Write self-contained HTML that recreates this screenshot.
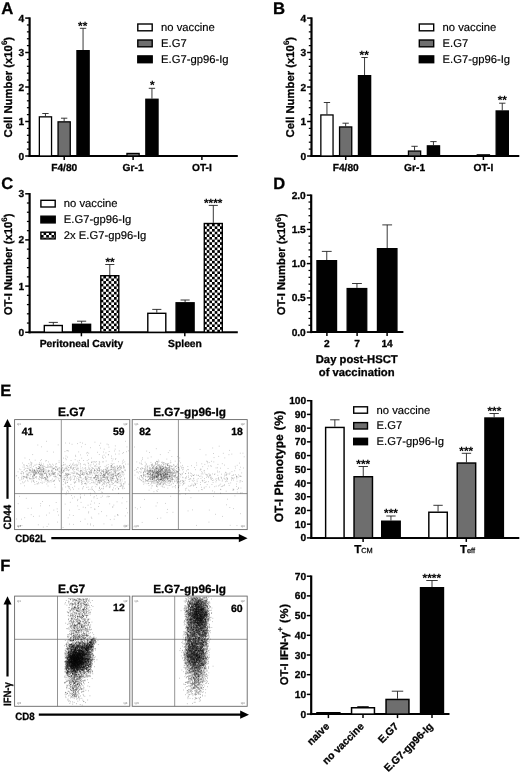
<!DOCTYPE html>
<html><head><meta charset="utf-8"><title>Figure</title>
<style>html,body{margin:0;padding:0;background:#fff;}svg{display:block;will-change:transform;}</style></head>
<body>
<svg width="520" height="772" viewBox="0 0 520 772" font-family='"Liberation Sans", sans-serif' fill="#000" text-rendering="geometricPrecision">
<defs><filter id="bl" x="-5%" y="-5%" width="110%" height="110%"><feGaussianBlur stdDeviation="0.3"/></filter>
<pattern id="chkP" width="5.3" height="5.3" patternUnits="userSpaceOnUse" x="98.05" y="275.85"><rect width="5.3" height="5.3" fill="#fff"/><rect width="2.65" height="2.65" fill="#000"/><rect x="2.65" y="2.65" width="2.65" height="2.65" fill="#000"/></pattern>
<pattern id="chkS" width="5.3" height="5.3" patternUnits="userSpaceOnUse" x="201.45" y="223.7"><rect width="5.3" height="5.3" fill="#fff"/><rect width="2.65" height="2.65" fill="#000"/><rect x="2.65" y="2.65" width="2.65" height="2.65" fill="#000"/></pattern>
<pattern id="chkL" width="5.3" height="5.3" patternUnits="userSpaceOnUse" x="38.25" y="232.4"><rect width="5.3" height="5.3" fill="#fff"/><rect width="2.65" height="2.65" fill="#000"/><rect x="2.65" y="2.65" width="2.65" height="2.65" fill="#000"/></pattern>
</defs>
<rect width="520" height="772" fill="#fff"/>
<g opacity="0.999">
<text x="1.20" y="13.60" font-size="16.7" font-weight="bold" stroke="#000" stroke-width=".3" text-anchor="start">A</text>
<line x1="29.60" y1="17.35" x2="29.60" y2="157.00" stroke="#000" stroke-width="2.2"/>
<line x1="25.20" y1="156.00" x2="29.60" y2="156.00" stroke="#000" stroke-width="1.5"/>
<text x="24.20" y="159.50" font-size="10.2" font-weight="bold" stroke="#000" stroke-width=".3" text-anchor="end">0</text>
<line x1="25.20" y1="121.50" x2="29.60" y2="121.50" stroke="#000" stroke-width="1.5"/>
<text x="24.20" y="125.00" font-size="10.2" font-weight="bold" stroke="#000" stroke-width=".3" text-anchor="end">1</text>
<line x1="25.20" y1="87.00" x2="29.60" y2="87.00" stroke="#000" stroke-width="1.5"/>
<text x="24.20" y="90.50" font-size="10.2" font-weight="bold" stroke="#000" stroke-width=".3" text-anchor="end">2</text>
<line x1="25.20" y1="52.50" x2="29.60" y2="52.50" stroke="#000" stroke-width="1.5"/>
<text x="24.20" y="56.00" font-size="10.2" font-weight="bold" stroke="#000" stroke-width=".3" text-anchor="end">3</text>
<line x1="25.20" y1="18.10" x2="29.60" y2="18.10" stroke="#000" stroke-width="1.5"/>
<text x="24.20" y="21.60" font-size="10.2" font-weight="bold" stroke="#000" stroke-width=".3" text-anchor="end">4</text>
<line x1="26.90" y1="149.10" x2="29.60" y2="149.10" stroke="#000" stroke-width="1.25"/>
<line x1="26.90" y1="142.20" x2="29.60" y2="142.20" stroke="#000" stroke-width="1.25"/>
<line x1="26.90" y1="135.30" x2="29.60" y2="135.30" stroke="#000" stroke-width="1.25"/>
<line x1="26.90" y1="128.40" x2="29.60" y2="128.40" stroke="#000" stroke-width="1.25"/>
<line x1="26.90" y1="114.60" x2="29.60" y2="114.60" stroke="#000" stroke-width="1.25"/>
<line x1="26.90" y1="107.70" x2="29.60" y2="107.70" stroke="#000" stroke-width="1.25"/>
<line x1="26.90" y1="100.80" x2="29.60" y2="100.80" stroke="#000" stroke-width="1.25"/>
<line x1="26.90" y1="93.90" x2="29.60" y2="93.90" stroke="#000" stroke-width="1.25"/>
<line x1="26.90" y1="80.10" x2="29.60" y2="80.10" stroke="#000" stroke-width="1.25"/>
<line x1="26.90" y1="73.20" x2="29.60" y2="73.20" stroke="#000" stroke-width="1.25"/>
<line x1="26.90" y1="66.30" x2="29.60" y2="66.30" stroke="#000" stroke-width="1.25"/>
<line x1="26.90" y1="59.40" x2="29.60" y2="59.40" stroke="#000" stroke-width="1.25"/>
<line x1="26.90" y1="45.62" x2="29.60" y2="45.62" stroke="#000" stroke-width="1.25"/>
<line x1="26.90" y1="38.74" x2="29.60" y2="38.74" stroke="#000" stroke-width="1.25"/>
<line x1="26.90" y1="31.86" x2="29.60" y2="31.86" stroke="#000" stroke-width="1.25"/>
<line x1="26.90" y1="24.98" x2="29.60" y2="24.98" stroke="#000" stroke-width="1.25"/>
<line x1="28.50" y1="156.00" x2="237.80" y2="156.00" stroke="#000" stroke-width="2.0"/>
<line x1="64.20" y1="156.00" x2="64.20" y2="160.00" stroke="#000" stroke-width="1.5"/>
<line x1="133.10" y1="156.00" x2="133.10" y2="160.00" stroke="#000" stroke-width="1.5"/>
<line x1="201.90" y1="156.00" x2="201.90" y2="160.00" stroke="#000" stroke-width="1.5"/>
<text x="64.20" y="170.60" font-size="10.2" font-weight="bold" stroke="#000" stroke-width=".3" text-anchor="middle">F4/80</text>
<text x="133.10" y="170.60" font-size="10.2" font-weight="bold" stroke="#000" stroke-width=".3" text-anchor="middle">Gr-1</text>
<text x="201.90" y="170.60" font-size="10.2" font-weight="bold" stroke="#000" stroke-width=".3" text-anchor="middle">OT-I</text>
<line x1="45.45" y1="116.20" x2="45.45" y2="113.50" stroke="#222" stroke-width="0.9"/>
<line x1="42.28" y1="113.50" x2="48.62" y2="113.50" stroke="#222" stroke-width="0.9"/>
<rect x="39.35" y="116.85" width="12.20" height="39.15" fill="#fff" stroke="#000" stroke-width="1.3"/>
<line x1="64.15" y1="121.20" x2="64.15" y2="118.20" stroke="#222" stroke-width="0.9"/>
<line x1="60.98" y1="118.20" x2="67.32" y2="118.20" stroke="#222" stroke-width="0.9"/>
<rect x="58.05" y="121.85" width="12.20" height="34.15" fill="#6e6e6e" stroke="#000" stroke-width="1.3"/>
<line x1="83.05" y1="50.00" x2="83.05" y2="28.30" stroke="#222" stroke-width="0.9"/>
<line x1="79.88" y1="28.30" x2="86.22" y2="28.30" stroke="#222" stroke-width="0.9"/>
<rect x="76.95" y="50.65" width="12.20" height="105.35" fill="#000" stroke="#000" stroke-width="1.3"/>
<rect x="126.95" y="153.45" width="12.20" height="2.55" fill="#6e6e6e" stroke="#000" stroke-width="1.3"/>
<line x1="151.95" y1="98.60" x2="151.95" y2="88.30" stroke="#222" stroke-width="0.9"/>
<line x1="148.78" y1="88.30" x2="155.12" y2="88.30" stroke="#222" stroke-width="0.9"/>
<rect x="145.85" y="99.25" width="12.20" height="56.75" fill="#000" stroke="#000" stroke-width="1.3"/>
<text x="82.70" y="29.70" font-size="11.8" font-weight="bold" stroke="#000" stroke-width=".1" text-anchor="middle">**</text>
<text x="152.20" y="89.00" font-size="11.8" font-weight="bold" stroke="#000" stroke-width=".1" text-anchor="middle">*</text>
<rect x="137.80" y="24.00" width="14.40" height="6.80" fill="#fff" stroke="#000" stroke-width="1.4"/>
<text x="161.00" y="31.00" font-size="11.25" stroke="#000" stroke-width=".18" text-anchor="start">no vaccine</text>
<rect x="137.80" y="40.00" width="14.40" height="6.80" fill="#6e6e6e" stroke="#000" stroke-width="1.4"/>
<text x="161.00" y="47.00" font-size="11.25" stroke="#000" stroke-width=".18" text-anchor="start">E.G7</text>
<rect x="137.80" y="55.90" width="14.40" height="6.80" fill="#000" stroke="#000" stroke-width="1.4"/>
<text x="161.00" y="62.90" font-size="11.25" stroke="#000" stroke-width=".18" text-anchor="start">E.G7-gp96-Ig</text>
<text x="11.80" y="137.40" font-size="11.3" font-weight="bold" stroke="#000" stroke-width=".3" text-anchor="start" transform="rotate(-90 11.80 137.40)">Cell Number (x10<tspan font-size="8" dy="-4.6" stroke-width=".12">6</tspan><tspan dy="4.6">)</tspan></text>
<text x="273.10" y="13.60" font-size="16.7" font-weight="bold" stroke="#000" stroke-width=".3" text-anchor="start">B</text>
<line x1="311.50" y1="17.35" x2="311.50" y2="157.00" stroke="#000" stroke-width="2.2"/>
<line x1="307.10" y1="156.00" x2="311.50" y2="156.00" stroke="#000" stroke-width="1.5"/>
<text x="306.10" y="159.50" font-size="10.2" font-weight="bold" stroke="#000" stroke-width=".3" text-anchor="end">0</text>
<line x1="307.10" y1="121.50" x2="311.50" y2="121.50" stroke="#000" stroke-width="1.5"/>
<text x="306.10" y="125.00" font-size="10.2" font-weight="bold" stroke="#000" stroke-width=".3" text-anchor="end">1</text>
<line x1="307.10" y1="87.00" x2="311.50" y2="87.00" stroke="#000" stroke-width="1.5"/>
<text x="306.10" y="90.50" font-size="10.2" font-weight="bold" stroke="#000" stroke-width=".3" text-anchor="end">2</text>
<line x1="307.10" y1="52.50" x2="311.50" y2="52.50" stroke="#000" stroke-width="1.5"/>
<text x="306.10" y="56.00" font-size="10.2" font-weight="bold" stroke="#000" stroke-width=".3" text-anchor="end">3</text>
<line x1="307.10" y1="18.10" x2="311.50" y2="18.10" stroke="#000" stroke-width="1.5"/>
<text x="306.10" y="21.60" font-size="10.2" font-weight="bold" stroke="#000" stroke-width=".3" text-anchor="end">4</text>
<line x1="308.80" y1="149.10" x2="311.50" y2="149.10" stroke="#000" stroke-width="1.25"/>
<line x1="308.80" y1="142.20" x2="311.50" y2="142.20" stroke="#000" stroke-width="1.25"/>
<line x1="308.80" y1="135.30" x2="311.50" y2="135.30" stroke="#000" stroke-width="1.25"/>
<line x1="308.80" y1="128.40" x2="311.50" y2="128.40" stroke="#000" stroke-width="1.25"/>
<line x1="308.80" y1="114.60" x2="311.50" y2="114.60" stroke="#000" stroke-width="1.25"/>
<line x1="308.80" y1="107.70" x2="311.50" y2="107.70" stroke="#000" stroke-width="1.25"/>
<line x1="308.80" y1="100.80" x2="311.50" y2="100.80" stroke="#000" stroke-width="1.25"/>
<line x1="308.80" y1="93.90" x2="311.50" y2="93.90" stroke="#000" stroke-width="1.25"/>
<line x1="308.80" y1="80.10" x2="311.50" y2="80.10" stroke="#000" stroke-width="1.25"/>
<line x1="308.80" y1="73.20" x2="311.50" y2="73.20" stroke="#000" stroke-width="1.25"/>
<line x1="308.80" y1="66.30" x2="311.50" y2="66.30" stroke="#000" stroke-width="1.25"/>
<line x1="308.80" y1="59.40" x2="311.50" y2="59.40" stroke="#000" stroke-width="1.25"/>
<line x1="308.80" y1="45.62" x2="311.50" y2="45.62" stroke="#000" stroke-width="1.25"/>
<line x1="308.80" y1="38.74" x2="311.50" y2="38.74" stroke="#000" stroke-width="1.25"/>
<line x1="308.80" y1="31.86" x2="311.50" y2="31.86" stroke="#000" stroke-width="1.25"/>
<line x1="308.80" y1="24.98" x2="311.50" y2="24.98" stroke="#000" stroke-width="1.25"/>
<line x1="310.40" y1="156.00" x2="519.30" y2="156.00" stroke="#000" stroke-width="2.0"/>
<line x1="345.70" y1="156.00" x2="345.70" y2="160.00" stroke="#000" stroke-width="1.5"/>
<line x1="414.60" y1="156.00" x2="414.60" y2="160.00" stroke="#000" stroke-width="1.5"/>
<line x1="483.40" y1="156.00" x2="483.40" y2="160.00" stroke="#000" stroke-width="1.5"/>
<text x="345.70" y="170.60" font-size="10.2" font-weight="bold" stroke="#000" stroke-width=".3" text-anchor="middle">F4/80</text>
<text x="414.60" y="170.60" font-size="10.2" font-weight="bold" stroke="#000" stroke-width=".3" text-anchor="middle">Gr-1</text>
<text x="483.40" y="170.60" font-size="10.2" font-weight="bold" stroke="#000" stroke-width=".3" text-anchor="middle">OT-I</text>
<line x1="326.95" y1="114.30" x2="326.95" y2="102.50" stroke="#222" stroke-width="0.9"/>
<line x1="323.78" y1="102.50" x2="330.12" y2="102.50" stroke="#222" stroke-width="0.9"/>
<rect x="320.85" y="114.95" width="12.20" height="41.05" fill="#fff" stroke="#000" stroke-width="1.3"/>
<line x1="345.65" y1="126.30" x2="345.65" y2="123.20" stroke="#222" stroke-width="0.9"/>
<line x1="342.48" y1="123.20" x2="348.82" y2="123.20" stroke="#222" stroke-width="0.9"/>
<rect x="339.55" y="126.95" width="12.20" height="29.05" fill="#6e6e6e" stroke="#000" stroke-width="1.3"/>
<line x1="364.55" y1="75.00" x2="364.55" y2="57.50" stroke="#222" stroke-width="0.9"/>
<line x1="361.38" y1="57.50" x2="367.72" y2="57.50" stroke="#222" stroke-width="0.9"/>
<rect x="358.45" y="75.65" width="12.20" height="80.35" fill="#000" stroke="#000" stroke-width="1.3"/>
<line x1="414.55" y1="150.40" x2="414.55" y2="146.30" stroke="#222" stroke-width="0.9"/>
<line x1="411.38" y1="146.30" x2="417.72" y2="146.30" stroke="#222" stroke-width="0.9"/>
<rect x="408.45" y="151.05" width="12.20" height="4.95" fill="#6e6e6e" stroke="#000" stroke-width="1.3"/>
<line x1="433.45" y1="145.20" x2="433.45" y2="141.60" stroke="#222" stroke-width="0.9"/>
<line x1="430.28" y1="141.60" x2="436.62" y2="141.60" stroke="#222" stroke-width="0.9"/>
<rect x="427.35" y="145.85" width="12.20" height="10.15" fill="#000" stroke="#000" stroke-width="1.3"/>
<rect x="477.25" y="154.85" width="12.20" height="1.15" fill="#6e6e6e" stroke="#000" stroke-width="1.3"/>
<line x1="502.25" y1="110.30" x2="502.25" y2="103.20" stroke="#222" stroke-width="0.9"/>
<line x1="499.08" y1="103.20" x2="505.42" y2="103.20" stroke="#222" stroke-width="0.9"/>
<rect x="496.15" y="110.95" width="12.20" height="45.05" fill="#000" stroke="#000" stroke-width="1.3"/>
<text x="364.20" y="58.70" font-size="11.8" font-weight="bold" stroke="#000" stroke-width=".1" text-anchor="middle">**</text>
<text x="502.30" y="103.90" font-size="11.8" font-weight="bold" stroke="#000" stroke-width=".1" text-anchor="middle">**</text>
<rect x="419.30" y="24.00" width="14.40" height="6.80" fill="#fff" stroke="#000" stroke-width="1.4"/>
<text x="442.50" y="31.00" font-size="11.25" stroke="#000" stroke-width=".18" text-anchor="start">no vaccine</text>
<rect x="419.30" y="40.00" width="14.40" height="6.80" fill="#6e6e6e" stroke="#000" stroke-width="1.4"/>
<text x="442.50" y="47.00" font-size="11.25" stroke="#000" stroke-width=".18" text-anchor="start">E.G7</text>
<rect x="419.30" y="55.90" width="14.40" height="6.80" fill="#000" stroke="#000" stroke-width="1.4"/>
<text x="442.50" y="62.90" font-size="11.25" stroke="#000" stroke-width=".18" text-anchor="start">E.G7-gp96-Ig</text>
<text x="293.90" y="137.40" font-size="11.3" font-weight="bold" stroke="#000" stroke-width=".3" text-anchor="start" transform="rotate(-90 293.90 137.40)">Cell Number (x10<tspan font-size="8" dy="-4.6" stroke-width=".12">6</tspan><tspan dy="4.6">)</tspan></text>
<text x="1.30" y="189.40" font-size="16.5" font-weight="bold" stroke="#000" stroke-width=".3" text-anchor="start">C</text>
<line x1="29.60" y1="193.05" x2="29.60" y2="333.30" stroke="#000" stroke-width="2.2"/>
<line x1="25.20" y1="332.30" x2="29.60" y2="332.30" stroke="#000" stroke-width="1.5"/>
<text x="24.20" y="335.80" font-size="10.2" font-weight="bold" stroke="#000" stroke-width=".3" text-anchor="end">0</text>
<line x1="25.20" y1="286.10" x2="29.60" y2="286.10" stroke="#000" stroke-width="1.5"/>
<text x="24.20" y="289.60" font-size="10.2" font-weight="bold" stroke="#000" stroke-width=".3" text-anchor="end">1</text>
<line x1="25.20" y1="239.90" x2="29.60" y2="239.90" stroke="#000" stroke-width="1.5"/>
<text x="24.20" y="243.40" font-size="10.2" font-weight="bold" stroke="#000" stroke-width=".3" text-anchor="end">2</text>
<line x1="25.20" y1="193.80" x2="29.60" y2="193.80" stroke="#000" stroke-width="1.5"/>
<text x="24.20" y="197.30" font-size="10.2" font-weight="bold" stroke="#000" stroke-width=".3" text-anchor="end">3</text>
<line x1="26.90" y1="323.06" x2="29.60" y2="323.06" stroke="#000" stroke-width="1.25"/>
<line x1="26.90" y1="313.82" x2="29.60" y2="313.82" stroke="#000" stroke-width="1.25"/>
<line x1="26.90" y1="304.58" x2="29.60" y2="304.58" stroke="#000" stroke-width="1.25"/>
<line x1="26.90" y1="295.34" x2="29.60" y2="295.34" stroke="#000" stroke-width="1.25"/>
<line x1="26.90" y1="276.86" x2="29.60" y2="276.86" stroke="#000" stroke-width="1.25"/>
<line x1="26.90" y1="267.62" x2="29.60" y2="267.62" stroke="#000" stroke-width="1.25"/>
<line x1="26.90" y1="258.38" x2="29.60" y2="258.38" stroke="#000" stroke-width="1.25"/>
<line x1="26.90" y1="249.14" x2="29.60" y2="249.14" stroke="#000" stroke-width="1.25"/>
<line x1="26.90" y1="230.68" x2="29.60" y2="230.68" stroke="#000" stroke-width="1.25"/>
<line x1="26.90" y1="221.46" x2="29.60" y2="221.46" stroke="#000" stroke-width="1.25"/>
<line x1="26.90" y1="212.24" x2="29.60" y2="212.24" stroke="#000" stroke-width="1.25"/>
<line x1="26.90" y1="203.02" x2="29.60" y2="203.02" stroke="#000" stroke-width="1.25"/>
<line x1="28.50" y1="332.30" x2="237.80" y2="332.30" stroke="#000" stroke-width="2.0"/>
<line x1="81.40" y1="332.30" x2="81.40" y2="336.30" stroke="#000" stroke-width="1.5"/>
<line x1="184.80" y1="332.30" x2="184.80" y2="336.30" stroke="#000" stroke-width="1.5"/>
<text x="81.50" y="347.00" font-size="10.3" font-weight="bold" stroke="#000" stroke-width=".3" text-anchor="middle">Peritoneal Cavity</text>
<text x="185.00" y="347.00" font-size="10.3" font-weight="bold" stroke="#000" stroke-width=".3" text-anchor="middle">Spleen</text>
<line x1="53.30" y1="324.80" x2="53.30" y2="322.40" stroke="#222" stroke-width="0.9"/>
<line x1="48.74" y1="322.40" x2="57.86" y2="322.40" stroke="#222" stroke-width="0.9"/>
<rect x="44.30" y="325.50" width="18.00" height="6.80" fill="#fff" stroke="#000" stroke-width="1.4"/>
<line x1="81.60" y1="323.60" x2="81.60" y2="321.20" stroke="#222" stroke-width="0.9"/>
<line x1="77.04" y1="321.20" x2="86.16" y2="321.20" stroke="#222" stroke-width="0.9"/>
<rect x="72.60" y="324.30" width="18.00" height="8.00" fill="#000" stroke="#000" stroke-width="1.4"/>
<line x1="109.80" y1="275.00" x2="109.80" y2="264.50" stroke="#222" stroke-width="0.9"/>
<line x1="105.24" y1="264.50" x2="114.36" y2="264.50" stroke="#222" stroke-width="0.9"/>
<rect x="100.80" y="275.70" width="18.00" height="56.60" fill="url(#chkP)" stroke="#000" stroke-width="1.4"/>
<line x1="156.80" y1="312.60" x2="156.80" y2="309.40" stroke="#222" stroke-width="0.9"/>
<line x1="152.24" y1="309.40" x2="161.36" y2="309.40" stroke="#222" stroke-width="0.9"/>
<rect x="147.80" y="313.30" width="18.00" height="19.00" fill="#fff" stroke="#000" stroke-width="1.4"/>
<line x1="185.10" y1="302.10" x2="185.10" y2="300.00" stroke="#222" stroke-width="0.9"/>
<line x1="180.54" y1="300.00" x2="189.66" y2="300.00" stroke="#222" stroke-width="0.9"/>
<rect x="176.10" y="302.80" width="18.00" height="29.50" fill="#000" stroke="#000" stroke-width="1.4"/>
<line x1="213.30" y1="222.80" x2="213.30" y2="205.40" stroke="#222" stroke-width="0.9"/>
<line x1="208.74" y1="205.40" x2="217.86" y2="205.40" stroke="#222" stroke-width="0.9"/>
<rect x="204.30" y="223.50" width="18.00" height="108.80" fill="url(#chkS)" stroke="#000" stroke-width="1.4"/>
<text x="110.00" y="265.90" font-size="11.8" font-weight="bold" stroke="#000" stroke-width=".1" text-anchor="middle">**</text>
<text x="213.20" y="207.10" font-size="11.8" font-weight="bold" stroke="#000" stroke-width=".1" text-anchor="middle">****</text>
<rect x="40.90" y="200.30" width="14.30" height="6.70" fill="#fff" stroke="#000" stroke-width="1.4"/>
<text x="63.80" y="207.30" font-size="11.25" stroke="#000" stroke-width=".18" text-anchor="start">no vaccine</text>
<rect x="40.90" y="216.20" width="14.30" height="6.70" fill="#000" stroke="#000" stroke-width="1.4"/>
<text x="63.80" y="223.20" font-size="11.25" stroke="#000" stroke-width=".18" text-anchor="start">E.G7-gp96-Ig</text>
<rect x="40.90" y="232.20" width="14.30" height="6.70" fill="url(#chkL)" stroke="#000" stroke-width="1.4"/>
<text x="63.80" y="239.20" font-size="11.25" stroke="#000" stroke-width=".18" text-anchor="start">2x E.G7-gp96-Ig</text>
<text x="12.00" y="315.20" font-size="11.3" font-weight="bold" stroke="#000" stroke-width=".3" text-anchor="start" transform="rotate(-90 12.00 315.20)">OT-I Number (x10<tspan font-size="8" dy="-4.6" stroke-width=".12">6</tspan><tspan dy="4.6">)</tspan></text>
<text x="273.20" y="189.40" font-size="16.5" font-weight="bold" stroke="#000" stroke-width=".3" text-anchor="start">D</text>
<line x1="311.20" y1="194.45" x2="311.20" y2="333.10" stroke="#000" stroke-width="2.2"/>
<line x1="306.80" y1="332.10" x2="311.20" y2="332.10" stroke="#000" stroke-width="1.5"/>
<text x="305.80" y="335.60" font-size="10.2" font-weight="bold" stroke="#000" stroke-width=".3" text-anchor="end">0.0</text>
<line x1="306.80" y1="297.90" x2="311.20" y2="297.90" stroke="#000" stroke-width="1.5"/>
<text x="305.80" y="301.40" font-size="10.2" font-weight="bold" stroke="#000" stroke-width=".3" text-anchor="end">0.5</text>
<line x1="306.80" y1="263.60" x2="311.20" y2="263.60" stroke="#000" stroke-width="1.5"/>
<text x="305.80" y="267.10" font-size="10.2" font-weight="bold" stroke="#000" stroke-width=".3" text-anchor="end">1.0</text>
<line x1="306.80" y1="229.40" x2="311.20" y2="229.40" stroke="#000" stroke-width="1.5"/>
<text x="305.80" y="232.90" font-size="10.2" font-weight="bold" stroke="#000" stroke-width=".3" text-anchor="end">1.5</text>
<line x1="306.80" y1="195.20" x2="311.20" y2="195.20" stroke="#000" stroke-width="1.5"/>
<text x="305.80" y="198.70" font-size="10.2" font-weight="bold" stroke="#000" stroke-width=".3" text-anchor="end">2.0</text>
<line x1="308.50" y1="325.26" x2="311.20" y2="325.26" stroke="#000" stroke-width="1.25"/>
<line x1="308.50" y1="318.42" x2="311.20" y2="318.42" stroke="#000" stroke-width="1.25"/>
<line x1="308.50" y1="311.58" x2="311.20" y2="311.58" stroke="#000" stroke-width="1.25"/>
<line x1="308.50" y1="304.74" x2="311.20" y2="304.74" stroke="#000" stroke-width="1.25"/>
<line x1="308.50" y1="291.04" x2="311.20" y2="291.04" stroke="#000" stroke-width="1.25"/>
<line x1="308.50" y1="284.18" x2="311.20" y2="284.18" stroke="#000" stroke-width="1.25"/>
<line x1="308.50" y1="277.32" x2="311.20" y2="277.32" stroke="#000" stroke-width="1.25"/>
<line x1="308.50" y1="270.46" x2="311.20" y2="270.46" stroke="#000" stroke-width="1.25"/>
<line x1="308.50" y1="256.76" x2="311.20" y2="256.76" stroke="#000" stroke-width="1.25"/>
<line x1="308.50" y1="249.92" x2="311.20" y2="249.92" stroke="#000" stroke-width="1.25"/>
<line x1="308.50" y1="243.08" x2="311.20" y2="243.08" stroke="#000" stroke-width="1.25"/>
<line x1="308.50" y1="236.24" x2="311.20" y2="236.24" stroke="#000" stroke-width="1.25"/>
<line x1="308.50" y1="222.56" x2="311.20" y2="222.56" stroke="#000" stroke-width="1.25"/>
<line x1="308.50" y1="215.72" x2="311.20" y2="215.72" stroke="#000" stroke-width="1.25"/>
<line x1="308.50" y1="208.88" x2="311.20" y2="208.88" stroke="#000" stroke-width="1.25"/>
<line x1="308.50" y1="202.04" x2="311.20" y2="202.04" stroke="#000" stroke-width="1.25"/>
<line x1="310.10" y1="332.10" x2="403.40" y2="332.10" stroke="#000" stroke-width="2.0"/>
<line x1="326.90" y1="332.10" x2="326.90" y2="336.10" stroke="#000" stroke-width="1.5"/>
<line x1="357.10" y1="332.10" x2="357.10" y2="336.10" stroke="#000" stroke-width="1.5"/>
<line x1="387.10" y1="332.10" x2="387.10" y2="336.10" stroke="#000" stroke-width="1.5"/>
<text x="326.90" y="347.40" font-size="10.2" font-weight="bold" stroke="#000" stroke-width=".3" text-anchor="middle">2</text>
<text x="357.10" y="347.40" font-size="10.2" font-weight="bold" stroke="#000" stroke-width=".3" text-anchor="middle">7</text>
<text x="387.10" y="347.40" font-size="10.2" font-weight="bold" stroke="#000" stroke-width=".3" text-anchor="middle">14</text>
<line x1="326.75" y1="260.00" x2="326.75" y2="251.40" stroke="#222" stroke-width="0.9"/>
<line x1="321.84" y1="251.40" x2="331.66" y2="251.40" stroke="#222" stroke-width="0.9"/>
<rect x="316.95" y="260.65" width="19.60" height="71.45" fill="#000" stroke="#000" stroke-width="1.3"/>
<line x1="356.95" y1="287.90" x2="356.95" y2="283.50" stroke="#222" stroke-width="0.9"/>
<line x1="352.04" y1="283.50" x2="361.86" y2="283.50" stroke="#222" stroke-width="0.9"/>
<rect x="347.15" y="288.55" width="19.60" height="43.55" fill="#000" stroke="#000" stroke-width="1.3"/>
<line x1="387.20" y1="248.00" x2="387.20" y2="224.90" stroke="#222" stroke-width="0.9"/>
<line x1="382.31" y1="224.90" x2="392.09" y2="224.90" stroke="#222" stroke-width="0.9"/>
<rect x="377.45" y="248.65" width="19.50" height="83.45" fill="#000" stroke="#000" stroke-width="1.3"/>
<text x="356.70" y="363.40" font-size="11.25" font-weight="bold" stroke="#000" stroke-width=".3" text-anchor="middle">Day post-HSCT</text>
<text x="356.70" y="376.30" font-size="11.25" font-weight="bold" stroke="#000" stroke-width=".3" text-anchor="middle">of vaccination</text>
<text x="285.50" y="315.20" font-size="11.3" font-weight="bold" stroke="#000" stroke-width=".3" text-anchor="start" transform="rotate(-90 285.50 315.20)">OT-I Number (x10<tspan font-size="8" dy="-4.6" stroke-width=".12">6</tspan><tspan dy="4.6">)</tspan></text>
<line x1="311.30" y1="400.00" x2="311.30" y2="538.90" stroke="#000" stroke-width="2.2"/>
<line x1="306.90" y1="537.90" x2="311.30" y2="537.90" stroke="#000" stroke-width="1.5"/>
<text x="306.20" y="541.40" font-size="10.2" font-weight="bold" stroke="#000" stroke-width=".3" text-anchor="end">0</text>
<line x1="306.90" y1="524.18" x2="311.30" y2="524.18" stroke="#000" stroke-width="1.5"/>
<text x="306.20" y="527.68" font-size="10.2" font-weight="bold" stroke="#000" stroke-width=".3" text-anchor="end">10</text>
<line x1="306.90" y1="510.46" x2="311.30" y2="510.46" stroke="#000" stroke-width="1.5"/>
<text x="306.20" y="513.96" font-size="10.2" font-weight="bold" stroke="#000" stroke-width=".3" text-anchor="end">20</text>
<line x1="306.90" y1="496.74" x2="311.30" y2="496.74" stroke="#000" stroke-width="1.5"/>
<text x="306.20" y="500.24" font-size="10.2" font-weight="bold" stroke="#000" stroke-width=".3" text-anchor="end">30</text>
<line x1="306.90" y1="483.02" x2="311.30" y2="483.02" stroke="#000" stroke-width="1.5"/>
<text x="306.20" y="486.52" font-size="10.2" font-weight="bold" stroke="#000" stroke-width=".3" text-anchor="end">40</text>
<line x1="306.90" y1="469.30" x2="311.30" y2="469.30" stroke="#000" stroke-width="1.5"/>
<text x="306.20" y="472.80" font-size="10.2" font-weight="bold" stroke="#000" stroke-width=".3" text-anchor="end">50</text>
<line x1="306.90" y1="455.58" x2="311.30" y2="455.58" stroke="#000" stroke-width="1.5"/>
<text x="306.20" y="459.08" font-size="10.2" font-weight="bold" stroke="#000" stroke-width=".3" text-anchor="end">60</text>
<line x1="306.90" y1="441.86" x2="311.30" y2="441.86" stroke="#000" stroke-width="1.5"/>
<text x="306.20" y="445.36" font-size="10.2" font-weight="bold" stroke="#000" stroke-width=".3" text-anchor="end">70</text>
<line x1="306.90" y1="428.14" x2="311.30" y2="428.14" stroke="#000" stroke-width="1.5"/>
<text x="306.20" y="431.64" font-size="10.2" font-weight="bold" stroke="#000" stroke-width=".3" text-anchor="end">80</text>
<line x1="306.90" y1="414.42" x2="311.30" y2="414.42" stroke="#000" stroke-width="1.5"/>
<text x="306.20" y="417.92" font-size="10.2" font-weight="bold" stroke="#000" stroke-width=".3" text-anchor="end">90</text>
<line x1="306.90" y1="400.70" x2="311.30" y2="400.70" stroke="#000" stroke-width="1.5"/>
<text x="306.20" y="404.20" font-size="10.2" font-weight="bold" stroke="#000" stroke-width=".3" text-anchor="end">100</text>
<line x1="310.20" y1="537.90" x2="519.30" y2="537.90" stroke="#000" stroke-width="2.0"/>
<line x1="363.10" y1="537.90" x2="363.10" y2="541.90" stroke="#000" stroke-width="1.5"/>
<line x1="466.30" y1="537.90" x2="466.30" y2="541.90" stroke="#000" stroke-width="1.5"/>
<line x1="334.85" y1="426.70" x2="334.85" y2="419.80" stroke="#222" stroke-width="0.9"/>
<line x1="330.17" y1="419.80" x2="339.53" y2="419.80" stroke="#222" stroke-width="0.9"/>
<rect x="325.63" y="427.43" width="18.45" height="110.47" fill="#fff" stroke="#000" stroke-width="1.45"/>
<line x1="363.25" y1="476.00" x2="363.25" y2="466.50" stroke="#222" stroke-width="0.9"/>
<line x1="358.57" y1="466.50" x2="367.93" y2="466.50" stroke="#222" stroke-width="0.9"/>
<rect x="354.03" y="476.73" width="18.45" height="61.17" fill="#6e6e6e" stroke="#000" stroke-width="1.45"/>
<line x1="390.95" y1="520.50" x2="390.95" y2="516.00" stroke="#222" stroke-width="0.9"/>
<line x1="386.27" y1="516.00" x2="395.63" y2="516.00" stroke="#222" stroke-width="0.9"/>
<rect x="381.73" y="521.23" width="18.45" height="16.67" fill="#000" stroke="#000" stroke-width="1.45"/>
<line x1="438.05" y1="511.50" x2="438.05" y2="505.30" stroke="#222" stroke-width="0.9"/>
<line x1="433.37" y1="505.30" x2="442.73" y2="505.30" stroke="#222" stroke-width="0.9"/>
<rect x="428.83" y="512.23" width="18.45" height="25.67" fill="#fff" stroke="#000" stroke-width="1.45"/>
<line x1="466.45" y1="462.30" x2="466.45" y2="453.30" stroke="#222" stroke-width="0.9"/>
<line x1="461.77" y1="453.30" x2="471.13" y2="453.30" stroke="#222" stroke-width="0.9"/>
<rect x="457.23" y="463.03" width="18.45" height="74.87" fill="#6e6e6e" stroke="#000" stroke-width="1.45"/>
<line x1="494.15" y1="417.30" x2="494.15" y2="413.50" stroke="#222" stroke-width="0.9"/>
<line x1="489.47" y1="413.50" x2="498.83" y2="413.50" stroke="#222" stroke-width="0.9"/>
<rect x="484.93" y="418.03" width="18.45" height="119.87" fill="#000" stroke="#000" stroke-width="1.45"/>
<text x="363.20" y="467.70" font-size="11.8" font-weight="bold" stroke="#000" stroke-width=".1" text-anchor="middle">***</text>
<text x="391.00" y="517.00" font-size="11.8" font-weight="bold" stroke="#000" stroke-width=".1" text-anchor="middle">***</text>
<text x="466.20" y="454.50" font-size="11.8" font-weight="bold" stroke="#000" stroke-width=".1" text-anchor="middle">***</text>
<text x="494.40" y="415.00" font-size="11.8" font-weight="bold" stroke="#000" stroke-width=".1" text-anchor="middle">***</text>
<rect x="353.70" y="406.80" width="13.80" height="6.40" fill="#fff" stroke="#000" stroke-width="1.4"/>
<text x="376.50" y="413.60" font-size="11.25" stroke="#000" stroke-width=".18" text-anchor="start">no vaccine</text>
<rect x="353.70" y="422.60" width="13.80" height="6.40" fill="#6e6e6e" stroke="#000" stroke-width="1.4"/>
<text x="376.50" y="429.40" font-size="11.25" stroke="#000" stroke-width=".18" text-anchor="start">E.G7</text>
<rect x="353.70" y="438.30" width="13.80" height="6.40" fill="#000" stroke="#000" stroke-width="1.4"/>
<text x="376.50" y="445.10" font-size="11.25" stroke="#000" stroke-width=".18" text-anchor="start">E.G7-gp96-Ig</text>
<text x="354.20" y="553.30" font-size="11.5" font-weight="bold" stroke="#000" stroke-width=".3" text-anchor="start">T<tspan font-size="7.4" font-weight="normal" stroke="#000" stroke-width="0.25">CM</tspan></text>
<text x="459.90" y="553.30" font-size="11.5" font-weight="bold" stroke="#000" stroke-width=".3" text-anchor="start">T<tspan font-size="7.4" font-weight="normal" stroke="#000" stroke-width="0.25">eff</tspan></text>
<text x="282.90" y="522.20" font-size="12.0" font-weight="bold" stroke="#000" stroke-width=".3" text-anchor="start" transform="rotate(-90 282.90 522.20)">OT-I Phenotype<tspan letter-spacing="0.5"> (%)</tspan></text>
<line x1="311.20" y1="575.45" x2="311.20" y2="715.10" stroke="#000" stroke-width="2.2"/>
<line x1="306.80" y1="714.10" x2="311.20" y2="714.10" stroke="#000" stroke-width="1.5"/>
<text x="306.20" y="717.60" font-size="10.2" font-weight="bold" stroke="#000" stroke-width=".3" text-anchor="end">0</text>
<line x1="306.80" y1="694.40" x2="311.20" y2="694.40" stroke="#000" stroke-width="1.5"/>
<text x="306.20" y="697.90" font-size="10.2" font-weight="bold" stroke="#000" stroke-width=".3" text-anchor="end">10</text>
<line x1="306.80" y1="674.70" x2="311.20" y2="674.70" stroke="#000" stroke-width="1.5"/>
<text x="306.20" y="678.20" font-size="10.2" font-weight="bold" stroke="#000" stroke-width=".3" text-anchor="end">20</text>
<line x1="306.80" y1="655.00" x2="311.20" y2="655.00" stroke="#000" stroke-width="1.5"/>
<text x="306.20" y="658.50" font-size="10.2" font-weight="bold" stroke="#000" stroke-width=".3" text-anchor="end">30</text>
<line x1="306.80" y1="635.30" x2="311.20" y2="635.30" stroke="#000" stroke-width="1.5"/>
<text x="306.20" y="638.80" font-size="10.2" font-weight="bold" stroke="#000" stroke-width=".3" text-anchor="end">40</text>
<line x1="306.80" y1="615.60" x2="311.20" y2="615.60" stroke="#000" stroke-width="1.5"/>
<text x="306.20" y="619.10" font-size="10.2" font-weight="bold" stroke="#000" stroke-width=".3" text-anchor="end">50</text>
<line x1="306.80" y1="595.90" x2="311.20" y2="595.90" stroke="#000" stroke-width="1.5"/>
<text x="306.20" y="599.40" font-size="10.2" font-weight="bold" stroke="#000" stroke-width=".3" text-anchor="end">60</text>
<line x1="306.80" y1="576.20" x2="311.20" y2="576.20" stroke="#000" stroke-width="1.5"/>
<text x="306.20" y="579.70" font-size="10.2" font-weight="bold" stroke="#000" stroke-width=".3" text-anchor="end">70</text>
<line x1="310.10" y1="714.10" x2="449.50" y2="714.10" stroke="#000" stroke-width="2.0"/>
<line x1="328.40" y1="714.10" x2="328.40" y2="718.10" stroke="#000" stroke-width="1.5"/>
<line x1="363.00" y1="714.10" x2="363.00" y2="718.10" stroke="#000" stroke-width="1.5"/>
<line x1="397.50" y1="714.10" x2="397.50" y2="718.10" stroke="#000" stroke-width="1.5"/>
<line x1="432.00" y1="714.10" x2="432.00" y2="718.10" stroke="#000" stroke-width="1.5"/>
<rect x="316.95" y="712.75" width="22.90" height="1.35" fill="#000" stroke="#000" stroke-width="1.5"/>
<line x1="363.00" y1="707.00" x2="363.00" y2="706.50" stroke="#222" stroke-width="0.9"/>
<line x1="357.27" y1="706.50" x2="368.73" y2="706.50" stroke="#222" stroke-width="0.9"/>
<rect x="351.55" y="707.75" width="22.90" height="6.35" fill="#fff" stroke="#000" stroke-width="1.5"/>
<line x1="397.50" y1="698.70" x2="397.50" y2="691.20" stroke="#222" stroke-width="0.9"/>
<line x1="391.77" y1="691.20" x2="403.23" y2="691.20" stroke="#222" stroke-width="0.9"/>
<rect x="386.05" y="699.45" width="22.90" height="14.65" fill="#6e6e6e" stroke="#000" stroke-width="1.5"/>
<line x1="432.00" y1="587.00" x2="432.00" y2="580.50" stroke="#222" stroke-width="0.9"/>
<line x1="426.27" y1="580.50" x2="437.73" y2="580.50" stroke="#222" stroke-width="0.9"/>
<rect x="420.55" y="587.75" width="22.90" height="126.35" fill="#000" stroke="#000" stroke-width="1.5"/>
<text x="431.80" y="582.00" font-size="11.8" font-weight="bold" stroke="#000" stroke-width=".1" text-anchor="middle">****</text>
<text x="330.00" y="727.00" font-size="10.4" font-weight="bold" stroke="#000" stroke-width=".3" text-anchor="end" transform="rotate(-45 330.00 727.00)">naive</text>
<text x="364.60" y="727.00" font-size="10.4" font-weight="bold" stroke="#000" stroke-width=".3" text-anchor="end" transform="rotate(-45 364.60 727.00)">no vaccine</text>
<text x="399.10" y="727.00" font-size="10.4" font-weight="bold" stroke="#000" stroke-width=".3" text-anchor="end" transform="rotate(-45 399.10 727.00)">E.G7</text>
<text x="433.60" y="727.00" font-size="10.4" font-weight="bold" stroke="#000" stroke-width=".3" text-anchor="end" transform="rotate(-45 433.60 727.00)">E.G7-gp96-Ig</text>
<text x="287.90" y="685.20" font-size="11.3" font-weight="bold" stroke="#000" stroke-width=".3" text-anchor="start" transform="rotate(-90 287.90 685.20)">OT-I IFN-&#947;<tspan font-size="8.5" dy="-4.4" stroke-width=".12">+</tspan><tspan dy="4.4" letter-spacing="0.7"> (%)</tspan></text>
<text x="0.20" y="396.20" font-size="16.5" font-weight="bold" stroke="#000" stroke-width=".3" text-anchor="start">E</text>
<rect x="14.60" y="419.60" width="115.20" height="110.00" fill="#fff" stroke="#666" stroke-width="0.9"/>
<line x1="61.30" y1="419.60" x2="61.30" y2="529.60" stroke="#707070" stroke-width="0.75"/>
<line x1="14.60" y1="493.60" x2="129.80" y2="493.60" stroke="#707070" stroke-width="0.75"/>
<text x="17.00" y="425.00" font-size="3" fill="#777" text-anchor="start">Q1</text>
<text x="127.40" y="425.00" font-size="3" fill="#777" text-anchor="end">Q2</text>
<text x="17.00" y="527.40" font-size="3" fill="#777" text-anchor="start">Q3</text>
<text x="127.40" y="527.40" font-size="3" fill="#777" text-anchor="end">Q4</text>
<rect x="132.20" y="419.60" width="115.00" height="110.00" fill="#fff" stroke="#666" stroke-width="0.9"/>
<line x1="178.40" y1="419.60" x2="178.40" y2="529.60" stroke="#707070" stroke-width="0.75"/>
<line x1="132.20" y1="493.60" x2="247.20" y2="493.60" stroke="#707070" stroke-width="0.75"/>
<text x="134.60" y="425.00" font-size="3" fill="#777" text-anchor="start">Q1</text>
<text x="244.80" y="425.00" font-size="3" fill="#777" text-anchor="end">Q2</text>
<text x="134.60" y="527.40" font-size="3" fill="#777" text-anchor="start">Q3</text>
<text x="244.80" y="527.40" font-size="3" fill="#777" text-anchor="end">Q4</text>
<text x="71.60" y="416.30" font-size="12" font-weight="bold" stroke="#000" stroke-width=".3" text-anchor="middle">E.G7</text>
<text x="189.60" y="416.30" font-size="11.8" font-weight="bold" stroke="#000" stroke-width=".3" text-anchor="middle">E.G7-gp96-Ig</text>
<text x="21.80" y="434.70" font-size="10.4" font-weight="bold" stroke="#000" stroke-width=".3" text-anchor="start">41</text>
<text x="124.60" y="434.70" font-size="10.4" font-weight="bold" stroke="#000" stroke-width=".3" text-anchor="end">59</text>
<text x="139.20" y="434.70" font-size="10.4" font-weight="bold" stroke="#000" stroke-width=".3" text-anchor="start">82</text>
<text x="242.80" y="434.70" font-size="10.4" font-weight="bold" stroke="#000" stroke-width=".3" text-anchor="end">18</text>
<line x1="7.50" y1="423.90" x2="7.50" y2="498.80" stroke="#000" stroke-width="2.2"/>
<path d="M7.50 418.90 L11.50 427.10 L3.50 427.10Z" fill="#000"/>
<text x="0" y="0" font-size="10.6" font-weight="bold" stroke="#000" stroke-width=".3" text-anchor="start" transform="translate(11.30 529.40) rotate(-90) scale(0.9 1)">CD44</text>
<text x="0" y="0" font-size="10.6" font-weight="bold" stroke="#000" stroke-width=".3" text-anchor="start" transform="translate(15.20 542.30) scale(0.92 1)">CD62L</text>
<line x1="51.30" y1="538.20" x2="242.60" y2="538.20" stroke="#000" stroke-width="2.2"/>
<path d="M247.60 538.20 L238.80 534.10 L238.80 542.30Z" fill="#000"/>
<path d="M85.0 476.7h.7M113.3 469.3h.7M100.7 475.9h.7M43.4 468.2h.7M51.2 466.8h.7M110.8 463.4h.7M20.5 483.7h.7M105.4 471.7h.7M102.9 474.8h.7M68.7 473.3h.7M51.5 474.4h.7M49.0 473.8h.7M46.5 484.0h.7M66.3 467.8h.7M72.5 464.9h.7M77.6 467.9h.7M123.5 466.2h.7M102.4 477.6h.7M84.7 478.0h.7M122.9 468.2h.7M42.4 465.9h.7M36.7 471.5h.7M83.7 481.2h.7M24.6 458.0h.7M23.7 476.4h.7M73.5 467.6h.7M68.5 479.2h.7M115.4 467.6h.7M85.4 471.9h.7M73.5 465.2h.7M71.7 468.1h.7M45.7 481.1h.7M21.2 478.0h.7M40.0 471.3h.7M92.0 468.7h.7M40.9 463.1h.7M58.4 471.3h.7M20.4 473.3h.7M106.3 473.0h.7M36.1 473.0h.7M47.8 467.3h.7M111.6 473.1h.7M73.0 473.3h.7M108.1 480.6h.7M86.5 483.8h.7M97.1 472.7h.7M29.5 469.3h.7M76.3 473.1h.7M72.8 470.2h.7M110.6 469.4h.7M57.6 473.2h.7M82.2 467.8h.7M26.2 476.8h.7M60.3 472.9h.7M53.6 474.9h.7M35.6 472.5h.7M104.9 469.5h.7M59.5 468.3h.7M121.8 472.2h.7M81.4 470.5h.7M82.9 474.8h.7M86.4 473.5h.7M90.4 466.0h.7M35.7 473.9h.7M65.8 466.1h.7M44.9 470.1h.7M61.9 471.9h.7M30.1 462.1h.7M120.7 474.0h.7M42.4 474.3h.7M89.9 472.6h.7M51.2 471.2h.7M110.9 471.4h.7M88.9 468.1h.7M33.7 472.0h.7M107.9 470.5h.7M118.3 474.0h.7M114.0 466.9h.7M79.3 474.8h.7M35.1 474.3h.7M40.0 472.7h.7M116.5 471.1h.7M77.4 476.5h.7M38.8 464.3h.7M111.9 476.0h.7M86.7 474.8h.7M79.2 475.1h.7M59.1 475.6h.7M62.7 469.9h.7M44.9 472.1h.7M24.0 477.0h.7M111.1 475.9h.7M68.6 474.6h.7M77.0 465.2h.7M53.5 476.5h.7M98.1 479.9h.7M22.6 479.1h.7M58.7 474.8h.7M23.2 464.9h.7M32.8 478.7h.7M120.6 472.7h.7M88.4 459.6h.7M64.5 475.6h.7M74.5 465.3h.7M110.8 466.4h.7M55.8 470.0h.7M81.4 480.5h.7M91.1 471.5h.7M57.0 475.0h.7M74.0 483.1h.7M99.6 482.3h.7M114.6 472.9h.7M35.7 472.2h.7M117.1 466.6h.7M20.5 469.7h.7M98.3 475.8h.7M104.3 475.7h.7M34.2 474.1h.7M63.6 479.0h.7M104.8 469.3h.7M21.5 473.2h.7M85.4 477.5h.7M102.5 476.7h.7M73.4 479.4h.7M95.5 475.7h.7M43.5 471.8h.7M40.6 475.5h.7M57.8 468.0h.7M38.7 464.5h.7M56.0 476.7h.7M118.6 473.2h.7M79.6 475.2h.7M55.4 464.2h.7M48.2 471.5h.7M119.0 470.2h.7M66.2 468.7h.7M122.0 461.1h.7M73.6 471.7h.7M74.2 478.4h.7M113.2 475.6h.7M97.2 470.2h.7M80.4 473.4h.7M64.4 477.7h.7M111.3 458.3h.7M62.8 472.8h.7M116.0 476.5h.7M27.1 477.3h.7M64.7 482.9h.7M74.0 479.7h.7M118.9 475.2h.7M46.1 475.2h.7M103.8 477.8h.7M90.4 470.5h.7M94.6 473.3h.7M85.5 478.5h.7M121.0 484.3h.7M54.6 472.6h.7M61.4 473.2h.7M41.1 474.6h.7M25.3 480.9h.7M42.1 473.3h.7M115.2 481.6h.7M107.4 468.2h.7M31.7 472.5h.7M82.8 472.4h.7M69.8 477.8h.7M81.8 479.2h.7M88.6 465.2h.7M51.9 468.5h.7M120.0 475.4h.7M68.4 469.9h.7M85.3 465.1h.7M86.1 479.2h.7M39.1 476.2h.7M26.4 476.2h.7M62.8 470.9h.7M99.5 479.2h.7M104.8 472.2h.7M95.9 479.5h.7M31.8 468.5h.7M115.0 468.8h.7M103.4 474.6h.7M111.3 469.6h.7M74.4 477.2h.7M115.2 474.9h.7M24.9 468.4h.7M23.2 473.9h.7M22.1 471.6h.7M46.3 478.5h.7M45.9 470.0h.7M39.5 471.1h.7M79.0 480.2h.7M24.1 485.8h.7M81.4 484.5h.7M37.3 473.8h.7M90.5 474.7h.7M22.2 481.9h.7M52.3 472.8h.7M117.6 468.1h.7M76.0 474.1h.7M104.4 476.0h.7M88.4 468.9h.7M83.5 464.4h.7M39.9 465.6h.7M79.7 477.2h.7M24.1 469.3h.7M103.4 472.7h.7M119.8 474.7h.7M108.8 476.9h.7M25.3 471.7h.7M55.2 476.2h.7M53.1 468.6h.7M31.7 471.5h.7M85.2 467.9h.7M102.9 479.7h.7M52.6 473.4h.7M109.7 469.4h.7M102.9 471.6h.7M33.4 472.3h.7M99.8 477.4h.7M111.8 464.7h.7M40.5 467.8h.7M79.7 471.4h.7M86.4 487.4h.7M83.4 478.8h.7M30.0 472.9h.7M88.8 477.4h.7M85.7 484.8h.7M105.7 472.2h.7M103.6 471.5h.7M54.0 480.2h.7M95.1 476.2h.7M110.2 477.2h.7M112.9 470.7h.7M36.8 484.1h.7M22.8 482.9h.7M87.7 476.6h.7M42.3 477.3h.7M78.6 462.4h.7M118.3 477.0h.7M59.4 472.4h.7M46.3 475.9h.7M67.5 477.3h.7M88.4 471.6h.7M30.5 464.2h.7M59.6 475.5h.7M33.9 469.4h.7M88.9 471.7h.7M106.4 470.2h.7M59.2 471.6h.7M58.7 460.8h.7M76.1 480.2h.7M42.4 474.9h.7M45.7 479.6h.7M54.3 484.4h.7M67.6 473.6h.7M28.5 463.6h.7M98.3 468.6h.7M80.2 466.9h.7M51.2 470.7h.7M28.1 473.9h.7M99.4 462.5h.7M33.6 475.4h.7M33.9 465.2h.7M33.6 475.1h.7M28.5 472.9h.7M114.3 471.8h.7M48.0 473.1h.7M51.9 470.5h.7M106.6 470.1h.7M84.5 464.2h.7M39.5 473.3h.7M65.2 483.7h.7M111.9 484.4h.7M59.0 480.8h.7M93.9 477.4h.7M30.1 469.8h.7M95.6 481.4h.7M100.8 473.2h.7M105.9 473.1h.7M90.1 471.9h.7M58.6 474.0h.7M26.7 471.1h.7M74.0 473.0h.7M98.8 467.5h.7M39.8 471.4h.7M47.7 486.0h.7M75.8 473.1h.7M97.8 472.2h.7M113.2 476.4h.7M33.1 477.4h.7M39.2 467.4h.7M103.2 472.4h.7M87.0 478.6h.7M95.0 475.0h.7M123.7 474.2h.7M117.7 482.0h.7M107.7 469.8h.7M100.8 474.0h.7M61.1 470.6h.7M86.7 481.7h.7M39.2 462.8h.7M99.0 469.8h.7M98.8 470.6h.7M95.0 477.1h.7M66.3 476.8h.7M59.3 481.2h.7M63.7 464.8h.7M23.5 477.6h.7M107.8 471.9h.7M76.4 469.8h.7M60.3 476.5h.7M77.0 468.4h.7M95.1 462.1h.7M59.7 471.5h.7M106.4 465.3h.7M115.6 469.9h.7M60.3 475.5h.7M34.3 475.2h.7M99.1 482.2h.7M123.3 472.4h.7M35.4 465.1h.7M94.1 469.3h.7M105.8 468.4h.7M115.7 466.8h.7M32.8 475.9h.7M29.5 470.0h.7M122.7 462.6h.7M32.1 477.3h.7M38.4 472.9h.7M79.8 475.5h.7M66.4 474.1h.7M98.0 477.0h.7M39.8 473.7h.7M115.1 480.3h.7M42.6 475.8h.7M100.0 475.7h.7M27.0 475.8h.7M69.2 465.5h.7M23.4 472.6h.7M52.6 472.1h.7M52.5 474.6h.7M94.9 466.0h.7M67.3 482.5h.7M25.9 474.1h.7M123.5 466.8h.7M112.4 464.1h.7M115.3 472.0h.7M45.6 473.0h.7M61.0 469.5h.7M43.6 474.0h.7M33.0 470.0h.7M23.4 476.5h.7M72.3 469.5h.7M32.8 473.3h.7M38.3 478.9h.7M109.5 487.6h.7M70.4 468.0h.7M39.1 470.9h.7M89.7 468.9h.7M47.6 477.8h.7M74.8 467.2h.7M49.4 470.8h.7M73.7 473.3h.7M85.4 468.1h.7M75.8 468.2h.7M61.1 470.9h.7M102.2 461.9h.7M110.8 465.5h.7M38.7 471.2h.7M34.2 474.3h.7M31.8 472.5h.7M121.9 463.7h.7M117.9 470.9h.7M44.0 477.9h.7M120.9 476.6h.7M41.6 473.1h.7M72.7 468.6h.7M71.7 477.0h.7M115.2 470.3h.7M24.2 467.1h.7M52.8 469.1h.7M82.4 481.5h.7M26.9 474.7h.7M44.6 479.9h.7M68.4 470.9h.7M111.6 478.7h.7M99.1 470.2h.7M106.2 472.6h.7M99.2 487.2h.7M93.6 477.7h.7M108.4 470.7h.7M90.9 473.0h.7M96.5 475.3h.7M51.4 480.2h.7M37.4 470.8h.7M98.7 463.9h.7M37.2 472.0h.7M115.6 473.6h.7M82.1 474.1h.7M54.3 480.7h.7M117.4 475.2h.7M36.1 478.0h.7M73.5 467.4h.7M29.5 478.3h.7M120.4 485.0h.7M79.8 477.8h.7M103.6 474.9h.7M49.3 474.3h.7M103.4 483.3h.7M93.1 468.4h.7M86.9 472.9h.7M118.9 476.0h.7M65.1 477.6h.7M63.2 471.1h.7M92.0 475.2h.7M106.8 472.0h.7M54.8 474.2h.7M89.6 472.8h.7M41.7 467.2h.7M77.4 473.4h.7M100.0 478.3h.7M26.8 468.2h.7M95.7 472.2h.7M21.6 477.2h.7M119.7 467.6h.7M68.7 474.5h.7M62.5 467.7h.7M94.9 479.7h.7M74.4 486.2h.7M96.0 484.6h.7M28.8 472.3h.7M78.5 477.6h.7M78.0 474.2h.7M116.9 474.1h.7M24.1 482.0h.7M67.1 466.2h.7M85.6 479.3h.7M77.3 473.2h.7M27.7 481.2h.7M81.7 474.5h.7M43.1 469.8h.7M40.3 475.0h.7M111.4 477.5h.7M40.6 473.7h.7M67.2 476.2h.7M98.0 470.6h.7M93.6 461.8h.7M77.6 478.5h.7M103.9 477.3h.7M68.4 474.3h.7M84.5 473.9h.7M105.2 479.2h.7M90.5 471.0h.7M86.8 469.6h.7M62.2 472.5h.7M78.1 480.0h.7M61.2 465.9h.7M97.4 480.1h.7M59.6 470.0h.7M68.5 467.4h.7M98.6 480.4h.7M72.4 473.0h.7M55.2 466.3h.7M106.0 471.5h.7M59.6 478.6h.7M107.9 480.1h.7M101.7 471.2h.7M66.5 475.7h.7M94.1 477.4h.7M23.6 470.0h.7M60.5 475.5h.7M109.5 473.3h.7M80.3 470.6h.7M78.0 470.8h.7M89.1 473.9h.7M90.5 473.7h.7M80.7 470.4h.7M63.7 471.2h.7M39.1 479.6h.7M119.1 466.4h.7M122.5 487.7h.7M93.1 490.6h.7M91.3 477.2h.7M116.2 475.4h.7M80.3 464.9h.7M112.6 483.6h.7M80.1 497.3h.7M107.4 482.4h.7M83.0 486.5h.7M100.0 481.1h.7M120.3 469.6h.7M65.4 487.0h.7M112.9 467.7h.7M96.1 475.4h.7M85.9 479.1h.7M84.1 483.6h.7M66.4 480.1h.7M78.3 479.9h.7M101.3 471.3h.7M68.1 467.3h.7M104.2 477.5h.7M122.6 471.7h.7M123.8 467.2h.7M118.0 467.5h.7M112.8 473.3h.7M73.2 463.1h.7M123.1 466.9h.7M74.8 464.7h.7M116.8 478.4h.7M117.3 480.1h.7M101.2 492.1h.7M94.8 465.8h.7M74.6 471.9h.7M94.7 483.8h.7M80.3 475.4h.7M69.9 474.5h.7M70.1 489.8h.7M112.5 474.5h.7M120.1 468.3h.7M70.9 467.1h.7M62.8 479.5h.7M78.6 479.3h.7M70.5 466.7h.7M73.9 469.6h.7M98.7 481.0h.7M88.6 481.3h.7M89.0 472.2h.7M75.0 481.7h.7M103.9 481.3h.7M80.2 463.6h.7M87.1 474.7h.7M91.2 480.1h.7M119.0 472.7h.7M77.5 461.0h.7M107.3 474.9h.7M81.5 482.6h.7M118.3 488.9h.7M86.8 460.6h.7M93.8 496.6h.7M117.3 468.5h.7M104.4 484.2h.7M67.9 486.3h.7M70.6 484.4h.7M124.4 478.1h.7M63.8 468.3h.7M81.0 481.7h.7M122.4 471.6h.7M63.0 458.1h.7M72.2 498.2h.7M75.4 482.3h.7M67.4 490.6h.7M91.7 470.2h.7M99.3 488.0h.7M82.1 488.9h.7M68.8 488.7h.7M113.1 476.8h.7M112.7 468.0h.7M97.4 475.7h.7M70.7 460.5h.7M96.1 464.2h.7M101.7 477.7h.7M89.0 469.6h.7M116.4 475.8h.7M86.6 476.2h.7M94.2 491.5h.7M69.2 486.7h.7M97.5 476.7h.7M110.3 486.1h.7M108.1 471.2h.7M78.2 474.5h.7M124.5 483.8h.7M107.4 467.7h.7M88.7 474.9h.7M88.1 467.1h.7M111.1 477.9h.7M73.1 489.2h.7M102.3 471.4h.7M107.3 478.7h.7M94.5 470.3h.7M117.0 468.4h.7M91.5 467.7h.7M91.3 487.9h.7M79.9 494.7h.7M119.9 480.6h.7M81.9 471.6h.7M105.8 482.3h.7M87.8 474.5h.7M120.9 483.0h.7M121.7 479.2h.7M63.9 479.1h.7M124.7 481.6h.7M100.1 472.7h.7M66.7 474.0h.7M93.3 464.1h.7M65.1 473.7h.7M96.6 466.3h.7M73.7 475.9h.7M85.2 469.8h.7M81.2 477.8h.7M99.9 480.4h.7M113.8 466.3h.7M121.0 470.9h.7M82.7 469.9h.7M97.9 482.6h.7M62.4 489.8h.7M85.4 483.4h.7M122.5 474.4h.7M69.5 488.0h.7M116.8 465.6h.7M103.1 488.2h.7M80.5 472.1h.7M111.0 456.1h.7M80.2 496.9h.7M118.4 488.8h.7M67.2 469.3h.7M69.5 478.3h.7M109.3 475.4h.7M90.3 477.8h.7M71.3 465.9h.7M94.3 471.9h.7M80.7 480.5h.7M96.6 478.7h.7M108.9 486.0h.7M116.0 477.6h.7M65.7 494.6h.7M99.3 471.6h.7M124.0 478.9h.7M91.0 462.6h.7M110.5 467.6h.7M68.1 487.0h.7M117.0 469.9h.7M98.7 481.0h.7M118.0 476.5h.7M111.6 469.2h.7M116.8 474.4h.7M65.6 473.1h.7M107.1 473.3h.7M74.4 482.7h.7M78.7 481.9h.7M82.5 472.7h.7M99.3 470.2h.7M101.6 479.1h.7M120.7 476.2h.7M62.8 484.7h.7M74.2 496.9h.7M84.8 483.3h.7M113.5 476.7h.7M96.6 475.7h.7M94.3 470.6h.7M109.9 470.2h.7M103.3 469.5h.7M80.3 474.0h.7M67.5 473.8h.7M91.1 482.6h.7M117.5 474.0h.7M99.7 475.5h.7M65.4 467.9h.7M89.7 489.3h.7M86.2 480.8h.7M98.7 490.4h.7M99.0 483.0h.7M121.9 488.2h.7M83.3 475.1h.7M87.7 482.4h.7M100.7 497.3h.7M117.8 467.8h.7M106.5 485.8h.7M91.7 489.7h.7M113.3 480.2h.7M92.6 482.7h.7M122.7 486.6h.7M79.8 472.0h.7M70.0 480.1h.7M114.3 470.3h.7M80.7 471.8h.7M115.4 472.3h.7M100.4 475.9h.7M94.1 478.1h.7M67.5 480.5h.7M111.5 466.1h.7M66.2 492.2h.7M122.8 485.9h.7M117.2 482.6h.7M81.1 474.3h.7M70.1 476.3h.7M117.8 481.2h.7M92.2 480.2h.7M69.9 464.1h.7M93.4 482.7h.7M77.5 499.4h.7M87.7 462.8h.7M102.3 484.6h.7M119.7 479.8h.7M112.5 476.1h.7M72.1 487.6h.7M92.1 467.9h.7M93.0 478.3h.7M124.3 488.3h.7M67.5 475.5h.7M94.2 473.8h.7M119.6 477.9h.7M87.1 473.6h.7M78.5 488.9h.7M97.0 470.0h.7M82.2 483.7h.7M120.4 467.3h.7M67.3 482.2h.7M75.0 476.2h.7M67.3 457.1h.7M106.8 477.0h.7M80.5 468.8h.7M118.7 473.6h.7M118.3 488.9h.7M121.0 468.4h.7M78.1 468.8h.7M62.0 488.1h.7M86.4 477.9h.7M122.6 488.9h.7M110.1 479.5h.7M65.8 470.2h.7M106.3 476.5h.7M119.8 486.5h.7M123.0 484.3h.7M107.1 477.0h.7M116.4 477.4h.7M115.0 476.1h.7M84.6 472.5h.7M68.2 491.9h.7M107.8 477.1h.7M70.6 468.3h.7M86.2 473.3h.7M124.7 482.6h.7M97.3 481.9h.7M94.9 475.9h.7M121.7 471.8h.7M79.9 477.2h.7M125.0 464.1h.7M119.5 467.0h.7M84.9 483.2h.7M82.6 473.3h.7M70.0 479.9h.7M119.7 486.4h.7M73.7 482.0h.7M62.6 477.2h.7M118.1 493.4h.7M99.7 482.1h.7M104.3 474.3h.7M108.2 482.6h.7M64.7 480.1h.7M67.8 470.4h.7M93.5 477.6h.7M65.2 475.7h.7M93.8 461.8h.7M108.4 475.7h.7M103.4 474.8h.7M100.8 473.6h.7M64.9 464.3h.7M76.9 474.3h.7M118.5 476.7h.7M69.8 477.8h.7M95.6 468.2h.7M65.2 481.9h.7M121.2 467.6h.7M72.8 475.3h.7M87.8 487.1h.7M96.4 471.7h.7M107.3 473.1h.7M121.1 485.3h.7M108.4 474.0h.7M83.9 474.7h.7M66.7 478.7h.7M106.6 485.1h.7M123.3 460.0h.7M63.1 470.6h.7M110.8 469.2h.7M73.1 468.6h.7M91.0 470.4h.7M94.9 470.5h.7M100.7 479.3h.7M124.3 470.2h.7M105.3 477.9h.7M86.7 480.1h.7M107.0 471.4h.7M91.4 478.0h.7M88.0 489.6h.7M85.0 479.5h.7M93.1 472.1h.7M79.7 476.5h.7M77.3 470.0h.7M71.4 479.1h.7M89.7 483.6h.7M80.5 470.7h.7M114.7 475.4h.7M115.4 485.5h.7M83.7 473.2h.7M101.0 478.4h.7M118.8 469.2h.7M84.6 470.7h.7M96.9 473.1h.7M89.9 493.3h.7M103.0 473.9h.7M122.5 473.0h.7M70.7 472.8h.7M122.8 475.8h.7M103.9 481.9h.7M112.1 478.4h.7M102.0 492.4h.7M116.8 478.6h.7M82.6 487.9h.7M106.6 479.1h.7M78.6 481.5h.7M94.0 466.2h.7M104.9 476.0h.7M74.7 476.5h.7M65.9 475.2h.7M111.8 460.9h.7M113.0 483.6h.7M103.9 474.1h.7M82.3 473.7h.7M103.5 475.1h.7M67.3 475.3h.7M103.7 480.1h.7M98.3 467.5h.7M100.9 470.0h.7M90.2 479.2h.7M76.2 478.1h.7M107.7 474.2h.7M91.2 472.7h.7M109.0 470.7h.7M84.9 476.6h.7M67.5 485.9h.7M96.2 469.1h.7M101.2 488.4h.7M120.1 483.3h.7M117.9 473.6h.7M65.6 482.9h.7M110.6 466.0h.7M78.5 464.0h.7M105.9 467.3h.7M85.9 473.9h.7M82.3 474.6h.7M92.8 473.1h.7M95.4 477.7h.7M105.8 461.0h.7M102.2 480.7h.7M104.7 466.4h.7M86.2 472.0h.7M104.7 473.9h.7M83.8 468.3h.7M100.3 466.7h.7M91.0 469.5h.7M97.5 476.9h.7M63.1 481.4h.7M93.4 481.2h.7M75.9 469.5h.7M86.3 471.1h.7M66.6 470.1h.7M103.4 480.4h.7M118.3 461.7h.7M55.6 470.0h.7M33.4 474.3h.7M53.4 474.3h.7M53.6 473.2h.7M55.5 479.0h.7M40.9 480.0h.7M43.8 473.0h.7M31.9 471.0h.7M50.6 465.7h.7M49.1 474.3h.7M45.1 461.0h.7M40.9 475.9h.7M33.6 473.0h.7M15.8 476.0h.7M34.7 477.0h.7M21.7 476.1h.7M39.4 476.7h.7M31.8 469.3h.7M66.7 468.2h.7M34.2 471.1h.7M30.8 478.7h.7M61.0 468.8h.7M23.0 478.6h.7M54.2 476.8h.7M54.7 468.0h.7M40.1 465.3h.7M26.4 477.6h.7M34.6 484.4h.7M42.8 469.2h.7M50.8 481.9h.7M47.3 466.2h.7M46.1 479.7h.7M36.6 468.5h.7M53.2 473.2h.7M29.9 470.5h.7M33.7 474.0h.7M43.2 478.5h.7M49.8 464.4h.7M46.5 477.2h.7M47.0 477.9h.7M36.0 467.6h.7M52.2 467.0h.7M18.2 477.8h.7M34.0 470.9h.7M26.6 465.6h.7M29.3 470.6h.7M46.1 460.6h.7M50.3 466.4h.7M30.3 476.0h.7M41.2 464.5h.7M62.3 468.0h.7M44.7 473.5h.7M57.5 470.1h.7M53.1 468.6h.7M54.3 468.5h.7M38.0 482.4h.7M45.5 473.1h.7M66.7 474.4h.7M33.0 476.3h.7M29.0 478.4h.7M55.3 469.5h.7M35.1 473.4h.7M42.2 467.4h.7M48.2 461.9h.7M37.2 470.4h.7M39.0 474.1h.7M28.5 475.6h.7M40.0 469.1h.7M27.0 466.3h.7M46.0 467.5h.7M42.7 478.0h.7M53.4 480.6h.7M38.7 466.9h.7M53.2 474.1h.7M54.4 472.6h.7M55.2 476.9h.7M49.9 475.1h.7M46.4 473.7h.7M44.5 477.6h.7M36.4 481.5h.7M40.8 477.6h.7M41.0 471.2h.7M64.4 470.9h.7M28.0 468.8h.7M38.5 483.7h.7M44.3 477.4h.7M31.0 474.3h.7M49.4 481.9h.7M34.3 475.6h.7M45.3 467.2h.7M41.8 471.1h.7M16.4 475.6h.7M47.9 470.2h.7M27.3 480.2h.7M44.9 477.8h.7M57.5 469.8h.7M50.9 471.2h.7M41.3 472.1h.7M42.0 478.3h.7M43.4 471.7h.7M39.0 474.3h.7M32.2 469.9h.7M41.4 469.6h.7M40.7 469.3h.7M64.0 479.4h.7M46.9 472.2h.7M66.1 474.2h.7M41.0 474.1h.7M45.4 479.8h.7M41.8 483.4h.7M32.3 476.1h.7M31.0 481.9h.7M38.4 472.2h.7M52.2 479.0h.7M29.8 470.7h.7M26.7 473.2h.7M40.9 470.7h.7M34.5 470.5h.7M33.8 475.3h.7M58.7 462.5h.7M40.7 470.3h.7M47.4 467.6h.7M40.4 467.1h.7M49.7 473.0h.7M40.2 474.4h.7M39.3 464.4h.7M48.6 474.0h.7M40.3 477.6h.7M55.4 466.8h.7M33.4 480.5h.7M57.6 468.7h.7M29.0 469.2h.7M36.5 464.3h.7M42.3 465.8h.7M28.7 477.3h.7M34.5 472.1h.7M48.9 476.7h.7M38.3 472.7h.7M32.9 481.6h.7M49.1 466.8h.7M42.0 476.2h.7M47.3 482.0h.7M57.1 469.7h.7M41.0 465.8h.7M44.7 473.3h.7M71.7 473.0h.7M19.0 469.0h.7M43.2 466.0h.7M32.5 470.6h.7M45.8 471.6h.7M32.2 476.6h.7M36.1 469.9h.7M26.8 468.4h.7M49.2 464.1h.7M41.2 476.2h.7M37.9 473.7h.7M29.7 479.3h.7M54.1 473.7h.7M22.7 467.1h.7M52.7 481.4h.7M45.3 479.0h.7M35.3 471.5h.7M42.0 474.7h.7M25.2 477.4h.7M56.5 466.5h.7M27.1 474.3h.7M34.8 460.2h.7M50.9 473.3h.7M36.8 483.5h.7M43.5 468.6h.7M43.1 467.1h.7M33.6 474.5h.7M35.9 470.2h.7M60.4 477.0h.7M50.8 475.2h.7M47.3 480.1h.7M41.8 482.1h.7M31.5 471.2h.7M26.8 470.7h.7M47.7 480.0h.7M34.7 472.5h.7M38.0 468.7h.7M28.9 472.8h.7M22.9 473.1h.7M42.2 469.1h.7M30.9 465.3h.7M62.6 465.5h.7M59.1 475.6h.7M38.0 466.5h.7M53.5 481.5h.7M31.7 470.9h.7M53.6 474.2h.7M64.0 469.5h.7M48.0 466.0h.7M65.1 468.7h.7M17.7 471.8h.7M40.5 482.5h.7M38.3 472.4h.7M48.5 480.7h.7M41.3 477.9h.7M47.7 471.0h.7M42.9 472.6h.7M31.9 478.8h.7M26.8 478.6h.7M52.5 472.0h.7M33.6 471.3h.7M47.2 476.4h.7M45.2 477.7h.7M35.9 473.7h.7M24.7 476.5h.7M43.7 470.3h.7M54.8 476.1h.7M26.0 478.0h.7M69.4 469.8h.7M42.8 471.2h.7M45.9 475.9h.7M56.2 467.4h.7M59.3 467.7h.7M45.0 478.5h.7M49.8 467.6h.7M34.3 470.1h.7M41.4 478.5h.7M27.8 474.9h.7M48.7 475.4h.7M47.1 480.4h.7M47.4 477.0h.7M48.2 481.8h.7M21.1 479.2h.7M39.1 471.0h.7M31.3 462.8h.7M37.8 468.9h.7M47.4 464.8h.7M57.7 473.9h.7M39.3 468.8h.7M33.3 466.6h.7M36.0 472.5h.7M40.0 465.1h.7M39.1 467.9h.7M43.8 482.2h.7M48.9 470.9h.7M24.1 465.1h.7M23.4 476.3h.7M33.6 472.8h.7M35.2 473.0h.7M57.4 468.9h.7M38.2 468.3h.7M51.6 467.2h.7M29.5 465.3h.7M26.5 474.9h.7M70.3 467.3h.7M52.5 473.8h.7M29.9 471.1h.7M39.4 468.9h.7M63.2 462.6h.7M46.2 474.2h.7M35.6 473.3h.7M51.7 473.3h.7M46.6 476.1h.7M19.6 480.2h.7M67.1 477.6h.7M53.2 465.2h.7M40.7 468.3h.7M35.5 477.5h.7M33.2 471.8h.7M21.0 471.7h.7M43.0 468.8h.7M34.1 482.3h.7M28.7 467.0h.7M33.1 478.7h.7M65.1 474.2h.7M34.1 470.3h.7M53.7 467.8h.7M58.0 479.9h.7M42.8 475.9h.7M50.2 480.6h.7M30.4 478.6h.7M37.9 468.5h.7M43.1 471.4h.7M31.1 464.2h.7M31.6 480.1h.7M63.6 475.9h.7M55.0 469.8h.7M41.2 474.0h.7M30.1 467.4h.7M43.1 470.8h.7M30.3 474.5h.7M39.1 477.8h.7M41.9 470.9h.7M43.4 471.6h.7M34.7 470.4h.7M50.2 475.9h.7M56.1 463.7h.7M37.7 470.3h.7M43.9 470.1h.7M36.4 476.6h.7M44.0 466.4h.7M56.7 477.7h.7M35.7 476.8h.7M33.9 478.4h.7M39.6 468.3h.7M37.9 468.5h.7M44.1 473.4h.7M42.4 469.6h.7M21.1 473.8h.7M54.4 473.9h.7M37.7 471.6h.7M40.5 469.6h.7M35.6 467.7h.7M55.1 472.4h.7M52.5 471.2h.7M42.8 471.6h.7M47.1 476.8h.7M44.6 469.0h.7M33.4 481.1h.7M38.9 471.0h.7M58.1 478.2h.7M47.9 470.4h.7M67.9 474.5h.7M48.0 471.6h.7M26.4 465.6h.7M46.5 474.5h.7M39.4 466.4h.7M26.1 470.8h.7M26.0 477.2h.7M54.7 487.2h.7M51.7 469.4h.7M32.4 454.6h.7M35.5 471.6h.7M116.7 480.7h.7M113.3 478.3h.7M113.9 485.7h.7M98.4 474.3h.7M95.5 486.7h.7M119.7 481.5h.7M97.2 478.0h.7M105.9 477.5h.7M106.3 480.1h.7M104.4 482.1h.7M110.2 475.2h.7M107.0 474.4h.7M115.3 475.4h.7M110.7 474.6h.7M94.6 482.4h.7M98.5 481.1h.7M111.8 467.1h.7M99.5 473.9h.7M100.6 469.9h.7M114.7 475.6h.7M111.5 474.4h.7M110.7 472.5h.7M107.8 480.5h.7M108.4 474.3h.7M98.2 478.0h.7M111.1 475.4h.7M101.1 480.3h.7M111.0 479.3h.7M84.9 477.7h.7M101.6 485.3h.7M105.7 472.3h.7M106.0 478.0h.7M103.0 476.7h.7M95.8 475.6h.7M115.0 488.8h.7M114.4 478.6h.7M118.7 483.1h.7M123.0 483.5h.7M106.9 478.6h.7M109.6 478.8h.7M109.8 472.3h.7M89.1 473.0h.7M89.8 477.4h.7M108.0 466.9h.7M114.2 482.2h.7M108.9 487.0h.7M124.8 469.8h.7M117.3 479.6h.7M111.8 482.6h.7M101.5 473.4h.7M100.6 472.5h.7M107.1 468.3h.7M98.6 480.5h.7M107.4 479.3h.7M91.0 472.3h.7M103.0 477.2h.7M102.7 482.6h.7M107.5 477.1h.7M108.1 481.2h.7M103.8 483.7h.7M112.1 477.9h.7M108.4 480.1h.7M117.1 482.7h.7M111.4 482.3h.7M109.1 484.5h.7M107.8 464.5h.7M120.0 477.6h.7M97.5 475.8h.7M100.0 489.6h.7M112.5 467.6h.7M112.9 474.6h.7M125.3 470.7h.7M87.8 477.4h.7M104.9 474.5h.7M88.7 479.6h.7M123.1 465.5h.7M118.5 473.6h.7M106.3 483.6h.7M112.7 473.4h.7M114.4 473.9h.7M91.9 489.2h.7M104.9 473.3h.7M111.0 467.6h.7M95.8 474.0h.7M103.3 477.4h.7M118.1 474.2h.7M112.4 480.6h.7M98.2 478.4h.7M99.5 483.4h.7M112.1 477.1h.7M95.9 477.7h.7M101.1 481.2h.7M106.9 472.1h.7M116.3 481.3h.7M102.7 484.0h.7M105.3 475.1h.7M109.1 472.5h.7M104.0 476.0h.7M121.8 486.0h.7M105.7 486.7h.7M107.6 479.3h.7M116.0 478.8h.7M97.2 484.8h.7M104.3 475.2h.7M81.1 483.0h.7M115.4 481.8h.7M116.8 487.1h.7M107.6 482.6h.7M101.3 474.9h.7M117.5 479.3h.7M96.0 479.2h.7M106.4 472.1h.7M111.9 474.6h.7M93.9 470.3h.7M123.9 467.9h.7M110.0 480.7h.7M113.8 469.6h.7M105.1 477.8h.7M115.2 473.1h.7M97.5 483.0h.7M117.9 479.2h.7M102.5 479.4h.7M109.0 482.0h.7M96.8 477.7h.7M106.6 470.3h.7M109.9 477.2h.7M104.3 479.4h.7M95.2 476.7h.7M111.9 478.7h.7M117.7 469.8h.7M94.4 478.4h.7M112.1 489.7h.7M113.5 471.8h.7M115.3 471.9h.7M94.6 492.7h.7M110.9 481.3h.7M113.1 487.9h.7M110.6 484.3h.7M98.8 468.6h.7M120.8 485.8h.7M112.6 478.4h.7M109.5 472.9h.7M121.8 481.0h.7M112.6 479.3h.7M117.4 480.0h.7M114.7 470.0h.7M112.6 490.1h.7M103.3 476.2h.7M116.0 482.7h.7M113.6 467.3h.7M112.5 469.9h.7M100.6 480.3h.7M105.3 481.9h.7M114.5 471.6h.7M102.2 470.6h.7M103.2 470.4h.7M102.1 475.7h.7M99.0 468.5h.7M95.7 479.7h.7M108.5 483.2h.7M117.4 475.0h.7M114.0 468.4h.7M128.5 484.2h.7M106.1 470.0h.7M111.4 465.8h.7M101.0 481.5h.7M108.7 474.1h.7M116.6 470.8h.7M110.6 474.0h.7M100.4 479.8h.7M99.1 488.4h.7M102.7 488.9h.7M98.2 480.6h.7M97.2 469.0h.7M109.4 481.1h.7M96.5 484.1h.7M100.8 477.8h.7M111.4 480.6h.7M91.8 486.7h.7M113.1 474.4h.7M98.8 466.8h.7M95.7 480.3h.7M104.9 470.2h.7M103.3 486.4h.7M105.0 473.5h.7M120.2 479.8h.7M108.4 473.4h.7M94.0 470.0h.7M103.7 475.7h.7M111.2 480.3h.7M110.0 478.3h.7M98.9 464.1h.7M103.3 471.3h.7M102.1 475.4h.7M96.8 470.3h.7M107.1 477.7h.7M105.6 452.9h.7M115.1 454.1h.7M88.2 463.5h.7M91.4 462.1h.7M103.7 455.1h.7M69.3 443.2h.7M97.1 452.3h.7M68.3 451.0h.7M76.8 465.9h.7M103.1 458.3h.7M126.2 451.7h.7M128.0 450.8h.7M79.2 460.4h.7M71.7 444.3h.7M96.2 461.6h.7M91.1 458.1h.7M87.0 452.4h.7M112.7 459.0h.7M108.8 451.5h.7M99.1 445.4h.7M103.0 452.0h.7M100.4 443.2h.7M106.7 444.1h.7M123.2 452.5h.7M124.5 461.8h.7M126.6 446.9h.7M118.7 454.0h.7M68.9 465.5h.7M91.8 461.9h.7M113.6 463.6h.7M81.4 458.2h.7M102.0 456.1h.7M65.6 456.0h.7M75.4 456.4h.7M88.4 453.2h.7M66.6 450.7h.7M90.0 447.7h.7M77.2 443.6h.7M118.9 450.9h.7M83.0 460.5h.7M87.1 455.3h.7M114.9 445.9h.7M98.9 461.5h.7M65.3 443.0h.7M76.4 464.3h.7M102.3 457.6h.7M75.2 455.3h.7M78.4 451.9h.7M103.1 461.8h.7M94.6 442.2h.7M79.8 442.4h.7M98.9 454.5h.7M103.8 449.1h.7M64.6 451.6h.7M80.1 454.9h.7M82.3 443.1h.7M120.0 465.6h.7M65.4 458.3h.7M84.9 444.4h.7M74.8 459.7h.7M107.9 454.8h.7M115.5 458.5h.7M65.8 459.7h.7M119.0 465.8h.7M107.9 444.8h.7M76.3 465.9h.7M122.4 453.4h.7M81.3 446.8h.7M114.0 451.0h.7M66.9 450.7h.7M57.2 511.7h.7M40.1 505.8h.7M19.1 496.3h.7M48.9 513.0h.7M38.9 516.1h.7M53.5 510.1h.7M18.1 526.7h.7M55.8 502.5h.7M57.1 522.1h.7M16.4 519.0h.7M37.9 524.8h.7M21.6 525.6h.7M40.4 503.6h.7M20.1 525.5h.7M56.8 508.9h.7M24.4 517.7h.7M46.7 526.5h.7M46.1 515.1h.7M30.8 514.7h.7M25.9 498.3h.7M58.1 515.1h.7M17.8 503.7h.7M27.7 508.4h.7M31.0 508.1h.7M42.9 527.1h.7M33.0 516.4h.7M21.1 519.2h.7M42.2 501.5h.7M49.3 505.7h.7M48.4 524.1h.7M69.9 502.3h.7M124.9 515.9h.7M90.2 525.0h.7M87.7 505.2h.7M96.0 495.7h.7M91.3 501.1h.7M93.1 525.8h.7M90.0 495.2h.7M108.3 496.8h.7M80.2 498.2h.7M73.0 524.4h.7M90.7 507.6h.7M67.8 517.8h.7M91.5 518.3h.7M94.6 509.3h.7M113.8 519.2h.7M69.2 510.2h.7M88.2 512.9h.7M113.5 505.1h.7M84.3 495.1h.7M117.2 514.6h.7M109.4 503.8h.7M64.8 504.1h.7M87.4 524.0h.7M112.6 506.9h.7M96.8 498.4h.7M106.4 515.8h.7M127.3 512.8h.7M106.6 496.9h.7M98.0 506.5h.7M117.8 515.2h.7M90.4 504.2h.7M62.7 527.5h.7M80.0 521.4h.7M101.3 511.6h.7M124.6 525.2h.7M102.1 496.1h.7M80.7 502.4h.7M127.6 525.2h.7M88.4 511.8h.7M77.0 500.6h.7M98.5 513.8h.7M84.7 519.1h.7M69.4 514.9h.7M109.0 496.5h.7M107.6 496.2h.7M126.2 508.4h.7M71.0 495.5h.7M122.1 497.8h.7M114.6 516.2h.7M78.7 509.5h.7M93.6 497.8h.7M103.6 523.9h.7M82.8 507.2h.7M69.1 524.1h.7M117.2 515.1h.7M72.9 515.5h.7M94.4 509.0h.7M90.9 517.2h.7M121.6 503.0h.7M98.9 503.5h.7M90.0 523.9h.7M126.5 501.7h.7M85.3 507.7h.7M109.9 519.6h.7M77.4 505.9h.7M112.0 507.1h.7M111.6 525.0h.7M116.7 501.8h.7M94.0 503.0h.7M115.3 459.4h.7M46.8 451.3h.7M53.0 452.1h.7M114.8 449.1h.7M52.0 464.2h.7M127.7 464.1h.7M108.0 454.7h.7M110.8 465.9h.7M41.3 459.6h.7M40.3 460.6h.7M100.3 448.1h.7M108.6 447.2h.7M41.1 446.8h.7M39.1 467.4h.7M43.3 464.0h.7M31.4 467.0h.7M63.2 464.7h.7M72.3 464.1h.7M86.4 453.1h.7M22.2 463.0h.7M37.5 445.0h.7M29.1 459.7h.7M46.2 441.3h.7M36.8 469.0h.7M120.9 466.4h.7M57.8 444.9h.7M31.6 463.1h.7M90.6 464.7h.7M125.0 441.3h.7M105.0 457.0h.7" stroke="#000" stroke-opacity="0.38" stroke-width="0.7" fill="none" filter="url(#bl)"/>
<path d="M164.7 482.7h.7M161.0 478.8h.7M173.1 479.5h.7M154.7 473.0h.7M161.7 468.6h.7M165.0 479.6h.7M155.9 484.8h.7M157.7 472.9h.7M158.2 470.1h.7M164.5 474.1h.7M176.3 477.3h.7M165.6 472.8h.7M147.1 473.5h.7M152.4 479.2h.7M160.2 483.2h.7M167.5 478.6h.7M162.7 475.1h.7M166.7 479.1h.7M153.7 476.7h.7M185.4 473.5h.7M158.1 470.2h.7M146.7 480.5h.7M161.1 475.6h.7M178.0 487.8h.7M152.1 479.8h.7M166.4 476.2h.7M165.1 473.9h.7M175.6 477.4h.7M163.8 480.9h.7M169.0 476.5h.7M163.6 483.7h.7M165.4 473.5h.7M152.4 472.1h.7M150.6 474.6h.7M163.0 462.7h.7M160.7 477.6h.7M162.1 468.8h.7M172.6 470.2h.7M148.9 468.1h.7M160.4 479.4h.7M171.6 475.2h.7M149.2 470.4h.7M152.0 473.0h.7M143.7 474.6h.7M166.6 473.2h.7M164.9 468.8h.7M146.7 470.5h.7M171.5 479.7h.7M156.2 480.6h.7M157.4 482.3h.7M165.1 471.5h.7M168.1 469.7h.7M151.6 466.0h.7M163.0 473.7h.7M159.8 471.7h.7M174.2 471.7h.7M153.6 480.9h.7M174.0 475.9h.7M144.0 470.7h.7M166.3 474.1h.7M175.3 466.5h.7M166.9 470.6h.7M173.1 473.6h.7M170.3 470.4h.7M147.1 467.9h.7M154.7 468.4h.7M171.9 481.4h.7M163.1 468.3h.7M159.4 470.2h.7M174.3 475.7h.7M165.1 471.8h.7M141.4 469.8h.7M149.9 476.0h.7M161.4 469.6h.7M156.8 482.6h.7M151.4 469.0h.7M158.3 470.2h.7M156.4 476.9h.7M177.0 464.2h.7M160.3 474.2h.7M159.7 473.0h.7M157.3 479.5h.7M156.1 473.3h.7M160.5 474.6h.7M158.9 479.5h.7M160.4 475.0h.7M160.0 468.5h.7M152.6 468.2h.7M162.3 470.1h.7M150.4 475.3h.7M165.5 464.3h.7M176.6 474.2h.7M159.5 479.9h.7M161.2 470.7h.7M181.3 468.1h.7M159.6 478.7h.7M150.3 473.4h.7M164.2 487.2h.7M152.0 473.7h.7M166.8 474.4h.7M149.1 476.2h.7M161.5 476.5h.7M171.2 479.6h.7M164.4 475.7h.7M150.1 473.3h.7M162.6 471.8h.7M161.4 469.5h.7M175.1 485.8h.7M156.8 476.2h.7M158.3 480.9h.7M164.6 474.4h.7M158.4 474.7h.7M151.0 477.7h.7M153.7 476.9h.7M161.7 480.0h.7M160.3 479.6h.7M151.7 477.4h.7M158.4 475.1h.7M161.2 479.1h.7M141.3 475.8h.7M146.3 480.6h.7M141.8 468.5h.7M144.6 483.0h.7M148.3 474.6h.7M155.4 464.1h.7M157.3 477.6h.7M158.7 479.2h.7M157.1 474.0h.7M156.8 475.9h.7M178.5 476.0h.7M162.3 470.6h.7M153.3 482.1h.7M149.9 469.0h.7M159.6 471.7h.7M179.1 461.0h.7M163.9 477.9h.7M149.9 470.5h.7M164.6 483.0h.7M151.8 465.3h.7M169.7 482.4h.7M157.3 461.8h.7M174.3 472.9h.7M171.2 473.8h.7M156.9 471.5h.7M174.5 481.9h.7M140.2 468.9h.7M177.4 472.0h.7M147.6 474.0h.7M159.5 473.5h.7M155.9 472.3h.7M156.2 475.8h.7M152.8 472.4h.7M159.1 481.2h.7M164.0 473.4h.7M165.6 476.2h.7M170.8 476.8h.7M177.5 481.4h.7M160.1 471.7h.7M168.9 476.8h.7M159.6 465.9h.7M143.1 475.9h.7M167.8 478.4h.7M148.3 479.7h.7M155.4 476.1h.7M164.5 469.6h.7M154.9 462.6h.7M151.8 464.1h.7M164.7 474.3h.7M169.2 476.0h.7M154.5 475.9h.7M156.8 477.3h.7M163.5 468.6h.7M160.5 474.3h.7M157.6 478.9h.7M176.8 472.0h.7M157.2 461.6h.7M159.3 471.6h.7M140.0 475.6h.7M166.1 470.0h.7M157.0 468.7h.7M167.7 465.7h.7M157.5 484.7h.7M161.0 476.6h.7M159.1 467.5h.7M160.2 476.2h.7M150.8 475.9h.7M172.3 479.9h.7M145.5 468.6h.7M145.2 479.9h.7M166.3 477.9h.7M152.2 467.6h.7M161.2 474.6h.7M152.4 474.8h.7M166.6 475.3h.7M150.6 462.4h.7M158.0 474.9h.7M158.0 471.6h.7M153.9 477.9h.7M160.0 474.7h.7M151.3 470.6h.7M162.1 468.5h.7M148.5 472.2h.7M171.9 475.1h.7M174.4 473.3h.7M157.6 466.3h.7M155.0 481.9h.7M163.6 478.0h.7M167.2 473.9h.7M158.6 474.7h.7M166.9 476.5h.7M165.2 474.8h.7M153.2 472.6h.7M151.6 479.5h.7M140.5 472.8h.7M183.2 472.1h.7M149.7 473.9h.7M172.7 473.1h.7M166.3 474.5h.7M157.0 491.3h.7M161.2 471.0h.7M155.8 476.1h.7M164.4 478.2h.7M161.8 466.1h.7M165.6 472.3h.7M157.8 465.8h.7M155.1 470.0h.7M160.2 466.0h.7M161.0 474.7h.7M149.9 470.6h.7M152.4 479.0h.7M136.5 472.1h.7M144.7 471.6h.7M168.5 470.5h.7M161.8 469.4h.7M178.9 479.0h.7M171.2 466.7h.7M150.0 479.9h.7M158.7 472.6h.7M163.7 467.1h.7M167.8 474.1h.7M165.1 470.3h.7M165.4 470.1h.7M169.6 480.2h.7M169.2 476.8h.7M166.5 459.1h.7M168.4 472.5h.7M161.4 472.4h.7M147.3 471.0h.7M166.8 481.8h.7M154.6 469.0h.7M174.3 469.1h.7M180.2 474.3h.7M152.1 479.4h.7M176.6 466.1h.7M175.3 472.5h.7M174.6 471.9h.7M145.5 476.8h.7M169.3 485.5h.7M176.9 477.8h.7M158.2 471.1h.7M157.7 469.4h.7M157.9 460.0h.7M162.2 473.8h.7M184.9 478.2h.7M155.9 477.1h.7M148.9 470.7h.7M142.8 481.9h.7M166.1 467.5h.7M159.9 479.2h.7M165.2 476.1h.7M152.4 470.5h.7M161.4 479.1h.7M152.6 467.8h.7M171.4 468.9h.7M170.7 475.3h.7M168.9 483.6h.7M167.0 478.3h.7M151.8 470.2h.7M166.6 482.4h.7M173.7 486.7h.7M163.5 475.1h.7M170.1 474.1h.7M159.9 468.2h.7M169.9 468.1h.7M165.4 466.2h.7M170.9 468.3h.7M168.5 465.3h.7M156.3 480.5h.7M152.8 474.4h.7M156.0 461.3h.7M163.4 476.4h.7M150.0 477.2h.7M152.9 468.5h.7M160.6 470.3h.7M182.3 465.4h.7M167.5 479.4h.7M141.7 464.5h.7M165.8 471.4h.7M164.1 480.3h.7M157.0 468.1h.7M134.6 475.1h.7M151.7 475.7h.7M162.7 466.4h.7M176.9 480.0h.7M168.6 467.5h.7M156.6 471.0h.7M156.6 467.8h.7M164.6 475.3h.7M164.0 471.2h.7M172.8 475.0h.7M134.5 470.5h.7M160.0 479.3h.7M157.6 472.6h.7M154.2 477.7h.7M156.2 470.7h.7M153.4 477.1h.7M155.4 464.8h.7M166.4 470.1h.7M163.9 476.1h.7M171.9 479.7h.7M155.0 473.1h.7M148.2 483.2h.7M164.7 481.7h.7M157.5 462.7h.7M175.1 474.5h.7M161.8 474.3h.7M166.6 476.9h.7M145.4 480.0h.7M155.5 471.4h.7M176.9 479.1h.7M157.3 463.8h.7M162.0 477.0h.7M159.7 467.1h.7M153.0 467.1h.7M162.5 478.5h.7M170.2 470.0h.7M162.7 477.0h.7M155.6 473.2h.7M180.7 475.1h.7M168.9 471.6h.7M160.9 464.6h.7M160.3 480.6h.7M180.4 480.6h.7M167.0 474.3h.7M154.8 473.1h.7M166.3 469.7h.7M169.4 468.6h.7M143.6 468.4h.7M144.7 466.5h.7M171.3 472.9h.7M162.6 480.4h.7M172.5 471.2h.7M173.1 476.1h.7M160.5 476.4h.7M147.0 469.7h.7M159.5 477.4h.7M157.0 473.3h.7M169.7 481.8h.7M167.8 481.0h.7M156.7 472.3h.7M163.5 472.3h.7M155.7 483.1h.7M158.6 468.7h.7M165.1 484.1h.7M161.3 480.8h.7M156.3 471.3h.7M153.9 473.2h.7M177.9 467.6h.7M176.1 468.5h.7M158.3 478.6h.7M166.5 475.6h.7M144.8 476.0h.7M150.8 488.1h.7M158.5 475.0h.7M149.6 471.4h.7M148.2 479.4h.7M158.0 477.1h.7M154.0 471.2h.7M172.7 468.7h.7M143.4 476.2h.7M149.7 471.6h.7M169.2 469.5h.7M168.8 470.3h.7M174.7 481.3h.7M156.0 472.8h.7M152.6 475.1h.7M171.4 466.0h.7M169.2 466.7h.7M152.3 464.2h.7M180.5 474.3h.7M162.8 470.3h.7M170.6 462.4h.7M160.8 486.1h.7M156.9 474.1h.7M166.9 469.5h.7M160.7 479.3h.7M162.3 476.0h.7M157.2 475.7h.7M161.0 482.0h.7M167.4 472.7h.7M137.3 477.9h.7M167.7 469.0h.7M141.5 467.7h.7M169.3 468.1h.7M156.1 475.2h.7M172.1 473.9h.7M159.5 471.0h.7M176.0 479.9h.7M159.6 466.3h.7M153.0 477.2h.7M153.6 478.9h.7M163.9 475.6h.7M166.7 476.7h.7M152.4 472.2h.7M182.7 467.4h.7M156.0 479.9h.7M159.0 469.5h.7M147.9 476.9h.7M170.2 481.7h.7M161.0 479.7h.7M150.7 474.9h.7M154.1 475.0h.7M167.6 479.9h.7M151.1 481.0h.7M156.0 468.4h.7M158.9 466.0h.7M160.5 475.6h.7M158.6 476.9h.7M157.5 474.0h.7M146.8 474.2h.7M152.4 471.5h.7M159.6 475.1h.7M144.9 465.4h.7M157.6 476.6h.7M163.9 478.9h.7M172.9 476.7h.7M160.3 468.3h.7M151.5 471.4h.7M163.0 475.2h.7M160.5 473.2h.7M166.5 475.1h.7M163.3 475.7h.7M155.3 468.3h.7M165.2 476.3h.7M158.4 471.7h.7M182.1 469.8h.7M158.4 475.5h.7M149.5 474.6h.7M177.6 479.1h.7M166.5 477.3h.7M161.6 479.3h.7M159.0 471.7h.7M161.5 479.0h.7M163.6 477.7h.7M141.3 480.6h.7M182.7 481.3h.7M157.5 469.3h.7M163.1 468.6h.7M167.4 471.1h.7M169.6 481.5h.7M141.2 475.6h.7M153.9 466.2h.7M154.6 472.8h.7M170.3 465.6h.7M170.5 485.1h.7M166.2 477.0h.7M160.4 467.5h.7M165.6 476.1h.7M167.5 488.1h.7M167.4 476.3h.7M175.3 466.6h.7M149.6 471.9h.7M154.3 477.8h.7M157.5 483.6h.7M174.9 478.2h.7M156.8 477.4h.7M168.2 468.1h.7M163.8 477.9h.7M162.6 482.6h.7M172.0 469.5h.7M161.7 469.4h.7M166.0 469.2h.7M169.3 476.1h.7M169.7 473.2h.7M146.7 483.7h.7M158.9 481.6h.7M164.6 477.7h.7M177.9 475.9h.7M173.8 465.8h.7M168.8 472.7h.7M159.2 474.0h.7M163.8 483.1h.7M142.9 474.2h.7M153.7 480.4h.7M156.5 476.5h.7M156.7 477.7h.7M170.1 471.8h.7M161.0 466.2h.7M163.4 478.7h.7M155.2 480.2h.7M140.8 463.8h.7M147.3 471.3h.7M160.7 473.6h.7M159.9 478.0h.7M156.0 467.1h.7M148.7 485.6h.7M138.2 473.0h.7M174.4 476.7h.7M152.6 474.0h.7M168.7 480.6h.7M152.0 478.2h.7M162.9 480.1h.7M173.7 472.1h.7M146.7 476.2h.7M177.4 477.8h.7M162.7 487.2h.7M150.6 479.0h.7M155.1 474.3h.7M161.4 482.3h.7M151.6 471.1h.7M145.4 476.7h.7M156.1 476.3h.7M150.3 472.0h.7M170.4 473.0h.7M166.4 476.9h.7M157.1 465.4h.7M169.9 474.9h.7M169.8 462.9h.7M144.8 462.2h.7M152.2 479.7h.7M165.9 473.8h.7M161.7 478.2h.7M157.6 476.2h.7M161.8 462.0h.7M156.8 481.5h.7M156.7 473.2h.7M154.7 471.3h.7M171.2 472.5h.7M150.8 456.9h.7M155.1 463.2h.7M143.2 478.4h.7M167.2 463.5h.7M168.6 476.5h.7M153.1 478.0h.7M145.0 467.4h.7M146.8 467.9h.7M168.8 466.7h.7M149.6 468.8h.7M162.4 472.1h.7M168.7 470.1h.7M148.3 471.2h.7M160.8 468.9h.7M163.1 484.0h.7M154.9 474.2h.7M173.3 470.4h.7M152.3 467.9h.7M164.2 476.8h.7M158.9 474.1h.7M172.4 478.7h.7M147.0 473.8h.7M161.3 477.8h.7M158.2 470.3h.7M155.9 464.1h.7M160.0 470.6h.7M164.7 468.2h.7M156.1 468.4h.7M150.1 477.7h.7M155.8 476.3h.7M149.5 474.3h.7M144.1 471.2h.7M155.4 477.0h.7M161.8 472.8h.7M168.1 474.8h.7M165.2 478.0h.7M159.5 472.2h.7M163.2 471.5h.7M163.8 479.8h.7M168.2 471.7h.7M147.9 473.4h.7M158.9 479.8h.7M156.4 472.6h.7M167.0 471.1h.7M158.5 483.2h.7M174.2 477.2h.7M162.6 468.4h.7M165.3 474.1h.7M162.1 470.9h.7M159.9 472.7h.7M163.0 481.6h.7M163.5 464.6h.7M150.9 465.0h.7M152.5 476.8h.7M163.8 470.4h.7M162.6 469.6h.7M146.6 466.0h.7M151.9 481.5h.7M147.3 480.6h.7M172.6 472.7h.7M159.6 470.4h.7M159.8 477.3h.7M160.1 479.2h.7M171.3 475.6h.7M163.1 473.4h.7M163.3 467.6h.7M163.9 474.8h.7M151.8 485.5h.7M150.8 468.9h.7M162.6 463.1h.7M152.5 465.3h.7M150.8 473.0h.7M163.0 479.8h.7M167.6 480.2h.7M165.6 471.1h.7M170.6 471.0h.7M154.2 482.1h.7M167.5 474.9h.7M167.1 478.5h.7M147.1 473.2h.7M148.8 474.4h.7M153.6 481.2h.7M164.9 469.2h.7M159.8 467.0h.7M160.4 476.7h.7M162.5 463.1h.7M156.8 476.5h.7M162.9 480.1h.7M147.8 476.6h.7M153.8 474.8h.7M163.8 477.5h.7M154.5 474.7h.7M148.9 465.9h.7M165.2 473.4h.7M144.6 469.0h.7M160.1 482.2h.7M169.9 478.1h.7M143.0 473.1h.7M164.5 475.8h.7M163.9 472.4h.7M176.6 481.8h.7M159.1 468.3h.7M179.4 470.6h.7M171.3 484.2h.7M151.0 475.3h.7M156.6 476.5h.7M163.0 484.4h.7M165.5 473.6h.7M170.6 472.2h.7M156.5 486.0h.7M152.1 471.0h.7M160.4 467.9h.7M139.9 479.5h.7M152.5 470.7h.7M156.4 468.3h.7M149.7 474.6h.7M182.7 477.7h.7M167.0 465.4h.7M159.7 467.2h.7M167.3 472.4h.7M160.3 473.2h.7M154.4 465.3h.7M165.4 466.1h.7M148.7 472.0h.7M153.2 475.1h.7M169.5 475.0h.7M161.8 473.8h.7M168.1 463.5h.7M163.4 468.5h.7M148.2 473.7h.7M156.3 476.9h.7M170.4 460.9h.7M159.3 484.4h.7M168.2 481.6h.7M160.9 465.8h.7M149.3 477.6h.7M169.0 469.7h.7M157.4 475.1h.7M143.3 471.8h.7M175.3 485.7h.7M158.9 483.7h.7M155.0 469.2h.7M138.7 478.9h.7M156.4 486.5h.7M163.1 474.7h.7M142.8 481.9h.7M156.5 472.8h.7M139.0 478.8h.7M169.3 470.4h.7M160.8 475.8h.7M169.1 474.3h.7M176.3 472.4h.7M154.2 471.1h.7M135.9 469.3h.7M169.5 475.1h.7M152.2 475.6h.7M140.8 472.1h.7M165.0 477.5h.7M152.6 478.7h.7M177.7 471.4h.7M167.0 465.1h.7M141.3 477.1h.7M160.4 474.8h.7M154.5 472.1h.7M167.7 483.2h.7M157.9 464.6h.7M172.1 477.0h.7M166.5 474.7h.7M182.1 474.1h.7M164.9 463.5h.7M154.5 469.9h.7M159.7 475.6h.7M152.9 483.2h.7M149.9 471.2h.7M162.3 466.8h.7M165.4 477.2h.7M157.2 484.2h.7M160.8 475.3h.7M150.9 464.5h.7M154.0 471.9h.7M155.7 477.9h.7M137.3 467.5h.7M142.7 481.1h.7M154.6 470.9h.7M149.5 478.7h.7M156.1 474.9h.7M140.7 480.2h.7M163.8 476.8h.7M171.8 472.7h.7M158.4 477.7h.7M164.1 472.4h.7M160.4 471.0h.7M166.8 478.9h.7M160.1 484.1h.7M145.4 472.4h.7M176.3 471.4h.7M144.8 481.4h.7M165.2 467.2h.7M167.4 468.1h.7M147.3 472.9h.7M155.5 467.7h.7M156.6 468.2h.7M160.6 473.6h.7M167.1 471.2h.7M147.4 466.5h.7M157.7 482.2h.7M168.1 470.2h.7M169.0 467.3h.7M169.7 471.6h.7M167.4 477.2h.7M157.4 475.5h.7M149.9 473.3h.7M170.4 496.3h.7M166.8 474.2h.7M150.4 479.6h.7M144.3 469.3h.7M163.5 467.1h.7M174.7 479.8h.7M154.6 470.7h.7M147.5 466.0h.7M164.3 477.2h.7M163.4 475.2h.7M154.7 475.7h.7M146.0 473.8h.7M174.1 481.0h.7M155.6 471.9h.7M173.2 483.6h.7M145.8 471.4h.7M162.3 480.5h.7M152.1 477.3h.7M157.2 486.9h.7M164.2 473.0h.7M156.9 479.6h.7M166.5 467.8h.7M162.1 466.4h.7M152.9 466.6h.7M147.4 470.0h.7M150.7 476.7h.7M167.7 472.4h.7M149.4 478.2h.7M140.8 463.1h.7M167.0 477.4h.7M169.4 472.6h.7M148.0 470.9h.7M165.5 469.5h.7M153.4 466.1h.7M149.0 478.4h.7M164.4 467.3h.7M149.8 470.6h.7M165.3 467.3h.7M158.5 461.9h.7M148.1 476.1h.7M168.6 467.4h.7M152.7 478.2h.7M156.4 470.8h.7M165.0 474.8h.7M170.7 478.1h.7M154.6 473.1h.7M159.5 466.3h.7M150.8 479.1h.7M144.9 479.3h.7M162.8 473.0h.7M165.2 476.4h.7M171.6 471.6h.7M157.9 472.4h.7M178.0 479.0h.7M151.3 471.9h.7M153.4 473.8h.7M162.1 486.4h.7M142.7 479.5h.7M164.3 469.9h.7M158.7 471.0h.7M160.6 479.3h.7M145.7 481.0h.7M156.6 482.1h.7M164.1 480.6h.7M165.5 479.8h.7M160.7 469.2h.7M166.6 477.7h.7M180.2 462.8h.7M158.3 479.7h.7M148.2 472.6h.7M180.3 481.6h.7M151.8 481.7h.7M171.5 478.1h.7M163.8 475.1h.7M151.9 471.0h.7M167.2 474.6h.7M177.8 472.0h.7M137.4 472.0h.7M162.9 475.9h.7M160.9 469.3h.7M174.4 470.2h.7M167.0 472.3h.7M148.8 481.6h.7M136.4 469.2h.7M164.4 471.9h.7M167.4 473.3h.7M156.0 485.8h.7M158.2 473.0h.7M150.0 469.8h.7M166.5 477.0h.7M160.3 470.0h.7M166.8 464.5h.7M157.1 472.5h.7M152.3 474.7h.7M154.0 469.5h.7M177.5 478.0h.7M171.7 474.2h.7M169.5 478.2h.7M171.9 487.0h.7M158.2 475.4h.7M159.9 454.6h.7M147.1 474.1h.7M166.4 470.8h.7M171.2 481.0h.7M156.5 481.8h.7M177.1 476.5h.7M151.1 482.1h.7M158.9 471.9h.7M161.6 471.0h.7M170.7 478.3h.7M172.1 477.2h.7M153.0 473.1h.7M168.8 471.8h.7M188.2 472.7h.7M154.9 480.3h.7M167.6 473.8h.7M158.3 476.3h.7M168.4 478.2h.7M157.6 476.4h.7M168.5 478.2h.7M153.1 472.7h.7M162.2 479.1h.7M166.4 473.3h.7M160.7 483.7h.7M154.7 475.7h.7M175.4 475.9h.7M141.1 476.1h.7M156.8 473.4h.7M170.5 476.6h.7M158.0 478.9h.7M164.6 474.6h.7M163.4 475.4h.7M157.3 471.5h.7M160.7 468.8h.7M148.5 481.2h.7M158.2 473.9h.7M159.2 474.1h.7M160.7 474.4h.7M152.9 479.1h.7M153.9 479.7h.7M142.3 468.2h.7M169.9 473.2h.7M154.1 476.1h.7M150.6 474.4h.7M139.5 471.5h.7M154.3 477.0h.7M168.8 469.3h.7M175.8 470.7h.7M141.0 460.9h.7M175.1 473.5h.7M154.4 469.9h.7M150.1 481.4h.7M159.7 483.8h.7M158.6 461.1h.7M168.5 472.0h.7M158.2 482.6h.7M158.0 480.4h.7M160.5 469.9h.7M165.3 470.7h.7M172.2 479.3h.7M161.1 477.4h.7M165.9 472.5h.7M169.0 472.7h.7M166.4 468.8h.7M161.5 476.3h.7M153.0 471.7h.7M155.5 478.0h.7M153.7 476.4h.7M175.0 476.0h.7M145.2 474.7h.7M170.4 472.5h.7M171.1 477.4h.7M164.6 472.6h.7M155.7 472.6h.7M161.2 476.9h.7M164.6 472.4h.7M161.2 476.2h.7M145.2 469.8h.7M153.0 472.9h.7M158.0 472.7h.7M152.3 477.8h.7M163.3 465.0h.7M160.8 467.9h.7M176.8 471.6h.7M156.9 474.5h.7M158.7 473.8h.7M175.4 475.3h.7M168.6 480.3h.7M151.4 483.4h.7M167.2 479.4h.7M152.5 478.6h.7M164.6 471.1h.7M182.4 477.2h.7M158.4 475.2h.7M169.3 480.3h.7M166.2 480.8h.7M174.6 467.3h.7M156.1 468.9h.7M161.6 482.0h.7M166.9 468.4h.7M157.9 479.8h.7M155.6 473.6h.7M163.6 464.1h.7M168.1 476.0h.7M166.1 468.7h.7M153.4 470.8h.7M163.1 474.5h.7M161.9 484.0h.7M173.1 470.2h.7M154.5 483.5h.7M157.7 481.7h.7M175.9 471.1h.7M158.1 474.6h.7M152.5 468.7h.7M156.9 478.8h.7M156.4 473.0h.7M156.3 466.6h.7M174.8 461.2h.7M154.5 477.2h.7M147.4 477.4h.7M172.6 469.4h.7M162.7 468.0h.7M165.5 474.6h.7M162.7 481.6h.7M165.2 481.5h.7M166.7 467.5h.7M163.2 476.8h.7M147.0 481.4h.7M161.3 476.1h.7M152.2 474.5h.7M163.5 472.3h.7M161.4 462.4h.7M173.6 468.0h.7M140.0 468.8h.7M152.7 477.1h.7M152.0 475.7h.7M151.6 486.2h.7M165.9 484.9h.7M151.0 477.8h.7M151.6 477.3h.7M167.1 465.3h.7M149.9 467.7h.7M146.4 470.1h.7M151.5 466.1h.7M161.6 477.1h.7M148.2 471.0h.7M160.7 472.8h.7M154.0 478.5h.7M168.7 477.8h.7M158.6 485.0h.7M177.2 471.9h.7M159.5 480.6h.7M153.0 476.3h.7M161.0 470.2h.7M158.4 465.4h.7M155.4 463.1h.7M182.3 482.3h.7M172.3 475.7h.7M170.1 481.0h.7M170.2 479.1h.7M151.9 476.4h.7M155.5 467.5h.7M149.7 476.4h.7M170.6 466.5h.7M177.1 482.1h.7M156.9 471.5h.7M159.8 479.4h.7M156.9 467.9h.7M163.8 462.7h.7M161.9 480.4h.7M163.4 478.3h.7M165.2 478.0h.7M161.9 469.4h.7M158.4 473.6h.7M172.5 482.9h.7M164.5 469.9h.7M153.6 473.0h.7M173.7 475.8h.7M160.0 469.8h.7M168.9 475.6h.7M160.0 474.6h.7M176.5 473.1h.7M176.5 480.8h.7M161.0 478.9h.7M159.3 469.4h.7M158.0 469.0h.7M165.4 474.1h.7M165.9 478.5h.7M143.4 474.9h.7M152.2 474.6h.7M173.5 464.6h.7M162.3 473.6h.7M142.5 477.6h.7M160.8 471.2h.7M153.6 491.7h.7M156.8 464.1h.7M151.7 472.0h.7M156.8 473.6h.7M150.6 477.0h.7M155.9 466.5h.7M152.8 471.9h.7M168.6 476.7h.7M157.3 474.1h.7M162.5 485.2h.7M154.6 476.6h.7M167.4 468.8h.7M162.3 474.9h.7M156.0 477.1h.7M170.3 480.2h.7M158.7 475.0h.7M182.8 467.9h.7M162.6 478.9h.7M161.9 477.6h.7M162.1 478.1h.7M172.7 472.8h.7M162.4 473.7h.7M156.7 473.9h.7M149.7 478.1h.7M176.7 483.4h.7M172.6 468.7h.7M174.9 470.1h.7M160.0 484.2h.7M150.3 478.6h.7M163.2 473.2h.7M152.2 476.3h.7M156.1 479.7h.7M172.1 466.4h.7M155.7 472.2h.7M149.3 467.9h.7M161.3 472.9h.7M144.8 471.0h.7M165.4 467.4h.7M151.7 482.7h.7M173.0 465.1h.7M147.7 476.1h.7M149.2 472.6h.7M156.2 477.1h.7M136.5 461.9h.7M148.9 479.6h.7M159.0 464.6h.7M165.2 477.9h.7M158.2 472.2h.7M164.7 480.7h.7M161.9 476.9h.7M160.0 471.9h.7M151.8 475.4h.7M157.6 472.7h.7M169.3 476.7h.7M168.8 465.3h.7M165.8 470.8h.7M152.8 469.3h.7M172.0 478.6h.7M153.7 467.7h.7M160.6 471.5h.7M176.3 466.0h.7M143.1 472.6h.7M160.6 474.7h.7M167.7 485.4h.7M157.2 471.0h.7M143.8 475.3h.7M168.6 472.6h.7M171.7 474.2h.7M174.9 475.8h.7M150.5 470.5h.7M145.9 464.4h.7M163.0 478.8h.7M179.1 473.7h.7M158.2 467.9h.7M169.9 476.1h.7M154.8 477.8h.7M165.8 463.7h.7M167.6 474.7h.7M156.8 471.7h.7M177.1 482.4h.7M177.8 467.7h.7M154.3 479.0h.7M149.0 470.0h.7M143.4 484.2h.7M170.6 476.5h.7M162.6 471.7h.7M156.7 477.4h.7M153.7 480.8h.7M155.8 469.2h.7M172.8 473.2h.7M165.8 471.7h.7M139.1 477.0h.7M147.7 480.0h.7M145.8 463.7h.7M163.4 476.3h.7M161.5 467.3h.7M168.9 465.9h.7M156.1 469.7h.7M156.9 478.7h.7M154.5 477.1h.7M167.1 464.6h.7M149.4 471.9h.7M154.9 475.7h.7M142.1 478.0h.7M225.7 472.7h.7M195.0 484.7h.7M193.3 475.4h.7M218.0 478.3h.7M204.3 482.6h.7M231.1 478.9h.7M178.6 467.3h.7M212.7 482.5h.7M200.3 484.6h.7M191.6 484.1h.7M233.5 489.3h.7M191.9 480.5h.7M228.5 483.4h.7M232.7 489.1h.7M239.9 476.0h.7M185.4 490.2h.7M188.0 490.1h.7M183.4 483.5h.7M198.5 490.9h.7M236.0 484.0h.7M219.2 471.8h.7M187.9 486.0h.7M184.8 480.3h.7M226.0 480.9h.7M217.9 479.1h.7M178.2 487.5h.7M215.6 481.9h.7M190.2 473.1h.7M196.8 481.4h.7M184.5 483.1h.7M241.4 472.9h.7M207.2 475.0h.7M217.5 475.3h.7M191.1 473.7h.7M202.0 480.4h.7M219.4 485.1h.7M225.8 491.2h.7M236.0 486.4h.7M193.8 485.2h.7M193.3 486.0h.7M203.8 487.3h.7M197.7 475.4h.7M230.4 482.9h.7M201.8 480.3h.7M201.9 477.1h.7M210.2 474.8h.7M214.1 474.5h.7M200.6 476.1h.7M178.6 469.4h.7M225.1 481.7h.7M185.3 477.8h.7M232.7 478.7h.7M193.8 480.4h.7M194.4 483.1h.7M212.3 473.9h.7M236.1 477.3h.7M202.4 466.7h.7M208.8 462.5h.7M204.5 464.4h.7M185.2 488.8h.7M196.4 465.2h.7M236.7 481.3h.7M238.1 488.3h.7M194.3 474.8h.7M236.9 489.4h.7M179.0 490.9h.7M224.0 484.6h.7M179.6 494.6h.7M205.3 482.4h.7M204.4 472.9h.7M205.8 481.7h.7M238.2 474.9h.7M200.5 468.9h.7M179.2 469.1h.7M185.1 494.2h.7M226.0 474.2h.7M186.2 477.9h.7M181.8 473.4h.7M190.5 479.0h.7M240.6 476.4h.7M206.5 475.2h.7M187.5 469.6h.7M220.1 468.2h.7M202.2 472.9h.7M213.4 480.1h.7M241.7 492.6h.7M222.7 485.5h.7M212.2 490.9h.7M241.9 481.5h.7M210.4 477.5h.7M207.0 468.8h.7M232.4 478.1h.7M239.3 463.1h.7M224.0 476.0h.7M201.4 489.5h.7M203.8 480.4h.7M178.6 486.0h.7M193.3 475.5h.7M227.7 468.5h.7M209.3 474.8h.7M232.8 475.4h.7M220.9 486.6h.7M214.2 492.0h.7M229.6 473.0h.7M209.9 475.6h.7M220.7 477.1h.7M209.3 475.7h.7M200.6 469.5h.7M227.0 478.8h.7M182.6 480.7h.7M240.5 480.9h.7M239.5 469.7h.7M231.1 477.4h.7M207.9 466.0h.7M206.8 484.6h.7M203.8 471.0h.7M207.4 476.3h.7M192.2 475.0h.7M229.1 474.1h.7M234.4 470.8h.7M210.0 465.8h.7M232.6 490.3h.7M196.7 480.0h.7M233.0 480.1h.7M240.3 492.9h.7M220.9 477.5h.7M239.6 482.1h.7M224.5 478.4h.7M222.4 486.5h.7M208.3 481.7h.7M181.8 480.4h.7M186.0 476.4h.7M231.0 480.2h.7M189.6 486.4h.7M221.9 463.7h.7M188.2 477.3h.7M226.3 475.3h.7M239.2 476.1h.7M217.6 464.4h.7M180.5 483.3h.7M225.2 472.3h.7M208.5 476.6h.7M233.4 474.7h.7M187.5 466.5h.7M196.0 475.1h.7M236.8 465.3h.7M231.6 471.6h.7M236.2 476.0h.7M211.3 478.2h.7M221.2 478.6h.7M237.7 477.3h.7M220.2 493.2h.7M183.6 481.3h.7M187.9 469.7h.7M178.2 473.9h.7M185.1 473.6h.7M179.7 477.0h.7M202.6 474.0h.7M217.5 472.2h.7M233.1 489.8h.7M204.2 478.5h.7M188.3 475.9h.7M236.2 476.5h.7M236.7 476.7h.7M240.6 488.0h.7M179.5 481.6h.7M215.8 486.1h.7M218.4 456.4h.7M212.2 480.5h.7M190.0 485.7h.7M236.9 492.1h.7M212.3 478.4h.7M180.4 466.2h.7M200.2 482.4h.7M224.5 474.1h.7M191.0 465.7h.7M227.7 473.9h.7M191.4 485.6h.7M205.7 486.7h.7M196.7 483.3h.7M186.2 470.9h.7M234.6 495.9h.7M199.8 470.1h.7M226.1 477.7h.7M235.0 468.1h.7M196.1 487.5h.7M178.4 481.4h.7M211.6 484.5h.7M193.1 478.9h.7M233.9 477.8h.7M188.5 479.5h.7M224.2 465.1h.7M179.6 485.2h.7M195.3 484.7h.7M190.6 475.5h.7M232.5 478.2h.7M216.3 480.4h.7M220.2 489.3h.7M183.3 481.3h.7M197.8 478.6h.7M235.1 474.7h.7M217.2 467.8h.7M226.5 474.1h.7M210.1 478.8h.7M191.1 476.5h.7M236.5 478.8h.7M194.9 483.5h.7M188.9 481.4h.7M219.5 480.2h.7M183.5 482.9h.7M226.9 479.6h.7M223.6 478.1h.7M202.5 481.6h.7M211.0 466.2h.7M209.2 487.1h.7M182.8 469.3h.7M183.1 484.2h.7M200.6 478.4h.7M178.4 486.1h.7M189.9 478.6h.7M201.4 471.7h.7M218.1 485.9h.7M211.0 479.6h.7M189.1 479.2h.7M226.6 478.9h.7M228.8 485.4h.7M220.4 484.1h.7M222.0 480.0h.7M194.2 467.5h.7M231.7 475.5h.7M215.4 479.1h.7M189.4 490.9h.7M221.8 481.1h.7M218.2 477.7h.7M214.4 486.7h.7M208.1 477.6h.7M227.1 478.2h.7M224.7 479.5h.7M215.7 467.9h.7M182.3 485.1h.7M192.8 481.4h.7M240.6 476.4h.7M203.8 470.4h.7M218.5 479.9h.7M186.4 488.2h.7M214.6 473.9h.7M217.0 471.0h.7M226.8 481.3h.7M240.0 467.2h.7M207.2 462.8h.7M198.0 475.3h.7M188.2 473.6h.7M199.4 476.5h.7M206.4 474.5h.7M239.7 480.7h.7M210.7 476.9h.7M221.2 474.2h.7M224.9 475.2h.7M178.9 482.8h.7M192.9 485.1h.7M140.2 507.3h.7M196.0 525.4h.7M172.6 512.3h.7M166.7 512.6h.7M233.2 508.6h.7M137.3 508.9h.7M229.5 507.5h.7M141.8 522.4h.7M208.9 510.1h.7M165.0 503.4h.7M192.0 509.9h.7M236.6 525.6h.7M222.3 516.4h.7M144.1 499.4h.7M167.2 509.4h.7M187.7 510.9h.7M213.3 496.4h.7M133.6 526.8h.7M229.8 525.3h.7M227.3 499.2h.7M240.1 513.7h.7M155.7 506.0h.7M156.9 502.8h.7M226.3 504.8h.7M190.6 497.7h.7M160.5 518.0h.7M134.9 507.7h.7M157.3 518.4h.7M208.6 522.1h.7M215.1 514.3h.7M171.5 456.5h.7M148.7 490.2h.7M206.0 461.2h.7M208.6 473.7h.7M220.5 489.6h.7M148.4 483.5h.7M138.2 467.8h.7M231.5 454.1h.7M200.9 473.9h.7M143.5 472.6h.7M212.4 448.0h.7M139.3 463.0h.7M203.8 488.3h.7M195.1 469.7h.7M213.1 453.5h.7M143.5 475.3h.7M234.8 466.3h.7M238.3 487.9h.7M243.3 468.0h.7M218.8 446.2h.7M167.9 452.6h.7M242.6 453.2h.7M201.8 489.7h.7M213.5 461.9h.7M207.1 461.4h.7M156.1 490.9h.7M228.6 454.7h.7M205.4 474.2h.7M157.7 489.5h.7M175.3 487.8h.7M149.1 452.5h.7M181.5 467.1h.7M243.8 456.8h.7M176.0 477.9h.7M177.3 456.6h.7M222.9 453.3h.7M142.3 457.8h.7M146.4 451.1h.7M216.5 478.7h.7M147.6 458.1h.7M201.5 463.8h.7M224.5 457.9h.7M196.1 462.9h.7M142.0 459.3h.7M156.1 461.6h.7M193.5 478.3h.7M239.9 453.2h.7M206.2 477.3h.7M211.1 461.3h.7M199.7 449.4h.7M169.5 450.6h.7M201.1 487.3h.7M134.1 447.0h.7M179.4 458.0h.7M223.9 485.6h.7M155.9 448.7h.7M205.6 454.9h.7M213.7 457.6h.7M150.5 484.3h.7M229.1 450.4h.7" stroke="#000" stroke-opacity="0.38" stroke-width="0.7" fill="none" filter="url(#bl)"/>
<text x="0.30" y="571.40" font-size="16.5" font-weight="bold" stroke="#000" stroke-width=".3" text-anchor="start">F</text>
<rect x="14.60" y="596.10" width="115.20" height="110.20" fill="#fff" stroke="#666" stroke-width="0.9"/>
<line x1="57.50" y1="596.10" x2="57.50" y2="706.30" stroke="#707070" stroke-width="0.75"/>
<line x1="14.60" y1="639.30" x2="129.80" y2="639.30" stroke="#707070" stroke-width="0.75"/>
<text x="17.00" y="601.50" font-size="3" fill="#777" text-anchor="start">Q1</text>
<text x="127.40" y="601.50" font-size="3" fill="#777" text-anchor="end">Q2</text>
<text x="17.00" y="704.10" font-size="3" fill="#777" text-anchor="start">Q3</text>
<text x="127.40" y="704.10" font-size="3" fill="#777" text-anchor="end">Q4</text>
<rect x="132.20" y="596.10" width="115.00" height="110.20" fill="#fff" stroke="#666" stroke-width="0.9"/>
<line x1="174.70" y1="596.10" x2="174.70" y2="706.30" stroke="#707070" stroke-width="0.75"/>
<line x1="132.20" y1="639.30" x2="247.20" y2="639.30" stroke="#707070" stroke-width="0.75"/>
<text x="134.60" y="601.50" font-size="3" fill="#777" text-anchor="start">Q1</text>
<text x="244.80" y="601.50" font-size="3" fill="#777" text-anchor="end">Q2</text>
<text x="134.60" y="704.10" font-size="3" fill="#777" text-anchor="start">Q3</text>
<text x="244.80" y="704.10" font-size="3" fill="#777" text-anchor="end">Q4</text>
<text x="71.60" y="593.30" font-size="12" font-weight="bold" stroke="#000" stroke-width=".3" text-anchor="middle">E.G7</text>
<text x="189.60" y="593.30" font-size="11.8" font-weight="bold" stroke="#000" stroke-width=".3" text-anchor="middle">E.G7-gp96-Ig</text>
<text x="124.80" y="611.10" font-size="10.5" font-weight="bold" stroke="#000" stroke-width=".3" text-anchor="end">12</text>
<text x="242.60" y="611.80" font-size="10.5" font-weight="bold" stroke="#000" stroke-width=".3" text-anchor="end">60</text>
<line x1="7.50" y1="601.20" x2="7.50" y2="676.50" stroke="#000" stroke-width="2.2"/>
<path d="M7.50 596.20 L11.50 604.40 L3.50 604.40Z" fill="#000"/>
<text x="0" y="0" font-size="10.6" font-weight="bold" stroke="#000" stroke-width=".3" text-anchor="start" transform="translate(11.20 706.00) rotate(-90) scale(0.9 1)">IFN-&#947;</text>
<text x="0" y="0" font-size="10.6" font-weight="bold" stroke="#000" stroke-width=".3" text-anchor="start" transform="translate(15.20 719.80) scale(0.92 1)">CD8</text>
<line x1="38.80" y1="714.70" x2="244.00" y2="714.70" stroke="#000" stroke-width="2.2"/>
<path d="M249.00 714.70 L240.20 710.60 L240.20 718.80Z" fill="#000"/>
<path d="M70.7 659.4h.7M77.1 663.1h.7M69.3 662.4h.7M87.6 671.4h.7M74.3 661.4h.7M87.2 647.4h.7M85.5 657.5h.7M66.5 670.3h.7M82.2 664.4h.7M85.3 656.2h.7M90.3 664.7h.7M70.7 660.6h.7M69.0 664.7h.7M80.5 646.5h.7M83.8 652.2h.7M65.6 665.2h.7M90.0 657.8h.7M83.4 662.6h.7M70.8 675.9h.7M84.8 657.1h.7M79.3 661.7h.7M73.5 655.0h.7M87.8 654.5h.7M84.6 659.0h.7M84.5 647.6h.7M74.5 642.2h.7M68.6 671.0h.7M66.6 658.8h.7M68.6 669.0h.7M78.5 660.7h.7M75.7 660.9h.7M67.9 665.2h.7M86.8 665.6h.7M71.5 649.7h.7M68.0 669.7h.7M72.8 651.6h.7M78.8 661.3h.7M81.8 680.9h.7M65.7 660.3h.7M69.8 673.5h.7M70.8 656.8h.7M74.1 664.8h.7M90.5 660.1h.7M85.8 663.1h.7M90.5 652.6h.7M91.0 652.0h.7M71.7 662.4h.7M84.9 646.7h.7M79.9 652.7h.7M76.1 665.0h.7M89.5 654.6h.7M82.2 652.3h.7M80.9 650.5h.7M71.9 660.9h.7M89.7 656.6h.7M82.3 660.9h.7M83.6 658.1h.7M84.5 675.0h.7M92.8 656.0h.7M74.6 643.4h.7M76.3 660.6h.7M88.9 659.7h.7M82.3 661.0h.7M91.1 646.3h.7M74.3 669.1h.7M92.1 659.4h.7M78.0 659.3h.7M86.5 646.5h.7M92.0 663.6h.7M81.9 659.1h.7M72.9 670.9h.7M78.2 656.2h.7M71.3 649.4h.7M70.1 660.7h.7M90.4 652.1h.7M79.7 663.1h.7M71.7 650.7h.7M81.0 658.6h.7M75.7 657.8h.7M87.9 659.4h.7M78.2 655.4h.7M69.9 653.0h.7M84.9 659.2h.7M90.4 654.9h.7M86.7 660.9h.7M90.8 657.4h.7M68.9 641.1h.7M73.4 659.2h.7M83.9 671.1h.7M78.9 662.2h.7M72.3 664.6h.7M72.7 663.4h.7M75.8 655.8h.7M85.0 648.7h.7M82.9 666.3h.7M85.6 668.4h.7M81.2 664.3h.7M82.3 663.2h.7M90.5 662.9h.7M75.3 659.4h.7M72.3 661.9h.7M92.8 659.8h.7M90.0 662.4h.7M82.8 651.9h.7M90.7 654.5h.7M82.0 664.3h.7M75.3 656.9h.7M77.9 639.8h.7M74.2 660.7h.7M70.1 640.9h.7M74.6 675.4h.7M82.5 665.6h.7M72.2 665.2h.7M71.7 654.2h.7M77.5 650.4h.7M80.2 657.9h.7M89.5 659.9h.7M75.0 653.4h.7M84.0 661.0h.7M76.6 665.3h.7M83.0 664.6h.7M86.9 651.2h.7M77.9 642.0h.7M87.7 659.7h.7M89.1 654.3h.7M78.8 663.4h.7M72.2 673.1h.7M90.1 673.1h.7M85.6 662.1h.7M72.3 668.8h.7M72.0 673.1h.7M75.1 660.1h.7M77.0 662.0h.7M88.2 666.7h.7M84.2 659.5h.7M81.0 655.7h.7M91.1 653.6h.7M82.4 659.8h.7M87.3 654.7h.7M66.2 666.3h.7M70.7 657.1h.7M88.1 671.7h.7M84.5 669.6h.7M74.0 649.7h.7M70.9 668.6h.7M69.2 656.5h.7M71.0 670.9h.7M88.6 664.0h.7M72.8 659.4h.7M74.1 665.3h.7M85.8 655.3h.7M69.8 662.5h.7M73.3 663.0h.7M84.3 658.7h.7M87.3 663.0h.7M92.5 651.7h.7M68.6 664.4h.7M79.7 650.0h.7M81.9 664.9h.7M78.2 663.7h.7M86.5 665.6h.7M78.1 655.4h.7M79.3 684.5h.7M71.1 658.1h.7M73.3 661.1h.7M85.9 653.8h.7M80.2 671.5h.7M81.7 656.1h.7M76.2 668.0h.7M81.3 652.3h.7M90.3 662.5h.7M75.9 657.0h.7M67.5 667.5h.7M74.0 657.6h.7M86.3 653.0h.7M76.1 663.7h.7M87.3 650.4h.7M72.5 652.3h.7M81.1 666.2h.7M79.6 644.9h.7M81.0 666.2h.7M79.1 656.8h.7M81.9 652.7h.7M85.0 662.0h.7M87.5 665.2h.7M78.0 655.4h.7M71.6 658.7h.7M88.1 666.5h.7M68.3 666.2h.7M73.6 659.7h.7M88.0 653.9h.7M90.1 652.5h.7M83.7 655.3h.7M66.0 665.6h.7M92.3 664.8h.7M68.3 662.6h.7M67.0 671.3h.7M85.9 657.7h.7M90.1 657.1h.7M83.1 657.1h.7M87.7 675.5h.7M83.9 643.6h.7M83.2 663.8h.7M86.4 660.7h.7M77.3 679.0h.7M86.5 669.6h.7M75.1 666.4h.7M64.7 653.0h.7M90.5 664.2h.7M73.3 657.3h.7M68.8 660.6h.7M69.4 661.9h.7M77.2 656.4h.7M74.0 665.3h.7M71.8 673.3h.7M74.5 668.6h.7M80.6 662.0h.7M69.0 644.8h.7M78.8 669.0h.7M67.0 668.9h.7M70.9 658.8h.7M69.8 656.5h.7M85.0 665.6h.7M84.8 653.9h.7M94.1 666.7h.7M87.6 651.7h.7M78.1 653.0h.7M75.8 660.5h.7M85.4 648.7h.7M85.6 660.4h.7M89.3 664.6h.7M76.7 649.9h.7M89.9 667.8h.7M89.8 655.9h.7M87.4 664.8h.7M80.1 662.1h.7M82.4 656.8h.7M90.0 656.2h.7M75.9 646.8h.7M85.9 654.9h.7M71.6 654.3h.7M73.0 673.5h.7M78.0 668.5h.7M89.8 649.5h.7M69.3 666.8h.7M86.5 662.2h.7M78.6 657.4h.7M71.6 664.1h.7M67.3 666.7h.7M73.9 655.9h.7M85.5 658.3h.7M94.1 661.8h.7M87.7 652.6h.7M72.7 661.9h.7M90.5 659.8h.7M68.3 655.0h.7M75.8 653.8h.7M80.4 662.9h.7M73.0 667.4h.7M74.1 663.1h.7M79.3 653.7h.7M90.3 666.4h.7M80.2 661.8h.7M74.2 665.2h.7M73.8 669.7h.7M81.9 653.3h.7M81.3 659.4h.7M89.0 655.7h.7M79.5 653.5h.7M85.4 676.4h.7M82.7 667.9h.7M80.7 646.4h.7M79.3 663.9h.7M76.5 656.1h.7M64.6 669.6h.7M69.4 661.1h.7M68.0 659.1h.7M70.6 661.6h.7M68.0 663.5h.7M77.3 660.7h.7M73.2 658.7h.7M92.4 659.4h.7M75.8 664.5h.7M65.9 651.5h.7M78.1 660.5h.7M80.1 659.5h.7M88.7 656.6h.7M72.6 666.3h.7M74.5 650.2h.7M84.2 657.6h.7M79.7 653.7h.7M78.4 664.8h.7M86.5 656.8h.7M92.2 660.9h.7M79.0 647.8h.7M87.6 664.1h.7M69.2 654.6h.7M75.9 658.5h.7M87.0 659.6h.7M70.6 666.9h.7M79.0 666.4h.7M85.8 674.5h.7M78.9 661.9h.7M66.0 656.7h.7M71.5 656.5h.7M76.1 665.7h.7M66.1 673.2h.7M83.5 663.2h.7M73.0 655.9h.7M77.2 662.7h.7M82.0 662.5h.7M85.1 660.8h.7M87.8 654.6h.7M72.1 640.3h.7M74.3 656.2h.7M83.3 668.9h.7M78.3 662.2h.7M84.3 643.0h.7M74.2 660.5h.7M92.3 645.8h.7M69.0 676.3h.7M85.2 662.0h.7M89.9 650.9h.7M89.7 666.8h.7M77.8 654.3h.7M86.1 665.0h.7M80.6 660.7h.7M81.9 651.1h.7M73.8 665.8h.7M86.6 649.9h.7M67.3 671.1h.7M90.8 661.0h.7M82.4 652.3h.7M78.2 646.1h.7M66.4 673.3h.7M80.3 672.0h.7M71.3 650.5h.7M86.0 673.6h.7M85.2 661.8h.7M75.2 658.7h.7M87.3 659.8h.7M83.6 658.4h.7M72.0 671.9h.7M84.3 661.7h.7M86.5 645.9h.7M78.6 677.1h.7M82.7 667.5h.7M88.1 651.9h.7M91.7 657.7h.7M86.0 653.3h.7M65.2 660.9h.7M89.0 663.6h.7M91.0 662.4h.7M78.6 655.8h.7M88.5 654.1h.7M77.2 667.2h.7M67.1 659.7h.7M73.5 678.4h.7M69.5 654.1h.7M70.5 666.8h.7M76.4 660.9h.7M90.2 654.5h.7M79.0 671.3h.7M89.7 661.5h.7M80.1 653.4h.7M78.3 658.0h.7M64.6 668.6h.7M70.1 650.8h.7M84.5 671.4h.7M84.8 665.9h.7M78.9 658.3h.7M86.8 671.3h.7M77.6 674.4h.7M72.4 665.3h.7M85.1 661.9h.7M86.0 675.2h.7M67.5 672.4h.7M88.7 653.1h.7M72.4 658.9h.7M85.0 658.8h.7M86.8 657.2h.7M87.2 648.6h.7M71.2 667.7h.7M83.7 661.2h.7M74.7 661.3h.7M87.0 671.7h.7M69.9 656.0h.7M89.6 660.0h.7M88.8 662.7h.7M80.4 657.1h.7M82.6 659.6h.7M81.4 666.6h.7M88.7 660.4h.7M67.3 671.1h.7M88.1 654.5h.7M76.5 662.1h.7M77.4 649.1h.7M84.7 659.6h.7M70.8 654.9h.7M69.0 671.4h.7M83.6 666.4h.7M84.1 664.6h.7M74.0 675.2h.7M80.1 672.0h.7M73.0 666.2h.7M69.5 655.0h.7M72.4 648.9h.7M71.5 660.3h.7M78.0 657.7h.7M74.5 655.3h.7M77.7 658.2h.7M92.8 647.3h.7M75.4 672.4h.7M69.7 651.4h.7M91.8 655.1h.7M79.8 665.1h.7M90.9 647.5h.7M77.9 667.9h.7M79.2 668.0h.7M71.7 658.0h.7M90.6 651.9h.7M73.9 656.7h.7M89.1 645.7h.7M72.5 671.6h.7M86.8 660.9h.7M82.9 654.6h.7M85.4 653.2h.7M70.2 665.1h.7M90.0 672.6h.7M80.1 650.3h.7M68.9 655.9h.7M82.0 646.4h.7M67.5 665.9h.7M81.1 661.8h.7M82.5 678.6h.7M74.2 659.5h.7M71.9 657.0h.7M72.0 654.8h.7M82.2 667.4h.7M85.5 647.4h.7M89.1 666.5h.7M73.6 662.5h.7M69.0 656.4h.7M81.1 653.2h.7M86.1 669.0h.7M82.7 675.5h.7M82.7 656.9h.7M74.0 664.8h.7M82.3 674.5h.7M89.5 655.5h.7M71.5 658.5h.7M86.9 650.7h.7M87.1 659.3h.7M96.6 659.8h.7M74.2 657.1h.7M76.8 654.5h.7M69.0 647.7h.7M72.4 649.7h.7M87.0 652.6h.7M71.1 665.7h.7M87.8 656.4h.7M75.9 653.6h.7M87.4 665.8h.7M72.9 665.0h.7M82.7 654.4h.7M80.2 655.4h.7M73.1 665.8h.7M73.7 663.4h.7M72.6 653.7h.7M69.2 662.4h.7M88.2 660.3h.7M89.0 669.5h.7M86.5 653.5h.7M66.2 667.6h.7M89.7 664.0h.7M86.0 652.3h.7M85.2 669.0h.7M80.5 667.9h.7M72.0 649.8h.7M72.7 676.6h.7M76.8 651.2h.7M71.3 653.1h.7M70.6 657.9h.7M89.8 666.7h.7M75.2 665.2h.7M84.0 659.7h.7M67.3 671.6h.7M87.2 663.8h.7M83.7 671.8h.7M64.5 683.4h.7M70.9 662.1h.7M87.0 639.6h.7M65.9 656.8h.7M67.6 651.7h.7M70.2 661.3h.7M70.8 661.3h.7M87.1 650.5h.7M91.1 651.1h.7M82.1 658.3h.7M74.1 658.9h.7M87.6 639.2h.7M81.4 668.4h.7M69.2 660.8h.7M70.9 660.4h.7M86.3 662.9h.7M79.2 652.1h.7M77.6 660.1h.7M79.8 669.0h.7M69.7 669.3h.7M81.8 664.3h.7M71.5 658.2h.7M90.1 653.8h.7M90.0 671.3h.7M79.8 664.8h.7M90.1 657.0h.7M84.1 642.6h.7M80.1 653.3h.7M84.5 644.6h.7M82.9 670.8h.7M87.8 662.1h.7M84.4 654.4h.7M71.5 658.2h.7M65.4 682.0h.7M87.3 670.6h.7M84.5 649.4h.7M82.2 659.4h.7M81.5 650.3h.7M91.3 646.2h.7M68.3 680.5h.7M74.3 673.5h.7M90.7 660.9h.7M84.4 657.4h.7M81.4 662.2h.7M71.5 669.1h.7M67.1 648.3h.7M70.1 644.9h.7M67.8 676.2h.7M71.7 662.8h.7M77.3 673.9h.7M75.2 662.5h.7M91.8 672.8h.7M87.3 655.4h.7M79.8 664.7h.7M67.5 673.5h.7M73.8 669.0h.7M68.9 656.6h.7M83.3 668.0h.7M77.0 654.9h.7M87.7 648.5h.7M74.5 664.9h.7M87.9 672.2h.7M77.6 667.6h.7M87.7 649.9h.7M75.8 667.8h.7M83.8 666.2h.7M71.7 656.6h.7M73.0 639.6h.7M69.3 669.0h.7M73.2 668.0h.7M85.9 664.7h.7M80.7 645.9h.7M86.8 648.0h.7M81.3 669.0h.7M77.6 667.3h.7M78.5 664.7h.7M67.5 658.4h.7M81.2 663.8h.7M69.7 655.9h.7M70.2 657.9h.7M66.0 653.2h.7M69.9 662.7h.7M81.1 657.0h.7M76.0 668.5h.7M74.4 666.6h.7M76.6 653.6h.7M86.6 676.0h.7M74.1 651.0h.7M72.6 664.3h.7M76.3 669.7h.7M68.1 671.3h.7M76.1 641.8h.7M81.3 669.0h.7M91.4 670.8h.7M73.6 672.7h.7M92.7 641.7h.7M69.0 654.8h.7M80.6 659.7h.7M87.4 656.7h.7M70.2 671.9h.7M91.5 654.7h.7M69.8 670.9h.7M77.1 665.3h.7M87.9 648.2h.7M91.6 652.1h.7M73.4 656.5h.7M77.8 661.3h.7M84.6 668.9h.7M78.5 658.9h.7M87.6 668.2h.7M76.8 647.1h.7M93.4 634.6h.7M81.8 657.6h.7M78.5 664.4h.7M82.5 657.4h.7M74.2 651.9h.7M76.9 664.1h.7M69.6 676.9h.7M86.3 659.6h.7M73.4 654.3h.7M71.1 653.3h.7M83.7 677.2h.7M73.6 660.2h.7M87.8 665.7h.7M78.2 670.9h.7M82.6 669.7h.7M86.7 652.7h.7M76.3 668.6h.7M88.1 667.7h.7M87.5 664.7h.7M89.8 669.1h.7M77.4 655.7h.7M69.3 659.9h.7M71.7 656.0h.7M70.5 666.9h.7M80.3 654.9h.7M90.7 663.8h.7M78.4 651.2h.7M80.3 659.5h.7M67.8 657.4h.7M76.1 659.5h.7M72.2 661.6h.7M80.3 658.9h.7M79.8 658.6h.7M92.8 642.9h.7M77.9 669.9h.7M88.4 655.2h.7M69.6 658.4h.7M78.9 653.5h.7M82.0 669.0h.7M75.8 652.8h.7M66.5 664.8h.7M77.2 670.5h.7M81.2 674.5h.7M88.2 670.6h.7M72.6 665.8h.7M71.0 650.3h.7M86.0 671.5h.7M77.1 670.6h.7M73.6 667.6h.7M75.2 667.3h.7M75.4 661.2h.7M83.4 656.2h.7M86.2 669.7h.7M73.6 671.3h.7M84.8 651.7h.7M82.1 668.3h.7M80.1 662.6h.7M74.0 668.1h.7M67.5 662.9h.7M71.6 670.0h.7M76.0 669.3h.7M80.2 668.1h.7M80.1 648.9h.7M84.2 667.6h.7M75.8 661.0h.7M85.7 651.1h.7M74.1 666.6h.7M77.1 649.0h.7M67.7 668.2h.7M87.4 675.0h.7M74.9 656.4h.7M83.6 668.4h.7M77.9 664.5h.7M75.8 666.1h.7M73.2 649.2h.7M87.8 665.8h.7M77.6 661.8h.7M68.4 666.9h.7M70.9 660.7h.7M78.5 669.9h.7M79.3 663.0h.7M73.2 666.4h.7M71.0 672.2h.7M87.9 662.2h.7M82.8 669.1h.7M68.7 662.6h.7M85.0 665.1h.7M68.0 656.3h.7M87.2 667.3h.7M86.7 671.1h.7M68.4 660.0h.7M89.7 667.4h.7M88.8 664.3h.7M74.3 651.5h.7M82.8 663.7h.7M80.7 671.8h.7M70.9 656.7h.7M74.8 645.8h.7M71.1 662.5h.7M81.7 655.4h.7M79.3 676.7h.7M91.2 660.4h.7M74.9 660.7h.7M79.3 655.5h.7M75.0 662.9h.7M75.0 656.1h.7M81.1 653.2h.7M86.7 660.3h.7M85.9 654.0h.7M75.7 651.0h.7M84.1 660.2h.7M88.2 655.0h.7M89.6 649.3h.7M75.5 674.7h.7M78.8 643.2h.7M66.7 672.9h.7M81.6 649.0h.7M72.1 661.6h.7M76.2 679.7h.7M83.5 643.0h.7M69.6 649.4h.7M67.8 671.7h.7M81.1 662.2h.7M85.1 656.2h.7M90.7 660.5h.7M78.7 652.8h.7M66.6 661.8h.7M66.6 673.3h.7M86.3 657.6h.7M83.7 662.0h.7M70.1 670.8h.7M77.7 677.4h.7M71.1 655.9h.7M85.0 663.3h.7M87.6 656.1h.7M93.0 655.4h.7M82.1 657.5h.7M79.2 655.5h.7M92.5 646.4h.7M78.8 644.2h.7M83.3 654.7h.7M70.3 661.9h.7M73.7 670.9h.7M86.4 656.4h.7M73.8 659.4h.7M90.0 666.3h.7M82.3 667.0h.7M86.9 659.8h.7M80.3 660.4h.7M82.1 676.4h.7M81.2 658.0h.7M73.1 656.7h.7M76.7 647.3h.7M89.3 664.4h.7M82.2 658.6h.7M88.6 676.7h.7M75.0 658.0h.7M67.7 667.6h.7M85.5 668.6h.7M78.4 674.5h.7M85.8 649.9h.7M67.1 673.8h.7M73.4 660.9h.7M82.5 659.9h.7M87.6 658.2h.7M70.2 657.5h.7M88.0 657.9h.7M84.0 641.4h.7M74.9 665.0h.7M67.1 661.3h.7M90.4 652.9h.7M87.5 660.3h.7M81.1 679.9h.7M74.6 664.0h.7M70.4 657.6h.7M74.6 675.0h.7M83.7 654.2h.7M75.9 659.5h.7M88.3 656.2h.7M84.7 658.8h.7M70.0 666.9h.7M71.5 665.6h.7M87.8 654.7h.7M85.4 659.7h.7M85.5 661.5h.7M70.2 657.4h.7M91.2 660.5h.7M82.2 654.8h.7M77.9 654.7h.7M82.5 661.2h.7M73.2 652.2h.7M85.5 664.2h.7M70.8 659.2h.7M73.3 653.1h.7M87.1 655.7h.7M75.1 656.8h.7M87.3 659.4h.7M87.6 661.7h.7M83.6 659.0h.7M75.0 653.6h.7M76.0 672.6h.7M71.6 668.3h.7M74.4 661.7h.7M73.2 663.5h.7M86.5 658.6h.7M81.6 661.5h.7M74.3 682.8h.7M73.1 669.0h.7M71.3 669.4h.7M68.3 657.5h.7M70.0 665.7h.7M79.8 679.4h.7M82.4 664.3h.7M84.3 669.6h.7M75.1 671.1h.7M81.5 666.1h.7M67.0 673.8h.7M70.1 662.7h.7M69.0 664.9h.7M76.8 655.6h.7M75.4 682.5h.7M70.5 663.3h.7M88.2 661.7h.7M69.1 672.2h.7M78.3 656.7h.7M85.4 660.7h.7M64.7 654.3h.7M70.8 660.9h.7M78.2 657.5h.7M80.1 665.2h.7M82.3 659.7h.7M83.2 655.8h.7M66.4 658.3h.7M69.1 659.8h.7M90.5 656.5h.7M71.8 668.5h.7M79.0 666.3h.7M89.2 661.9h.7M68.9 650.9h.7M90.5 665.0h.7M85.0 650.2h.7M79.7 662.3h.7M72.3 661.1h.7M75.9 655.9h.7M85.2 653.9h.7M72.7 655.0h.7M72.2 677.6h.7M78.8 658.5h.7M88.5 659.0h.7M74.0 668.6h.7M75.1 664.2h.7M91.1 669.4h.7M80.9 650.7h.7M86.9 651.8h.7M83.1 688.1h.7M82.3 660.4h.7M76.1 658.4h.7M82.9 662.0h.7M82.8 668.9h.7M71.4 651.0h.7M74.0 663.1h.7M68.7 660.5h.7M88.9 666.2h.7M78.4 662.1h.7M79.1 656.4h.7M81.8 653.6h.7M94.8 640.8h.7M65.9 668.8h.7M74.6 648.7h.7M88.9 657.4h.7M73.6 674.3h.7M74.4 657.3h.7M88.0 665.7h.7M71.8 659.0h.7M67.0 666.4h.7M90.6 661.0h.7M86.2 656.6h.7M76.3 671.8h.7M77.5 658.5h.7M92.0 649.8h.7M71.8 658.0h.7M76.4 665.1h.7M74.3 651.6h.7M74.0 667.2h.7M66.1 667.0h.7M73.5 678.1h.7M79.3 655.5h.7M90.5 666.1h.7M76.7 647.1h.7M78.8 657.3h.7M67.6 661.6h.7M71.8 664.0h.7M74.9 660.3h.7M89.7 660.0h.7M73.0 655.7h.7M81.1 657.1h.7M86.5 663.2h.7M88.3 665.3h.7M82.9 665.9h.7M72.0 668.8h.7M84.1 670.4h.7M82.3 646.0h.7M81.4 656.5h.7M88.5 659.4h.7M68.0 655.5h.7M83.0 669.3h.7M86.0 666.8h.7M83.3 659.8h.7M69.9 661.7h.7M88.2 671.0h.7M74.9 657.9h.7M75.7 658.2h.7M86.3 668.1h.7M89.1 664.5h.7M71.2 672.3h.7M77.3 663.7h.7M83.1 666.8h.7M80.0 656.3h.7M75.1 653.1h.7M75.2 660.6h.7M82.6 639.1h.7M85.8 664.0h.7M73.9 668.6h.7M71.7 661.3h.7M86.8 658.9h.7M74.7 669.6h.7M72.8 660.4h.7M71.5 668.7h.7M74.1 678.6h.7M69.7 666.6h.7M74.0 668.4h.7M71.5 664.7h.7M84.6 662.8h.7M66.5 663.0h.7M78.0 661.3h.7M88.6 669.5h.7M83.1 647.6h.7M89.9 658.5h.7M71.7 666.1h.7M88.9 653.9h.7M71.6 659.9h.7M89.7 655.1h.7M90.2 664.3h.7M81.9 667.8h.7M72.4 672.5h.7M82.1 664.8h.7M86.5 654.9h.7M78.4 662.8h.7M86.3 665.4h.7M67.7 672.2h.7M85.4 643.3h.7M72.6 663.7h.7M79.9 645.9h.7M75.0 666.5h.7M69.9 664.3h.7M71.9 664.8h.7M84.2 667.9h.7M68.8 663.9h.7M80.8 655.5h.7M79.7 663.6h.7M68.6 670.5h.7M71.4 659.8h.7M78.3 661.0h.7M78.4 650.9h.7M73.0 670.1h.7M73.6 656.6h.7M71.6 654.7h.7M77.6 657.1h.7M92.4 653.7h.7M74.3 658.7h.7M79.3 671.1h.7M79.3 667.2h.7M74.8 672.3h.7M67.0 672.8h.7M83.3 653.5h.7M73.4 664.6h.7M66.5 672.9h.7M72.9 679.4h.7M90.9 649.2h.7M69.7 649.2h.7M88.9 664.5h.7M84.4 658.0h.7M88.8 652.7h.7M79.9 663.8h.7M87.0 654.3h.7M89.9 642.3h.7M71.9 660.5h.7M68.9 661.7h.7M78.9 665.9h.7M72.0 668.3h.7M80.7 662.2h.7M73.6 658.8h.7M92.4 655.3h.7M86.3 647.3h.7M79.5 657.1h.7M68.5 668.8h.7M72.9 666.0h.7M73.0 677.3h.7M88.7 659.5h.7M71.8 646.2h.7M78.7 667.4h.7M86.4 669.1h.7M86.9 651.2h.7M87.2 647.6h.7M74.9 661.9h.7M74.6 666.5h.7M73.2 651.6h.7M80.4 657.9h.7M80.3 654.4h.7M78.6 651.1h.7M91.5 650.0h.7M75.4 661.8h.7M72.2 657.6h.7M85.6 655.2h.7M86.1 639.5h.7M85.3 674.8h.7M81.7 653.0h.7M66.9 659.5h.7M81.5 651.4h.7M70.1 663.7h.7M74.1 648.4h.7M84.6 661.4h.7M89.1 659.1h.7M87.3 668.1h.7M73.6 651.7h.7M76.7 655.4h.7M87.7 658.7h.7M85.6 677.6h.7M68.7 648.7h.7M72.2 663.0h.7M81.5 655.3h.7M72.8 663.1h.7M69.1 665.9h.7M72.6 661.8h.7M79.3 662.7h.7M83.9 662.9h.7M88.8 655.8h.7M82.5 658.8h.7M80.9 647.2h.7M79.7 657.7h.7M85.7 654.4h.7M82.1 658.5h.7M79.6 666.6h.7M88.4 663.7h.7M66.9 664.4h.7M65.9 669.5h.7M84.6 641.2h.7M79.3 664.1h.7M87.2 660.4h.7M72.5 659.8h.7M82.6 650.0h.7M79.7 665.0h.7M70.0 669.9h.7M65.9 668.9h.7M75.2 659.9h.7M72.8 665.7h.7M70.8 668.0h.7M75.6 675.3h.7M73.7 670.5h.7M81.7 661.7h.7M81.9 661.3h.7M81.7 661.9h.7M82.9 662.4h.7M70.8 656.5h.7M80.8 666.8h.7M87.3 654.9h.7M85.3 654.0h.7M73.0 663.4h.7M78.1 655.9h.7M82.0 658.6h.7M83.8 643.7h.7M72.5 667.0h.7M89.1 660.5h.7M88.5 659.5h.7M79.6 664.3h.7M75.3 662.2h.7M90.7 654.9h.7M76.4 676.8h.7M77.4 656.9h.7M68.7 668.4h.7M89.8 675.4h.7M84.1 655.5h.7M70.2 661.3h.7M73.3 653.9h.7M89.9 669.0h.7M67.2 657.8h.7M87.7 651.6h.7M79.3 671.2h.7M81.7 668.0h.7M83.2 653.3h.7M73.6 670.1h.7M81.4 662.1h.7M88.1 682.5h.7M78.6 674.4h.7M80.9 656.0h.7M78.9 658.3h.7M71.3 653.4h.7M75.4 661.6h.7M84.0 660.9h.7M76.5 666.5h.7M70.8 661.2h.7M87.2 648.6h.7M81.3 653.9h.7M71.4 672.0h.7M74.0 669.9h.7M90.6 659.2h.7M85.6 659.4h.7M73.7 659.1h.7M71.4 660.7h.7M89.7 646.9h.7M66.1 667.8h.7M82.0 655.2h.7M80.7 661.7h.7M91.1 640.0h.7M78.1 662.4h.7M69.4 671.4h.7M82.8 642.4h.7M88.2 672.8h.7M73.8 664.3h.7M69.0 654.6h.7M70.0 647.6h.7M88.4 669.9h.7M88.4 662.6h.7M78.6 665.3h.7M76.0 658.3h.7M76.8 654.0h.7M71.1 667.6h.7M78.7 652.8h.7M76.7 667.8h.7M85.9 646.9h.7M69.5 653.0h.7M94.9 648.7h.7M83.1 671.1h.7M78.3 646.3h.7M88.3 651.2h.7M69.7 665.9h.7M82.5 662.4h.7M72.4 678.3h.7M81.4 675.5h.7M86.7 665.5h.7M66.1 666.1h.7M72.2 645.7h.7M76.5 653.3h.7M83.2 657.8h.7M87.8 659.1h.7M87.8 649.3h.7M78.6 652.9h.7M70.1 653.6h.7M77.3 669.1h.7M80.6 664.0h.7M67.4 657.8h.7M86.1 658.3h.7M86.8 662.9h.7M84.6 654.8h.7M70.0 658.4h.7M81.8 646.5h.7M71.6 665.9h.7M84.6 668.3h.7M69.0 663.4h.7M81.7 664.4h.7M80.1 663.5h.7M87.1 677.1h.7M80.8 662.2h.7M85.6 649.7h.7M71.5 652.0h.7M77.6 666.3h.7M74.0 669.2h.7M88.5 666.8h.7M91.0 667.3h.7M68.7 662.0h.7M84.3 648.4h.7M70.4 654.7h.7M84.0 645.8h.7M90.5 657.3h.7M68.6 649.4h.7M82.7 661.3h.7M81.7 659.1h.7M91.9 644.6h.7M75.4 666.4h.7M85.1 666.7h.7M82.4 649.1h.7M85.7 661.6h.7M83.9 666.3h.7M81.7 658.1h.7M76.7 667.4h.7M84.0 662.0h.7M84.9 669.2h.7M85.6 662.0h.7M85.0 659.1h.7M77.2 664.6h.7M66.1 666.8h.7M69.4 662.5h.7M84.2 656.8h.7M80.2 654.0h.7M82.6 657.4h.7M81.0 655.7h.7M75.8 662.1h.7M74.0 661.8h.7M87.9 659.7h.7M74.1 660.4h.7M80.1 661.8h.7M67.6 673.2h.7M88.5 670.2h.7M80.4 663.8h.7M86.8 657.7h.7M72.3 659.6h.7M82.0 658.4h.7M77.4 655.3h.7M91.7 649.2h.7M69.7 640.2h.7M71.7 662.0h.7M79.4 670.1h.7M84.2 653.0h.7M77.5 664.5h.7M71.5 657.2h.7M76.1 662.6h.7M69.9 653.8h.7M85.9 658.5h.7M76.7 659.4h.7M91.4 640.9h.7M75.4 662.1h.7M67.3 659.2h.7M70.0 640.0h.7M73.1 665.7h.7M72.3 660.1h.7M84.8 662.0h.7M83.8 663.3h.7M74.7 656.9h.7M73.1 651.5h.7M71.4 656.7h.7M67.7 656.8h.7M80.4 678.5h.7M68.0 675.5h.7M84.4 656.3h.7M76.5 656.9h.7M83.5 663.0h.7M81.4 664.9h.7M68.7 654.6h.7M87.8 652.1h.7M89.4 676.2h.7M66.9 669.0h.7M91.1 647.5h.7M89.7 645.8h.7M81.8 653.5h.7M81.6 662.1h.7M66.9 664.8h.7M74.4 657.5h.7M88.2 647.0h.7M88.1 662.1h.7M72.5 665.2h.7M78.9 660.3h.7M76.8 656.2h.7M72.3 665.0h.7M87.8 659.8h.7M86.0 651.0h.7M65.7 661.0h.7M85.9 649.6h.7M67.7 668.2h.7M70.8 664.1h.7M76.1 652.0h.7M69.5 662.0h.7M79.2 670.6h.7M83.0 642.5h.7M75.8 659.1h.7M80.9 673.9h.7M68.1 647.4h.7M70.1 658.9h.7M79.0 648.5h.7M68.5 659.7h.7M86.7 640.4h.7M90.3 646.8h.7M69.2 655.8h.7M86.0 661.4h.7M82.1 663.4h.7M91.7 663.8h.7M83.7 669.8h.7M89.8 666.0h.7M88.1 666.4h.7M88.6 652.1h.7M87.5 658.9h.7M89.4 686.7h.7M68.7 679.1h.7M82.8 667.1h.7M83.6 666.4h.7M74.7 668.5h.7M77.4 656.9h.7M68.8 676.5h.7M74.2 657.1h.7M87.4 659.6h.7M79.0 678.4h.7M91.1 642.9h.7M74.4 663.3h.7M75.5 645.9h.7M87.6 654.8h.7M91.3 659.5h.7M76.1 657.3h.7M76.6 661.7h.7M64.8 653.8h.7M69.9 659.4h.7M91.9 650.3h.7M90.2 657.0h.7M83.5 648.7h.7M90.5 665.7h.7M70.9 649.4h.7M82.6 666.0h.7M94.9 656.8h.7M74.2 657.7h.7M82.1 670.1h.7M84.4 661.2h.7M71.6 644.4h.7M72.3 664.4h.7M83.7 635.9h.7M74.5 662.5h.7M69.7 656.9h.7M73.1 648.5h.7M84.4 660.9h.7M79.4 657.7h.7M79.3 677.1h.7M81.2 656.6h.7M73.5 676.6h.7M80.2 671.9h.7M76.8 655.1h.7M72.2 653.4h.7M75.0 671.3h.7M80.2 659.1h.7M84.8 661.6h.7M89.2 658.1h.7M71.3 650.1h.7M83.9 657.1h.7M82.2 652.2h.7M80.9 647.4h.7M78.6 657.8h.7M81.2 675.3h.7M79.8 673.9h.7M78.6 659.7h.7M81.3 661.4h.7M77.3 664.6h.7M68.8 671.7h.7M74.0 662.9h.7M85.6 656.2h.7M70.5 656.9h.7M74.0 669.8h.7M79.5 682.2h.7M73.4 655.0h.7M68.1 642.9h.7M75.0 667.1h.7M79.7 659.6h.7M69.2 661.4h.7M82.6 670.7h.7M84.6 660.8h.7M87.4 649.0h.7M73.0 643.7h.7M77.6 659.8h.7M87.8 650.5h.7M79.5 662.7h.7M79.5 649.5h.7M78.0 657.3h.7M86.7 647.8h.7M78.5 657.2h.7M87.6 656.5h.7M89.7 665.3h.7M88.9 671.6h.7M84.3 658.7h.7M73.4 653.0h.7M77.4 676.8h.7M87.5 663.3h.7M87.5 665.4h.7M71.0 665.4h.7M81.5 672.6h.7M66.0 668.8h.7M68.7 666.0h.7M76.6 666.8h.7M71.9 653.0h.7M83.2 655.1h.7M78.7 659.4h.7M76.4 661.1h.7M91.5 660.4h.7M71.3 662.9h.7M70.7 660.5h.7M75.2 656.7h.7M69.3 646.5h.7M86.1 667.4h.7M84.6 665.3h.7M81.6 652.8h.7M84.7 664.5h.7M75.9 663.6h.7M71.7 660.9h.7M71.3 644.7h.7M72.7 650.1h.7M80.1 655.2h.7M72.2 674.0h.7M78.8 653.0h.7M67.6 657.3h.7M68.1 650.9h.7M82.8 656.1h.7M74.7 663.2h.7M89.9 642.7h.7M90.4 636.2h.7M77.3 665.9h.7M76.1 660.6h.7M82.1 655.1h.7M68.2 668.5h.7M85.3 668.5h.7M79.2 642.5h.7M75.3 658.9h.7M79.8 669.7h.7M86.2 654.6h.7M88.9 657.6h.7M86.2 668.4h.7M66.7 658.0h.7M73.4 650.1h.7M74.8 654.5h.7M68.1 649.0h.7M78.5 665.0h.7M79.8 645.6h.7M80.5 668.8h.7M75.5 646.3h.7M75.1 660.7h.7M83.2 647.8h.7M68.4 657.6h.7M65.7 669.0h.7M81.9 669.8h.7M67.9 671.4h.7M73.7 659.5h.7M70.1 661.2h.7M81.9 662.3h.7M71.8 665.5h.7M82.2 656.9h.7M80.6 669.6h.7M76.3 663.0h.7M90.1 670.0h.7M85.9 664.3h.7M69.8 666.0h.7M70.5 654.1h.7M66.6 656.7h.7M88.9 649.3h.7M69.9 657.8h.7M75.0 658.8h.7M70.8 667.4h.7M86.2 649.6h.7M83.7 687.8h.7M85.0 659.2h.7M83.3 671.0h.7M76.8 669.1h.7M71.0 638.9h.7M65.3 658.0h.7M75.3 672.8h.7M90.9 639.7h.7M66.9 666.8h.7M73.4 652.5h.7M78.7 656.3h.7M64.5 662.2h.7M76.6 644.4h.7M84.5 661.9h.7M74.4 654.8h.7M79.1 653.9h.7M73.4 666.2h.7M70.2 690.1h.7M84.4 663.2h.7M91.2 665.0h.7M81.9 659.8h.7M74.3 654.1h.7M74.5 662.5h.7M80.1 673.2h.7M85.3 661.9h.7M86.8 667.8h.7M73.7 658.3h.7M66.2 681.7h.7M76.5 646.2h.7M81.2 665.2h.7M85.3 664.9h.7M68.1 662.5h.7M78.7 650.8h.7M75.7 650.6h.7M86.8 658.2h.7M82.6 661.1h.7M86.3 649.9h.7M74.8 651.2h.7M77.5 665.0h.7M85.9 669.0h.7M68.4 655.5h.7M86.9 654.3h.7M87.0 654.0h.7M75.4 681.3h.7M82.9 664.4h.7M86.8 659.6h.7M71.0 668.8h.7M87.2 679.7h.7M88.1 670.2h.7M75.1 648.1h.7M90.2 659.5h.7M80.3 656.8h.7M81.1 657.3h.7M88.8 649.8h.7M88.8 656.9h.7M74.1 651.0h.7M67.5 663.1h.7M86.8 660.6h.7M79.8 648.1h.7M83.5 645.6h.7M79.3 656.1h.7M87.4 665.7h.7M78.9 664.4h.7M84.5 659.6h.7M86.2 632.0h.7M67.8 656.0h.7M81.2 653.9h.7M80.1 657.3h.7M71.2 649.8h.7M71.0 656.5h.7M70.4 654.5h.7M73.8 683.3h.7M86.0 666.2h.7M76.2 658.5h.7M88.4 659.8h.7M70.3 659.1h.7M73.9 661.8h.7M72.3 656.7h.7M86.4 660.0h.7M69.9 668.9h.7M84.6 667.2h.7M79.5 662.8h.7M68.4 671.5h.7M75.2 662.1h.7M71.2 651.8h.7M83.9 645.3h.7M80.4 654.2h.7M76.9 659.6h.7M90.8 663.6h.7M86.1 669.3h.7M84.1 655.3h.7M80.4 653.3h.7M74.9 666.7h.7M70.8 670.2h.7M80.6 656.1h.7M78.8 663.0h.7M71.3 671.9h.7M83.7 662.9h.7M79.4 659.7h.7M81.5 642.4h.7M75.4 671.5h.7M71.5 665.6h.7M68.0 661.2h.7M92.2 656.2h.7M85.9 649.5h.7M76.5 659.3h.7M67.2 659.2h.7M74.8 669.5h.7M88.2 649.8h.7M85.2 672.4h.7M70.6 660.5h.7M87.8 670.3h.7M72.2 651.9h.7M66.2 663.1h.7M66.7 670.6h.7M68.2 661.1h.7M74.6 647.6h.7M88.1 657.3h.7M78.0 664.7h.7M86.0 648.2h.7M67.7 647.9h.7M85.0 662.2h.7M70.5 652.1h.7M78.2 666.0h.7M95.0 650.1h.7M89.2 644.5h.7M83.5 653.5h.7M78.5 672.9h.7M76.2 652.8h.7M80.4 660.1h.7M80.0 662.3h.7M87.1 652.1h.7M81.5 669.5h.7M88.2 661.7h.7M89.2 664.0h.7M86.8 645.8h.7M71.8 645.3h.7M67.3 636.7h.7M76.0 658.6h.7M88.6 658.2h.7M81.6 666.3h.7M80.0 672.8h.7M89.4 658.0h.7M83.8 657.9h.7M68.2 664.0h.7M74.5 673.2h.7M87.0 653.2h.7M85.0 665.5h.7M68.3 658.1h.7M89.8 657.3h.7M81.0 667.1h.7M76.5 653.5h.7M77.8 651.1h.7M88.1 665.8h.7M88.1 660.0h.7M75.7 657.9h.7M82.4 659.1h.7M65.2 664.4h.7M85.5 657.0h.7M64.5 666.7h.7M84.0 663.7h.7M74.7 672.8h.7M67.5 671.0h.7M70.1 667.5h.7M89.4 658.5h.7M70.9 661.2h.7M82.7 655.2h.7M70.1 684.5h.7M79.9 658.3h.7M85.4 664.9h.7M72.7 671.8h.7M85.0 648.6h.7M77.2 653.2h.7M68.6 656.8h.7M87.2 651.7h.7M75.6 649.4h.7M80.0 655.8h.7M92.1 671.2h.7M85.4 666.4h.7M73.4 660.5h.7M78.9 660.5h.7M85.0 646.1h.7M70.0 666.1h.7M88.4 663.8h.7M70.4 651.0h.7M66.1 662.0h.7M80.1 658.6h.7M79.7 655.8h.7M67.7 651.8h.7M79.2 654.5h.7M72.4 652.2h.7M84.1 664.2h.7M77.9 663.3h.7M78.0 663.0h.7M72.0 658.7h.7M91.5 656.8h.7M70.8 677.6h.7M81.4 644.4h.7M88.2 670.4h.7M82.9 663.2h.7M75.4 660.8h.7M82.6 655.9h.7M86.4 658.4h.7M74.2 650.2h.7M73.3 648.4h.7M75.1 659.3h.7M68.7 646.2h.7M83.4 667.4h.7M89.0 669.7h.7M76.6 631.0h.7M90.0 647.0h.7M76.1 662.6h.7M90.8 662.1h.7M67.4 661.2h.7M73.7 663.8h.7M87.8 666.6h.7M87.2 667.6h.7M88.8 675.5h.7M80.5 660.5h.7M78.7 667.6h.7M90.7 646.5h.7M82.8 659.1h.7M90.9 649.9h.7M76.5 672.1h.7M84.8 680.1h.7M80.9 664.9h.7M85.3 649.2h.7M71.7 659.3h.7M78.9 660.5h.7M71.4 662.0h.7M77.5 669.5h.7M78.0 668.4h.7M78.2 637.8h.7M78.1 656.1h.7M83.6 655.5h.7M71.4 672.3h.7M87.7 658.0h.7M77.4 648.6h.7M83.3 649.0h.7M71.1 660.8h.7M65.9 668.0h.7M84.3 673.1h.7M78.2 658.8h.7M86.6 656.3h.7M83.2 674.1h.7M85.4 656.4h.7M72.7 672.7h.7M76.4 662.3h.7M71.6 662.3h.7M76.1 658.3h.7M82.6 662.8h.7M89.1 656.4h.7M92.0 654.5h.7M85.1 659.2h.7M80.4 654.8h.7M73.4 662.9h.7M76.6 661.0h.7M71.0 658.1h.7M85.6 658.6h.7M73.2 658.4h.7M77.8 675.1h.7M72.1 660.2h.7M72.2 655.3h.7M87.9 657.8h.7M70.6 665.9h.7M76.2 658.6h.7M69.1 659.0h.7M86.5 658.1h.7M89.1 661.7h.7M76.1 663.6h.7M86.4 664.1h.7M71.8 646.4h.7M71.5 651.2h.7M85.3 638.0h.7M75.7 667.1h.7M89.2 669.7h.7M92.3 671.3h.7M67.2 661.5h.7M79.6 670.1h.7M81.2 660.0h.7M94.1 659.3h.7M90.1 647.2h.7M71.3 653.6h.7M90.2 655.3h.7M83.9 668.1h.7M75.7 674.4h.7M77.9 656.3h.7M86.1 663.5h.7M70.8 662.6h.7M77.0 653.7h.7M73.1 645.7h.7M78.8 653.9h.7M88.3 648.1h.7M87.2 657.6h.7M69.9 659.1h.7M73.2 658.8h.7M85.5 658.9h.7M71.0 664.4h.7M69.6 652.4h.7M87.0 667.8h.7M68.9 646.1h.7M87.0 660.8h.7M77.3 663.6h.7M78.3 653.6h.7M76.7 646.7h.7M74.0 665.7h.7M92.9 654.6h.7M77.9 666.9h.7M71.8 666.8h.7M81.0 660.2h.7M75.1 660.3h.7M90.1 668.6h.7M72.4 663.5h.7M79.8 652.4h.7M65.3 661.7h.7M70.5 665.0h.7M84.2 662.0h.7M84.8 661.9h.7M91.0 659.0h.7M70.8 659.3h.7M79.6 652.3h.7M72.1 648.1h.7M86.2 669.8h.7M68.6 654.9h.7M90.5 662.1h.7M80.5 647.6h.7M78.3 661.6h.7M74.5 653.3h.7M76.6 685.4h.7M89.5 651.6h.7M85.7 652.1h.7M75.7 668.2h.7M87.6 669.9h.7M78.1 642.4h.7M72.0 662.4h.7M71.3 667.7h.7M76.7 649.9h.7M76.8 666.0h.7M69.8 655.8h.7M84.1 651.8h.7M75.5 657.3h.7M86.4 656.4h.7M82.1 648.5h.7M81.1 679.2h.7M87.0 656.4h.7M82.7 653.9h.7M81.8 667.5h.7M83.8 659.6h.7M77.2 671.5h.7M90.2 658.0h.7M89.4 663.2h.7M72.7 661.0h.7M70.7 661.7h.7M78.1 658.5h.7M91.8 659.4h.7M69.8 674.4h.7M73.8 654.5h.7M88.3 655.6h.7M81.9 657.4h.7M75.8 665.1h.7M66.2 663.6h.7M67.0 668.1h.7M76.8 648.9h.7M69.6 662.4h.7M89.3 658.8h.7M80.6 657.8h.7M78.9 661.6h.7M80.4 643.6h.7M81.5 662.6h.7M75.4 661.5h.7M84.7 648.2h.7M88.7 659.5h.7M87.6 673.3h.7M77.5 657.0h.7M68.9 665.3h.7M86.6 658.4h.7M67.4 653.4h.7M68.4 652.5h.7M86.6 656.9h.7M87.3 671.2h.7M86.2 667.1h.7M83.1 654.3h.7M69.4 668.7h.7M68.2 659.2h.7M86.2 654.4h.7M82.2 663.9h.7M68.3 652.6h.7M86.1 647.0h.7M88.4 671.2h.7M73.2 644.9h.7M84.0 664.8h.7M81.7 647.4h.7M85.0 660.0h.7M68.8 658.6h.7M87.5 656.6h.7M76.0 641.9h.7M83.4 659.3h.7M68.6 660.0h.7M70.9 652.7h.7M93.7 659.7h.7M69.9 668.6h.7M89.1 654.2h.7M86.1 662.4h.7M82.3 650.6h.7M80.1 663.5h.7M66.6 665.6h.7M80.4 681.1h.7M83.9 667.9h.7M80.7 663.9h.7M84.0 672.1h.7M79.2 651.9h.7M76.9 669.3h.7M82.3 655.7h.7M76.3 655.1h.7M78.6 669.5h.7M68.7 662.3h.7M64.6 671.4h.7M71.4 648.1h.7M88.3 662.6h.7M90.7 655.9h.7M92.7 658.0h.7M76.1 644.3h.7M84.8 668.2h.7M72.5 662.1h.7M78.9 652.1h.7M89.7 649.0h.7M73.2 653.0h.7M70.4 672.0h.7M75.1 659.5h.7M85.0 657.5h.7M87.0 664.5h.7M67.9 660.4h.7M82.1 662.3h.7M89.8 666.6h.7M87.0 663.1h.7M87.0 667.7h.7M83.3 650.4h.7M84.8 660.9h.7M77.0 657.4h.7M80.7 661.3h.7M81.1 660.0h.7M80.0 655.1h.7M74.1 657.5h.7M83.8 668.3h.7M72.6 655.8h.7M85.7 650.0h.7M87.4 665.4h.7M69.6 668.5h.7M80.5 658.2h.7M88.7 661.5h.7M79.8 653.4h.7M88.1 658.7h.7M77.7 669.7h.7M88.1 667.1h.7M74.6 661.7h.7M86.9 658.2h.7M78.7 646.9h.7M75.4 663.1h.7M72.3 664.3h.7M86.2 669.2h.7M64.5 677.3h.7M86.9 663.6h.7M78.7 668.4h.7M89.0 651.2h.7M81.8 670.5h.7M89.0 667.7h.7M78.2 671.8h.7M74.0 666.1h.7M86.8 664.3h.7M84.8 672.8h.7M86.2 655.0h.7M82.9 665.9h.7M71.8 669.5h.7M71.9 654.0h.7M81.3 650.9h.7M81.0 664.1h.7M76.6 661.6h.7M79.4 665.6h.7M88.1 665.9h.7M72.8 654.2h.7M65.2 663.4h.7M70.0 669.9h.7M94.1 657.6h.7M67.1 658.2h.7M92.5 651.2h.7M67.6 667.4h.7M79.8 676.8h.7M79.8 649.2h.7M78.8 666.9h.7M66.3 668.1h.7M80.6 656.0h.7M79.8 657.5h.7M88.5 651.9h.7M86.2 654.1h.7M86.5 662.0h.7M66.7 666.0h.7M88.3 661.6h.7M80.3 667.7h.7M88.1 662.3h.7M91.1 650.9h.7M64.9 672.7h.7M76.8 670.5h.7M80.3 654.8h.7M78.7 675.3h.7M88.8 664.5h.7M80.0 676.5h.7M80.0 640.0h.7M67.0 647.4h.7M83.8 666.6h.7M83.4 658.6h.7M71.1 652.8h.7M67.8 673.2h.7M79.2 664.7h.7M91.2 650.1h.7M86.9 655.2h.7M83.2 667.7h.7M76.7 675.5h.7M86.9 644.1h.7M78.2 662.8h.7M69.4 657.5h.7M80.6 646.2h.7M72.0 659.3h.7M91.0 647.4h.7M77.4 656.3h.7M81.1 674.1h.7M88.6 665.0h.7M84.0 667.2h.7M84.8 665.7h.7M81.6 663.7h.7M75.1 668.8h.7M70.9 651.1h.7M72.4 657.8h.7M81.6 667.8h.7M78.7 654.7h.7M92.8 657.1h.7M76.4 670.8h.7M84.0 673.5h.7M72.8 655.8h.7M75.2 654.0h.7M84.1 665.6h.7M85.3 663.0h.7M73.7 655.2h.7M86.1 665.8h.7M89.4 665.4h.7M65.9 661.5h.7M82.0 685.2h.7M87.0 667.6h.7M89.6 669.3h.7M66.7 685.4h.7M81.1 669.9h.7M70.1 654.9h.7M81.5 663.5h.7M75.0 661.4h.7M82.1 656.1h.7M83.2 663.0h.7M72.0 662.9h.7M76.0 660.4h.7M71.2 656.8h.7M76.8 667.7h.7M70.0 647.6h.7M65.0 667.7h.7M85.6 660.9h.7M82.8 663.1h.7M67.7 641.1h.7M82.8 674.8h.7M81.4 646.5h.7M74.8 653.7h.7M75.0 666.2h.7M74.9 655.8h.7M81.0 657.5h.7M72.1 642.3h.7M81.6 657.2h.7M76.4 662.6h.7M77.1 666.5h.7M86.3 658.5h.7M72.5 662.7h.7M74.3 664.5h.7M81.3 655.3h.7M76.0 654.6h.7M80.8 677.2h.7M71.4 653.8h.7M91.8 671.1h.7M88.1 661.5h.7M68.2 673.1h.7M77.6 655.6h.7M75.5 665.2h.7M72.4 663.6h.7M72.8 659.0h.7M81.1 663.5h.7M85.3 654.5h.7M71.0 660.2h.7M83.1 657.6h.7M84.4 667.2h.7M79.9 660.1h.7M88.2 649.3h.7M80.9 657.8h.7M84.8 660.1h.7M92.3 653.4h.7M89.5 672.0h.7M76.2 664.3h.7M71.6 667.9h.7M82.6 654.5h.7M82.5 657.6h.7M82.3 669.3h.7M78.1 648.9h.7M87.4 663.9h.7M77.2 661.6h.7M69.9 656.7h.7M90.1 661.6h.7M89.2 651.9h.7M76.6 662.8h.7M78.8 650.7h.7M64.8 650.2h.7M87.9 672.5h.7M78.0 655.0h.7M84.9 643.3h.7M65.6 669.0h.7M70.5 654.4h.7M82.7 631.5h.7M83.7 660.4h.7M87.5 668.6h.7M85.3 663.8h.7M79.8 675.2h.7M82.7 659.8h.7M74.8 665.9h.7M72.8 652.5h.7M81.4 662.3h.7M72.0 673.7h.7M73.8 665.1h.7M72.9 662.2h.7M70.3 644.4h.7M77.1 657.7h.7M77.5 650.1h.7M81.8 667.4h.7M79.7 654.7h.7M71.3 663.9h.7M86.2 652.5h.7M68.0 676.7h.7M65.7 651.1h.7M67.1 662.0h.7M83.3 682.9h.7M76.9 662.7h.7M91.0 653.6h.7M76.5 666.0h.7M74.7 669.2h.7M84.7 668.2h.7M92.1 644.4h.7M88.7 662.7h.7M75.3 643.1h.7M82.8 676.8h.7M69.0 661.5h.7M82.6 657.0h.7M81.8 666.5h.7M72.7 665.0h.7M84.5 651.0h.7M73.9 674.5h.7M86.9 658.9h.7M73.9 646.2h.7M77.1 672.6h.7M92.5 673.8h.7M75.1 671.4h.7M91.0 665.5h.7M88.8 653.4h.7M88.5 668.8h.7M82.9 676.5h.7M86.0 667.8h.7M75.9 674.4h.7M84.3 654.4h.7M86.6 669.5h.7M88.6 668.8h.7M67.0 648.4h.7M74.0 647.3h.7M78.1 654.9h.7M87.2 661.6h.7M74.6 664.7h.7M74.4 659.0h.7M67.7 660.4h.7M79.6 660.0h.7M90.7 661.7h.7M77.0 665.9h.7M72.8 665.1h.7M81.1 660.5h.7M73.7 663.1h.7M76.5 657.1h.7M67.2 667.7h.7M83.6 656.7h.7M67.2 674.8h.7M87.7 660.7h.7M67.6 663.3h.7M88.9 654.5h.7M75.5 658.0h.7M76.9 662.3h.7M77.9 661.1h.7M73.1 655.7h.7M73.9 651.2h.7M83.0 661.3h.7M85.6 662.2h.7M67.3 665.6h.7M70.6 671.5h.7M91.9 658.3h.7M84.9 644.1h.7M88.5 659.7h.7M78.7 645.4h.7M87.9 650.1h.7M85.9 669.7h.7M83.1 665.7h.7M80.0 655.5h.7M75.9 655.6h.7M73.9 660.2h.7M72.1 646.1h.7M66.6 665.0h.7M75.9 658.0h.7M86.8 676.5h.7M72.4 652.0h.7M77.8 669.4h.7M85.7 655.2h.7M68.8 669.6h.7M75.2 652.7h.7M76.0 667.2h.7M82.7 657.2h.7M88.3 654.0h.7M68.5 659.7h.7M80.2 665.0h.7M67.0 664.4h.7M72.8 674.3h.7M77.8 667.9h.7M78.7 638.7h.7M76.5 657.6h.7M75.9 644.1h.7M77.2 657.7h.7M75.9 666.3h.7M75.7 649.7h.7M70.6 651.0h.7M77.4 662.2h.7M86.3 658.5h.7M90.4 663.7h.7M67.2 665.5h.7M83.1 675.8h.7M77.5 656.7h.7M69.0 661.0h.7M86.2 652.6h.7M80.4 663.2h.7M72.9 669.8h.7M74.7 672.6h.7M85.4 660.7h.7M82.2 655.0h.7M78.3 654.5h.7M72.3 649.2h.7M82.8 662.0h.7M67.3 672.5h.7M77.0 640.9h.7M89.5 642.6h.7M82.7 672.9h.7M72.9 647.4h.7M75.5 663.8h.7M77.1 650.3h.7M82.3 667.6h.7M75.0 667.7h.7M71.5 662.5h.7M84.5 668.0h.7M70.9 661.5h.7M85.1 665.8h.7M68.7 676.5h.7M78.4 670.4h.7M69.8 655.5h.7M87.7 654.2h.7M78.0 659.0h.7M84.9 659.1h.7M85.8 661.7h.7M79.1 655.9h.7M84.1 666.6h.7M67.5 661.4h.7M77.3 664.1h.7M79.6 661.1h.7M88.3 666.3h.7M75.9 650.9h.7M67.6 674.5h.7M73.8 664.0h.7M84.9 664.9h.7M65.3 666.3h.7M65.9 670.3h.7M88.1 667.3h.7M82.7 663.1h.7M85.2 659.6h.7M83.2 647.1h.7M70.4 662.9h.7M83.3 658.5h.7M72.5 658.5h.7M75.8 681.5h.7M73.0 645.3h.7M88.4 661.6h.7M71.4 671.4h.7M82.2 669.3h.7M71.6 671.7h.7M78.8 650.4h.7M74.1 653.0h.7M70.4 666.4h.7M77.3 658.6h.7M66.8 675.7h.7M82.1 663.1h.7M83.6 662.8h.7M89.6 664.9h.7M66.9 658.9h.7M75.4 662.2h.7M93.2 655.4h.7M75.7 660.9h.7M67.7 657.1h.7M85.5 663.4h.7M71.0 649.2h.7M84.9 648.5h.7M78.7 665.1h.7M87.3 663.1h.7M77.1 653.0h.7M86.9 659.3h.7M76.4 652.3h.7M91.8 678.6h.7M73.0 647.9h.7M85.8 675.8h.7M85.1 654.2h.7M79.8 664.8h.7M72.5 659.0h.7M70.0 658.0h.7M83.2 669.2h.7M71.5 668.2h.7M86.8 658.8h.7M92.4 653.5h.7M71.3 678.9h.7M72.7 673.2h.7M86.6 662.4h.7M85.4 658.7h.7M66.4 663.7h.7M86.3 661.9h.7M84.8 671.4h.7M82.8 653.0h.7M90.0 661.4h.7M90.8 654.6h.7M70.6 672.4h.7M90.0 676.6h.7M88.3 660.5h.7M82.5 665.8h.7M68.6 673.2h.7M87.7 658.7h.7M83.3 653.3h.7M71.6 670.1h.7M76.5 665.6h.7M90.7 659.5h.7M70.3 673.7h.7M84.4 663.3h.7M79.8 646.1h.7M83.1 664.2h.7M87.3 660.8h.7M66.0 677.3h.7M71.0 661.1h.7M72.9 659.5h.7M74.3 665.0h.7M70.1 663.4h.7M92.7 649.3h.7M82.1 662.3h.7M82.5 658.5h.7M70.4 673.2h.7M69.6 681.7h.7M82.6 651.8h.7M87.2 653.1h.7M85.6 654.1h.7M93.5 655.7h.7M74.7 655.4h.7M85.4 661.7h.7M80.6 670.5h.7M81.9 650.2h.7M85.4 648.2h.7M77.0 645.6h.7M75.5 670.7h.7M76.7 672.6h.7M76.3 648.2h.7M88.4 647.4h.7M74.8 662.4h.7M67.1 670.6h.7M82.0 669.9h.7M91.5 662.9h.7M83.4 667.1h.7M75.1 664.1h.7M89.2 656.6h.7M84.4 677.5h.7M82.4 661.3h.7M79.6 651.8h.7M86.8 657.3h.7M83.7 648.2h.7M77.9 661.4h.7M74.3 670.6h.7M86.2 650.5h.7M86.1 670.9h.7M67.6 679.1h.7M66.8 664.5h.7M69.1 651.5h.7M85.1 654.1h.7M81.7 658.5h.7M81.0 650.4h.7M93.2 650.7h.7M92.0 659.1h.7M77.2 659.8h.7M77.4 666.5h.7M79.4 651.1h.7M78.7 677.2h.7M87.3 670.3h.7M84.4 668.9h.7M74.4 655.8h.7M86.5 676.1h.7M72.4 658.4h.7M69.0 676.7h.7M76.9 670.4h.7M68.2 653.7h.7M74.6 657.4h.7M83.6 669.8h.7M85.6 660.0h.7M74.0 663.0h.7M79.6 663.0h.7M81.8 654.7h.7M87.8 659.6h.7M72.1 655.7h.7M72.6 657.7h.7M85.1 665.3h.7M89.1 653.2h.7M81.4 667.5h.7M69.2 662.2h.7M69.2 667.8h.7M86.9 668.9h.7M89.4 671.9h.7M67.3 666.7h.7M78.3 667.3h.7M73.8 659.8h.7M72.5 666.2h.7M73.0 653.6h.7M74.0 659.2h.7M89.5 667.7h.7M77.9 660.9h.7M75.8 665.1h.7M70.7 652.3h.7M83.3 673.0h.7M86.7 656.4h.7M71.8 664.7h.7M83.0 661.1h.7M66.3 669.3h.7M69.0 658.1h.7M85.1 652.8h.7M72.1 645.1h.7M78.1 658.7h.7M78.5 651.1h.7M84.3 673.6h.7M87.2 642.3h.7M88.3 650.3h.7M76.2 663.9h.7M67.9 671.8h.7M83.7 663.9h.7M78.3 664.1h.7M81.0 665.6h.7M83.6 666.2h.7M73.6 675.3h.7M84.7 666.5h.7M78.0 650.7h.7M76.8 657.3h.7M79.8 663.1h.7M89.3 654.4h.7M85.0 659.1h.7M70.2 656.8h.7M72.4 655.3h.7M83.9 667.2h.7M91.6 658.0h.7M80.5 652.0h.7M82.4 655.2h.7M64.6 661.6h.7M70.3 679.3h.7M85.7 663.5h.7M69.6 674.0h.7M78.2 665.5h.7M87.5 642.9h.7M79.8 664.5h.7M85.4 654.0h.7M82.3 649.7h.7M73.7 652.1h.7M81.4 676.6h.7M89.4 647.8h.7M71.8 656.0h.7M90.1 671.2h.7M82.7 667.0h.7M91.1 646.7h.7M86.7 660.3h.7M65.8 656.9h.7M71.9 659.6h.7M86.2 667.7h.7M71.9 656.4h.7M87.8 658.6h.7M89.6 673.8h.7M85.9 645.5h.7M82.3 658.1h.7M77.4 665.3h.7M92.5 650.6h.7M80.1 655.9h.7M70.9 650.0h.7M82.9 662.6h.7M74.6 655.9h.7M72.7 668.0h.7M76.1 670.0h.7M86.7 661.7h.7M86.0 658.0h.7M75.8 663.5h.7M88.9 661.8h.7M80.4 650.9h.7M75.1 670.4h.7M68.8 663.2h.7M82.6 668.0h.7M73.7 649.6h.7M77.1 668.8h.7M71.1 679.3h.7M83.5 666.5h.7M68.4 648.8h.7M72.8 661.6h.7M82.7 660.8h.7M85.5 663.1h.7M86.4 659.3h.7M74.8 665.5h.7M72.3 657.3h.7M77.5 663.2h.7M88.1 655.4h.7M72.7 662.1h.7M86.9 669.8h.7M67.7 657.0h.7M85.2 667.0h.7M70.2 653.6h.7M75.7 658.1h.7M77.4 659.2h.7M83.8 671.9h.7M76.4 654.7h.7M87.4 671.7h.7M93.7 648.7h.7M84.2 659.9h.7M65.8 669.1h.7M67.2 667.2h.7M88.7 652.6h.7M79.6 650.7h.7M80.5 668.8h.7M87.7 650.4h.7M82.8 666.2h.7M80.6 656.8h.7M76.6 661.1h.7M67.6 681.1h.7M68.8 674.5h.7M65.9 668.4h.7M78.6 649.4h.7M90.5 664.0h.7M67.7 661.7h.7M82.9 660.4h.7M78.8 672.7h.7M92.9 646.5h.7M90.2 663.9h.7M82.9 662.3h.7M80.0 654.8h.7M81.3 676.0h.7M79.9 650.3h.7M85.3 661.4h.7M86.3 661.9h.7M75.8 642.4h.7M82.3 648.9h.7M75.6 652.9h.7M69.7 668.0h.7M79.6 669.3h.7M80.6 666.3h.7M79.9 663.3h.7M78.9 642.3h.7M77.4 663.0h.7M75.7 656.8h.7M66.9 671.3h.7M84.1 672.8h.7M84.4 680.4h.7M76.4 667.3h.7M80.6 668.2h.7M75.3 652.3h.7M83.8 661.9h.7M75.8 650.5h.7M82.9 668.9h.7M84.6 650.9h.7M78.3 659.3h.7M74.2 654.1h.7M92.5 657.1h.7M87.6 665.1h.7M76.3 656.3h.7M71.7 663.1h.7M88.7 652.5h.7M83.5 673.2h.7M76.8 655.6h.7M88.3 669.9h.7M74.2 679.6h.7M92.0 640.2h.7M70.3 652.6h.7M89.8 659.4h.7M73.1 671.2h.7M88.9 657.0h.7M73.0 664.4h.7M78.6 654.8h.7M71.1 666.0h.7M83.7 650.7h.7M76.9 668.4h.7M83.1 635.3h.7M84.4 644.8h.7M83.8 676.8h.7M79.7 662.6h.7M81.9 653.4h.7M73.5 680.2h.7M77.7 670.2h.7M77.0 670.9h.7M73.9 657.5h.7M79.7 666.5h.7M71.1 665.5h.7M76.7 646.8h.7M77.3 666.2h.7M78.5 659.5h.7M85.8 672.2h.7M67.0 672.4h.7M75.9 655.5h.7M70.0 655.9h.7M75.3 662.8h.7M83.7 666.8h.7M84.2 657.5h.7M83.3 660.1h.7M91.0 666.4h.7M77.0 664.8h.7M73.1 671.2h.7M66.4 663.2h.7M78.1 653.4h.7M83.8 645.8h.7M82.5 668.1h.7M82.4 658.2h.7M77.3 658.1h.7M64.8 658.6h.7M88.9 647.4h.7M90.8 657.7h.7M89.1 638.5h.7M71.6 657.6h.7M73.1 653.3h.7M78.5 677.1h.7M82.9 665.0h.7M84.5 659.2h.7M66.6 662.5h.7M85.9 667.4h.7M78.2 654.5h.7M92.9 659.1h.7M88.2 658.0h.7M75.1 682.7h.7M91.9 661.7h.7M76.3 643.9h.7M72.9 668.0h.7M69.4 683.6h.7M78.0 652.7h.7M81.4 691.4h.7M73.2 660.5h.7M88.8 669.8h.7M74.2 656.1h.7M86.0 658.7h.7M86.1 650.3h.7M88.9 651.8h.7M76.1 642.3h.7M81.6 671.0h.7M78.9 651.0h.7M80.8 664.3h.7M90.1 663.9h.7M83.2 655.4h.7M88.1 661.5h.7M74.9 660.2h.7M79.2 656.7h.7M79.2 661.5h.7M87.3 661.5h.7M87.0 652.1h.7M74.9 649.7h.7M86.8 653.6h.7M88.4 662.1h.7M84.7 673.1h.7M86.5 673.9h.7M81.5 663.8h.7M78.6 669.3h.7M75.2 662.1h.7M83.1 670.7h.7M77.0 662.1h.7M68.3 664.5h.7M89.3 658.5h.7M86.4 661.0h.7M67.7 677.6h.7M86.8 650.5h.7M81.4 661.0h.7M78.4 655.8h.7M77.3 669.4h.7M71.0 676.9h.7M81.1 658.3h.7M73.9 636.7h.7M85.4 666.4h.7M89.0 666.4h.7M76.0 646.2h.7M73.9 658.9h.7M76.9 660.4h.7M70.5 640.7h.7M69.4 666.9h.7M71.6 664.8h.7M86.4 663.1h.7M78.3 651.7h.7M84.2 654.7h.7M87.5 655.4h.7M71.4 665.2h.7M69.7 652.3h.7M66.9 673.8h.7M84.6 664.3h.7M80.1 641.8h.7M82.4 675.8h.7M83.1 662.3h.7M73.1 656.1h.7M77.7 661.8h.7M77.5 644.9h.7M65.0 662.6h.7M74.3 639.3h.7M82.6 651.9h.7M83.1 672.9h.7M74.8 672.1h.7M70.0 657.9h.7M73.6 652.4h.7M73.1 669.2h.7M90.2 660.5h.7M73.6 662.8h.7M84.7 666.4h.7M75.0 651.4h.7M80.2 667.9h.7M89.5 642.2h.7M72.0 673.8h.7M79.3 647.0h.7M69.8 655.3h.7M70.5 655.0h.7M83.5 667.3h.7M67.1 667.5h.7M67.9 664.1h.7M75.5 665.7h.7M88.0 665.0h.7M92.4 660.2h.7M87.4 644.0h.7M80.9 640.5h.7M73.5 640.5h.7M77.2 660.4h.7M69.1 658.8h.7M70.5 659.6h.7M84.9 662.8h.7M79.8 658.8h.7M89.4 652.0h.7M80.5 647.5h.7M69.9 661.5h.7M77.2 660.0h.7M75.8 655.9h.7M85.4 644.7h.7M70.9 670.0h.7M78.4 654.0h.7M71.5 658.8h.7M88.5 660.1h.7M70.9 662.0h.7M72.8 669.7h.7M77.2 667.3h.7M76.6 672.4h.7M77.8 660.9h.7M70.9 657.8h.7M77.7 655.9h.7M87.7 657.0h.7M72.1 666.6h.7M73.3 662.6h.7M75.4 655.0h.7M82.5 658.7h.7M81.0 656.3h.7M69.0 652.9h.7M73.3 658.8h.7M76.1 662.7h.7M69.8 662.2h.7M70.0 656.3h.7M88.1 665.2h.7M74.1 671.4h.7M82.6 663.8h.7M82.8 656.5h.7M75.2 654.1h.7M78.6 650.9h.7M73.4 662.9h.7M73.4 662.2h.7M84.6 651.4h.7M82.5 653.7h.7M71.3 661.9h.7M80.7 653.9h.7M72.3 657.4h.7M72.3 661.4h.7M72.4 658.6h.7M77.5 656.5h.7M81.3 654.0h.7M72.1 673.3h.7M83.0 658.5h.7M79.8 660.9h.7M73.4 664.3h.7M77.3 667.4h.7M67.0 666.5h.7M76.6 654.9h.7M73.7 657.3h.7M69.5 657.1h.7M79.6 649.0h.7M74.0 644.7h.7M73.0 662.6h.7M75.6 659.8h.7M70.4 664.3h.7M71.5 666.2h.7M76.8 656.8h.7M82.9 655.5h.7M80.7 659.2h.7M75.8 665.9h.7M77.9 659.0h.7M75.2 661.0h.7M76.2 657.3h.7M70.8 643.9h.7M75.3 658.1h.7M81.6 661.2h.7M81.3 669.6h.7M75.3 654.2h.7M79.7 654.9h.7M74.6 669.0h.7M78.5 666.0h.7M69.3 661.1h.7M81.2 650.2h.7M76.8 661.9h.7M64.7 672.0h.7M72.4 659.3h.7M83.9 646.4h.7M78.0 656.2h.7M76.0 654.2h.7M82.4 651.0h.7M77.6 662.6h.7M75.4 657.8h.7M74.5 666.4h.7M78.0 658.6h.7M70.6 661.6h.7M78.4 658.8h.7M82.7 645.8h.7M87.8 655.9h.7M70.3 649.4h.7M80.0 662.4h.7M74.8 659.4h.7M76.6 656.6h.7M81.4 662.4h.7M75.2 649.1h.7M82.4 655.1h.7M70.9 668.8h.7M78.2 646.1h.7M67.8 658.6h.7M69.8 659.8h.7M88.4 676.1h.7M75.6 664.7h.7M80.1 657.9h.7M68.7 667.9h.7M75.0 662.6h.7M79.2 653.7h.7M83.9 658.4h.7M76.9 656.5h.7M79.3 665.4h.7M73.2 663.9h.7M73.8 652.1h.7M74.3 663.8h.7M78.5 666.0h.7M72.6 658.3h.7M76.2 663.5h.7M75.3 653.6h.7M68.4 668.7h.7M81.0 654.2h.7M83.0 657.7h.7M78.0 667.3h.7M73.5 655.0h.7M67.5 663.2h.7M78.0 664.7h.7M78.8 659.7h.7M81.4 651.8h.7M77.7 662.5h.7M75.3 670.8h.7M78.0 667.8h.7M80.2 657.6h.7M85.2 664.9h.7M76.0 658.8h.7M70.9 659.6h.7M74.7 661.2h.7M73.8 663.7h.7M75.5 649.5h.7M73.4 654.3h.7M69.7 659.2h.7M80.3 651.5h.7M66.2 660.5h.7M90.3 652.9h.7M77.2 656.7h.7M80.0 668.1h.7M75.1 667.4h.7M70.7 662.0h.7M69.8 662.1h.7M72.9 661.8h.7M70.5 662.2h.7M76.4 655.8h.7M72.0 652.8h.7M74.0 662.6h.7M75.3 660.8h.7M82.0 656.3h.7M77.3 664.7h.7M78.4 661.6h.7M76.3 672.0h.7M75.6 657.2h.7M78.8 669.6h.7M82.7 658.5h.7M79.9 662.0h.7M76.3 663.8h.7M78.9 659.9h.7M84.2 655.5h.7M82.6 671.8h.7M86.1 659.3h.7M75.0 649.5h.7M75.6 675.4h.7M68.4 651.2h.7M80.0 662.8h.7M67.1 661.1h.7M77.6 649.5h.7M80.6 650.2h.7M81.4 659.8h.7M72.6 649.9h.7M74.3 659.4h.7M75.3 655.9h.7M74.9 665.5h.7M71.5 659.2h.7M78.1 659.0h.7M80.1 668.8h.7M74.2 661.4h.7M79.1 651.7h.7M82.3 646.2h.7M82.4 655.0h.7M71.0 657.5h.7M74.6 653.3h.7M69.2 657.6h.7M80.5 661.3h.7M82.4 654.4h.7M74.2 657.8h.7M76.6 662.4h.7M84.3 662.4h.7M76.7 668.2h.7M72.1 651.9h.7M79.1 660.0h.7M76.5 665.5h.7M74.3 659.2h.7M77.7 663.4h.7M80.6 659.4h.7M77.1 643.7h.7M81.8 648.3h.7M75.7 676.0h.7M74.3 649.7h.7M83.6 654.4h.7M75.1 658.7h.7M79.4 663.9h.7M75.3 666.8h.7M71.5 664.8h.7M72.9 664.7h.7M72.6 657.4h.7M82.9 650.9h.7M70.2 664.4h.7M74.5 657.0h.7M75.2 673.3h.7M70.9 658.8h.7M76.6 653.3h.7M75.7 662.7h.7M71.5 667.6h.7M70.3 659.7h.7M77.4 679.7h.7M67.4 663.0h.7M87.9 653.2h.7M81.1 659.8h.7M69.0 663.5h.7M71.5 660.9h.7M68.6 665.7h.7M82.0 661.6h.7M74.1 658.3h.7M73.8 677.4h.7M75.6 659.5h.7M72.3 657.2h.7M78.7 655.0h.7M71.9 656.8h.7M74.1 661.0h.7M73.5 658.7h.7M72.2 668.2h.7M76.2 657.4h.7M77.2 658.9h.7M68.3 659.9h.7M83.7 661.1h.7M81.5 654.0h.7M68.7 656.5h.7M82.3 651.8h.7M72.0 667.4h.7M74.6 658.5h.7M77.6 659.7h.7M74.3 661.4h.7M72.4 659.9h.7M78.9 652.0h.7M74.8 652.4h.7M79.4 662.7h.7M80.3 665.2h.7M80.7 663.1h.7M72.1 666.3h.7M71.4 675.4h.7M77.2 663.0h.7M69.9 667.6h.7M81.4 648.3h.7M73.1 657.0h.7M72.7 669.0h.7M86.2 650.5h.7M80.8 656.8h.7M82.4 642.4h.7M73.7 667.7h.7M72.1 667.9h.7M73.3 667.3h.7M78.6 656.2h.7M72.1 659.1h.7M81.4 658.3h.7M72.6 681.5h.7M68.2 659.6h.7M78.4 652.2h.7M75.7 656.8h.7M68.7 663.9h.7M70.3 655.7h.7M81.7 651.1h.7M78.7 666.5h.7M80.6 661.5h.7M74.7 650.7h.7M76.5 662.2h.7M73.3 653.6h.7M79.9 651.8h.7M77.9 655.9h.7M67.7 671.5h.7M78.7 662.3h.7M69.0 660.0h.7M77.1 654.4h.7M83.7 644.8h.7M79.1 646.6h.7M68.2 652.7h.7M78.4 654.2h.7M72.5 654.2h.7M68.6 655.0h.7M70.9 658.2h.7M73.8 644.2h.7M72.5 667.7h.7M73.3 659.2h.7M72.1 655.5h.7M75.2 650.5h.7M74.7 648.6h.7M77.1 648.6h.7M78.6 665.0h.7M67.6 665.0h.7M73.4 666.9h.7M72.8 657.7h.7M74.0 667.4h.7M66.1 665.8h.7M75.8 655.7h.7M74.2 665.2h.7M79.3 669.1h.7M72.2 647.4h.7M72.7 658.2h.7M73.2 667.2h.7M86.3 659.2h.7M66.7 667.4h.7M72.2 659.8h.7M79.3 660.5h.7M75.0 660.8h.7M78.9 662.2h.7M85.2 637.7h.7M71.5 655.9h.7M79.2 659.5h.7M79.4 648.9h.7M74.2 663.3h.7M75.0 656.4h.7M76.6 669.2h.7M65.2 671.2h.7M76.6 653.1h.7M78.4 658.5h.7M81.1 652.6h.7M79.9 652.1h.7M76.8 663.1h.7M74.9 663.1h.7M72.4 666.3h.7M72.9 654.9h.7M74.7 658.7h.7M71.3 664.9h.7M74.7 662.9h.7M68.1 651.9h.7M74.0 652.8h.7M74.7 662.6h.7M80.6 667.3h.7M79.1 653.6h.7M77.9 655.0h.7M77.9 651.6h.7M81.7 660.3h.7M73.9 650.5h.7M76.6 655.3h.7M76.5 654.1h.7M72.7 663.5h.7M82.4 649.4h.7M74.4 661.6h.7M74.6 656.3h.7M85.7 651.4h.7M77.0 655.5h.7M74.8 644.3h.7M79.6 656.7h.7M70.7 670.6h.7M74.0 655.3h.7M71.3 666.6h.7M75.5 656.9h.7M69.0 654.4h.7M77.0 658.5h.7M65.7 655.3h.7M76.4 676.0h.7M71.7 645.4h.7M79.0 655.1h.7M69.0 663.9h.7M74.2 653.0h.7M69.0 659.4h.7M75.7 647.4h.7M80.0 649.8h.7M82.0 659.7h.7M74.4 661.3h.7M72.5 659.1h.7M83.2 653.7h.7M79.2 652.4h.7M75.2 665.2h.7M69.5 662.3h.7M65.0 653.7h.7M73.3 665.0h.7M78.8 652.4h.7M74.7 660.3h.7M67.8 663.2h.7M81.8 665.6h.7M72.5 656.9h.7M70.8 656.7h.7M74.1 663.6h.7M75.7 652.9h.7M79.3 663.8h.7M72.4 658.0h.7M74.8 648.5h.7M76.0 663.1h.7M84.7 658.3h.7M74.0 658.3h.7M78.3 663.5h.7M71.2 661.0h.7M78.5 645.4h.7M81.9 656.3h.7M79.5 657.8h.7M74.2 658.7h.7M76.7 664.3h.7M74.1 652.0h.7M72.0 653.4h.7M79.0 652.1h.7M82.6 658.3h.7M74.9 667.5h.7M73.6 657.5h.7M79.1 663.0h.7M70.6 675.8h.7M78.1 650.4h.7M74.5 665.1h.7M76.4 664.3h.7M86.7 662.7h.7M85.0 661.5h.7M72.2 669.4h.7M72.1 665.9h.7M78.6 653.0h.7M72.1 658.7h.7M77.4 667.3h.7M75.8 671.3h.7M79.7 654.2h.7M72.5 660.3h.7M73.0 659.1h.7M79.3 660.1h.7M80.2 653.9h.7M71.4 651.1h.7M67.0 658.1h.7M75.9 657.9h.7M75.6 672.4h.7M70.4 658.6h.7M73.3 653.9h.7M82.1 657.8h.7M81.7 650.9h.7M84.7 672.1h.7M71.5 660.1h.7M75.0 663.1h.7M69.4 663.6h.7M79.2 654.8h.7M64.8 657.2h.7M73.8 664.7h.7M72.7 652.6h.7M78.6 661.2h.7M79.2 659.0h.7M80.8 661.6h.7M67.1 662.4h.7M79.4 658.9h.7M82.7 655.0h.7M79.1 650.8h.7M75.7 655.9h.7M70.9 652.0h.7M76.8 661.9h.7M72.7 652.1h.7M71.5 665.1h.7M69.9 667.9h.7M67.7 662.8h.7M78.9 666.6h.7M73.7 654.9h.7M68.9 666.6h.7M75.1 656.6h.7M73.7 661.5h.7M75.9 667.0h.7M65.4 667.0h.7M73.2 659.4h.7M74.2 659.2h.7M79.4 660.1h.7M68.8 660.4h.7M75.3 661.9h.7M75.9 658.9h.7M80.7 651.5h.7M86.2 653.7h.7M70.8 665.5h.7M80.9 666.5h.7M82.8 661.1h.7M76.1 661.8h.7M75.8 656.0h.7M83.5 669.6h.7M75.8 658.0h.7M73.4 649.1h.7M72.5 656.8h.7M75.7 653.1h.7M66.7 665.5h.7M84.1 644.1h.7M75.1 665.1h.7M70.2 651.4h.7M76.0 658.0h.7M72.8 670.7h.7M83.0 662.3h.7M75.5 657.5h.7M80.1 657.2h.7M83.0 666.1h.7M73.0 665.1h.7M83.4 662.3h.7M71.4 658.8h.7M74.3 660.7h.7M76.1 657.4h.7M80.1 667.5h.7M73.3 650.8h.7M77.8 659.4h.7M78.0 654.9h.7M77.4 653.6h.7M81.3 669.5h.7M71.6 644.0h.7M73.7 656.9h.7M77.0 659.8h.7M78.5 676.8h.7M73.4 658.0h.7M78.2 647.5h.7M79.9 655.1h.7M69.2 655.8h.7M78.6 664.8h.7M82.1 661.5h.7M72.7 664.2h.7M75.8 675.0h.7M66.3 672.3h.7M79.9 661.8h.7M75.8 656.4h.7M71.6 650.9h.7M86.0 664.0h.7M79.5 661.7h.7M67.0 660.1h.7M76.8 667.3h.7M71.4 662.8h.7M75.1 660.5h.7M72.5 663.1h.7M76.7 648.0h.7M82.1 673.0h.7M72.1 668.3h.7M71.6 657.6h.7M84.8 659.7h.7M83.6 660.5h.7M81.2 658.1h.7M83.2 670.2h.7M79.6 655.8h.7M74.6 654.4h.7M79.3 662.9h.7M73.0 666.8h.7M73.6 672.4h.7M80.4 669.6h.7M73.0 654.5h.7M67.7 666.1h.7M71.0 670.0h.7M77.1 665.0h.7M70.3 657.7h.7M77.3 664.8h.7M70.3 663.7h.7M72.5 666.3h.7M75.4 658.6h.7M78.6 667.3h.7M75.3 668.4h.7M71.7 663.1h.7M71.1 662.7h.7M72.1 661.4h.7M79.4 653.5h.7M68.1 660.8h.7M79.0 661.2h.7M72.1 666.5h.7M75.1 665.4h.7M72.2 663.9h.7M82.1 654.8h.7M75.1 664.5h.7M78.9 662.0h.7M75.8 650.3h.7M76.4 652.0h.7M76.8 645.2h.7M83.3 671.0h.7M78.5 654.3h.7M75.0 666.1h.7M79.5 655.1h.7M82.1 663.6h.7M78.9 657.4h.7M76.4 655.6h.7M77.3 655.8h.7M82.0 659.3h.7M77.4 662.1h.7M77.9 650.8h.7M82.5 659.5h.7M73.8 654.5h.7M73.1 656.9h.7M76.4 654.7h.7M76.9 661.0h.7M73.1 674.9h.7M75.8 662.4h.7M76.9 659.0h.7M79.5 668.2h.7M76.0 654.7h.7M78.9 645.9h.7M77.1 658.7h.7M77.9 650.1h.7M74.2 653.9h.7M73.7 664.3h.7M75.3 656.4h.7M81.9 658.9h.7M66.6 655.3h.7M78.2 662.3h.7M77.2 661.4h.7M71.9 660.2h.7M70.5 655.7h.7M71.8 655.4h.7M74.5 658.7h.7M72.3 667.4h.7M73.9 670.0h.7M80.8 651.1h.7M80.2 650.0h.7M82.8 660.4h.7M71.3 646.7h.7M74.0 651.5h.7M81.1 650.7h.7M74.8 662.9h.7M75.9 661.2h.7M74.7 664.4h.7M71.4 664.0h.7M70.1 661.8h.7M70.4 659.3h.7M78.6 666.8h.7M67.3 656.4h.7M71.2 668.1h.7M71.7 664.8h.7M73.3 650.8h.7M76.3 652.1h.7M79.2 664.0h.7M82.1 651.8h.7M83.2 664.1h.7M67.3 675.2h.7M83.7 651.2h.7M77.3 650.6h.7M75.1 660.7h.7M78.7 653.6h.7M75.6 653.6h.7M77.6 663.3h.7M76.1 666.7h.7M79.3 661.1h.7M81.2 650.4h.7M75.6 648.2h.7M75.7 656.5h.7M79.7 655.8h.7M72.7 659.4h.7M75.1 662.8h.7M71.6 650.8h.7M68.2 668.3h.7M69.8 657.7h.7M70.5 666.1h.7M73.1 667.8h.7M72.4 662.0h.7M79.3 664.9h.7M70.1 658.3h.7M75.4 647.9h.7M79.1 661.2h.7M78.2 650.1h.7M76.6 662.1h.7M80.7 655.1h.7M79.0 671.3h.7M73.7 657.3h.7M74.2 650.3h.7M74.0 670.1h.7M71.4 659.1h.7M81.5 661.9h.7M76.9 657.1h.7M75.2 659.7h.7M79.0 659.3h.7M80.2 646.7h.7M79.7 655.3h.7M75.8 656.8h.7M78.8 658.1h.7M78.8 653.8h.7M76.7 667.1h.7M81.1 656.2h.7M76.5 657.0h.7M75.2 659.7h.7M81.5 662.0h.7M82.7 667.9h.7M69.8 662.7h.7M73.7 649.7h.7M70.7 657.4h.7M83.7 658.5h.7M74.9 659.5h.7M72.3 661.3h.7M75.4 649.3h.7M73.3 681.3h.7M78.8 658.3h.7M79.0 652.7h.7M76.3 665.0h.7M68.2 656.4h.7M73.9 658.1h.7M73.4 661.7h.7M80.6 660.7h.7M80.7 665.1h.7M73.0 661.8h.7M74.1 664.0h.7M74.2 658.7h.7M83.8 656.8h.7M68.5 661.8h.7M77.2 656.1h.7M76.2 665.9h.7M73.4 658.9h.7M72.5 662.3h.7M75.3 653.9h.7M75.1 671.2h.7M67.8 652.5h.7M77.4 650.5h.7M85.0 648.3h.7M69.7 657.6h.7M80.9 663.6h.7M78.5 660.9h.7M82.0 646.9h.7M77.2 668.3h.7M70.9 662.6h.7M81.6 666.3h.7M75.2 671.4h.7M78.2 665.8h.7M70.8 655.9h.7M72.3 671.4h.7M64.9 650.3h.7M79.6 659.7h.7M74.4 667.4h.7M66.9 658.1h.7M80.9 663.3h.7M71.6 658.7h.7M69.0 669.5h.7M73.9 668.0h.7M79.6 653.3h.7M75.2 663.8h.7M78.0 668.7h.7M81.1 660.6h.7M79.1 654.5h.7M73.1 663.9h.7M77.5 652.4h.7M75.5 654.7h.7M73.3 668.2h.7M71.5 656.4h.7M78.6 659.6h.7M76.7 650.5h.7M75.8 657.4h.7M72.2 656.9h.7M74.6 665.2h.7M84.7 658.6h.7M82.8 659.0h.7M69.0 661.4h.7M81.9 667.2h.7M71.9 674.4h.7M72.5 655.8h.7M73.5 669.2h.7M77.8 665.0h.7M65.7 661.5h.7M75.5 664.2h.7M73.8 667.6h.7M72.8 651.7h.7M68.4 669.1h.7M79.5 654.1h.7M81.1 657.6h.7M75.4 650.8h.7M73.5 660.9h.7M77.0 656.1h.7M80.6 667.8h.7M72.3 663.0h.7M68.9 663.8h.7M71.5 659.7h.7M76.8 658.1h.7M80.9 653.9h.7M73.9 662.2h.7M75.9 661.4h.7M75.1 655.0h.7M79.1 659.6h.7M80.2 667.2h.7M74.4 655.5h.7M73.9 656.2h.7M66.8 671.8h.7M78.0 673.9h.7M73.5 664.0h.7M77.3 659.1h.7M80.6 658.9h.7M75.7 660.9h.7M65.7 657.5h.7M72.7 670.7h.7M78.8 664.1h.7M79.0 658.0h.7M83.7 657.0h.7M69.5 665.0h.7M81.5 659.4h.7M77.8 665.4h.7M83.2 662.0h.7M83.9 660.0h.7M85.8 649.3h.7M80.5 660.7h.7M76.6 651.8h.7M81.1 657.6h.7M71.5 656.9h.7M75.0 660.7h.7M71.9 655.0h.7M78.0 659.0h.7M85.2 655.4h.7M79.5 669.9h.7M75.2 666.1h.7M77.5 659.9h.7M83.5 652.2h.7M73.3 649.5h.7M75.5 666.0h.7M74.9 665.1h.7M72.6 667.6h.7M75.6 657.0h.7M83.7 658.2h.7M78.7 660.0h.7M79.3 659.9h.7M70.5 662.7h.7M78.3 661.8h.7M75.0 671.2h.7M72.7 661.3h.7M77.1 652.9h.7M70.6 665.0h.7M79.2 660.1h.7M68.7 659.5h.7M77.2 663.4h.7M81.6 661.5h.7M80.5 669.2h.7M65.3 668.1h.7M74.1 663.2h.7M77.0 653.3h.7M71.9 663.3h.7M75.2 664.5h.7M74.3 673.4h.7M74.9 672.8h.7M72.6 664.0h.7M81.3 650.7h.7M71.6 663.2h.7M81.3 667.1h.7M78.6 665.7h.7M70.7 658.3h.7M82.7 655.0h.7M75.0 649.3h.7M75.2 650.2h.7M77.7 668.5h.7M77.5 660.5h.7M74.2 663.5h.7M70.9 658.0h.7M86.0 649.7h.7M73.4 651.7h.7M81.7 657.2h.7M70.2 653.2h.7M81.1 662.9h.7M79.7 658.6h.7M80.1 667.0h.7M79.1 649.2h.7M66.9 652.5h.7M77.2 650.2h.7M71.0 660.9h.7M71.9 652.6h.7M80.4 661.8h.7M79.6 664.6h.7M82.6 658.0h.7M75.1 649.0h.7M74.8 656.1h.7M80.7 662.8h.7M82.7 664.9h.7M81.3 661.7h.7M76.5 657.1h.7M75.8 653.7h.7M77.6 658.7h.7M66.5 644.8h.7M72.5 657.3h.7M74.4 667.8h.7M72.9 652.3h.7M77.6 665.3h.7M83.4 651.7h.7M74.6 657.1h.7M82.7 662.4h.7M75.9 663.9h.7M74.1 658.6h.7M75.6 656.4h.7M74.6 661.9h.7M76.9 668.4h.7M79.7 658.2h.7M65.7 652.4h.7M73.4 657.5h.7M69.7 658.3h.7M76.3 655.4h.7M75.1 659.0h.7M72.5 654.7h.7M75.1 661.2h.7M70.9 647.8h.7M71.3 663.4h.7M68.3 666.5h.7M73.0 660.7h.7M72.1 663.6h.7M75.9 661.6h.7M66.8 665.6h.7M68.0 658.9h.7M78.0 657.7h.7M77.9 659.9h.7M76.1 654.3h.7M80.2 665.3h.7M73.2 654.3h.7M76.6 654.5h.7M76.3 664.2h.7M78.7 667.7h.7M77.7 652.5h.7M71.7 663.4h.7M84.3 655.4h.7M71.5 668.7h.7M75.1 663.7h.7M80.5 652.3h.7M74.0 656.3h.7M78.0 662.8h.7M73.4 663.2h.7M67.5 663.1h.7M77.2 659.0h.7M69.0 660.0h.7M70.8 669.1h.7M74.3 658.3h.7M75.1 662.7h.7M76.0 662.5h.7M71.4 666.8h.7M73.4 664.3h.7M76.7 665.6h.7M75.3 650.4h.7M70.4 659.0h.7M81.9 655.5h.7M75.9 666.8h.7M73.1 661.7h.7M76.9 655.4h.7M76.7 665.4h.7M80.3 656.3h.7M88.8 658.7h.7M74.4 655.2h.7M71.2 665.1h.7M69.4 659.5h.7M75.5 651.4h.7M71.2 667.9h.7M73.1 659.8h.7M74.2 664.6h.7M81.1 663.7h.7M78.1 662.2h.7M70.3 668.3h.7M73.1 654.4h.7M73.9 654.8h.7M77.5 663.3h.7M81.4 657.5h.7M72.9 658.2h.7M70.3 655.9h.7M84.6 652.8h.7M73.5 663.5h.7M76.8 663.7h.7M71.7 653.6h.7M81.6 654.0h.7M75.2 660.7h.7M67.3 659.8h.7M72.7 663.0h.7M74.2 646.0h.7M79.2 643.1h.7M73.8 655.5h.7M72.9 659.8h.7M79.9 653.2h.7M72.9 664.3h.7M77.9 663.1h.7M77.1 657.5h.7M73.4 656.9h.7M79.7 667.5h.7M84.5 651.2h.7M74.5 659.5h.7M74.9 652.6h.7M85.5 666.4h.7M74.9 656.7h.7M75.6 652.0h.7M74.1 664.3h.7M83.1 663.2h.7M81.5 651.7h.7M76.5 658.6h.7M83.2 651.9h.7M71.3 655.7h.7M83.0 663.6h.7M67.5 671.0h.7M75.7 661.9h.7M72.1 671.4h.7M77.6 666.9h.7M71.1 664.5h.7M76.0 657.8h.7M71.9 655.8h.7M70.3 656.3h.7M75.5 662.9h.7M68.5 654.4h.7M72.8 649.9h.7M74.3 657.9h.7M74.7 662.0h.7M79.9 663.3h.7M76.9 662.6h.7M72.0 654.3h.7M78.6 662.1h.7M85.6 655.9h.7M71.1 662.0h.7M73.6 654.3h.7M81.8 669.8h.7M77.3 655.0h.7M76.8 658.7h.7M69.3 665.7h.7M77.2 666.7h.7M73.1 659.7h.7M75.1 648.9h.7M87.1 644.2h.7M70.4 658.2h.7M68.5 663.4h.7M73.5 660.2h.7M76.7 659.6h.7M76.1 658.3h.7M77.6 663.9h.7M74.5 656.9h.7M73.8 661.6h.7M74.0 657.4h.7M68.8 672.6h.7M70.0 670.9h.7M79.4 665.0h.7M76.9 662.2h.7M77.1 662.8h.7M79.6 668.0h.7M71.2 663.4h.7M83.2 666.5h.7M71.0 662.3h.7M77.1 660.7h.7M65.4 666.9h.7M68.4 674.5h.7M78.8 658.3h.7M78.7 659.8h.7M73.4 659.5h.7M77.4 654.2h.7M79.1 665.8h.7M80.8 665.8h.7M81.9 662.7h.7M81.9 658.7h.7M77.8 668.0h.7M84.9 655.6h.7M69.1 674.3h.7M81.2 669.8h.7M80.1 660.2h.7M72.9 654.2h.7M82.6 664.4h.7M77.4 652.4h.7M73.5 656.2h.7M74.5 641.9h.7M76.9 669.1h.7M73.4 660.3h.7M77.2 653.1h.7M77.9 654.1h.7M73.8 661.6h.7M75.6 660.3h.7M71.6 665.0h.7M70.8 665.9h.7M73.7 652.6h.7M75.5 653.1h.7M73.4 659.2h.7M79.6 663.9h.7M78.1 657.4h.7M68.8 659.7h.7M74.4 659.1h.7M73.4 656.8h.7M79.7 650.5h.7M75.9 667.5h.7M72.3 654.2h.7M74.9 657.7h.7M77.1 667.9h.7M75.3 663.2h.7M73.2 657.1h.7M77.3 655.1h.7M81.5 655.9h.7M75.1 653.2h.7M73.9 653.7h.7M73.6 648.9h.7M75.8 670.6h.7M67.1 672.3h.7M75.3 665.3h.7M71.2 673.3h.7M70.8 660.1h.7M83.2 650.1h.7M64.9 661.4h.7M72.3 654.2h.7M71.6 651.2h.7M82.5 665.9h.7M69.4 660.2h.7M73.7 667.0h.7M71.9 670.6h.7M75.9 654.6h.7M75.4 656.0h.7M86.6 658.3h.7M73.6 660.6h.7M82.9 652.0h.7M67.9 669.5h.7M78.8 656.1h.7M75.5 666.7h.7M75.0 664.0h.7M75.6 679.3h.7M72.9 667.2h.7M79.6 648.9h.7M66.2 662.1h.7M80.7 666.1h.7M72.6 662.4h.7M69.1 672.1h.7M73.1 668.3h.7M74.5 657.7h.7M83.6 652.4h.7M82.0 656.0h.7M71.6 655.0h.7M81.2 657.9h.7M74.1 650.2h.7M81.4 665.1h.7M77.4 664.2h.7M76.6 660.0h.7M73.1 661.6h.7M72.3 656.0h.7M69.8 661.6h.7M72.3 657.0h.7M82.4 657.9h.7M75.6 649.7h.7M73.3 666.3h.7M78.4 659.3h.7M75.0 660.1h.7M77.7 657.0h.7M81.3 657.4h.7M82.6 649.7h.7M82.0 659.5h.7M80.1 656.4h.7M76.5 663.1h.7M80.8 661.8h.7M77.9 655.3h.7M84.0 659.2h.7M74.7 657.6h.7M70.0 655.9h.7M68.5 662.3h.7M75.4 661.0h.7M69.8 658.0h.7M72.7 666.5h.7M68.6 651.2h.7M82.0 660.6h.7M68.3 669.7h.7M83.0 665.4h.7M65.9 662.3h.7M71.6 658.6h.7M68.2 672.2h.7M72.5 661.9h.7M79.7 662.6h.7M77.8 656.6h.7M76.9 657.9h.7M64.9 668.1h.7M72.8 656.7h.7M73.8 651.0h.7M70.0 649.1h.7M78.0 666.6h.7M76.1 652.0h.7M82.1 656.2h.7M68.1 648.9h.7M76.7 668.6h.7M73.9 655.8h.7M74.5 654.3h.7M73.2 661.6h.7M72.3 666.2h.7M71.1 665.0h.7M77.4 656.6h.7M74.3 657.7h.7M83.8 652.6h.7M81.5 664.8h.7M74.1 670.2h.7M76.4 659.5h.7M79.8 656.1h.7M74.9 667.0h.7M75.2 652.9h.7M78.5 658.4h.7M73.1 663.6h.7M72.1 653.9h.7M74.5 658.5h.7M76.0 651.7h.7M84.0 662.1h.7M76.5 660.8h.7M70.9 663.7h.7M70.0 667.0h.7M73.2 658.6h.7M83.1 664.3h.7M69.2 656.3h.7M76.7 657.8h.7M79.6 654.3h.7M66.8 655.4h.7M74.9 663.2h.7M79.3 666.7h.7M76.9 657.9h.7M79.3 658.1h.7M73.5 656.9h.7M80.2 668.1h.7M82.1 647.9h.7M81.0 651.2h.7M74.1 663.6h.7M69.4 652.9h.7M72.2 671.0h.7M80.9 652.6h.7M76.4 660.2h.7M77.3 654.6h.7M82.7 655.6h.7M79.7 647.8h.7M77.7 660.0h.7M82.3 641.5h.7M78.4 664.2h.7M74.5 668.2h.7M85.9 663.1h.7M79.7 667.4h.7M77.9 666.9h.7M78.7 654.5h.7M70.7 668.1h.7M78.7 654.6h.7M75.9 668.9h.7M67.5 655.3h.7M79.1 664.1h.7M70.2 654.2h.7M76.6 668.4h.7M75.8 644.5h.7M80.7 658.3h.7M73.6 652.5h.7M81.5 660.0h.7M77.7 661.3h.7M77.9 664.4h.7M84.0 651.0h.7M75.4 656.6h.7M83.9 656.0h.7M68.0 660.9h.7M72.3 655.4h.7M73.6 651.5h.7M66.5 673.9h.7M75.2 653.6h.7M78.8 667.4h.7M67.4 658.3h.7M77.1 653.8h.7M77.9 651.1h.7M72.6 659.3h.7M77.8 659.3h.7M72.5 657.8h.7M65.6 675.3h.7M73.8 658.0h.7M77.0 662.9h.7M77.4 654.8h.7M67.8 660.0h.7M71.9 656.7h.7M75.8 661.0h.7M82.0 657.3h.7M67.5 664.9h.7M80.2 648.0h.7M78.7 660.1h.7M73.1 661.1h.7M77.6 662.9h.7M81.3 658.2h.7M75.7 675.0h.7M70.6 658.7h.7M74.1 664.7h.7M81.1 649.9h.7M81.7 650.6h.7M88.3 652.6h.7M81.1 656.7h.7M79.2 653.9h.7M76.4 659.5h.7M76.2 664.5h.7M73.6 657.8h.7M69.4 659.8h.7M73.4 665.6h.7M79.0 654.1h.7M77.9 667.5h.7M74.8 652.1h.7M87.6 660.6h.7M79.1 674.9h.7M71.9 662.2h.7M66.7 664.5h.7M77.7 654.0h.7M71.7 659.2h.7M74.7 669.9h.7M74.6 658.7h.7M74.9 649.3h.7M73.4 651.2h.7M76.4 645.2h.7M70.4 662.2h.7M65.7 651.5h.7M80.5 649.9h.7M75.7 661.4h.7M70.7 649.6h.7M83.1 654.4h.7M78.2 654.1h.7M77.5 650.6h.7M69.2 654.1h.7M72.7 656.0h.7M74.2 662.6h.7M73.2 666.0h.7M72.6 664.4h.7M82.1 669.4h.7M66.2 672.5h.7M67.3 670.3h.7M75.7 661.7h.7M71.2 666.4h.7M79.1 655.2h.7M72.8 665.6h.7M80.7 663.4h.7M73.9 659.9h.7M80.3 663.9h.7M81.2 659.3h.7M72.4 662.0h.7M77.9 655.6h.7M77.9 653.6h.7M77.0 655.3h.7M85.9 665.1h.7M77.0 650.8h.7M69.9 665.2h.7M75.0 661.6h.7M68.2 651.3h.7M76.3 658.0h.7M69.4 655.6h.7M79.5 655.9h.7M78.5 669.5h.7M77.4 660.0h.7M72.9 667.9h.7M68.8 653.8h.7M75.7 650.0h.7M80.5 654.5h.7M78.3 657.0h.7M74.6 659.8h.7M66.3 654.4h.7M73.5 674.2h.7M79.7 663.3h.7M70.8 666.2h.7M81.7 663.1h.7M88.4 648.2h.7M70.6 658.8h.7M71.1 660.7h.7M78.3 658.9h.7M76.2 662.0h.7M79.5 654.5h.7M72.5 667.8h.7M74.1 654.4h.7M77.1 656.9h.7M76.3 658.9h.7M78.8 664.7h.7M71.8 652.4h.7M83.4 653.5h.7M68.3 648.8h.7M75.6 655.3h.7M67.0 655.1h.7M70.7 666.9h.7M76.9 659.1h.7M69.6 659.5h.7M78.9 659.8h.7M80.8 658.9h.7M79.1 661.7h.7M73.0 668.6h.7M77.5 664.4h.7M70.6 653.5h.7M74.9 654.4h.7M78.7 661.4h.7M81.6 662.0h.7M70.3 666.6h.7M72.6 655.3h.7M76.0 659.3h.7M80.7 676.6h.7M77.8 668.3h.7M74.7 661.8h.7M73.2 657.2h.7M82.2 661.0h.7M77.9 653.8h.7M83.9 656.6h.7M72.6 659.9h.7M79.0 663.6h.7M82.8 651.2h.7M73.7 669.8h.7M86.6 653.2h.7M75.3 649.6h.7M71.8 654.6h.7M75.2 651.9h.7M80.2 658.2h.7M74.5 665.6h.7M74.5 651.7h.7M75.9 673.3h.7M76.2 662.7h.7M74.8 658.2h.7M78.2 642.0h.7M69.8 656.8h.7M74.5 669.0h.7M87.5 661.1h.7M77.6 663.4h.7M83.0 651.7h.7M73.4 660.9h.7M77.2 647.0h.7M77.8 648.8h.7M79.4 664.1h.7M64.9 664.9h.7M76.7 655.3h.7M80.3 671.3h.7M78.1 651.9h.7M68.8 653.3h.7M70.9 667.6h.7M77.1 659.0h.7M79.9 658.7h.7M75.9 654.0h.7M72.7 660.2h.7M70.1 671.2h.7M76.3 655.8h.7M80.4 651.7h.7M80.8 658.9h.7M84.7 654.1h.7M73.8 654.4h.7M69.8 662.2h.7M70.7 662.5h.7M72.7 666.8h.7M75.9 659.4h.7M72.7 671.2h.7M73.8 662.5h.7M74.5 657.4h.7M76.1 663.6h.7M70.4 657.5h.7M69.0 663.3h.7M71.6 655.5h.7M78.8 658.7h.7M77.6 658.1h.7M77.7 659.5h.7M70.4 661.8h.7M74.1 658.2h.7M77.0 655.6h.7M70.6 668.0h.7M84.5 655.4h.7M81.2 660.7h.7M72.6 654.7h.7M74.4 656.9h.7M74.1 658.9h.7M70.3 666.0h.7M70.3 653.6h.7M80.1 663.4h.7M82.7 658.8h.7M72.6 667.4h.7M75.2 658.7h.7M71.6 662.8h.7M66.1 666.9h.7M68.2 665.3h.7M87.5 655.2h.7M70.1 673.0h.7M73.6 652.7h.7M81.7 639.9h.7M68.6 652.4h.7M72.4 647.1h.7M79.6 665.2h.7M75.4 656.8h.7M68.2 663.9h.7M72.3 664.0h.7M80.6 658.7h.7M65.6 655.4h.7M82.3 659.8h.7M82.5 643.6h.7M75.2 658.4h.7M67.9 656.8h.7M80.4 661.9h.7M73.1 662.0h.7M81.4 651.3h.7M77.1 665.8h.7M72.4 668.4h.7M75.3 666.6h.7M80.1 660.2h.7M74.3 655.5h.7M76.5 660.6h.7M82.5 657.5h.7M77.4 669.9h.7M77.3 662.0h.7M83.5 658.4h.7M77.6 663.9h.7M75.2 652.4h.7M68.7 659.5h.7M81.1 664.7h.7M83.6 663.7h.7M72.6 650.7h.7M73.3 658.2h.7M72.2 666.1h.7M71.9 663.9h.7M79.5 647.5h.7M73.7 667.9h.7M79.8 659.4h.7M70.4 656.0h.7M76.1 667.4h.7M78.1 658.4h.7M76.8 664.2h.7M67.3 654.8h.7M75.9 667.1h.7M80.9 653.3h.7M75.8 654.6h.7M73.8 660.7h.7M74.0 656.2h.7M70.1 650.4h.7M74.8 660.8h.7M78.7 653.5h.7M72.2 668.2h.7M77.7 664.7h.7M73.0 655.4h.7M70.2 666.9h.7M70.3 649.4h.7M72.1 668.2h.7M75.8 660.9h.7M76.3 659.0h.7M74.9 650.6h.7M83.7 656.8h.7M81.5 648.2h.7M78.3 651.3h.7M69.5 662.4h.7M80.6 667.2h.7M82.1 656.4h.7M79.5 654.8h.7M73.1 661.5h.7M75.1 664.9h.7M66.9 668.5h.7M72.9 669.4h.7M81.2 650.9h.7M75.5 663.8h.7M71.9 655.4h.7M74.3 664.5h.7M80.1 655.8h.7M79.7 668.0h.7M80.1 653.8h.7M71.7 662.1h.7M79.7 661.4h.7M73.9 653.9h.7M81.8 657.2h.7M84.6 650.3h.7M74.2 655.6h.7M84.5 665.6h.7M73.4 647.6h.7M81.2 659.2h.7M70.4 650.9h.7M77.7 657.7h.7M76.4 661.8h.7M74.0 658.1h.7M78.9 658.1h.7M74.4 663.8h.7M66.3 669.3h.7M77.9 654.1h.7M74.9 667.5h.7M78.4 647.6h.7M70.9 661.6h.7M84.3 662.6h.7M74.8 663.4h.7M75.9 657.5h.7M77.6 645.5h.7M80.6 661.9h.7M73.7 654.5h.7M70.0 662.4h.7M76.5 660.5h.7M83.9 643.8h.7M72.4 655.3h.7M80.3 657.0h.7M71.3 661.7h.7M77.7 669.4h.7M77.0 656.5h.7M73.4 654.8h.7M78.1 664.2h.7M74.7 658.9h.7M82.4 658.8h.7M78.2 652.1h.7M72.9 646.5h.7M69.3 663.2h.7M81.7 656.6h.7M70.1 661.3h.7M81.3 657.4h.7M80.2 658.2h.7M69.9 654.9h.7M74.6 674.3h.7M78.6 657.4h.7M77.2 660.6h.7M73.7 659.3h.7M74.6 664.5h.7M83.2 666.5h.7M74.3 663.3h.7M72.4 653.2h.7M76.2 663.3h.7M75.5 664.8h.7M79.8 663.5h.7M75.1 651.0h.7M84.4 654.7h.7M79.3 661.9h.7M74.2 671.5h.7M79.0 658.8h.7M73.8 653.8h.7M69.8 664.4h.7M73.7 657.1h.7M78.2 656.8h.7M78.9 654.8h.7M73.3 665.9h.7M72.6 664.1h.7M78.2 659.1h.7M68.0 652.8h.7M70.6 652.4h.7M79.9 653.1h.7M69.9 657.5h.7M75.3 649.0h.7M78.7 663.5h.7M73.0 665.2h.7M68.4 657.5h.7M75.0 660.1h.7M81.2 656.3h.7M71.0 661.8h.7M76.5 662.2h.7M74.2 660.9h.7M73.1 663.6h.7M72.7 656.2h.7M81.3 653.6h.7M75.8 663.1h.7M74.3 665.5h.7M73.0 666.5h.7M68.4 652.4h.7M76.1 668.5h.7M83.4 652.5h.7M75.7 656.4h.7M65.7 666.1h.7M74.0 668.5h.7M77.1 655.9h.7M72.5 659.0h.7M77.9 656.0h.7M89.0 658.1h.7M70.4 661.1h.7M81.2 661.1h.7M74.2 655.6h.7M72.1 652.8h.7M73.4 661.6h.7M73.1 670.3h.7M77.6 656.3h.7M75.6 668.8h.7M67.7 662.6h.7M88.4 663.3h.7M71.5 661.1h.7M74.7 677.3h.7M72.6 658.4h.7M74.2 650.8h.7M78.2 656.3h.7M78.1 663.8h.7M79.1 648.1h.7M82.9 663.5h.7M79.6 658.8h.7M75.8 656.1h.7M77.8 664.9h.7M73.1 665.2h.7M73.6 663.7h.7M75.1 665.1h.7M84.9 659.1h.7M73.5 657.3h.7M78.7 655.8h.7M80.4 660.4h.7M80.1 655.1h.7M71.3 655.7h.7M77.7 654.1h.7M79.1 645.8h.7M72.7 659.1h.7M67.2 657.4h.7M68.7 660.5h.7M74.7 664.4h.7M71.8 650.0h.7M73.2 660.9h.7M76.3 660.5h.7M81.6 656.1h.7M74.8 654.4h.7M73.0 666.7h.7M77.5 642.6h.7M81.5 645.8h.7M73.9 666.1h.7M76.4 662.9h.7M79.9 660.6h.7M69.9 663.1h.7M72.5 644.9h.7M74.4 663.3h.7M76.4 659.5h.7M84.1 659.6h.7M80.2 660.7h.7M83.6 655.6h.7M81.4 669.9h.7M74.1 666.5h.7M69.4 662.9h.7M79.3 653.6h.7M67.4 661.6h.7M74.3 661.1h.7M77.3 664.6h.7M83.3 660.8h.7M68.6 665.3h.7M77.7 660.1h.7M83.4 659.8h.7M74.2 662.9h.7M68.3 667.2h.7M76.2 670.3h.7M79.2 661.4h.7M76.8 652.0h.7M75.5 661.6h.7M80.6 661.4h.7M79.2 663.3h.7M73.4 662.1h.7M74.9 652.0h.7M68.8 666.4h.7M82.7 667.3h.7M71.9 670.0h.7M83.3 653.4h.7M78.3 670.0h.7M76.4 667.1h.7M73.0 658.2h.7M80.1 657.8h.7M76.6 660.2h.7M71.2 670.1h.7M75.3 657.8h.7M73.9 660.5h.7M71.6 666.1h.7M74.4 665.0h.7M71.8 654.1h.7M71.6 662.0h.7M69.7 666.3h.7M74.4 665.7h.7M74.2 665.2h.7M71.1 653.7h.7M78.8 655.6h.7M81.0 654.3h.7M78.4 654.0h.7M67.7 670.4h.7M75.0 666.0h.7M76.8 648.6h.7M77.8 666.1h.7M82.1 668.8h.7M77.8 658.6h.7M76.3 652.2h.7M79.4 663.5h.7M77.6 654.4h.7M79.0 655.5h.7M81.8 654.6h.7M73.4 658.1h.7M71.0 654.9h.7M74.6 644.3h.7M85.4 660.1h.7M77.3 653.7h.7M76.8 659.4h.7M76.4 650.1h.7M75.3 647.7h.7M74.9 654.1h.7M73.0 658.1h.7M79.9 666.5h.7M76.0 652.7h.7M82.9 649.2h.7M73.2 658.7h.7M72.4 668.8h.7M77.8 666.0h.7M74.4 665.4h.7M75.1 658.8h.7M77.3 661.8h.7M78.6 657.6h.7M68.7 659.0h.7M72.0 665.5h.7M74.2 649.7h.7M77.8 662.2h.7M77.8 673.0h.7M71.9 662.2h.7M76.5 655.0h.7M77.2 667.2h.7M71.8 663.2h.7M80.6 662.7h.7M68.2 662.9h.7M74.0 667.7h.7M75.2 672.1h.7M69.9 663.9h.7M71.6 671.7h.7M83.3 652.1h.7M79.4 658.5h.7M68.1 654.4h.7M76.3 662.7h.7M74.0 661.7h.7M77.3 661.0h.7M70.2 661.5h.7M78.3 649.5h.7M83.1 667.3h.7M76.6 672.7h.7M72.0 654.3h.7M72.8 655.6h.7M84.6 658.0h.7M75.5 661.9h.7M83.4 659.0h.7M74.0 661.6h.7M81.8 657.0h.7M82.5 660.1h.7M75.0 662.8h.7M85.2 656.1h.7M82.4 661.8h.7M76.6 659.7h.7M79.7 662.7h.7M77.6 663.4h.7M71.7 656.2h.7M71.1 658.3h.7M74.8 657.4h.7M78.4 653.0h.7M74.7 665.3h.7M83.8 658.2h.7M81.5 667.1h.7M71.0 662.0h.7M70.9 658.1h.7M77.8 651.1h.7M78.3 658.1h.7M74.7 663.2h.7M71.9 649.6h.7M76.0 654.9h.7M74.9 652.7h.7M71.4 653.9h.7M69.8 655.6h.7M72.1 660.4h.7M90.7 652.5h.7M68.3 664.7h.7M70.0 655.0h.7M74.2 660.1h.7M76.1 660.9h.7M75.2 666.6h.7M79.7 655.2h.7M74.7 651.1h.7M78.9 657.5h.7M84.7 653.3h.7M82.9 652.2h.7M67.8 655.6h.7M77.4 665.5h.7M71.6 666.4h.7M73.3 656.7h.7M74.3 670.1h.7M76.6 661.2h.7M68.6 661.9h.7M77.0 669.4h.7M71.6 655.8h.7M71.4 656.2h.7M78.9 653.8h.7M81.7 658.4h.7M71.4 656.2h.7M69.3 651.6h.7M81.1 663.8h.7M71.1 657.5h.7M83.2 653.3h.7M76.7 662.3h.7M74.7 658.4h.7M74.1 660.4h.7M68.3 661.1h.7M76.5 650.8h.7M77.8 653.0h.7M76.1 662.8h.7M73.6 650.6h.7M74.9 665.2h.7M75.4 650.1h.7M77.8 657.6h.7M74.8 659.8h.7M78.3 658.1h.7M71.1 659.5h.7M76.2 666.6h.7M69.9 659.6h.7M71.5 661.8h.7M73.0 640.4h.7M80.1 654.2h.7M70.5 650.8h.7M70.6 652.1h.7M74.9 660.3h.7M75.2 661.6h.7M71.7 663.9h.7M75.1 662.2h.7M78.5 656.4h.7M81.4 663.1h.7M73.7 670.7h.7M83.4 648.0h.7M65.1 657.5h.7M77.8 664.7h.7M78.7 658.6h.7M80.2 662.9h.7M73.6 660.9h.7M80.6 654.3h.7M72.7 654.7h.7M82.5 662.1h.7M79.6 656.2h.7M75.5 667.0h.7M74.4 667.0h.7M75.6 659.2h.7M78.3 664.2h.7M83.9 655.5h.7M83.6 653.0h.7M71.7 646.2h.7M79.6 667.8h.7M70.1 658.5h.7M74.5 649.9h.7M76.0 661.2h.7M73.4 653.5h.7M76.3 663.0h.7M69.1 660.1h.7M78.3 641.3h.7M77.2 669.9h.7M69.7 668.8h.7M74.3 663.5h.7M75.0 652.4h.7M67.7 676.0h.7M69.4 659.0h.7M82.4 660.0h.7M76.5 646.6h.7M72.8 651.6h.7M67.3 663.4h.7M79.6 653.8h.7M72.7 662.7h.7M79.9 651.9h.7M81.2 664.2h.7M75.7 652.4h.7M78.4 663.2h.7M84.0 654.0h.7M83.2 655.7h.7M78.2 658.2h.7M76.1 668.6h.7M72.5 665.3h.7M74.5 659.5h.7M72.4 661.4h.7M66.4 659.7h.7M80.5 663.8h.7M68.1 653.9h.7M73.8 671.6h.7M73.7 659.8h.7M74.6 661.6h.7M71.5 661.9h.7M78.0 665.6h.7M71.6 666.0h.7M84.8 662.6h.7M79.0 643.4h.7M82.1 670.3h.7M81.5 661.5h.7M79.7 677.7h.7M72.4 657.6h.7M81.0 660.0h.7M65.5 663.0h.7M77.4 653.2h.7M77.6 660.7h.7M67.2 664.5h.7M86.0 668.5h.7M70.4 652.2h.7M76.1 661.2h.7M69.4 656.0h.7M82.2 659.7h.7M80.7 658.3h.7M80.7 655.1h.7M73.3 653.9h.7M66.6 658.8h.7M69.3 657.8h.7M76.4 660.4h.7M77.6 656.6h.7M75.5 666.9h.7M75.0 659.8h.7M81.0 652.9h.7M70.6 666.6h.7M69.9 666.9h.7M75.3 655.5h.7M66.0 669.9h.7M67.1 653.3h.7M79.5 650.7h.7M78.1 658.7h.7M74.4 652.9h.7M72.6 661.8h.7M71.0 664.4h.7M76.8 662.6h.7M76.8 662.8h.7M77.5 664.3h.7M77.5 661.1h.7M71.3 649.2h.7M75.9 665.5h.7M71.3 650.1h.7M73.1 662.2h.7M79.8 656.5h.7M70.1 660.1h.7M78.9 658.4h.7M80.5 655.2h.7M79.9 669.0h.7M70.9 654.8h.7M78.8 678.7h.7M78.1 658.7h.7M81.9 657.4h.7M68.0 654.9h.7M82.1 647.3h.7M68.9 666.0h.7M76.4 667.0h.7M70.6 655.7h.7M74.0 651.8h.7M74.6 658.5h.7M79.8 658.0h.7M73.8 662.9h.7M81.0 665.0h.7M77.0 656.7h.7M73.4 651.5h.7M76.0 659.2h.7M83.6 659.2h.7M79.3 667.0h.7M66.8 657.1h.7M74.6 660.4h.7M70.3 666.0h.7M80.0 661.7h.7M79.0 651.7h.7M81.1 654.4h.7M66.7 662.0h.7M77.7 654.6h.7M67.8 653.6h.7M75.0 643.3h.7M80.6 664.8h.7M74.8 666.3h.7M74.9 652.3h.7M78.7 662.4h.7M71.3 651.2h.7M71.0 667.8h.7M74.2 677.7h.7M72.5 663.9h.7M77.2 657.6h.7M79.7 653.1h.7M75.4 651.9h.7M65.2 661.9h.7M70.2 652.1h.7M78.5 657.8h.7M77.5 670.1h.7M76.6 662.1h.7M70.0 665.9h.7M79.8 651.8h.7M78.8 660.8h.7M74.7 660.1h.7M87.3 652.9h.7M74.1 660.4h.7M74.8 647.9h.7M78.8 664.7h.7M84.0 654.1h.7M69.7 664.8h.7M70.8 660.4h.7M73.8 661.0h.7M73.6 664.3h.7M71.3 675.6h.7M79.5 654.6h.7M71.1 659.1h.7M73.5 654.6h.7M82.4 664.3h.7M70.5 664.1h.7M75.8 664.3h.7M72.6 673.7h.7M76.1 672.2h.7M73.5 668.5h.7M75.2 670.2h.7M74.9 652.8h.7M70.6 656.4h.7M78.6 661.3h.7M76.3 666.1h.7M83.6 651.4h.7M80.6 673.3h.7M72.8 656.4h.7M77.7 660.5h.7M73.2 659.5h.7M83.5 663.8h.7M71.9 649.3h.7M70.5 661.7h.7M72.0 654.8h.7M79.2 656.9h.7M73.9 661.2h.7M82.7 660.0h.7M79.1 659.3h.7M83.2 650.1h.7M70.4 657.3h.7M85.5 667.4h.7M70.5 657.6h.7M78.4 659.4h.7M80.0 655.5h.7M67.8 665.1h.7M81.8 648.4h.7M66.8 658.4h.7M66.8 664.1h.7M70.2 665.4h.7M74.1 660.7h.7M79.0 657.5h.7M70.9 666.4h.7M68.7 670.0h.7M72.9 656.7h.7M77.7 661.8h.7M78.2 649.6h.7M71.6 662.6h.7M77.6 658.5h.7M82.0 657.1h.7M80.3 665.6h.7M77.5 657.9h.7M79.4 661.7h.7M78.8 653.4h.7M78.1 669.3h.7M74.5 660.7h.7M74.7 665.4h.7M65.9 671.8h.7M78.3 657.6h.7M77.1 666.5h.7M77.6 663.5h.7M81.6 659.5h.7M79.4 668.3h.7M78.5 655.0h.7M79.5 671.9h.7M74.3 662.8h.7M77.9 664.8h.7M73.9 659.8h.7M85.2 662.1h.7M72.9 665.2h.7M76.2 669.4h.7M68.2 661.8h.7M80.6 650.5h.7M72.3 663.4h.7M76.1 657.6h.7M77.3 650.4h.7M71.9 671.4h.7M72.8 663.0h.7M75.6 665.1h.7M77.5 661.9h.7M81.4 660.5h.7M67.8 657.0h.7M82.7 665.0h.7M74.8 649.7h.7M72.5 673.5h.7M81.6 666.2h.7M68.2 652.5h.7M73.1 651.5h.7M76.4 652.5h.7M78.1 657.7h.7M73.2 664.3h.7M78.0 660.0h.7M74.1 659.6h.7M66.7 649.0h.7M72.7 661.1h.7M84.2 660.4h.7M71.2 657.4h.7M69.9 660.5h.7M75.4 659.4h.7M77.1 665.9h.7M79.1 651.6h.7M79.9 652.3h.7M77.7 659.8h.7M83.8 657.3h.7M75.4 657.9h.7M79.9 660.7h.7M74.6 665.1h.7M85.8 667.9h.7M83.0 654.8h.7M75.5 660.7h.7M67.8 672.1h.7M69.1 663.5h.7M70.1 661.6h.7M79.8 662.1h.7M71.8 656.3h.7M80.3 658.3h.7M76.5 665.4h.7M81.9 669.7h.7M79.2 654.3h.7M80.5 670.6h.7M72.9 655.7h.7M75.2 657.2h.7M66.3 646.7h.7M69.7 656.9h.7M78.0 655.9h.7M76.8 668.1h.7M90.0 662.3h.7M71.3 666.9h.7M75.9 661.8h.7M80.5 663.6h.7M69.7 653.7h.7M77.2 663.8h.7M85.8 661.4h.7M74.2 656.9h.7M72.5 652.1h.7M69.7 657.4h.7M76.3 654.7h.7M76.0 657.8h.7M74.8 657.1h.7M77.2 659.4h.7M76.4 655.6h.7M76.7 655.0h.7M76.5 654.0h.7M79.1 661.1h.7M69.0 656.6h.7M79.2 661.5h.7M76.5 652.3h.7M72.7 661.3h.7M77.3 659.2h.7M72.0 658.9h.7M73.5 652.7h.7M70.7 655.5h.7M68.8 664.0h.7M79.5 664.4h.7M72.2 655.6h.7M77.0 656.4h.7M74.4 657.9h.7M68.3 669.0h.7M69.1 651.0h.7M79.6 651.9h.7M80.9 660.7h.7M77.5 656.8h.7M69.2 653.4h.7M76.3 658.7h.7M70.2 653.5h.7M71.7 659.9h.7M77.9 664.8h.7M74.1 668.8h.7M79.2 668.1h.7M71.7 664.0h.7M80.9 647.4h.7M80.1 661.2h.7M80.1 659.7h.7M81.2 655.8h.7M73.4 664.5h.7M79.2 650.4h.7M81.4 665.7h.7M80.6 654.0h.7M81.7 661.5h.7M80.1 658.3h.7M73.8 655.5h.7M73.0 665.7h.7M72.2 656.4h.7M77.3 657.6h.7M66.3 657.4h.7M74.1 669.9h.7M78.9 652.7h.7M70.7 657.7h.7M76.9 654.4h.7M77.8 650.3h.7M77.3 666.6h.7M77.0 662.1h.7M76.3 659.0h.7M77.1 659.9h.7M76.2 669.2h.7M80.6 664.3h.7M72.9 657.1h.7M80.7 652.0h.7M80.5 650.2h.7M85.7 665.2h.7M73.3 657.1h.7M66.3 661.1h.7M81.3 662.2h.7M74.6 672.5h.7M78.4 661.5h.7M74.4 663.4h.7M88.0 659.8h.7M68.1 662.4h.7M84.7 665.1h.7M73.4 662.2h.7M69.0 664.9h.7M71.7 657.0h.7M73.2 655.6h.7M83.7 667.1h.7M74.5 660.4h.7M83.6 656.1h.7M73.7 654.7h.7M83.0 659.0h.7M75.8 656.9h.7M71.6 666.3h.7M72.2 657.0h.7M68.0 654.2h.7M73.4 656.9h.7M68.8 657.1h.7M75.1 643.3h.7M78.5 657.2h.7M69.5 659.0h.7M77.8 659.0h.7M75.9 659.5h.7M78.8 650.4h.7M73.0 662.4h.7M75.9 652.8h.7M74.4 655.4h.7M75.8 649.1h.7M68.2 652.0h.7M75.1 674.9h.7M80.3 666.1h.7M75.8 669.3h.7M77.4 659.5h.7M80.8 650.8h.7M65.5 654.1h.7M82.2 663.7h.7M76.6 657.7h.7M74.9 662.0h.7M71.7 665.0h.7M71.2 668.7h.7M74.1 654.0h.7M74.4 653.9h.7M75.1 648.3h.7M73.4 660.3h.7M77.5 656.6h.7M81.3 647.7h.7M74.7 656.6h.7M75.6 657.7h.7M82.1 658.0h.7M71.4 675.8h.7M75.9 658.3h.7M79.8 654.8h.7M74.6 665.0h.7M70.2 657.7h.7M80.1 669.7h.7M75.3 658.8h.7M80.8 649.1h.7M72.4 655.1h.7M66.1 643.2h.7M73.8 665.4h.7M78.8 666.6h.7M81.9 652.7h.7M69.6 662.8h.7M75.7 663.3h.7M75.6 667.1h.7M78.9 660.3h.7M73.9 664.1h.7M72.6 666.0h.7M81.1 664.2h.7M69.7 663.4h.7M77.4 664.5h.7M68.4 657.1h.7M75.3 668.2h.7M72.9 665.6h.7M76.4 671.4h.7M77.2 649.0h.7M74.4 661.3h.7M81.7 662.4h.7M74.4 651.7h.7M75.9 658.6h.7M82.0 664.0h.7M69.1 646.2h.7M73.8 661.5h.7M71.2 657.1h.7M81.3 662.9h.7M67.6 663.2h.7M76.5 658.0h.7M78.4 662.6h.7M87.4 658.5h.7M72.3 657.0h.7M79.1 670.9h.7M78.6 662.2h.7M77.0 656.4h.7M76.1 651.7h.7M79.3 661.7h.7M76.6 653.9h.7M74.5 656.1h.7M77.2 657.4h.7M77.5 665.0h.7M81.7 651.8h.7M74.2 652.9h.7M81.6 652.9h.7M82.1 655.0h.7M80.6 655.1h.7M74.7 660.5h.7M76.2 658.5h.7M78.9 666.4h.7M79.8 655.6h.7M67.1 662.0h.7M78.7 651.2h.7M78.5 654.8h.7M81.7 653.5h.7M71.9 656.2h.7M76.9 652.7h.7M86.4 655.0h.7M84.0 656.0h.7M74.3 655.3h.7M72.2 663.0h.7M81.4 659.0h.7M71.6 661.7h.7M72.1 643.4h.7M76.4 648.4h.7M72.8 660.4h.7M73.9 658.2h.7M83.1 664.0h.7M82.9 659.4h.7M76.9 670.4h.7M72.9 662.2h.7M76.4 661.2h.7M78.6 659.7h.7M79.6 653.4h.7M78.1 652.5h.7M80.8 664.6h.7M74.8 656.5h.7M75.6 663.0h.7M68.7 654.6h.7M80.2 657.2h.7M69.7 646.7h.7M73.7 648.9h.7M76.3 658.8h.7M84.3 649.8h.7M78.7 651.3h.7M70.9 659.1h.7M71.7 671.6h.7M75.4 654.7h.7M86.5 652.2h.7M73.9 658.4h.7M72.0 663.8h.7M81.2 650.1h.7M73.4 657.4h.7M69.1 652.4h.7M73.9 654.0h.7M77.0 664.1h.7M76.4 660.9h.7M71.3 656.4h.7M77.4 662.4h.7M75.2 662.7h.7M74.4 652.2h.7M77.0 656.3h.7M67.6 666.0h.7M77.3 663.4h.7M73.4 668.9h.7M77.8 664.8h.7M72.5 657.9h.7M81.5 657.8h.7M75.7 668.4h.7M80.9 659.6h.7M84.4 648.2h.7M75.3 655.9h.7M82.4 667.6h.7M73.4 660.6h.7M79.9 661.6h.7M76.8 665.2h.7M84.6 658.2h.7M70.5 659.6h.7M75.4 657.0h.7M78.8 663.2h.7M79.8 661.4h.7M76.8 652.7h.7M74.0 654.3h.7M77.1 658.3h.7M75.4 662.6h.7M74.3 666.1h.7M80.4 652.5h.7M81.6 656.0h.7M72.3 658.0h.7M69.8 662.6h.7M81.1 648.9h.7M77.6 662.5h.7M78.6 662.6h.7M77.6 656.0h.7M79.7 660.5h.7M79.3 660.5h.7M74.4 659.3h.7M78.4 665.1h.7M66.9 653.3h.7M68.2 657.6h.7M72.6 661.1h.7M74.2 667.7h.7M72.8 655.5h.7M71.9 658.2h.7M76.3 656.2h.7M71.4 651.8h.7M76.4 655.7h.7M71.1 658.5h.7M77.1 671.5h.7M83.0 652.3h.7M73.5 647.7h.7M66.6 649.8h.7M79.7 657.5h.7M68.9 656.5h.7M73.3 655.7h.7M82.3 646.1h.7M73.5 661.1h.7M77.8 645.5h.7M76.4 651.3h.7M72.9 650.0h.7M79.1 677.6h.7M80.2 656.5h.7M67.5 666.2h.7M81.0 651.4h.7M79.9 647.4h.7M69.7 661.3h.7M69.2 665.2h.7M82.1 658.3h.7M77.8 668.6h.7M78.0 666.8h.7M82.2 651.6h.7M85.7 664.6h.7M76.4 664.3h.7M77.1 660.5h.7M71.1 657.9h.7M74.2 666.4h.7M77.9 661.5h.7M75.2 667.3h.7M64.6 656.1h.7M80.1 656.0h.7M78.7 668.5h.7M79.4 649.7h.7M74.7 652.6h.7M77.9 665.4h.7M74.7 662.8h.7M74.8 671.4h.7M76.4 660.7h.7M78.3 665.4h.7M78.9 658.7h.7M76.0 662.5h.7M78.5 656.6h.7M73.1 658.6h.7M77.9 656.3h.7M70.9 658.5h.7M73.6 663.7h.7M73.4 657.5h.7M84.3 660.5h.7M71.6 667.7h.7M74.1 654.9h.7M78.8 650.3h.7M75.5 663.0h.7M79.2 655.6h.7M73.5 659.5h.7M81.3 647.4h.7M79.5 660.6h.7M82.0 651.4h.7M81.1 653.2h.7M77.2 656.9h.7M64.6 661.4h.7M77.6 664.4h.7M73.0 653.0h.7M79.0 656.7h.7M80.6 667.3h.7M74.8 658.7h.7M72.5 647.8h.7M75.8 664.0h.7M80.7 658.4h.7M84.3 654.6h.7M75.7 656.3h.7M73.8 658.3h.7M72.7 657.6h.7M77.1 660.0h.7M71.1 663.6h.7M72.1 663.1h.7M76.2 647.8h.7M71.1 666.3h.7M72.9 656.2h.7M73.9 660.7h.7M78.5 657.2h.7M83.6 654.5h.7M73.7 658.9h.7M76.6 668.4h.7M86.6 655.3h.7M75.1 663.6h.7M75.3 665.0h.7M71.0 665.8h.7M65.9 664.8h.7M78.9 674.2h.7M71.7 664.7h.7M78.8 653.2h.7M77.1 654.2h.7M70.5 651.4h.7M74.9 653.3h.7M66.3 663.3h.7M68.0 665.4h.7M77.0 654.2h.7M68.5 655.4h.7M69.6 658.5h.7M74.1 675.1h.7M66.2 657.8h.7M78.4 665.4h.7M82.0 652.2h.7M79.5 640.9h.7M74.8 665.0h.7M79.1 650.1h.7M72.0 646.9h.7M72.3 651.6h.7M77.1 654.5h.7M78.6 658.2h.7M74.2 670.8h.7M81.2 650.1h.7M82.2 662.9h.7M82.0 661.0h.7M67.4 658.8h.7M64.5 653.0h.7M72.5 668.1h.7M76.0 660.8h.7M79.2 653.1h.7M80.9 659.8h.7M71.3 656.8h.7M74.6 663.5h.7M82.4 656.2h.7M74.7 671.0h.7M90.7 667.7h.7M76.7 657.0h.7M79.0 660.7h.7M72.1 668.7h.7M87.7 651.8h.7M72.1 657.0h.7M69.8 665.8h.7M69.0 665.0h.7M77.6 663.8h.7M68.8 661.8h.7M77.1 664.8h.7M77.5 655.4h.7M81.1 667.1h.7M82.1 653.5h.7M78.3 653.2h.7M75.0 664.4h.7M69.0 678.4h.7M81.6 653.5h.7M73.1 659.5h.7M75.1 652.0h.7M75.1 649.8h.7M72.9 671.4h.7M75.5 657.1h.7M83.2 660.0h.7M78.7 655.3h.7M81.0 656.3h.7M79.9 662.7h.7M84.0 664.1h.7M75.7 652.8h.7M74.4 655.4h.7M83.0 655.2h.7M64.9 664.1h.7M79.6 652.9h.7M79.2 650.4h.7M76.9 658.2h.7M77.3 661.9h.7M72.6 665.3h.7M73.4 660.7h.7M82.5 652.2h.7M76.1 669.6h.7M81.8 653.9h.7M72.8 663.6h.7M72.7 660.6h.7M69.3 664.8h.7M68.1 661.9h.7M79.1 654.5h.7M68.3 652.9h.7M66.6 672.7h.7M66.6 653.1h.7M77.3 659.5h.7M80.7 666.9h.7M77.9 658.6h.7M73.1 658.8h.7M80.3 662.5h.7M78.8 648.1h.7M72.1 655.8h.7M73.2 653.2h.7M79.0 665.6h.7M84.5 654.3h.7M75.3 660.2h.7M75.7 654.1h.7M79.6 645.7h.7M73.5 647.7h.7M78.8 649.9h.7M70.2 660.5h.7M70.8 662.1h.7M73.9 672.4h.7M69.9 655.4h.7M78.5 659.7h.7M77.9 657.2h.7M80.3 660.8h.7M82.1 649.5h.7M77.0 657.8h.7M77.7 653.0h.7M79.7 650.1h.7M80.0 662.1h.7M67.1 663.8h.7M66.5 665.0h.7M68.1 660.6h.7M74.5 649.3h.7M66.9 664.5h.7M73.5 667.0h.7M75.6 677.3h.7M76.6 670.7h.7M77.5 659.7h.7M78.4 654.1h.7M72.7 670.8h.7M74.9 652.3h.7M78.3 653.7h.7M76.2 666.8h.7M82.1 670.1h.7M81.5 662.7h.7M78.5 661.0h.7M75.7 674.3h.7M75.6 670.5h.7M75.4 667.6h.7M73.0 670.5h.7M83.2 654.2h.7M75.6 665.8h.7M77.5 660.1h.7M80.8 650.4h.7M83.8 661.2h.7M75.7 674.6h.7M76.1 650.2h.7M82.7 661.2h.7M76.2 666.7h.7M74.4 659.7h.7M81.1 661.9h.7M81.0 656.7h.7M84.4 649.3h.7M69.7 664.7h.7M74.8 661.7h.7M76.5 659.1h.7M71.2 663.1h.7M82.7 653.5h.7M85.5 668.4h.7M72.3 666.2h.7M71.1 660.4h.7M71.1 657.8h.7M67.5 661.0h.7M71.4 655.5h.7M66.9 662.4h.7M85.5 656.0h.7M75.7 653.0h.7M74.1 655.1h.7M68.9 656.0h.7M73.9 662.7h.7M74.7 662.3h.7M82.6 664.8h.7M74.3 649.2h.7M75.4 660.8h.7M81.1 660.0h.7M89.7 655.3h.7M79.5 653.5h.7M71.5 659.1h.7M77.3 664.3h.7M83.5 667.3h.7M80.3 658.4h.7M78.9 667.8h.7M71.6 665.3h.7M78.7 658.6h.7M84.8 653.8h.7M71.5 660.6h.7M73.2 669.2h.7M68.2 653.1h.7M77.7 664.4h.7M70.5 669.5h.7M67.0 668.4h.7M71.9 657.7h.7M84.8 657.7h.7M73.0 662.1h.7M85.2 658.5h.7M72.4 661.9h.7M70.2 656.6h.7M73.4 664.5h.7M73.8 663.4h.7M81.6 668.8h.7M68.0 661.1h.7M70.5 665.0h.7M77.3 659.5h.7M73.5 654.1h.7M67.9 667.6h.7M75.1 660.2h.7M77.6 664.6h.7M85.1 656.8h.7M79.2 648.7h.7M74.2 655.6h.7M73.0 667.8h.7M76.6 660.1h.7M76.4 658.3h.7M75.0 655.9h.7M73.5 657.6h.7M75.2 648.0h.7M76.4 659.5h.7M78.0 652.2h.7M71.6 665.8h.7M72.6 663.5h.7M72.8 652.8h.7M69.1 657.3h.7M73.8 652.4h.7M82.8 658.5h.7M71.8 670.1h.7M80.0 654.1h.7M71.1 659.6h.7M79.5 650.1h.7M81.5 656.2h.7M80.0 658.1h.7M78.4 663.4h.7M82.2 654.0h.7M85.1 649.9h.7M77.5 663.8h.7M76.2 665.4h.7M68.4 661.1h.7M80.8 658.9h.7M70.8 661.9h.7M77.0 653.4h.7M82.4 655.1h.7M71.2 661.5h.7M73.0 659.3h.7M77.2 657.0h.7M78.9 661.1h.7M81.9 652.3h.7M76.4 661.4h.7M77.5 646.3h.7M71.1 663.0h.7M78.8 659.5h.7M77.0 667.4h.7M74.5 655.4h.7M83.2 662.3h.7M75.4 655.5h.7M83.7 656.6h.7M72.3 668.7h.7M69.2 660.3h.7M79.1 657.5h.7M73.7 663.1h.7M70.4 659.7h.7M79.5 652.3h.7M82.7 657.2h.7M75.8 656.9h.7M78.9 656.3h.7M77.2 667.6h.7M82.1 649.1h.7M82.5 655.5h.7M77.6 660.2h.7M77.5 655.8h.7M78.9 665.7h.7M73.4 660.3h.7M80.0 665.9h.7M77.7 661.3h.7M78.4 657.3h.7M77.7 657.8h.7M74.5 645.3h.7M67.6 663.9h.7M79.6 662.0h.7M76.6 657.8h.7M78.8 656.8h.7M76.1 669.3h.7M69.5 657.4h.7M74.9 647.9h.7M70.5 667.7h.7M78.5 658.4h.7M82.2 652.3h.7M85.1 657.5h.7M73.2 667.2h.7M78.5 660.5h.7M75.5 648.4h.7M66.2 661.8h.7M80.6 653.8h.7M76.4 649.8h.7M68.9 660.8h.7M79.3 663.7h.7M81.7 653.5h.7M75.2 664.8h.7M71.2 658.7h.7M76.0 659.6h.7M80.1 661.5h.7M73.9 645.4h.7M79.7 665.2h.7M78.4 661.4h.7M78.1 666.9h.7M73.5 659.7h.7M71.2 659.2h.7M72.1 655.3h.7M66.6 660.9h.7M80.7 639.6h.7M81.9 658.2h.7M72.7 662.2h.7M74.7 659.3h.7M82.6 659.3h.7M77.6 657.5h.7M75.0 654.0h.7M75.3 654.8h.7M81.3 657.0h.7M79.3 667.0h.7M80.7 654.3h.7M83.7 646.0h.7M82.6 642.2h.7M71.6 659.9h.7M72.5 646.9h.7M68.8 662.6h.7M67.7 665.2h.7M81.2 666.9h.7M77.0 659.0h.7M73.9 677.3h.7M81.5 662.4h.7M77.4 666.1h.7M66.8 666.8h.7M73.1 645.4h.7M81.0 653.6h.7M77.9 654.4h.7M73.9 670.1h.7M77.4 661.7h.7M68.4 666.7h.7M72.8 663.1h.7M71.0 662.8h.7M78.4 649.7h.7M77.3 653.6h.7M81.7 660.7h.7M76.1 678.8h.7M79.8 656.3h.7M80.0 660.5h.7M82.2 651.9h.7M85.1 654.4h.7M74.1 655.3h.7M74.4 672.0h.7M76.7 652.6h.7M75.1 661.3h.7M80.4 656.6h.7M76.8 678.0h.7M75.2 660.4h.7M70.2 666.8h.7M73.7 671.7h.7M81.6 663.5h.7M73.5 657.9h.7M74.1 660.5h.7M74.2 656.5h.7M76.3 659.3h.7M74.1 665.7h.7M80.8 655.0h.7M86.0 659.9h.7M81.7 670.3h.7M69.1 664.2h.7M80.2 666.3h.7M79.6 665.2h.7M68.7 655.0h.7M94.7 641.6h.7M84.9 649.5h.7M87.8 645.3h.7M90.1 642.8h.7M85.9 645.7h.7M87.9 645.8h.7M91.7 648.3h.7M84.2 653.9h.7M94.2 640.2h.7M86.1 648.2h.7M91.3 644.5h.7M89.9 651.5h.7M92.6 644.4h.7M82.0 651.8h.7M83.6 653.4h.7M94.8 640.3h.7M87.8 646.7h.7M90.9 645.7h.7M88.6 645.7h.7M87.5 641.5h.7M92.6 640.9h.7M90.9 645.6h.7M81.9 654.5h.7M91.0 638.1h.7M84.0 653.6h.7M90.8 645.1h.7M83.6 652.5h.7M90.7 644.0h.7M85.0 642.2h.7M82.9 655.4h.7M89.7 641.4h.7M87.4 643.4h.7M85.0 651.6h.7M91.2 647.2h.7M90.2 644.6h.7M90.0 645.0h.7M93.2 642.2h.7M82.0 651.7h.7M83.4 655.1h.7M94.1 639.1h.7M84.1 648.3h.7M89.9 642.2h.7M85.0 651.9h.7M92.5 643.7h.7M87.8 650.8h.7M90.7 642.4h.7M87.7 644.0h.7M86.6 648.3h.7M87.9 648.7h.7M89.7 646.2h.7M80.2 651.2h.7M92.1 639.4h.7M89.0 644.7h.7M87.9 653.2h.7M88.4 656.7h.7M90.4 648.2h.7M92.7 647.0h.7M87.4 644.3h.7M88.2 648.5h.7M90.6 642.1h.7M86.2 650.3h.7M88.6 642.5h.7M89.7 642.6h.7M85.0 652.4h.7M92.5 645.3h.7M89.2 647.3h.7M97.6 640.6h.7M91.6 649.9h.7M85.3 650.9h.7M92.7 642.0h.7M82.5 652.5h.7M92.1 641.8h.7M85.7 649.1h.7M86.4 650.5h.7M95.3 638.8h.7M88.9 651.1h.7M86.1 654.0h.7M85.1 653.6h.7M90.5 643.5h.7M89.9 641.9h.7M86.6 649.8h.7M88.2 647.6h.7M87.0 651.9h.7M89.2 642.2h.7M88.3 648.5h.7M92.9 648.9h.7M92.9 640.2h.7M82.7 653.0h.7M95.6 643.0h.7M87.4 644.5h.7M83.8 645.9h.7M85.4 649.1h.7M91.5 642.5h.7M91.3 640.2h.7M91.6 642.6h.7M93.3 643.2h.7M88.2 646.7h.7M79.2 654.3h.7M90.4 639.3h.7M89.3 645.6h.7M90.8 645.0h.7M87.2 642.5h.7M82.2 649.8h.7M86.9 651.0h.7M80.1 653.0h.7M85.9 643.2h.7M91.5 642.2h.7M90.4 646.4h.7M90.6 646.9h.7M81.9 647.5h.7M83.4 654.8h.7M84.6 653.0h.7M86.0 651.8h.7M86.0 653.0h.7M86.0 645.1h.7M86.1 654.6h.7M89.2 644.6h.7M90.9 641.8h.7M94.1 644.5h.7M94.1 642.9h.7M88.1 653.3h.7M91.6 643.9h.7M92.8 643.5h.7M89.4 644.7h.7M91.2 639.8h.7M88.2 646.9h.7M82.2 654.4h.7M83.2 651.2h.7M86.4 649.8h.7M92.4 646.4h.7M88.3 647.0h.7M90.4 649.7h.7M80.3 658.3h.7M85.8 648.1h.7M91.1 645.2h.7M91.5 642.3h.7M88.5 645.6h.7M84.2 652.2h.7M84.3 647.6h.7M90.8 641.4h.7M87.9 643.7h.7M83.1 652.3h.7M94.8 640.3h.7M81.6 652.6h.7M89.0 652.8h.7M84.7 649.0h.7M92.3 644.1h.7M86.6 648.4h.7M90.4 642.6h.7M90.9 641.6h.7M86.9 647.6h.7M84.6 653.7h.7M86.4 650.2h.7M89.9 644.1h.7M87.4 655.0h.7M82.2 650.9h.7M92.4 646.7h.7M93.5 641.0h.7M92.7 639.5h.7M91.3 646.4h.7M83.4 647.1h.7M90.3 642.7h.7M89.7 639.1h.7M86.1 650.3h.7M92.5 638.1h.7M97.9 644.5h.7M85.2 651.9h.7M91.3 643.8h.7M85.6 654.6h.7M86.4 645.7h.7M89.4 641.5h.7M94.7 641.8h.7M86.8 649.0h.7M90.2 647.1h.7M90.9 643.9h.7M85.5 650.1h.7M87.8 648.8h.7M88.5 650.1h.7M90.5 648.6h.7M86.0 648.5h.7M91.9 640.4h.7M83.9 653.8h.7M91.7 644.4h.7M92.2 644.4h.7M83.3 653.3h.7M90.9 640.8h.7M84.0 650.5h.7M86.2 647.9h.7M89.0 644.1h.7M87.5 644.2h.7M88.6 648.9h.7M88.3 645.1h.7M83.7 652.7h.7M85.0 654.6h.7M88.6 641.7h.7M91.6 639.9h.7M82.4 653.9h.7M92.6 643.6h.7M92.5 651.8h.7M85.6 641.0h.7M85.7 650.2h.7M89.7 646.2h.7M89.4 650.7h.7M90.6 646.9h.7M81.0 648.2h.7M89.1 648.6h.7M87.4 643.2h.7M83.9 654.3h.7M90.5 637.9h.7M87.2 648.3h.7M92.2 642.8h.7M86.5 652.6h.7M92.1 639.6h.7M83.9 649.7h.7M84.8 654.4h.7M86.9 644.9h.7M88.1 647.0h.7M89.1 646.2h.7M89.1 649.6h.7M83.8 651.9h.7M89.9 645.3h.7M86.2 649.4h.7M86.2 650.0h.7M89.6 643.1h.7M93.5 646.3h.7M89.7 643.7h.7M94.1 643.7h.7M92.3 638.7h.7M87.7 653.6h.7M88.9 640.4h.7M92.5 649.4h.7M88.4 646.6h.7M83.4 652.0h.7M87.3 651.9h.7M93.3 645.2h.7M84.3 653.7h.7M88.1 643.8h.7M85.7 649.7h.7M92.9 641.1h.7M87.8 643.7h.7M89.1 645.0h.7M83.1 651.2h.7M93.2 645.9h.7M86.1 645.8h.7M93.1 647.3h.7M89.1 645.3h.7M86.6 651.2h.7M92.6 642.2h.7M85.7 649.5h.7M88.1 643.5h.7M94.4 637.2h.7M93.7 642.3h.7M90.2 641.4h.7M87.6 647.7h.7M93.3 641.9h.7M87.9 646.4h.7M84.0 655.1h.7M87.3 648.0h.7M91.3 639.6h.7M87.4 646.9h.7M91.6 639.8h.7M80.3 653.6h.7M93.3 638.1h.7M92.5 639.7h.7M86.2 650.0h.7M94.3 640.2h.7M88.7 650.1h.7M89.4 647.8h.7M82.0 651.0h.7M92.5 648.0h.7M93.0 639.0h.7M92.6 638.7h.7M82.6 654.1h.7M91.0 640.1h.7M91.6 645.6h.7M86.3 653.4h.7M91.5 641.8h.7M87.2 645.7h.7M82.5 651.8h.7M88.0 646.8h.7M93.8 643.4h.7M89.8 642.7h.7M85.0 653.9h.7M88.4 648.0h.7M82.3 651.5h.7M93.3 640.0h.7M84.1 655.3h.7M90.3 636.9h.7M86.8 645.3h.7M93.2 643.0h.7M90.6 642.5h.7M89.3 644.9h.7M86.5 648.7h.7M84.4 647.5h.7M86.8 648.0h.7M82.9 651.2h.7M83.5 650.4h.7M89.8 642.1h.7M90.5 648.8h.7M86.8 645.6h.7M90.6 646.2h.7M94.3 640.3h.7M90.1 640.9h.7M85.7 648.2h.7M88.7 648.8h.7M94.4 641.2h.7M87.1 650.0h.7M87.7 646.6h.7M87.1 643.6h.7M92.0 646.2h.7M89.0 646.4h.7M91.5 641.9h.7M87.5 650.4h.7M95.8 638.0h.7M86.5 647.6h.7M88.6 647.4h.7M88.0 646.1h.7M91.6 647.6h.7M95.2 642.7h.7M86.9 644.0h.7M89.2 646.7h.7M86.1 648.3h.7M86.8 645.6h.7M86.0 647.6h.7M87.4 645.6h.7M90.1 643.4h.7M90.5 642.0h.7M86.7 650.9h.7M82.2 654.4h.7M89.3 642.2h.7M90.6 647.7h.7M92.3 646.8h.7M93.6 638.4h.7M90.8 642.5h.7M87.6 649.8h.7M93.0 637.1h.7M85.3 648.9h.7M96.0 641.8h.7M90.3 645.1h.7M84.6 651.1h.7M89.4 642.2h.7M82.8 648.6h.7M91.8 640.6h.7M84.0 654.3h.7M90.4 642.1h.7M84.0 649.7h.7M89.2 645.5h.7M87.3 648.8h.7M95.0 642.1h.7M85.4 649.9h.7M88.5 644.2h.7M92.8 638.3h.7M86.5 647.0h.7M89.3 645.5h.7M83.9 655.7h.7M90.4 640.2h.7M92.7 640.8h.7M84.9 652.6h.7M90.6 643.9h.7M87.1 649.3h.7M88.0 652.4h.7M95.2 640.6h.7M88.8 649.5h.7M86.8 651.8h.7M85.7 648.4h.7M91.7 644.2h.7M95.1 641.8h.7M85.4 649.8h.7M88.0 646.3h.7M85.6 647.9h.7M91.0 640.2h.7M81.6 654.5h.7M88.9 637.4h.7M94.3 638.5h.7M85.7 649.9h.7M86.8 646.9h.7M92.5 641.2h.7M85.8 644.8h.7M89.7 652.0h.7M91.0 643.5h.7M84.7 648.0h.7M87.4 641.3h.7M72.8 645.1h.7M77.1 646.1h.7M70.9 647.5h.7M90.3 648.9h.7M73.4 647.2h.7M83.6 644.4h.7M66.1 644.1h.7M76.2 647.6h.7M71.5 648.0h.7M77.8 647.5h.7M81.1 646.9h.7M83.8 646.8h.7M67.4 643.0h.7M82.6 646.5h.7M66.4 648.5h.7M79.6 643.6h.7M88.6 647.6h.7M85.3 648.3h.7M76.4 652.6h.7M79.7 646.4h.7M82.7 645.9h.7M75.6 643.4h.7M74.9 643.7h.7M82.4 642.4h.7M80.9 641.9h.7M84.3 648.4h.7M71.4 646.5h.7M90.8 647.3h.7M89.6 642.5h.7M70.9 641.3h.7M86.9 642.0h.7M78.6 650.7h.7M90.2 649.4h.7M79.9 643.1h.7M82.1 646.8h.7M80.2 647.0h.7M82.0 644.0h.7M82.3 644.9h.7M83.4 649.0h.7M76.5 648.4h.7M79.1 648.9h.7M70.9 647.4h.7M81.3 646.9h.7M75.6 647.9h.7M69.9 646.2h.7M84.0 650.9h.7M84.2 647.2h.7M74.5 648.0h.7M83.7 646.4h.7M88.7 644.9h.7M73.6 646.5h.7M86.5 645.7h.7M93.5 644.5h.7M69.0 648.7h.7M70.7 651.7h.7M73.0 647.3h.7M89.7 646.3h.7M70.2 644.7h.7M81.7 642.8h.7M75.0 648.2h.7M69.1 648.1h.7M70.3 644.6h.7M78.6 646.8h.7M74.1 644.4h.7M71.4 650.3h.7M84.8 646.9h.7M77.5 647.7h.7M79.8 651.0h.7M80.7 640.9h.7M79.2 647.7h.7M87.5 647.3h.7M84.9 645.9h.7M78.5 646.7h.7M92.0 649.8h.7M92.5 644.9h.7M81.7 645.0h.7M87.6 651.1h.7M71.1 649.3h.7M87.8 647.9h.7M89.1 648.7h.7M82.1 646.9h.7M77.1 645.9h.7M82.1 646.3h.7M87.2 647.5h.7M79.8 645.5h.7M78.1 642.6h.7M75.9 646.3h.7M83.3 647.4h.7M85.3 646.3h.7M90.6 648.4h.7M75.1 647.4h.7M87.0 649.2h.7M86.1 647.0h.7M77.0 646.2h.7M90.9 648.2h.7M72.6 648.9h.7M72.7 645.6h.7M85.0 644.5h.7M90.6 650.1h.7M77.4 645.3h.7M83.4 647.6h.7M76.2 645.5h.7M82.8 647.2h.7M86.2 650.2h.7M87.9 651.0h.7M84.5 643.3h.7M81.6 643.0h.7M74.9 638.1h.7M75.5 648.2h.7M69.4 650.7h.7M73.5 647.3h.7M73.4 645.9h.7M81.8 648.8h.7M80.5 644.3h.7M65.7 648.4h.7M73.9 650.1h.7M87.1 649.8h.7M87.0 648.5h.7M83.7 645.4h.7M79.5 645.8h.7M66.5 644.3h.7M81.1 651.4h.7M92.3 649.9h.7M68.9 646.5h.7M71.1 646.5h.7M89.2 647.3h.7M84.5 645.0h.7M86.6 648.0h.7M76.0 647.9h.7M69.2 647.8h.7M84.6 646.8h.7M88.0 640.3h.7M78.4 646.2h.7M80.6 643.1h.7M76.3 642.4h.7M74.9 652.4h.7M81.4 645.4h.7M86.8 646.2h.7M70.4 645.9h.7M78.8 644.5h.7M67.8 650.8h.7M82.1 641.9h.7M77.1 647.9h.7M77.5 645.1h.7M75.1 649.9h.7M68.5 648.8h.7M91.4 646.8h.7M89.2 642.8h.7M81.0 648.6h.7M92.5 649.1h.7M77.1 648.3h.7M77.0 645.9h.7M75.3 648.2h.7M70.9 644.6h.7M77.1 647.2h.7M76.0 647.6h.7M85.5 646.0h.7M76.9 644.1h.7M77.8 646.0h.7M84.0 644.4h.7M81.2 643.6h.7M84.7 649.3h.7M76.7 646.2h.7M68.9 645.3h.7M75.9 645.3h.7M80.8 647.7h.7M90.3 645.8h.7M78.9 644.8h.7M72.3 647.3h.7M67.4 647.0h.7M92.0 644.3h.7M82.3 643.8h.7M85.1 649.9h.7M83.2 645.9h.7M82.8 649.7h.7M69.7 648.1h.7M81.6 646.4h.7M74.4 646.0h.7M80.9 650.8h.7M87.7 644.9h.7M76.5 645.6h.7M77.9 644.5h.7M75.0 646.2h.7M89.0 644.2h.7M87.1 646.9h.7M80.4 643.4h.7M76.7 647.9h.7M73.5 647.4h.7M84.0 647.1h.7M70.5 645.0h.7M73.9 649.9h.7M76.1 651.7h.7M70.5 646.2h.7M82.9 644.6h.7M82.3 648.2h.7M85.1 646.0h.7M86.2 646.9h.7M86.7 648.2h.7M72.6 643.1h.7M83.4 648.4h.7M85.9 643.9h.7M82.6 643.4h.7M73.5 645.6h.7M86.8 650.3h.7M74.7 645.0h.7M83.6 647.8h.7M88.4 644.2h.7M82.4 648.2h.7M81.7 647.4h.7M75.9 649.5h.7M82.6 647.0h.7M87.0 646.6h.7M81.3 641.8h.7M85.3 647.4h.7M83.2 648.6h.7M86.6 647.1h.7M72.8 647.0h.7M81.2 648.0h.7M70.4 648.8h.7M65.5 644.3h.7M70.2 646.4h.7M92.5 647.7h.7M79.0 647.2h.7M86.6 644.1h.7M81.8 641.5h.7M82.5 647.4h.7M77.6 648.4h.7M81.8 650.9h.7M77.0 647.6h.7M79.7 644.3h.7M81.9 647.7h.7M79.2 646.3h.7M71.4 644.8h.7M79.2 642.9h.7M77.6 641.9h.7M66.5 644.8h.7M84.2 645.5h.7M73.7 646.7h.7M91.4 646.6h.7M79.6 647.1h.7M75.9 651.5h.7M66.3 646.4h.7M67.8 650.1h.7M84.4 644.6h.7M86.3 644.7h.7M78.0 645.2h.7M90.5 641.9h.7M75.5 650.8h.7M78.7 647.2h.7M70.6 648.4h.7M79.1 651.0h.7M84.9 647.7h.7M80.7 650.7h.7M71.2 640.5h.7M78.7 649.8h.7M85.8 647.3h.7M82.0 645.1h.7M72.6 649.3h.7M86.0 646.6h.7M70.4 644.7h.7M80.9 641.6h.7M77.1 651.1h.7M81.0 639.8h.7M71.7 646.7h.7M73.9 650.6h.7M69.9 648.2h.7M79.9 644.9h.7M85.1 645.9h.7M69.1 645.0h.7M75.4 647.2h.7M77.8 646.3h.7M93.3 643.2h.7M80.2 642.8h.7M79.4 649.5h.7M82.9 643.2h.7M71.1 643.6h.7M84.0 652.5h.7M73.4 644.4h.7M86.1 643.1h.7M85.1 644.0h.7M84.1 648.5h.7M71.6 644.6h.7M77.4 646.1h.7M72.7 640.5h.7M81.7 644.9h.7M72.5 646.6h.7M87.8 646.6h.7M79.9 650.3h.7M70.7 647.8h.7M78.4 639.0h.7M80.1 642.3h.7M82.8 644.2h.7M91.6 645.7h.7M72.3 646.6h.7M74.7 648.1h.7M89.6 642.1h.7M70.2 640.7h.7M80.9 648.5h.7M90.2 643.9h.7M73.1 640.3h.7M91.7 644.0h.7M74.0 645.3h.7M83.0 643.3h.7M83.7 643.4h.7M71.1 649.1h.7M91.3 643.6h.7M84.1 647.2h.7M70.9 647.0h.7M77.9 645.5h.7M89.7 652.6h.7M75.5 642.9h.7M77.3 653.1h.7M72.8 643.9h.7M64.4 645.7h.7M74.5 647.2h.7M85.1 649.3h.7M73.8 648.2h.7M86.3 645.5h.7M90.1 645.5h.7M87.9 649.5h.7M80.4 650.4h.7M82.2 645.0h.7M67.3 649.6h.7M90.4 647.9h.7M90.4 647.1h.7M83.9 643.6h.7M79.2 643.2h.7M83.9 647.6h.7M86.3 645.2h.7M78.0 647.6h.7M67.3 642.1h.7M74.5 650.7h.7M91.0 650.8h.7M78.8 643.7h.7M71.6 646.2h.7M75.8 646.1h.7M84.2 645.0h.7M69.5 645.2h.7M87.9 647.7h.7M73.8 650.8h.7M72.5 646.7h.7M68.8 646.7h.7M87.3 646.8h.7M82.1 644.7h.7M80.3 648.1h.7M78.0 645.2h.7M68.6 643.9h.7M75.5 648.2h.7M72.5 641.6h.7M79.5 645.2h.7M80.4 645.5h.7M82.4 646.1h.7M73.3 642.5h.7M71.5 644.0h.7M81.3 646.1h.7M70.7 648.0h.7M89.1 646.2h.7M73.1 645.9h.7M79.3 644.3h.7M90.4 646.5h.7M73.1 639.3h.7M90.9 648.2h.7M88.4 649.0h.7M77.1 646.4h.7M70.8 644.0h.7M83.0 649.9h.7M69.7 644.7h.7M87.5 650.0h.7M85.3 645.8h.7M71.0 644.5h.7M69.8 645.9h.7M71.3 644.7h.7M86.5 646.1h.7M77.1 647.8h.7M86.7 645.8h.7M72.0 645.3h.7M91.9 646.4h.7M88.6 647.5h.7M75.6 646.5h.7M70.9 647.9h.7M81.7 648.0h.7M87.9 647.2h.7M86.0 648.3h.7M71.8 646.5h.7M66.9 649.4h.7M71.2 647.5h.7M94.8 648.7h.7M67.7 646.0h.7M88.1 642.8h.7M71.1 645.4h.7M74.4 646.6h.7M82.4 647.5h.7M86.6 646.4h.7M80.5 650.3h.7M80.5 643.2h.7M86.5 642.0h.7M85.9 646.0h.7M87.2 644.8h.7M78.0 646.6h.7M89.0 648.2h.7M89.5 653.5h.7M84.8 643.1h.7M68.7 643.8h.7M78.4 646.4h.7M80.5 642.7h.7M69.5 644.6h.7M74.7 649.8h.7M78.3 646.3h.7M73.4 646.4h.7M79.7 649.3h.7M77.1 642.1h.7M83.3 646.8h.7M69.4 646.4h.7M91.6 647.2h.7M78.0 644.0h.7M89.1 645.4h.7M72.0 646.2h.7M72.2 648.4h.7M69.4 644.6h.7M74.7 648.1h.7M73.5 641.1h.7M84.1 647.6h.7M84.9 648.5h.7M88.9 644.2h.7M83.0 645.8h.7M80.7 646.5h.7M74.7 647.2h.7M67.1 649.6h.7M84.3 647.0h.7M73.3 645.9h.7M91.6 646.0h.7M83.7 647.2h.7M67.4 648.5h.7M76.1 647.2h.7M67.9 645.1h.7M66.4 645.6h.7M79.0 644.5h.7M90.2 644.3h.7M68.1 645.3h.7M88.8 645.0h.7M81.0 648.4h.7M78.4 643.5h.7M91.2 646.7h.7M79.6 643.5h.7M70.1 648.5h.7M90.0 647.3h.7M88.0 649.7h.7M85.5 690.3h.7M77.1 689.8h.7M72.0 685.9h.7M64.5 682.4h.7M70.5 693.7h.7M81.5 689.0h.7M70.5 676.5h.7M78.7 684.1h.7M74.1 676.7h.7M76.4 688.4h.7M79.1 678.0h.7M75.2 673.7h.7M76.4 686.7h.7M73.6 694.9h.7M69.4 700.9h.7M77.3 692.0h.7M76.7 680.3h.7M72.7 695.5h.7M75.3 689.6h.7M73.7 694.5h.7M78.4 674.9h.7M84.5 696.3h.7M79.3 689.8h.7M75.1 694.6h.7M87.5 686.0h.7M70.3 686.5h.7M75.7 695.5h.7M69.7 682.7h.7M73.9 695.7h.7M80.6 688.6h.7M80.4 687.7h.7M75.8 665.9h.7M71.2 676.4h.7M77.4 687.3h.7M70.3 687.0h.7M74.7 690.1h.7M72.7 680.0h.7M80.9 684.1h.7M80.0 678.4h.7M74.2 683.5h.7M70.7 692.9h.7M68.9 688.5h.7M65.3 692.6h.7M75.4 696.6h.7M84.5 680.1h.7M75.2 674.6h.7M73.0 686.9h.7M75.3 693.4h.7M77.5 695.2h.7M72.0 687.6h.7M70.3 684.7h.7M75.4 682.0h.7M73.2 670.8h.7M72.1 680.8h.7M76.1 690.3h.7M73.0 684.9h.7M76.7 678.1h.7M79.8 704.6h.7M76.8 681.8h.7M76.1 696.7h.7M80.9 674.1h.7M76.6 679.6h.7M73.0 688.6h.7M77.5 683.6h.7M71.2 684.4h.7M70.3 701.8h.7M67.9 691.5h.7M75.6 686.2h.7M70.3 681.7h.7M73.5 681.3h.7M73.9 687.1h.7M73.0 690.0h.7M78.4 681.2h.7M78.4 686.6h.7M72.5 690.3h.7M80.1 683.2h.7M66.6 693.0h.7M79.6 676.0h.7M74.4 690.1h.7M78.3 693.3h.7M81.8 676.5h.7M64.6 682.6h.7M78.2 679.4h.7M66.5 688.7h.7M75.7 679.3h.7M76.0 694.1h.7M79.5 689.6h.7M69.2 683.0h.7M64.4 676.2h.7M75.6 690.7h.7M74.8 685.6h.7M65.9 674.2h.7M69.6 680.4h.7M79.5 676.4h.7M71.8 680.7h.7M72.1 680.9h.7M65.4 696.2h.7M77.9 691.4h.7M75.3 689.8h.7M73.1 667.8h.7M75.4 685.8h.7M68.7 665.3h.7M80.0 676.4h.7M73.8 679.3h.7M82.5 672.1h.7M79.6 662.7h.7M79.0 681.1h.7M74.4 670.9h.7M76.4 685.2h.7M77.0 672.9h.7M71.3 676.7h.7M75.3 680.7h.7M70.1 697.9h.7M72.3 695.4h.7M78.6 679.0h.7M66.2 687.3h.7M77.9 696.1h.7M76.5 689.4h.7M71.8 678.9h.7M89.6 695.8h.7M68.6 688.3h.7M76.9 669.3h.7M73.4 690.6h.7M82.5 700.2h.7M73.1 682.7h.7M72.6 687.6h.7M78.8 676.2h.7M74.0 680.3h.7M71.2 680.9h.7M83.3 701.4h.7M81.6 670.5h.7M76.7 679.2h.7M77.6 683.3h.7M72.9 687.9h.7M77.0 684.1h.7M74.7 676.3h.7M74.6 692.1h.7M75.2 684.0h.7M68.1 695.9h.7M69.4 691.8h.7M73.1 692.9h.7M79.7 682.8h.7M70.3 677.3h.7M76.2 703.7h.7M77.9 684.4h.7M81.1 683.9h.7M78.8 689.1h.7M65.9 694.5h.7M83.0 682.6h.7M78.4 690.4h.7M73.6 682.3h.7M79.5 679.9h.7M72.4 693.4h.7M79.2 699.9h.7M72.2 673.6h.7M79.9 671.8h.7M73.0 683.8h.7M82.9 686.0h.7M69.3 685.5h.7M81.1 669.4h.7M68.8 695.1h.7M75.4 676.6h.7M73.9 686.4h.7M69.6 680.6h.7M81.6 688.7h.7M80.1 685.5h.7M72.3 688.6h.7M70.6 689.1h.7M73.5 683.1h.7M73.6 677.2h.7M81.2 672.1h.7M75.9 674.3h.7M79.1 683.8h.7M75.7 690.0h.7M76.6 687.5h.7M76.6 688.9h.7M72.8 683.1h.7M73.8 679.3h.7M72.4 697.7h.7M68.2 701.1h.7M72.5 691.4h.7M74.9 684.2h.7M77.5 701.2h.7M74.4 685.5h.7M72.4 704.1h.7M80.3 695.9h.7M75.1 668.7h.7M77.1 669.7h.7M72.0 694.5h.7M72.2 679.6h.7M65.1 692.3h.7M76.8 681.4h.7M76.6 671.3h.7M70.6 687.6h.7M79.0 685.5h.7M69.2 681.4h.7M80.0 680.4h.7M76.1 689.7h.7M72.4 686.0h.7M66.6 680.6h.7M75.0 691.5h.7M80.9 681.5h.7M77.1 684.6h.7M71.3 678.7h.7M74.6 685.8h.7M74.7 691.7h.7M64.6 682.5h.7M75.7 696.4h.7M74.6 676.8h.7M82.1 691.7h.7M73.7 683.5h.7M73.7 687.1h.7M67.0 686.9h.7M72.1 690.1h.7M76.4 676.2h.7M81.0 692.5h.7M70.7 676.2h.7M71.7 688.8h.7M80.6 677.6h.7M71.3 690.3h.7M74.6 685.2h.7M74.3 682.8h.7M82.8 694.4h.7M73.3 696.9h.7M83.5 689.9h.7M76.2 681.3h.7M75.4 687.6h.7M80.8 677.2h.7M67.4 681.1h.7M76.5 667.7h.7M73.9 678.4h.7M69.7 686.8h.7M80.1 673.4h.7M75.8 684.1h.7M77.8 685.7h.7M71.9 693.5h.7M76.8 676.4h.7M65.6 679.2h.7M75.7 692.5h.7M72.2 682.1h.7M66.5 681.4h.7M75.3 680.3h.7M74.3 676.7h.7M70.6 687.9h.7M67.6 685.6h.7M80.2 680.4h.7M72.5 678.0h.7M68.8 680.2h.7M68.9 683.4h.7M72.2 675.2h.7M74.8 694.2h.7M78.3 682.8h.7M74.5 675.9h.7M73.5 691.1h.7M78.1 697.2h.7M67.7 699.1h.7M76.3 699.0h.7M74.6 696.1h.7M74.5 675.7h.7M76.0 680.7h.7M74.4 689.8h.7M78.1 690.9h.7M79.0 671.3h.7M79.8 677.7h.7M75.0 681.5h.7M69.3 693.0h.7M69.9 680.2h.7M81.2 665.0h.7M66.9 693.6h.7M72.7 692.1h.7M74.5 680.8h.7M77.7 678.9h.7M72.0 687.2h.7M69.6 672.3h.7M67.0 693.5h.7M83.3 695.7h.7M71.7 680.5h.7M70.0 685.1h.7M79.3 684.5h.7M74.5 656.3h.7M76.0 674.4h.7M73.4 688.4h.7M75.1 691.8h.7M81.6 664.8h.7M67.5 700.0h.7M76.8 678.9h.7M73.4 685.4h.7M79.5 682.4h.7M74.6 673.4h.7M81.4 689.4h.7M72.5 673.4h.7M74.6 693.3h.7M85.3 702.6h.7M73.0 681.7h.7M70.3 689.6h.7M71.3 690.7h.7M76.2 689.3h.7M70.3 695.9h.7M73.9 674.7h.7M74.6 687.2h.7M75.1 694.1h.7M74.4 696.6h.7M74.7 697.1h.7M73.8 690.6h.7M77.7 680.2h.7M72.2 659.6h.7M77.4 684.3h.7M73.8 696.8h.7M76.5 687.8h.7M66.1 687.1h.7M73.5 694.6h.7M72.6 674.7h.7M73.8 702.4h.7M70.9 697.3h.7M74.1 667.4h.7M77.0 676.1h.7M73.9 677.8h.7M88.1 690.8h.7M77.0 676.5h.7M72.1 685.1h.7M82.8 681.0h.7M71.4 694.4h.7M71.9 676.3h.7M74.2 693.2h.7M75.6 682.4h.7M81.5 698.3h.7M67.5 675.3h.7M70.6 683.8h.7M75.7 685.0h.7M75.2 689.8h.7M68.9 666.0h.7M76.2 697.0h.7M75.8 682.0h.7M77.5 682.9h.7M68.9 682.3h.7M78.4 688.7h.7M78.1 681.3h.7M77.5 698.7h.7M73.4 681.4h.7M80.6 686.8h.7M69.5 682.1h.7M81.0 689.1h.7M83.5 691.6h.7M76.1 695.4h.7M72.1 695.5h.7M74.6 683.7h.7M76.8 681.7h.7M69.8 677.9h.7M77.4 688.6h.7M75.4 692.4h.7M70.9 682.3h.7M82.5 677.4h.7M80.9 683.6h.7M77.4 688.1h.7M73.8 687.0h.7M79.4 679.7h.7M70.6 693.7h.7M73.2 684.5h.7M74.1 682.2h.7M66.7 685.1h.7M72.9 673.9h.7M72.4 688.1h.7M82.9 681.2h.7M81.1 681.9h.7M77.1 683.7h.7M78.4 687.3h.7M73.2 672.2h.7M79.5 672.6h.7M72.2 701.9h.7M76.1 686.8h.7M75.6 688.2h.7M73.5 689.1h.7M74.3 683.1h.7M77.2 691.7h.7M76.6 694.6h.7M83.6 701.5h.7M75.5 676.3h.7M80.3 687.1h.7M78.6 683.0h.7M79.0 676.2h.7M75.9 674.2h.7M84.3 683.9h.7M65.6 697.6h.7M79.6 698.5h.7M70.0 689.6h.7M81.1 684.7h.7M76.9 684.4h.7M73.8 698.6h.7M71.7 686.7h.7M77.8 686.7h.7M79.0 668.8h.7M80.4 675.9h.7M74.2 683.3h.7M77.3 684.7h.7M73.3 692.5h.7M84.6 681.0h.7M72.2 681.2h.7M69.7 675.6h.7M73.0 692.7h.7M72.9 679.0h.7M74.7 679.3h.7M87.4 700.0h.7M75.3 671.3h.7M72.6 678.2h.7M71.2 667.0h.7M72.8 681.0h.7M72.1 674.8h.7M76.8 678.6h.7M64.9 677.1h.7M78.7 696.8h.7M70.0 684.7h.7M77.6 694.2h.7M73.0 688.7h.7M73.1 670.1h.7M79.2 685.5h.7M76.9 684.2h.7M71.1 681.7h.7M76.5 674.8h.7M64.8 694.2h.7M73.1 691.4h.7M75.9 684.4h.7M79.1 686.9h.7M81.7 689.0h.7M68.6 684.7h.7M75.1 681.1h.7M69.5 703.4h.7M74.7 685.9h.7M67.8 691.1h.7M74.6 695.8h.7M82.7 680.5h.7M71.8 696.4h.7M80.0 689.0h.7M78.4 683.4h.7M75.0 686.2h.7M65.5 692.7h.7M78.6 678.1h.7M72.7 688.9h.7M78.4 686.3h.7M73.1 689.9h.7M75.7 677.5h.7M73.7 683.0h.7M78.1 674.7h.7M71.5 682.8h.7M74.3 695.5h.7M78.6 697.6h.7M82.9 691.3h.7M70.8 683.1h.7M81.8 705.1h.7M78.2 678.9h.7M75.6 688.8h.7M79.3 693.8h.7M71.2 696.6h.7M72.6 688.7h.7M78.1 692.4h.7M77.5 681.4h.7M74.5 694.5h.7M73.0 675.9h.7M71.0 686.2h.7M70.3 682.3h.7M73.4 694.5h.7M71.1 675.6h.7M75.6 693.4h.7M71.0 690.6h.7M88.0 611.9h.7M86.2 612.8h.7M85.7 630.7h.7M74.2 612.7h.7M73.1 637.3h.7M78.4 633.2h.7M80.9 634.4h.7M82.0 610.0h.7M81.2 613.0h.7M83.8 610.0h.7M83.5 615.9h.7M78.2 610.8h.7M82.0 615.5h.7M81.8 625.0h.7M67.9 623.9h.7M74.1 630.8h.7M77.5 634.1h.7M80.5 614.8h.7M89.2 636.8h.7M72.8 615.7h.7M76.4 607.9h.7M70.2 615.1h.7M88.0 610.4h.7M73.6 609.4h.7M70.6 603.3h.7M78.5 635.9h.7M73.4 609.0h.7M67.6 636.8h.7M81.9 637.2h.7M69.7 640.5h.7M85.3 613.6h.7M83.3 599.7h.7M73.5 631.6h.7M72.5 632.1h.7M75.9 637.3h.7M70.1 620.9h.7M84.5 634.7h.7M80.0 612.3h.7M80.3 600.9h.7M83.5 608.3h.7M84.1 635.5h.7M79.0 630.4h.7M87.9 605.0h.7M73.8 613.1h.7M77.2 618.6h.7M81.8 637.7h.7M73.5 633.4h.7M80.3 608.4h.7M82.3 609.5h.7M79.5 637.3h.7M73.6 630.6h.7M80.6 630.5h.7M84.9 615.1h.7M75.2 636.9h.7M83.8 606.3h.7M74.9 599.9h.7M74.7 638.3h.7M72.2 603.4h.7M83.4 599.1h.7M87.9 633.2h.7M71.6 618.7h.7M77.4 637.9h.7M81.4 618.6h.7M80.8 625.4h.7M86.0 617.7h.7M79.4 621.1h.7M84.6 609.4h.7M84.0 602.4h.7M84.4 619.2h.7M70.8 618.5h.7M82.9 625.5h.7M84.9 602.9h.7M73.7 610.2h.7M83.1 603.0h.7M83.2 599.1h.7M85.3 609.6h.7M83.2 603.5h.7M72.6 607.0h.7M88.8 622.5h.7M82.0 621.2h.7M81.4 610.6h.7M73.9 599.6h.7M83.4 638.2h.7M87.7 640.3h.7M88.3 613.1h.7M72.3 624.5h.7M75.3 604.5h.7M71.1 626.1h.7M77.0 606.9h.7M78.6 620.7h.7M77.5 638.6h.7M76.2 630.9h.7M76.6 610.6h.7M84.9 635.4h.7M77.5 611.0h.7M76.8 627.8h.7M79.5 608.9h.7M73.0 635.5h.7M81.1 604.3h.7M69.0 607.5h.7M70.7 625.9h.7M83.5 600.3h.7M85.7 630.1h.7M83.3 612.5h.7M71.4 634.5h.7M69.9 610.6h.7M75.0 625.8h.7M87.3 620.7h.7M86.4 633.0h.7M77.5 610.7h.7M82.3 599.9h.7M70.6 637.3h.7M70.8 610.2h.7M86.2 634.6h.7M76.2 613.0h.7M86.3 612.2h.7M76.3 610.2h.7M76.0 631.8h.7M77.6 605.4h.7M76.4 627.5h.7M77.9 619.0h.7M83.5 621.7h.7M76.8 634.6h.7M78.2 599.0h.7M81.0 627.4h.7M78.2 623.7h.7M83.4 609.4h.7M89.2 599.1h.7M76.1 636.7h.7M85.7 623.8h.7M87.1 640.9h.7M77.9 623.2h.7M87.6 615.5h.7M75.4 625.3h.7M75.9 639.2h.7M81.2 607.0h.7M67.7 640.3h.7M68.4 612.9h.7M73.9 618.8h.7M85.4 621.8h.7M77.2 604.0h.7M74.0 609.2h.7M83.5 612.8h.7M86.9 611.5h.7M76.3 599.8h.7M77.5 630.0h.7M80.0 635.9h.7M89.0 610.3h.7M75.6 599.2h.7M67.1 624.4h.7M84.4 618.4h.7M79.8 603.4h.7M75.3 636.3h.7M73.9 624.4h.7M73.3 632.6h.7M75.2 603.2h.7M82.9 616.4h.7M88.0 625.5h.7M77.5 616.3h.7M72.2 633.5h.7M77.6 638.4h.7M86.6 631.6h.7M76.2 614.1h.7M86.0 615.4h.7M87.5 621.5h.7M69.0 604.2h.7M76.5 624.6h.7M84.9 630.2h.7M82.9 601.9h.7M71.6 630.8h.7M71.8 625.3h.7M71.9 629.1h.7M83.6 604.9h.7M74.7 628.8h.7M74.0 607.7h.7M77.6 617.0h.7M85.8 636.0h.7M66.4 628.6h.7M81.7 615.2h.7M77.2 637.3h.7M78.0 603.5h.7M73.2 604.1h.7M74.8 632.9h.7M83.8 614.1h.7M88.0 631.1h.7M88.3 600.5h.7M85.3 601.8h.7M88.3 618.9h.7M73.1 616.0h.7M90.3 627.2h.7M77.1 621.8h.7M81.6 636.9h.7M81.9 598.8h.7M86.1 616.6h.7M81.3 626.4h.7M75.8 601.0h.7M80.8 636.5h.7M86.3 628.7h.7M81.4 616.7h.7M81.2 624.9h.7M70.8 609.8h.7M81.1 618.9h.7M85.7 606.0h.7M75.4 600.6h.7M81.5 607.0h.7M83.7 631.2h.7M89.6 612.4h.7M82.1 627.7h.7M81.5 636.7h.7M80.5 605.0h.7M77.5 629.1h.7M80.5 617.3h.7M74.1 625.7h.7M73.6 637.5h.7M87.7 631.8h.7M73.4 633.7h.7M91.1 605.5h.7M83.7 633.4h.7M73.3 639.8h.7M77.6 638.5h.7M79.3 632.5h.7M79.1 634.1h.7M78.2 622.5h.7M86.8 638.4h.7M80.7 630.2h.7M65.3 602.6h.7M74.8 614.1h.7M74.0 603.3h.7M73.6 637.7h.7M69.3 598.7h.7M84.1 619.8h.7M74.2 628.5h.7M69.9 616.2h.7M70.4 637.5h.7M84.5 613.1h.7M72.9 614.7h.7M78.3 608.5h.7M84.7 635.1h.7M79.2 625.0h.7M73.1 629.8h.7M79.3 624.0h.7M73.9 616.4h.7M72.3 599.0h.7M87.2 630.8h.7M69.3 639.1h.7M85.0 607.4h.7M70.8 626.0h.7M73.8 625.4h.7M72.5 600.5h.7M72.8 621.8h.7M81.7 626.9h.7M83.2 633.3h.7M85.2 621.2h.7M87.3 598.7h.7M69.8 620.8h.7M81.3 638.7h.7M80.4 621.2h.7M86.8 626.1h.7M79.4 599.0h.7M70.9 633.6h.7M70.9 613.9h.7M85.2 602.5h.7M86.3 635.4h.7M79.1 611.8h.7M83.7 636.1h.7M83.4 612.4h.7M77.5 607.0h.7M78.0 639.6h.7M80.0 599.2h.7M70.8 617.9h.7M84.8 625.4h.7M75.0 638.6h.7M75.2 622.2h.7M80.5 618.0h.7M83.1 609.3h.7M79.2 611.0h.7M85.6 610.1h.7M85.4 619.0h.7M84.0 601.6h.7M85.9 633.4h.7M78.1 636.9h.7M77.4 615.0h.7M81.3 626.5h.7M75.2 639.6h.7M70.7 632.2h.7M78.6 619.3h.7M78.7 601.8h.7M82.5 615.5h.7M83.0 609.3h.7M79.3 601.7h.7M74.9 603.3h.7M87.5 620.1h.7M86.2 629.1h.7M86.5 600.1h.7M71.3 609.4h.7M78.7 601.8h.7M87.4 628.4h.7M78.9 627.6h.7M73.9 606.9h.7M81.8 628.9h.7M76.8 618.5h.7M74.3 635.7h.7M79.8 635.2h.7M75.4 634.5h.7M91.1 629.3h.7M82.2 640.9h.7M74.2 624.7h.7M76.8 627.3h.7M83.3 601.1h.7M71.4 620.1h.7M90.5 629.8h.7M84.7 634.1h.7M72.7 604.1h.7M80.6 639.4h.7M69.1 611.0h.7M81.4 606.0h.7M79.9 599.3h.7M86.4 611.5h.7M81.8 634.0h.7M79.3 620.2h.7M70.3 599.8h.7M79.5 615.8h.7M87.0 619.2h.7M78.1 631.1h.7M83.7 625.9h.7M86.6 608.5h.7M73.7 627.9h.7M73.5 622.9h.7M79.7 601.7h.7M75.5 628.0h.7M71.8 626.3h.7M86.5 635.0h.7M73.8 624.9h.7M75.8 632.2h.7M78.5 613.2h.7M81.6 627.8h.7M69.9 599.3h.7M77.7 628.8h.7M78.6 598.7h.7M88.6 622.8h.7M73.9 621.4h.7M74.2 602.6h.7M77.2 616.3h.7M77.2 608.1h.7M78.7 631.6h.7M86.6 615.8h.7M78.4 620.4h.7M68.4 603.0h.7M69.7 626.1h.7M80.5 609.6h.7M74.8 635.0h.7M70.9 633.8h.7M84.5 601.6h.7M84.0 608.0h.7M71.3 603.1h.7M71.8 636.4h.7M72.7 627.1h.7M79.6 599.5h.7M79.3 623.8h.7M76.7 630.2h.7M84.2 599.4h.7M68.4 607.6h.7M89.5 607.5h.7M71.9 604.5h.7M80.6 602.9h.7M76.9 624.9h.7M72.6 604.4h.7M71.1 627.9h.7M75.0 617.6h.7M74.5 604.4h.7M71.0 619.1h.7M74.5 636.6h.7M74.7 636.6h.7M71.1 640.3h.7M86.7 623.0h.7M84.9 604.4h.7M75.4 605.4h.7M76.4 631.9h.7M83.9 622.6h.7M74.9 637.6h.7M72.4 636.1h.7M89.1 627.3h.7M70.8 634.2h.7M77.0 620.3h.7M77.1 637.7h.7M76.4 619.5h.7M73.9 623.9h.7M72.1 640.5h.7M76.3 632.6h.7M83.6 623.1h.7M78.5 605.3h.7M85.4 604.5h.7M76.9 636.3h.7M70.6 598.8h.7M76.6 625.2h.7M73.9 626.8h.7M86.5 613.3h.7M84.0 607.9h.7M69.2 623.7h.7M75.8 639.7h.7M76.3 620.2h.7M76.2 625.4h.7M83.0 616.6h.7M78.4 608.5h.7M84.3 625.1h.7M76.5 629.6h.7M85.9 621.4h.7M76.3 635.5h.7M75.4 640.5h.7M84.6 604.2h.7M83.3 610.1h.7M77.3 628.4h.7M79.3 622.3h.7M68.0 601.9h.7M74.0 614.2h.7M71.6 613.4h.7M82.0 639.3h.7M82.6 603.5h.7M68.7 636.2h.7M73.0 638.4h.7M76.5 612.9h.7M71.6 621.8h.7M78.9 623.0h.7M84.2 638.6h.7M76.4 609.8h.7M71.2 621.2h.7M73.4 617.7h.7M79.5 636.8h.7M81.1 639.2h.7M75.1 606.3h.7M88.1 624.3h.7M85.6 622.5h.7M86.1 604.4h.7M89.5 619.1h.7M70.8 605.2h.7M86.0 609.8h.7M75.1 617.4h.7M90.2 602.7h.7M77.1 610.2h.7M84.3 613.5h.7M85.6 599.8h.7M77.9 637.0h.7M69.3 639.4h.7M73.5 627.3h.7M75.5 631.2h.7M89.1 606.0h.7M73.7 619.4h.7M91.9 600.5h.7M84.3 608.5h.7M80.7 601.8h.7M80.8 632.7h.7M79.1 635.9h.7M81.7 605.3h.7M87.3 602.6h.7M87.9 603.8h.7M75.8 638.2h.7M81.9 609.9h.7M83.1 616.3h.7M78.8 636.0h.7M86.8 598.9h.7M72.2 623.5h.7M79.6 620.6h.7M77.3 605.7h.7M72.1 624.8h.7M71.3 634.9h.7M86.8 604.9h.7M75.5 604.9h.7M84.9 622.8h.7M88.5 629.4h.7M83.3 632.9h.7M76.6 639.7h.7M69.5 634.7h.7M84.9 620.3h.7M82.2 619.6h.7M73.7 622.0h.7M87.0 615.4h.7M84.7 633.1h.7M86.8 603.8h.7M77.1 630.2h.7M84.0 604.3h.7M79.2 610.1h.7M70.8 619.3h.7M75.7 637.6h.7M77.0 639.1h.7M71.5 633.3h.7M69.0 621.6h.7M85.3 627.2h.7M86.6 605.6h.7M86.4 625.4h.7M83.3 635.8h.7M74.3 625.2h.7M72.3 619.4h.7M78.1 613.6h.7M80.1 616.9h.7M85.9 615.5h.7M76.7 622.6h.7M82.6 638.3h.7M85.5 615.2h.7M77.3 621.1h.7M72.3 630.1h.7M73.7 607.3h.7M79.6 624.4h.7M86.0 622.0h.7M76.3 632.1h.7M84.7 628.8h.7M80.8 599.5h.7M77.4 610.8h.7M74.0 599.4h.7M73.8 628.5h.7M74.6 627.0h.7M77.6 624.0h.7M82.5 634.0h.7M86.2 636.7h.7M68.2 612.4h.7M68.0 634.6h.7M72.9 620.5h.7M83.8 638.0h.7M78.7 600.9h.7M84.2 604.4h.7M81.1 626.8h.7M72.2 605.4h.7M69.8 626.8h.7M86.3 604.1h.7M88.5 635.1h.7M76.5 621.3h.7M87.6 599.8h.7M73.0 611.4h.7M68.0 619.4h.7M85.6 628.9h.7M75.8 610.7h.7M73.5 628.4h.7M89.3 626.8h.7M76.1 636.0h.7M70.8 615.3h.7M74.7 603.7h.7M78.2 607.9h.7M88.8 633.3h.7M85.5 619.3h.7M73.3 622.7h.7M89.7 612.2h.7M83.7 633.7h.7M73.6 600.7h.7M70.8 640.8h.7M70.8 630.4h.7M71.9 608.0h.7M74.3 628.1h.7M72.7 608.6h.7M76.1 610.5h.7M72.4 623.4h.7M68.7 622.1h.7M74.8 632.5h.7M79.4 626.7h.7M77.5 598.6h.7M77.9 605.8h.7M86.3 599.1h.7M82.1 629.1h.7M74.7 625.7h.7M80.8 639.0h.7M83.2 621.7h.7M82.3 624.9h.7M83.3 627.9h.7M75.2 607.7h.7M79.2 616.6h.7M82.2 627.6h.7M79.6 616.3h.7M76.3 621.5h.7M72.7 599.2h.7M81.6 614.7h.7M82.4 615.7h.7M72.7 630.4h.7M85.7 631.0h.7M70.0 634.5h.7M85.1 628.5h.7M71.5 618.6h.7M73.6 627.2h.7M87.9 619.6h.7M86.4 617.3h.7M82.3 613.6h.7M81.9 635.3h.7M75.3 609.2h.7M68.9 601.8h.7M79.2 599.7h.7M70.1 610.4h.7M76.2 600.5h.7M82.5 630.2h.7M66.6 605.2h.7M72.3 610.0h.7M76.1 628.2h.7M87.0 635.4h.7M79.1 630.8h.7M81.4 625.6h.7M80.1 629.0h.7M89.8 612.2h.7M68.0 639.5h.7M77.9 616.5h.7M73.6 627.0h.7M78.9 620.0h.7M69.7 616.5h.7M78.2 607.5h.7M78.0 639.8h.7M78.9 626.1h.7M78.2 632.3h.7M71.7 622.3h.7M68.6 612.9h.7M77.6 621.7h.7M70.1 625.0h.7M75.7 613.7h.7M86.0 600.2h.7M73.2 635.4h.7M74.7 612.2h.7M92.8 638.3h.7M85.7 635.6h.7M67.8 637.6h.7M89.4 601.0h.7M85.8 623.3h.7M72.6 631.1h.7M84.2 603.9h.7M80.2 625.3h.7M86.9 635.2h.7M90.2 632.7h.7M72.4 640.9h.7M83.7 634.6h.7M69.3 605.2h.7M85.3 622.3h.7M76.8 616.4h.7M74.6 628.0h.7M77.7 630.8h.7M75.1 629.7h.7M84.3 640.9h.7M82.6 621.8h.7M79.0 634.8h.7M86.7 625.7h.7M70.3 626.7h.7M72.4 603.4h.7M68.7 629.4h.7M77.1 632.6h.7M76.0 610.8h.7M71.4 625.3h.7M78.8 623.4h.7M84.1 602.1h.7M89.8 614.0h.7M84.3 630.0h.7M83.4 604.8h.7M68.5 618.4h.7M76.6 626.4h.7M81.9 626.2h.7M71.6 608.5h.7M71.7 616.1h.7M71.2 628.7h.7M75.6 624.3h.7M75.0 631.4h.7M73.0 625.3h.7M78.5 630.5h.7M72.7 612.4h.7M83.7 627.5h.7M78.3 630.9h.7M72.3 616.7h.7M71.5 603.9h.7M80.8 632.8h.7M84.1 625.9h.7M89.2 622.6h.7M71.0 608.9h.7M78.6 626.3h.7M84.5 607.5h.7M82.0 635.5h.7M77.8 602.8h.7M67.8 636.2h.7M73.6 598.7h.7M82.7 635.4h.7M80.6 607.0h.7M75.6 602.7h.7M84.5 606.7h.7M75.2 631.1h.7M73.6 630.6h.7M78.0 603.1h.7M72.0 615.4h.7M75.8 608.4h.7M86.7 629.9h.7M90.4 624.8h.7M83.8 637.7h.7M78.5 627.9h.7M77.8 623.2h.7M83.6 638.9h.7M71.6 608.0h.7M78.5 602.5h.7M81.7 613.8h.7M81.1 627.1h.7M73.9 608.8h.7M74.6 634.4h.7M83.7 610.7h.7M70.1 604.0h.7M87.2 635.9h.7M80.1 607.8h.7M88.0 605.4h.7M83.4 629.2h.7M74.6 631.0h.7M87.9 620.9h.7M79.1 614.0h.7M83.3 640.2h.7M80.9 600.4h.7M75.0 625.4h.7M79.2 607.3h.7M83.1 616.2h.7M72.2 614.4h.7M78.9 613.6h.7M82.7 609.5h.7M84.7 629.6h.7M78.7 623.0h.7M77.9 635.8h.7M70.2 630.3h.7M81.9 617.9h.7M88.7 622.8h.7M84.2 633.5h.7M78.1 603.8h.7M71.6 598.7h.7M75.4 620.2h.7M83.0 618.2h.7M80.2 623.3h.7M73.0 621.5h.7M86.6 607.8h.7M79.4 637.5h.7M87.5 638.9h.7M72.6 609.0h.7M82.3 614.7h.7M87.9 637.9h.7M70.3 623.2h.7M77.1 623.3h.7M86.0 635.6h.7M80.0 606.6h.7M79.9 604.8h.7M81.6 626.7h.7M79.2 615.8h.7M77.2 609.1h.7M87.0 605.9h.7M75.6 607.7h.7M82.5 637.5h.7M70.6 615.5h.7M79.9 604.0h.7M82.6 611.3h.7M84.9 605.6h.7M83.2 638.1h.7M87.6 609.5h.7M72.4 613.9h.7M67.8 615.3h.7M85.6 598.8h.7M70.6 623.9h.7M80.1 612.1h.7M76.9 634.6h.7M70.0 614.9h.7M72.6 611.9h.7M74.3 607.2h.7M72.6 618.2h.7M79.8 637.9h.7M69.8 640.4h.7M73.8 619.1h.7M77.4 633.0h.7M75.0 608.1h.7M73.5 635.9h.7M78.7 623.3h.7M74.7 612.4h.7M81.5 629.5h.7M77.7 622.2h.7M78.5 616.8h.7M91.6 622.1h.7M70.7 640.9h.7M78.7 612.0h.7M82.6 608.4h.7M77.0 624.8h.7M87.5 624.8h.7M87.8 608.1h.7M70.4 613.2h.7M82.5 615.6h.7M86.5 610.8h.7M68.1 598.6h.7M83.2 599.9h.7M78.4 611.2h.7M71.3 637.7h.7M79.0 622.7h.7M71.7 637.2h.7M83.9 620.2h.7M85.9 623.1h.7M75.0 615.6h.7M89.2 629.8h.7M84.2 626.0h.7M77.3 601.4h.7M79.9 613.6h.7M79.9 621.1h.7M68.0 619.8h.7M75.5 600.5h.7M81.6 611.7h.7M78.6 628.9h.7M78.9 616.7h.7M71.3 632.2h.7M90.8 609.7h.7M80.7 627.7h.7M76.1 600.4h.7M69.4 631.3h.7M80.5 622.1h.7M75.0 640.4h.7M79.5 623.2h.7M82.5 621.9h.7M71.8 605.0h.7M73.0 636.5h.7M78.3 605.8h.7M82.7 616.1h.7M74.9 639.0h.7M82.6 603.1h.7M76.7 634.8h.7M87.3 627.7h.7M78.2 604.1h.7M80.7 627.0h.7M80.6 624.3h.7M70.0 639.0h.7M83.3 637.4h.7M85.9 604.6h.7M83.8 640.5h.7M86.4 604.6h.7M83.1 632.6h.7M77.0 616.7h.7M83.6 636.5h.7M81.8 617.7h.7M65.9 600.5h.7M79.1 637.1h.7M83.8 612.5h.7M84.9 628.6h.7M73.8 636.1h.7M76.6 613.4h.7M68.6 628.3h.7M75.5 613.2h.7M76.6 634.0h.7M73.1 640.4h.7M74.5 607.8h.7M72.8 633.2h.7M70.0 638.9h.7M78.2 614.7h.7M81.2 603.5h.7M83.8 623.4h.7M89.1 628.2h.7M83.0 611.2h.7M79.0 598.7h.7M84.2 623.6h.7M86.6 605.9h.7M84.2 614.6h.7M81.4 630.0h.7M75.9 604.3h.7M84.0 620.6h.7M86.3 607.2h.7M75.5 626.2h.7M74.9 617.1h.7M75.2 625.8h.7M78.6 609.6h.7M73.0 626.8h.7M80.5 603.7h.7M79.8 623.9h.7M78.7 600.1h.7M71.7 627.8h.7M86.4 634.7h.7M78.3 623.5h.7M74.7 618.8h.7M80.3 637.8h.7M77.0 630.2h.7M78.7 637.1h.7M89.7 625.9h.7M82.3 636.1h.7M73.6 639.7h.7M79.4 614.2h.7M84.1 638.9h.7M78.4 636.5h.7M72.6 610.1h.7M92.6 606.5h.7M76.4 619.8h.7M67.3 634.8h.7M86.2 601.2h.7M67.1 628.7h.7M71.6 617.3h.7M69.3 633.5h.7M73.5 599.7h.7M83.5 626.5h.7M85.5 611.1h.7M74.6 626.4h.7M88.4 601.7h.7M72.9 640.5h.7M75.5 638.1h.7M79.4 614.7h.7M81.8 617.7h.7M84.6 638.2h.7M74.0 630.0h.7M77.4 619.5h.7M77.1 603.3h.7M83.0 610.2h.7M74.7 625.6h.7M75.2 635.6h.7M74.0 606.4h.7M82.6 626.2h.7M84.6 615.4h.7M81.5 634.8h.7M81.6 602.5h.7M85.4 600.1h.7M83.1 629.8h.7M78.2 603.1h.7M73.0 634.1h.7M74.6 638.0h.7M68.5 627.8h.7M70.0 637.9h.7M77.3 626.6h.7M83.7 638.1h.7M70.0 638.4h.7M68.3 601.1h.7M78.4 602.0h.7M81.4 600.1h.7M77.5 628.4h.7M87.2 640.5h.7M79.1 635.1h.7M80.9 605.3h.7M87.1 640.3h.7M73.0 635.6h.7M70.4 603.8h.7M86.3 608.7h.7M77.6 602.9h.7M81.3 631.0h.7M79.7 636.0h.7M74.1 607.7h.7M73.4 638.1h.7M71.8 615.5h.7M79.3 630.1h.7M79.4 627.3h.7M69.9 611.5h.7M87.0 636.6h.7M77.1 611.1h.7M73.8 635.3h.7M67.4 612.5h.7M78.4 611.5h.7M72.6 604.4h.7M81.6 616.9h.7M72.1 622.3h.7M86.6 615.7h.7M73.7 633.8h.7M80.8 639.7h.7M85.3 605.5h.7M73.6 625.6h.7M86.3 601.5h.7M88.2 635.8h.7M74.7 607.3h.7M73.8 616.2h.7M75.9 609.3h.7M81.7 611.3h.7M81.6 635.0h.7M84.5 611.4h.7M78.2 608.8h.7M77.7 634.2h.7M88.0 619.5h.7M78.9 629.8h.7M70.1 627.7h.7M74.9 601.9h.7M79.8 629.2h.7M73.8 600.1h.7M83.7 626.6h.7M87.2 629.6h.7M77.5 625.2h.7M71.4 622.7h.7M80.6 631.1h.7M81.4 636.3h.7M85.7 612.6h.7M89.7 629.8h.7M80.3 628.9h.7M81.3 617.8h.7M87.7 635.7h.7M64.9 640.5h.7M77.1 617.8h.7M79.7 638.9h.7M75.1 616.0h.7M81.4 630.1h.7M76.9 600.5h.7M92.2 632.8h.7M77.2 606.4h.7M77.3 636.0h.7M73.0 601.1h.7M81.8 624.2h.7M76.9 598.7h.7M75.0 619.7h.7M79.9 617.5h.7M76.6 639.3h.7M73.4 637.5h.7M76.5 626.0h.7M79.1 623.4h.7M78.5 636.3h.7M80.2 621.8h.7M78.9 617.8h.7M82.7 601.2h.7M86.7 635.0h.7M71.8 618.4h.7M77.3 608.4h.7M78.7 604.9h.7M88.7 614.0h.7M65.4 623.2h.7M75.7 633.1h.7M80.9 616.5h.7M72.6 638.7h.7M85.5 598.7h.7M77.0 616.7h.7M64.6 604.0h.7M68.7 609.3h.7M78.8 602.4h.7M79.0 636.9h.7M83.1 609.9h.7M70.6 620.5h.7M71.6 606.7h.7M77.4 611.2h.7M71.4 636.0h.7M66.9 611.6h.7M78.4 607.4h.7M73.8 607.7h.7M85.5 638.1h.7M87.9 624.6h.7M74.1 630.3h.7M85.9 606.1h.7M67.9 615.7h.7M74.8 607.3h.7M70.8 631.3h.7M70.3 599.2h.7M73.0 620.9h.7M78.4 599.9h.7M83.9 609.4h.7M86.7 614.1h.7M84.7 627.8h.7M78.3 632.1h.7M85.2 625.0h.7M77.6 624.5h.7M83.1 627.0h.7M83.4 619.9h.7M70.7 621.4h.7M87.5 630.1h.7M75.5 615.7h.7M72.2 601.4h.7M78.2 630.5h.7M81.0 625.7h.7M80.5 621.2h.7M74.7 599.6h.7M87.6 631.5h.7M81.0 624.0h.7M85.4 637.7h.7M86.2 608.5h.7M80.7 631.5h.7M83.7 611.7h.7M88.1 623.0h.7M73.0 608.6h.7M81.9 617.6h.7M80.1 610.4h.7M83.6 624.2h.7M83.2 619.1h.7" stroke="#000" stroke-opacity="0.5" stroke-width="0.7" fill="none" filter="url(#bl)"/>
<path d="M196.3 608.4h.7M194.7 628.4h.7M201.9 620.3h.7M184.9 614.7h.7M197.7 609.2h.7M194.4 617.4h.7M191.0 653.9h.7M204.3 616.9h.7M196.3 603.9h.7M196.2 627.7h.7M192.9 621.2h.7M198.1 604.7h.7M204.7 631.5h.7M191.8 630.2h.7M191.8 606.7h.7M206.9 607.1h.7M199.9 620.2h.7M192.8 615.1h.7M202.0 621.2h.7M201.9 627.9h.7M199.5 608.6h.7M203.7 618.7h.7M190.6 600.5h.7M191.1 622.7h.7M205.4 627.8h.7M188.7 601.5h.7M199.0 619.3h.7M192.1 615.7h.7M198.9 622.1h.7M198.0 616.8h.7M187.6 623.4h.7M206.6 614.3h.7M190.9 627.7h.7M198.8 611.9h.7M188.7 609.8h.7M197.8 604.6h.7M192.2 613.8h.7M186.9 615.6h.7M189.4 612.9h.7M201.9 604.0h.7M192.2 610.3h.7M185.8 626.5h.7M192.6 617.5h.7M199.5 629.2h.7M190.7 620.2h.7M190.6 610.3h.7M190.1 640.7h.7M203.1 604.7h.7M185.9 608.0h.7M193.8 618.0h.7M187.8 624.3h.7M194.5 618.3h.7M199.6 608.9h.7M204.5 631.6h.7M196.3 619.7h.7M187.0 617.7h.7M202.6 609.9h.7M199.8 635.1h.7M187.9 630.1h.7M185.4 605.7h.7M189.4 629.5h.7M207.6 618.7h.7M205.0 612.6h.7M200.9 629.0h.7M191.7 608.4h.7M207.0 616.8h.7M195.3 630.1h.7M198.6 618.0h.7M189.8 599.9h.7M204.3 608.2h.7M188.4 618.5h.7M204.2 607.5h.7M200.3 616.0h.7M207.2 623.8h.7M196.5 609.2h.7M192.5 601.3h.7M194.1 619.7h.7M208.5 634.9h.7M195.4 614.3h.7M195.0 620.9h.7M190.4 622.2h.7M208.6 619.8h.7M191.6 601.7h.7M203.8 621.3h.7M201.6 622.4h.7M186.2 607.0h.7M204.5 620.8h.7M184.7 606.8h.7M196.3 603.6h.7M194.3 606.0h.7M195.5 628.6h.7M195.8 626.3h.7M207.8 617.8h.7M201.1 635.0h.7M209.7 607.4h.7M205.0 626.2h.7M198.2 610.7h.7M198.1 625.4h.7M198.1 619.2h.7M187.9 599.4h.7M197.5 611.4h.7M193.6 621.4h.7M196.8 611.7h.7M195.8 624.7h.7M196.8 598.1h.7M204.4 640.9h.7M205.3 614.2h.7M190.2 607.2h.7M193.3 609.6h.7M211.6 608.0h.7M188.9 602.6h.7M197.3 617.7h.7M197.6 624.9h.7M194.8 601.8h.7M189.4 620.0h.7M188.5 610.8h.7M190.5 641.2h.7M188.0 622.9h.7M202.0 624.4h.7M195.7 619.7h.7M206.8 621.2h.7M205.3 613.1h.7M188.2 606.6h.7M185.7 634.6h.7M201.7 632.0h.7M206.9 628.2h.7M189.9 603.7h.7M198.2 615.6h.7M187.6 623.8h.7M200.0 616.8h.7M200.3 615.3h.7M204.4 600.2h.7M189.5 602.7h.7M192.8 621.9h.7M195.6 628.7h.7M190.7 603.5h.7M195.6 609.9h.7M192.1 613.5h.7M186.4 610.8h.7M188.7 612.5h.7M199.7 606.6h.7M204.5 617.0h.7M196.3 602.9h.7M205.4 614.4h.7M204.4 615.5h.7M201.0 612.5h.7M202.4 629.3h.7M197.5 613.5h.7M190.3 609.0h.7M202.7 640.3h.7M208.2 632.2h.7M201.1 622.2h.7M191.9 612.4h.7M206.3 633.2h.7M200.8 619.5h.7M189.4 613.9h.7M202.0 614.0h.7M197.1 626.4h.7M202.0 619.1h.7M202.9 608.7h.7M201.6 624.3h.7M194.4 616.4h.7M204.3 625.3h.7M191.2 618.4h.7M191.2 627.0h.7M201.5 621.6h.7M206.0 615.3h.7M191.1 613.6h.7M187.5 597.9h.7M206.9 639.4h.7M200.9 605.5h.7M192.4 607.7h.7M199.2 639.2h.7M198.7 618.7h.7M192.4 610.5h.7M194.6 625.0h.7M196.0 620.4h.7M186.7 609.2h.7M194.4 624.9h.7M200.9 599.0h.7M195.9 611.1h.7M205.2 628.2h.7M201.8 647.2h.7M190.2 607.5h.7M194.6 603.3h.7M196.1 617.9h.7M194.7 618.3h.7M202.5 624.3h.7M196.2 622.1h.7M194.8 634.4h.7M199.5 637.8h.7M197.3 623.6h.7M191.2 604.3h.7M200.9 612.7h.7M196.7 617.8h.7M199.0 613.3h.7M196.9 629.8h.7M199.6 623.7h.7M200.4 619.1h.7M188.8 616.3h.7M190.4 626.9h.7M187.6 607.2h.7M195.6 601.9h.7M194.8 610.7h.7M189.3 604.0h.7M199.5 609.8h.7M196.6 614.9h.7M198.2 607.8h.7M188.3 624.3h.7M193.5 627.1h.7M196.4 622.6h.7M194.9 597.4h.7M203.5 618.0h.7M198.7 619.1h.7M196.6 602.9h.7M203.0 621.2h.7M203.1 606.1h.7M192.5 598.1h.7M196.1 620.6h.7M188.4 609.8h.7M197.8 640.1h.7M195.1 618.1h.7M190.6 609.6h.7M203.9 617.4h.7M205.8 615.8h.7M190.9 614.0h.7M188.2 605.2h.7M201.8 606.5h.7M205.8 633.6h.7M209.9 606.5h.7M204.5 634.7h.7M198.2 606.5h.7M206.3 625.1h.7M204.7 615.7h.7M185.7 631.8h.7M207.0 617.1h.7M206.3 616.3h.7M202.6 609.8h.7M208.0 618.5h.7M196.0 622.8h.7M204.9 626.1h.7M198.3 613.6h.7M205.8 615.4h.7M191.5 614.1h.7M198.8 618.3h.7M209.1 601.7h.7M203.2 616.0h.7M190.3 609.1h.7M201.0 609.9h.7M190.4 614.8h.7M200.8 601.2h.7M197.6 615.7h.7M193.7 633.8h.7M195.2 634.1h.7M202.5 636.5h.7M193.7 629.3h.7M187.8 621.0h.7M205.0 638.3h.7M193.5 615.7h.7M204.5 626.5h.7M198.7 622.7h.7M190.2 618.2h.7M192.9 606.3h.7M201.9 619.7h.7M199.0 637.7h.7M206.6 620.2h.7M201.6 612.5h.7M188.4 618.7h.7M192.2 612.0h.7M204.1 615.4h.7M199.4 606.8h.7M191.7 624.8h.7M193.4 612.2h.7M189.8 614.3h.7M191.1 615.4h.7M187.9 597.7h.7M196.4 632.9h.7M190.4 635.9h.7M190.1 608.5h.7M193.7 645.7h.7M200.3 617.0h.7M193.4 611.1h.7M185.6 619.6h.7M184.3 621.2h.7M197.8 609.8h.7M187.5 620.9h.7M204.1 601.2h.7M188.4 624.8h.7M197.3 608.7h.7M192.4 598.9h.7M199.9 615.5h.7M204.2 601.3h.7M198.4 626.7h.7M193.4 633.7h.7M194.1 602.7h.7M201.0 610.0h.7M201.0 602.2h.7M188.8 602.1h.7M188.3 605.4h.7M192.6 614.6h.7M196.7 599.1h.7M199.0 624.7h.7M208.0 641.6h.7M199.0 604.2h.7M198.9 616.0h.7M193.6 609.4h.7M192.2 636.2h.7M186.9 615.0h.7M203.2 634.2h.7M192.6 616.6h.7M189.0 625.9h.7M207.2 628.6h.7M202.1 610.1h.7M207.1 632.0h.7M199.0 631.2h.7M193.8 612.8h.7M203.3 616.7h.7M205.1 602.6h.7M198.1 634.5h.7M198.7 605.1h.7M193.3 616.7h.7M200.2 609.6h.7M198.4 611.0h.7M188.7 626.8h.7M187.8 618.1h.7M194.7 629.3h.7M195.2 616.0h.7M199.3 629.1h.7M196.2 603.7h.7M201.6 607.5h.7M198.4 630.0h.7M197.3 627.8h.7M199.8 600.3h.7M202.3 604.7h.7M191.5 614.7h.7M203.8 603.8h.7M206.2 631.0h.7M204.9 636.2h.7M193.6 618.9h.7M192.0 619.4h.7M188.1 613.2h.7M198.9 600.5h.7M192.8 598.0h.7M191.1 607.2h.7M199.1 614.4h.7M195.8 629.5h.7M207.2 607.6h.7M196.8 620.5h.7M188.6 638.3h.7M197.8 637.6h.7M196.2 627.7h.7M200.0 626.9h.7M184.5 610.5h.7M206.5 619.0h.7M195.0 616.0h.7M188.4 624.9h.7M187.9 627.7h.7M201.2 622.2h.7M204.9 603.8h.7M193.0 610.4h.7M207.9 605.0h.7M202.9 628.5h.7M196.2 620.4h.7M186.7 630.7h.7M193.7 617.7h.7M207.8 603.6h.7M205.4 614.3h.7M189.5 604.3h.7M194.7 599.0h.7M194.2 626.6h.7M196.4 612.1h.7M190.0 603.1h.7M194.5 608.4h.7M189.2 615.2h.7M204.5 613.6h.7M194.8 612.0h.7M188.8 608.9h.7M190.7 624.5h.7M202.8 611.1h.7M204.2 636.4h.7M206.7 605.3h.7M187.6 605.3h.7M201.7 621.9h.7M197.9 619.1h.7M199.1 623.3h.7M194.1 624.6h.7M187.4 636.0h.7M206.3 609.5h.7M195.6 628.8h.7M196.0 618.1h.7M197.3 613.4h.7M187.4 634.3h.7M198.6 633.0h.7M202.9 597.8h.7M192.9 627.0h.7M199.2 625.8h.7M190.1 601.6h.7M198.7 607.4h.7M206.3 613.3h.7M195.5 613.7h.7M196.3 627.7h.7M192.1 629.7h.7M202.5 600.5h.7M195.2 606.2h.7M196.9 620.2h.7M194.7 619.8h.7M191.1 632.0h.7M193.2 631.1h.7M194.6 629.7h.7M198.7 603.4h.7M206.6 632.1h.7M191.8 605.6h.7M187.0 635.5h.7M197.7 627.7h.7M191.2 622.9h.7M195.5 625.1h.7M190.0 623.3h.7M190.7 614.6h.7M200.9 600.7h.7M198.9 626.7h.7M204.4 623.1h.7M204.1 623.4h.7M197.9 613.2h.7M193.4 627.6h.7M195.1 609.3h.7M201.1 601.1h.7M191.0 629.0h.7M208.3 613.4h.7M206.6 608.9h.7M198.2 611.1h.7M198.7 634.2h.7M187.6 620.3h.7M187.8 611.0h.7M192.6 604.5h.7M199.4 606.3h.7M192.6 614.7h.7M211.0 599.0h.7M206.0 612.1h.7M200.1 612.4h.7M196.3 602.0h.7M207.8 611.3h.7M193.0 605.5h.7M197.7 616.9h.7M206.3 634.0h.7M193.1 636.9h.7M195.5 604.1h.7M204.3 614.4h.7M203.4 622.5h.7M195.6 611.8h.7M189.3 598.5h.7M187.9 607.6h.7M194.9 604.8h.7M195.8 602.8h.7M200.7 617.7h.7M191.1 615.0h.7M192.7 605.7h.7M203.4 633.9h.7M187.1 612.9h.7M204.5 635.2h.7M195.4 611.7h.7M200.1 618.3h.7M190.1 611.2h.7M198.6 612.7h.7M190.9 603.9h.7M191.5 600.6h.7M199.4 604.3h.7M193.1 623.7h.7M189.2 624.9h.7M199.4 625.2h.7M198.0 600.3h.7M193.1 632.3h.7M184.1 620.4h.7M208.0 604.2h.7M190.7 612.3h.7M187.8 614.0h.7M198.9 617.9h.7M205.9 597.8h.7M200.0 622.5h.7M192.0 621.4h.7M189.8 604.3h.7M193.7 614.4h.7M190.1 625.8h.7M207.0 615.8h.7M206.1 611.8h.7M184.9 602.4h.7M202.5 620.4h.7M189.0 615.7h.7M190.9 619.9h.7M209.4 602.8h.7M202.7 607.9h.7M195.6 609.9h.7M188.7 611.6h.7M203.0 631.2h.7M204.7 630.5h.7M196.8 619.0h.7M197.7 616.0h.7M189.8 618.8h.7M186.0 613.2h.7M201.6 627.8h.7M203.6 624.5h.7M204.8 619.2h.7M202.2 611.9h.7M206.4 597.2h.7M200.6 618.8h.7M194.4 602.4h.7M188.0 601.3h.7M204.2 613.5h.7M188.3 612.5h.7M205.4 614.7h.7M195.0 606.4h.7M194.0 614.2h.7M189.6 634.6h.7M204.5 614.9h.7M204.0 604.3h.7M205.0 605.5h.7M197.1 607.7h.7M194.0 631.9h.7M204.6 620.8h.7M196.0 631.7h.7M207.8 619.7h.7M202.0 634.3h.7M194.9 617.4h.7M189.2 620.9h.7M198.4 601.7h.7M184.6 610.6h.7M195.8 609.5h.7M196.6 622.6h.7M206.0 605.2h.7M200.6 602.5h.7M196.3 608.1h.7M197.1 605.2h.7M203.3 616.2h.7M189.0 614.1h.7M204.7 624.4h.7M196.5 608.3h.7M198.6 610.4h.7M190.8 605.0h.7M193.4 639.2h.7M189.5 605.9h.7M204.6 622.1h.7M199.4 621.3h.7M205.3 603.4h.7M203.1 624.0h.7M194.2 620.0h.7M188.2 606.4h.7M203.9 597.4h.7M202.6 610.5h.7M192.7 609.1h.7M207.3 603.2h.7M195.0 604.7h.7M190.5 620.3h.7M194.9 605.9h.7M198.1 602.5h.7M205.3 616.4h.7M193.7 630.4h.7M190.9 602.8h.7M206.8 601.4h.7M205.2 630.4h.7M195.6 611.3h.7M188.5 629.8h.7M193.5 613.5h.7M198.2 607.8h.7M197.2 615.2h.7M204.5 622.6h.7M192.6 606.6h.7M204.6 614.5h.7M200.4 609.1h.7M207.0 620.0h.7M207.9 618.2h.7M207.0 607.1h.7M187.3 613.8h.7M206.1 617.1h.7M201.4 629.3h.7M195.7 614.6h.7M184.4 605.7h.7M195.1 616.1h.7M199.9 638.4h.7M192.5 630.0h.7M191.1 631.2h.7M192.4 599.5h.7M193.7 637.9h.7M194.8 621.1h.7M205.8 618.9h.7M190.8 616.2h.7M188.9 621.5h.7M208.6 626.8h.7M192.2 599.4h.7M192.7 634.8h.7M187.9 618.8h.7M198.7 607.7h.7M192.5 603.7h.7M197.7 612.4h.7M202.2 632.9h.7M188.5 615.1h.7M194.3 616.5h.7M207.4 605.9h.7M191.6 633.2h.7M189.8 612.0h.7M204.7 607.6h.7M207.2 619.3h.7M197.7 608.1h.7M195.8 612.5h.7M196.7 621.3h.7M191.8 605.8h.7M207.2 621.1h.7M200.3 620.1h.7M193.8 623.1h.7M195.9 622.7h.7M196.8 627.6h.7M206.2 613.4h.7M189.2 611.1h.7M200.5 627.4h.7M201.4 602.1h.7M188.2 604.4h.7M195.5 600.5h.7M187.8 605.9h.7M192.8 629.4h.7M194.9 630.7h.7M204.9 609.9h.7M190.4 598.4h.7M207.3 606.3h.7M190.1 617.3h.7M198.0 633.2h.7M189.9 612.6h.7M191.7 626.0h.7M202.3 624.3h.7M195.1 598.5h.7M202.8 628.5h.7M201.9 630.2h.7M206.3 621.8h.7M195.1 614.3h.7M206.0 629.3h.7M204.4 621.9h.7M192.7 617.4h.7M189.5 620.6h.7M189.2 632.3h.7M197.0 604.3h.7M205.6 613.1h.7M199.1 609.9h.7M191.6 618.4h.7M203.9 617.2h.7M205.9 611.1h.7M203.7 618.4h.7M200.9 614.0h.7M191.6 630.1h.7M207.3 628.2h.7M199.9 615.0h.7M188.1 616.6h.7M203.9 611.8h.7M200.2 605.7h.7M199.0 620.5h.7M194.7 626.8h.7M196.1 604.0h.7M200.2 628.0h.7M188.0 631.5h.7M200.6 604.8h.7M190.4 602.5h.7M192.1 598.9h.7M194.7 627.4h.7M188.1 617.2h.7M196.0 613.9h.7M202.9 605.8h.7M188.5 623.7h.7M191.5 610.1h.7M196.7 631.1h.7M211.3 612.9h.7M201.7 624.8h.7M194.7 621.4h.7M186.3 616.9h.7M188.3 611.8h.7M204.6 635.1h.7M196.3 630.0h.7M192.7 604.1h.7M194.3 634.7h.7M188.3 600.5h.7M192.6 621.9h.7M204.7 623.4h.7M204.1 615.5h.7M198.8 603.9h.7M207.8 604.8h.7M186.6 625.6h.7M197.0 606.6h.7M195.0 615.5h.7M190.6 617.9h.7M202.8 608.0h.7M196.6 603.1h.7M199.2 600.9h.7M180.7 610.7h.7M207.8 627.3h.7M207.5 614.1h.7M197.8 612.2h.7M193.6 635.2h.7M207.0 631.4h.7M199.5 625.3h.7M198.4 620.4h.7M205.2 622.0h.7M200.7 626.9h.7M200.1 618.8h.7M204.6 626.6h.7M205.1 618.3h.7M204.1 627.0h.7M205.3 599.9h.7M201.3 603.2h.7M191.7 632.6h.7M204.7 630.6h.7M189.0 606.0h.7M204.3 603.3h.7M185.6 627.6h.7M190.0 612.8h.7M191.6 616.4h.7M194.1 631.1h.7M203.1 622.0h.7M197.6 616.6h.7M187.5 630.5h.7M192.7 608.4h.7M187.8 650.3h.7M187.3 624.1h.7M199.2 633.8h.7M200.8 605.9h.7M196.3 638.4h.7M191.6 600.9h.7M191.0 622.3h.7M190.4 619.4h.7M197.7 605.1h.7M197.8 622.3h.7M184.7 624.6h.7M201.3 615.2h.7M195.5 608.0h.7M201.9 598.7h.7M193.5 600.1h.7M202.3 602.1h.7M204.4 603.2h.7M204.2 615.0h.7M192.0 598.0h.7M188.9 606.8h.7M197.6 638.6h.7M202.6 620.7h.7M202.7 622.7h.7M193.0 645.9h.7M209.2 618.4h.7M207.9 620.8h.7M188.3 621.3h.7M209.1 637.2h.7M198.2 640.5h.7M187.2 618.6h.7M205.3 614.2h.7M186.1 598.6h.7M208.8 626.9h.7M203.9 613.0h.7M201.4 610.9h.7M199.1 621.2h.7M199.3 624.8h.7M196.2 605.5h.7M185.0 632.7h.7M199.6 605.4h.7M204.9 623.2h.7M204.2 612.1h.7M202.6 613.6h.7M185.4 611.7h.7M206.1 627.3h.7M190.4 625.5h.7M197.2 615.6h.7M200.0 629.1h.7M199.8 599.7h.7M194.0 620.5h.7M199.4 599.8h.7M198.4 624.9h.7M200.6 613.9h.7M185.8 616.6h.7M200.4 605.1h.7M201.0 606.8h.7M194.3 601.5h.7M203.9 613.7h.7M193.5 617.3h.7M206.5 615.1h.7M188.4 614.5h.7M190.3 612.8h.7M202.4 616.3h.7M197.4 623.1h.7M205.5 605.5h.7M198.5 621.1h.7M202.4 628.0h.7M202.6 599.6h.7M206.3 606.4h.7M206.9 611.1h.7M195.6 603.1h.7M195.6 609.7h.7M205.1 608.2h.7M196.0 634.0h.7M205.5 618.7h.7M206.7 633.1h.7M197.7 613.5h.7M200.1 615.4h.7M194.6 613.7h.7M200.5 612.8h.7M199.8 646.2h.7M189.7 629.8h.7M199.1 617.3h.7M203.1 610.3h.7M196.3 626.5h.7M189.6 619.1h.7M204.7 612.1h.7M195.1 625.0h.7M203.8 618.8h.7M200.4 606.8h.7M197.0 617.7h.7M194.9 624.1h.7M200.6 624.2h.7M202.6 613.5h.7M202.7 608.8h.7M199.5 614.6h.7M190.0 622.4h.7M192.0 618.9h.7M190.1 628.7h.7M194.1 611.4h.7M206.2 614.9h.7M190.3 613.4h.7M199.5 620.1h.7M194.9 602.9h.7M196.1 630.4h.7M197.6 612.3h.7M201.6 631.8h.7M203.4 632.4h.7M207.0 599.8h.7M201.6 618.4h.7M190.6 622.2h.7M209.2 615.1h.7M191.1 622.3h.7M196.8 605.6h.7M207.6 626.8h.7M198.1 618.6h.7M202.9 613.0h.7M193.1 624.8h.7M195.0 599.0h.7M197.6 632.0h.7M194.9 627.7h.7M193.5 600.2h.7M196.6 598.3h.7M193.8 620.4h.7M208.3 630.4h.7M192.2 618.3h.7M208.4 618.8h.7M206.0 617.4h.7M193.9 635.1h.7M190.9 621.8h.7M197.6 601.4h.7M203.5 631.6h.7M207.1 627.5h.7M196.8 615.4h.7M193.0 613.7h.7M186.5 632.6h.7M190.1 622.9h.7M197.9 613.2h.7M196.9 630.0h.7M203.7 611.8h.7M208.0 613.4h.7M187.4 611.4h.7M194.0 646.9h.7M197.7 600.3h.7M198.9 627.0h.7M193.0 606.7h.7M198.4 626.4h.7M189.8 635.3h.7M199.9 611.7h.7M196.3 609.0h.7M201.9 628.3h.7M188.2 622.4h.7M190.9 633.3h.7M195.0 613.5h.7M205.3 621.2h.7M205.4 608.4h.7M207.7 602.7h.7M199.7 603.8h.7M195.9 604.4h.7M190.9 634.4h.7M189.0 626.3h.7M204.3 617.0h.7M196.6 614.3h.7M194.9 613.9h.7M197.2 630.2h.7M189.5 615.5h.7M192.7 614.0h.7M200.7 609.9h.7M195.9 605.9h.7M190.6 615.2h.7M204.5 621.3h.7M197.8 620.8h.7M203.6 605.0h.7M200.7 604.5h.7M192.2 617.0h.7M202.5 626.5h.7M201.9 626.6h.7M206.2 616.2h.7M189.8 604.2h.7M193.0 623.1h.7M196.4 619.0h.7M195.7 608.9h.7M194.8 602.9h.7M202.2 609.2h.7M187.2 628.7h.7M207.6 630.5h.7M192.8 611.5h.7M190.5 617.6h.7M186.7 633.7h.7M195.6 599.4h.7M192.5 609.5h.7M191.0 612.7h.7M200.8 619.4h.7M195.9 620.3h.7M188.8 598.1h.7M187.4 625.7h.7M193.3 614.3h.7M188.6 609.5h.7M195.7 625.2h.7M190.4 615.6h.7M190.7 604.3h.7M188.1 625.8h.7M193.3 612.0h.7M205.9 618.6h.7M201.5 630.5h.7M201.9 598.6h.7M202.1 623.5h.7M203.1 625.5h.7M205.4 640.8h.7M196.6 624.6h.7M198.3 640.9h.7M205.4 619.7h.7M188.6 615.8h.7M207.5 611.2h.7M196.1 630.7h.7M200.3 600.6h.7M193.8 624.3h.7M186.7 627.2h.7M197.8 625.3h.7M189.5 624.9h.7M196.6 604.1h.7M188.6 614.3h.7M193.6 611.0h.7M204.7 605.1h.7M200.4 619.4h.7M202.3 602.9h.7M187.0 613.2h.7M200.0 631.9h.7M191.8 613.9h.7M205.1 613.2h.7M203.9 624.3h.7M203.7 600.7h.7M193.4 618.9h.7M189.5 628.7h.7M208.1 622.0h.7M187.9 606.3h.7M201.4 625.0h.7M191.6 610.2h.7M188.8 624.3h.7M201.6 603.5h.7M198.2 602.2h.7M203.6 633.1h.7M202.1 612.8h.7M204.4 612.9h.7M201.6 600.0h.7M193.2 609.0h.7M204.4 632.0h.7M197.2 620.9h.7M186.2 614.7h.7M188.5 624.5h.7M196.5 619.9h.7M204.4 628.5h.7M189.9 609.9h.7M201.8 621.2h.7M198.0 608.0h.7M188.3 597.9h.7M199.9 623.3h.7M206.3 610.7h.7M196.0 613.7h.7M201.7 634.3h.7M207.6 608.0h.7M207.1 599.0h.7M192.7 607.6h.7M193.4 625.9h.7M195.1 619.8h.7M201.9 620.4h.7M195.8 606.5h.7M198.4 624.3h.7M188.0 614.2h.7M187.7 626.8h.7M206.3 605.3h.7M202.7 607.2h.7M194.2 604.4h.7M201.2 607.1h.7M203.0 604.7h.7M200.5 620.5h.7M189.1 609.4h.7M200.8 609.2h.7M195.0 606.5h.7M194.0 616.3h.7M185.0 616.1h.7M203.8 614.1h.7M202.6 631.5h.7M195.2 621.9h.7M205.9 617.5h.7M192.0 603.0h.7M187.7 629.5h.7M192.8 600.7h.7M191.0 616.5h.7M199.0 621.4h.7M195.4 610.5h.7M200.2 606.6h.7M183.8 625.0h.7M209.1 628.0h.7M191.7 608.6h.7M201.1 629.7h.7M196.6 618.4h.7M183.8 601.0h.7M197.0 623.8h.7M190.0 613.4h.7M189.1 609.6h.7M190.7 619.3h.7M190.8 619.0h.7M203.0 605.8h.7M201.6 608.4h.7M193.4 622.3h.7M191.5 623.5h.7M199.3 635.3h.7M197.3 614.4h.7M191.6 616.8h.7M191.6 605.8h.7M188.5 638.0h.7M202.2 617.9h.7M199.3 620.4h.7M197.3 630.1h.7M205.8 623.6h.7M200.5 606.3h.7M201.8 611.5h.7M190.7 628.5h.7M197.3 619.0h.7M205.6 609.4h.7M191.5 612.6h.7M196.4 627.6h.7M201.9 601.3h.7M194.2 613.4h.7M188.5 628.2h.7M193.2 627.3h.7M194.4 603.2h.7M189.0 613.9h.7M196.6 619.4h.7M201.3 618.2h.7M205.1 612.5h.7M194.9 608.6h.7M185.3 612.1h.7M191.4 616.9h.7M192.4 615.5h.7M192.2 634.5h.7M205.2 619.5h.7M205.6 623.9h.7M195.0 622.4h.7M203.8 611.7h.7M202.0 625.2h.7M203.4 608.7h.7M211.5 627.5h.7M206.0 622.9h.7M190.1 609.5h.7M202.2 625.0h.7M203.8 610.3h.7M198.3 624.7h.7M200.6 603.6h.7M200.3 617.8h.7M191.3 630.7h.7M202.4 608.9h.7M189.3 606.1h.7M199.7 621.0h.7M205.1 614.2h.7M194.6 609.0h.7M189.8 609.6h.7M190.0 609.9h.7M188.4 613.2h.7M202.4 609.6h.7M202.1 609.5h.7M199.1 629.9h.7M194.6 598.5h.7M194.0 608.5h.7M187.5 628.0h.7M206.5 616.7h.7M194.3 599.0h.7M189.2 619.9h.7M198.4 609.1h.7M201.9 621.3h.7M202.0 599.4h.7M203.6 622.8h.7M195.4 615.7h.7M197.1 614.5h.7M192.1 644.8h.7M191.9 624.0h.7M200.7 616.5h.7M193.5 610.2h.7M199.0 615.5h.7M186.4 622.1h.7M203.7 603.7h.7M185.3 609.6h.7M190.0 620.7h.7M204.6 597.5h.7M197.5 613.8h.7M193.1 625.9h.7M204.1 610.6h.7M201.8 617.2h.7M193.5 616.2h.7M199.8 620.3h.7M199.7 620.0h.7M202.3 613.1h.7M190.8 610.5h.7M203.5 611.4h.7M190.8 621.7h.7M191.6 604.8h.7M188.3 630.4h.7M203.6 621.5h.7M194.0 634.6h.7M201.1 616.5h.7M200.8 622.5h.7M197.3 619.5h.7M206.8 647.1h.7M203.7 626.3h.7M197.6 632.6h.7M202.7 609.0h.7M186.5 616.3h.7M201.1 610.1h.7M193.7 611.4h.7M193.0 607.9h.7M194.6 616.8h.7M188.4 605.0h.7M194.6 624.8h.7M187.0 616.8h.7M200.7 623.2h.7M197.1 607.5h.7M194.3 620.4h.7M186.1 644.1h.7M200.6 626.3h.7M195.6 622.8h.7M189.9 625.8h.7M203.8 630.5h.7M187.8 631.6h.7M191.6 609.8h.7M190.6 611.3h.7M197.8 619.2h.7M205.8 633.3h.7M207.3 626.5h.7M197.3 610.8h.7M192.4 622.8h.7M187.4 622.2h.7M196.1 611.4h.7M203.5 608.8h.7M206.8 599.1h.7M194.1 604.6h.7M192.3 635.2h.7M194.0 617.9h.7M200.2 627.9h.7M192.9 618.7h.7M205.5 613.8h.7M192.0 634.0h.7M188.9 614.5h.7M199.2 625.3h.7M185.7 619.0h.7M185.3 608.3h.7M193.3 610.1h.7M199.7 622.8h.7M196.4 611.4h.7M189.7 630.3h.7M193.7 611.7h.7M193.0 623.3h.7M188.7 616.4h.7M194.7 614.6h.7M199.1 621.1h.7M193.7 612.2h.7M196.2 608.3h.7M200.2 608.5h.7M189.4 618.1h.7M187.1 617.9h.7M195.4 629.3h.7M194.8 619.6h.7M205.0 625.4h.7M202.5 626.3h.7M189.9 614.0h.7M202.4 628.2h.7M194.0 609.4h.7M197.5 613.4h.7M201.3 628.2h.7M189.9 610.6h.7M188.0 631.5h.7M198.6 631.2h.7M194.2 606.2h.7M198.1 620.2h.7M192.5 631.3h.7M186.8 607.5h.7M190.3 607.5h.7M207.7 618.9h.7M204.1 625.0h.7M203.4 614.9h.7M208.1 620.2h.7M206.7 619.6h.7M189.0 620.7h.7M191.6 620.4h.7M198.6 605.1h.7M203.1 609.9h.7M205.9 606.4h.7M192.8 631.2h.7M198.2 607.2h.7M200.8 626.0h.7M202.6 606.3h.7M188.7 618.6h.7M191.8 619.0h.7M203.5 619.3h.7M200.4 613.3h.7M195.2 612.3h.7M187.7 614.7h.7M201.5 647.1h.7M201.7 631.0h.7M189.1 606.7h.7M209.0 613.5h.7M191.6 601.7h.7M201.3 634.6h.7M195.5 624.8h.7M190.1 613.2h.7M188.9 602.4h.7M198.8 603.9h.7M206.7 610.6h.7M206.8 610.1h.7M199.3 611.4h.7M196.7 612.9h.7M190.5 601.6h.7M187.1 617.7h.7M207.0 614.6h.7M190.5 622.7h.7M192.9 599.9h.7M200.3 623.9h.7M202.0 627.4h.7M205.4 619.4h.7M192.3 605.8h.7M195.0 605.7h.7M196.9 614.1h.7M201.4 618.9h.7M201.3 620.9h.7M205.4 615.9h.7M199.8 611.8h.7M196.9 614.8h.7M188.1 609.0h.7M187.0 619.8h.7M197.5 627.9h.7M188.3 601.7h.7M201.2 621.0h.7M193.2 605.6h.7M187.8 604.5h.7M206.6 611.9h.7M205.9 636.7h.7M197.3 621.9h.7M196.4 612.7h.7M204.0 628.6h.7M200.9 616.2h.7M193.3 620.4h.7M198.5 603.2h.7M195.4 603.5h.7M195.5 598.0h.7M188.5 625.6h.7M195.6 598.9h.7M190.0 631.2h.7M201.1 599.1h.7M196.3 614.8h.7M199.9 617.4h.7M199.8 601.5h.7M194.1 608.7h.7M197.4 633.4h.7M193.5 631.3h.7M192.7 599.9h.7M198.3 615.4h.7M203.4 612.3h.7M202.9 628.1h.7M205.6 619.2h.7M205.3 604.7h.7M207.0 641.1h.7M209.2 624.2h.7M204.3 605.7h.7M193.4 629.0h.7M198.0 624.9h.7M196.7 629.5h.7M208.0 601.8h.7M186.5 617.3h.7M201.2 607.4h.7M198.2 613.3h.7M185.4 612.8h.7M198.0 620.0h.7M191.5 603.6h.7M197.6 627.1h.7M188.5 610.3h.7M193.1 620.0h.7M206.6 614.1h.7M198.8 618.7h.7M191.3 624.0h.7M192.3 611.1h.7M191.0 625.5h.7M207.0 610.4h.7M198.0 619.9h.7M192.9 614.0h.7M199.9 607.3h.7M193.7 605.7h.7M200.0 607.5h.7M200.6 609.5h.7M204.9 629.9h.7M206.2 603.7h.7M196.7 622.1h.7M194.7 645.7h.7M200.3 604.6h.7M196.8 620.2h.7M187.0 623.8h.7M195.6 615.7h.7M195.6 617.3h.7M195.4 623.2h.7M191.5 643.5h.7M188.0 607.3h.7M203.4 621.3h.7M201.4 617.6h.7M188.8 639.9h.7M205.9 633.3h.7M193.0 638.1h.7M204.3 622.1h.7M189.7 620.1h.7M204.2 616.1h.7M202.6 611.4h.7M204.3 606.6h.7M204.3 619.7h.7M198.9 624.5h.7M205.5 619.3h.7M191.3 597.7h.7M202.9 621.7h.7M198.7 647.3h.7M195.5 614.7h.7M207.2 603.3h.7M195.9 630.6h.7M198.0 604.0h.7M189.9 617.1h.7M189.7 618.9h.7M199.8 609.4h.7M190.9 604.9h.7M191.1 618.9h.7M200.3 602.3h.7M189.9 620.0h.7M204.3 621.2h.7M190.4 602.6h.7M206.6 623.9h.7M197.9 601.0h.7M190.1 618.2h.7M198.6 607.1h.7M202.5 601.6h.7M203.3 609.7h.7M210.6 617.3h.7M192.8 623.7h.7M190.3 622.6h.7M195.8 605.6h.7M190.4 614.3h.7M197.0 624.8h.7M203.7 615.4h.7M206.6 613.7h.7M196.4 612.2h.7M198.4 619.0h.7M191.5 617.1h.7M200.1 614.5h.7M188.6 627.3h.7M194.3 613.8h.7M201.5 609.4h.7M198.7 628.5h.7M205.6 612.7h.7M195.4 605.6h.7M194.1 610.2h.7M187.5 610.6h.7M188.0 602.8h.7M199.7 620.6h.7M201.0 614.2h.7M204.0 615.9h.7M197.2 626.8h.7M191.7 615.2h.7M193.4 612.1h.7M198.9 627.1h.7M189.7 631.3h.7M199.0 618.2h.7M206.1 605.5h.7M187.5 621.0h.7M191.8 602.1h.7M199.2 630.2h.7M196.5 618.3h.7M200.4 604.9h.7M200.3 636.8h.7M199.5 599.1h.7M191.0 627.4h.7M186.3 611.5h.7M188.7 609.6h.7M191.0 597.8h.7M201.2 618.0h.7M193.0 604.0h.7M189.1 627.3h.7M186.4 614.9h.7M196.7 619.3h.7M198.5 637.3h.7M188.0 616.8h.7M187.3 610.4h.7M192.7 623.1h.7M189.8 613.4h.7M205.5 609.2h.7M207.2 606.1h.7M202.9 612.8h.7M191.9 598.8h.7M198.4 622.6h.7M198.9 621.2h.7M185.8 621.1h.7M191.3 616.1h.7M204.1 611.5h.7M188.7 626.0h.7M194.5 624.0h.7M199.4 624.5h.7M192.4 610.5h.7M198.0 620.4h.7M192.4 614.1h.7M193.5 609.6h.7M187.4 627.6h.7M192.4 599.8h.7M206.6 612.2h.7M205.7 600.4h.7M189.8 629.5h.7M190.2 623.1h.7M190.9 618.6h.7M202.1 601.7h.7M196.6 615.0h.7M199.0 623.4h.7M193.6 623.2h.7M187.7 619.9h.7M199.4 636.0h.7M187.4 604.5h.7M201.8 636.5h.7M193.9 616.3h.7M190.2 619.6h.7M193.0 625.2h.7M197.9 641.8h.7M192.7 626.9h.7M187.1 636.7h.7M205.3 616.2h.7M184.4 623.6h.7M191.0 625.6h.7M190.9 600.2h.7M185.0 618.2h.7M194.1 617.9h.7M189.9 622.2h.7M197.7 634.1h.7M191.3 623.3h.7M195.8 618.9h.7M194.3 616.8h.7M189.5 616.4h.7M202.5 599.8h.7M195.8 613.1h.7M197.3 605.4h.7M195.2 599.9h.7M201.7 627.1h.7M197.4 604.8h.7M200.8 603.6h.7M199.4 628.7h.7M192.8 631.7h.7M207.1 620.0h.7M203.6 611.8h.7M188.3 621.4h.7M206.4 621.4h.7M189.9 616.5h.7M199.6 618.5h.7M190.7 617.1h.7M200.8 610.5h.7M201.6 613.0h.7M205.3 614.2h.7M195.8 599.5h.7M201.5 618.3h.7M192.9 622.6h.7M199.5 597.8h.7M205.2 631.9h.7M204.1 598.2h.7M196.9 623.6h.7M193.3 625.4h.7M193.5 636.7h.7M186.2 611.8h.7M186.7 606.6h.7M204.8 607.1h.7M188.6 606.8h.7M202.4 602.4h.7M208.7 609.1h.7M195.8 609.9h.7M194.5 623.7h.7M198.7 623.6h.7M201.3 615.7h.7M198.2 621.7h.7M198.7 611.8h.7M200.6 608.9h.7M205.7 606.0h.7M185.5 615.0h.7M198.9 619.0h.7M194.4 633.7h.7M193.1 607.3h.7M207.8 616.8h.7M201.4 603.0h.7M207.9 608.5h.7M192.6 599.7h.7M186.4 614.2h.7M193.1 621.2h.7M190.1 611.2h.7M194.8 631.0h.7M198.7 614.3h.7M189.9 625.0h.7M199.4 611.7h.7M202.9 614.7h.7M195.7 634.6h.7M194.7 604.4h.7M189.0 622.8h.7M197.8 612.3h.7M197.5 625.5h.7M202.6 640.2h.7M191.8 624.8h.7M205.5 617.5h.7M208.6 612.1h.7M197.6 611.3h.7M201.6 616.0h.7M206.9 616.2h.7M198.0 629.7h.7M191.1 605.5h.7M204.7 605.0h.7M189.8 627.6h.7M189.2 622.7h.7M193.1 610.4h.7M198.9 613.0h.7M199.0 621.5h.7M199.0 612.2h.7M192.5 607.2h.7M205.8 616.8h.7M207.4 623.5h.7M194.6 604.6h.7M203.4 610.3h.7M205.3 621.8h.7M206.7 612.1h.7M197.6 625.5h.7M197.8 605.2h.7M187.3 622.3h.7M188.7 642.4h.7M198.2 623.0h.7M195.9 604.4h.7M203.1 641.5h.7M204.9 624.4h.7M186.1 627.3h.7M186.9 619.6h.7M194.5 606.6h.7M203.8 614.1h.7M193.2 612.9h.7M189.0 636.0h.7M190.4 629.5h.7M201.1 612.0h.7M196.5 618.4h.7M199.1 622.1h.7M204.3 630.1h.7M200.7 625.8h.7M188.8 602.4h.7M190.9 629.1h.7M205.2 601.9h.7M186.3 610.1h.7M205.9 598.1h.7M206.1 611.1h.7M190.2 623.8h.7M205.0 616.0h.7M196.6 627.6h.7M189.7 626.9h.7M202.4 613.0h.7M200.5 609.3h.7M201.5 630.4h.7M200.8 623.5h.7M201.8 627.2h.7M188.4 629.6h.7M190.3 612.1h.7M200.7 607.7h.7M194.7 617.8h.7M195.2 609.7h.7M190.2 607.9h.7M196.3 605.2h.7M184.3 614.0h.7M197.3 611.8h.7M205.6 620.4h.7M192.4 622.1h.7M201.1 629.7h.7M189.2 619.0h.7M202.5 618.0h.7M194.5 621.0h.7M201.3 617.3h.7M196.4 619.7h.7M201.4 609.0h.7M198.5 616.9h.7M196.3 600.6h.7M193.7 627.8h.7M194.0 617.7h.7M206.2 620.9h.7M195.0 599.6h.7M198.7 604.4h.7M208.4 608.4h.7M199.8 626.9h.7M202.4 622.3h.7M192.4 615.6h.7M206.3 627.5h.7M195.4 603.4h.7M207.5 627.5h.7M203.6 623.7h.7M188.4 613.9h.7M200.4 620.3h.7M192.7 616.6h.7M183.7 610.0h.7M193.1 609.2h.7M202.2 604.1h.7M203.9 614.7h.7M211.4 612.8h.7M196.7 625.2h.7M199.4 614.7h.7M189.8 610.1h.7M194.9 606.8h.7M187.1 611.4h.7M197.6 632.3h.7M189.6 635.4h.7M203.6 626.4h.7M203.5 602.2h.7M190.4 604.1h.7M186.3 599.8h.7M200.7 627.9h.7M190.7 633.4h.7M196.6 621.9h.7M201.8 619.6h.7M190.3 609.6h.7M208.4 610.3h.7M206.7 612.2h.7M194.7 610.9h.7M194.2 603.7h.7M194.8 612.8h.7M194.5 616.2h.7M195.5 616.4h.7M203.6 602.0h.7M191.8 622.8h.7M201.5 599.3h.7M198.6 606.9h.7M191.9 601.1h.7M190.6 616.3h.7M205.8 605.3h.7M198.7 629.1h.7M206.4 611.4h.7M191.4 624.6h.7M198.8 604.7h.7M190.1 607.5h.7M190.3 620.2h.7M190.7 609.0h.7M195.4 604.1h.7M202.0 615.0h.7M202.3 627.8h.7M189.8 619.4h.7M203.3 620.6h.7M194.6 642.2h.7M190.6 623.5h.7M188.5 609.2h.7M191.4 616.9h.7M199.8 601.2h.7M198.2 611.2h.7M194.2 631.7h.7M203.8 620.6h.7M199.6 601.7h.7M194.1 606.8h.7M199.6 597.9h.7M193.0 640.8h.7M192.3 609.7h.7M199.3 601.0h.7M195.7 632.6h.7M208.9 615.9h.7M190.5 603.4h.7M187.5 604.5h.7M196.6 601.9h.7M206.1 612.6h.7M190.3 612.8h.7M195.1 619.6h.7M197.5 604.6h.7M184.5 608.4h.7M192.4 619.4h.7M188.0 629.3h.7M189.7 637.8h.7M200.9 628.3h.7M205.3 600.8h.7M199.1 611.0h.7M195.3 622.5h.7M192.2 604.5h.7M194.7 600.0h.7M186.2 614.2h.7M201.5 606.7h.7M198.1 610.2h.7M197.9 600.5h.7M196.8 618.9h.7M193.3 605.6h.7M193.5 600.6h.7M189.5 601.9h.7M192.0 599.8h.7M195.6 620.7h.7M205.8 623.1h.7M191.7 606.5h.7M200.5 605.7h.7M196.3 638.3h.7M198.7 624.1h.7M189.0 631.3h.7M194.4 621.0h.7M208.3 616.2h.7M200.3 617.5h.7M194.7 632.8h.7M192.5 640.0h.7M192.7 619.6h.7M200.7 616.7h.7M192.1 626.5h.7M189.9 624.1h.7M190.6 614.0h.7M201.7 608.3h.7M188.3 607.5h.7M197.4 633.5h.7M193.1 611.0h.7M195.7 611.9h.7M190.6 611.4h.7M202.6 601.5h.7M198.5 621.3h.7M201.2 614.9h.7M186.3 620.5h.7M199.1 631.7h.7M194.3 613.3h.7M197.6 616.6h.7M205.4 607.5h.7M188.3 625.8h.7M186.8 620.6h.7M201.1 627.8h.7M200.1 633.9h.7M192.2 600.5h.7M195.4 633.7h.7M198.3 601.1h.7M197.2 603.6h.7M198.6 633.3h.7M203.7 609.6h.7M199.4 622.2h.7M194.4 608.1h.7M204.3 634.8h.7M186.1 601.1h.7M205.6 615.1h.7M187.3 602.4h.7M206.2 612.2h.7M187.8 631.4h.7M192.7 618.7h.7M194.2 619.0h.7M204.9 624.3h.7M197.8 609.5h.7M200.1 601.0h.7M189.8 602.5h.7M201.4 609.7h.7M198.2 629.1h.7M206.1 615.4h.7M201.5 609.8h.7M202.4 616.2h.7M190.2 607.1h.7M186.2 625.3h.7M188.0 624.3h.7M206.7 606.3h.7M199.0 634.9h.7M189.8 601.2h.7M195.6 620.4h.7M200.5 611.8h.7M196.1 624.9h.7M200.6 625.3h.7M200.5 616.2h.7M202.2 618.6h.7M194.9 599.2h.7M190.7 598.2h.7M206.0 615.4h.7M205.0 618.8h.7M193.2 609.3h.7M201.7 622.5h.7M196.9 627.9h.7M204.7 619.6h.7M198.5 637.3h.7M202.9 614.5h.7M192.2 615.1h.7M202.5 615.7h.7M194.5 621.1h.7M192.7 620.6h.7M195.6 611.0h.7M193.7 622.6h.7M189.1 608.4h.7M196.4 614.4h.7M190.2 619.3h.7M197.4 626.8h.7M192.1 613.6h.7M190.5 619.7h.7M186.8 603.8h.7M192.4 614.6h.7M187.8 619.7h.7M199.7 637.4h.7M200.9 605.7h.7M197.7 617.0h.7M198.8 609.5h.7M205.0 622.2h.7M207.3 606.1h.7M204.6 625.0h.7M205.3 603.3h.7M190.4 634.7h.7M199.3 616.3h.7M200.2 612.8h.7M199.9 616.6h.7M199.8 618.6h.7M190.9 619.7h.7M209.7 627.6h.7M188.3 616.1h.7M187.9 608.4h.7M198.6 599.6h.7M196.1 609.7h.7M202.9 604.3h.7M189.3 626.3h.7M208.2 602.6h.7M203.8 609.9h.7M199.9 618.4h.7M205.9 632.5h.7M196.4 597.6h.7M192.9 614.1h.7M200.4 626.4h.7M193.4 597.1h.7M189.3 623.8h.7M206.0 614.4h.7M197.6 604.5h.7M186.0 610.5h.7M202.0 619.5h.7M207.2 633.0h.7M194.7 606.1h.7M193.9 634.0h.7M193.6 634.7h.7M193.2 598.8h.7M203.0 616.2h.7M191.0 622.3h.7M194.0 632.8h.7M198.6 623.9h.7M195.4 611.0h.7M202.8 610.2h.7M200.6 624.0h.7M191.0 606.8h.7M200.0 618.7h.7M185.5 616.2h.7M200.2 606.2h.7M206.6 642.0h.7M193.3 617.5h.7M188.9 640.2h.7M198.2 628.1h.7M205.3 627.7h.7M203.2 608.4h.7M191.7 609.3h.7M199.9 616.5h.7M202.7 614.2h.7M201.0 601.7h.7M199.6 641.3h.7M192.1 642.7h.7M187.1 622.5h.7M203.5 617.6h.7M193.8 612.5h.7M190.3 603.7h.7M190.8 620.4h.7M204.8 615.2h.7M195.1 622.3h.7M194.7 626.6h.7M189.2 640.3h.7M204.4 615.2h.7M194.4 618.2h.7M198.9 612.7h.7M204.6 619.4h.7M188.4 604.0h.7M199.5 634.1h.7M205.2 621.6h.7M205.9 600.7h.7M204.9 615.7h.7M192.6 629.3h.7M193.8 623.2h.7M187.7 608.6h.7M205.4 622.9h.7M187.8 619.4h.7M183.7 608.6h.7M188.4 619.5h.7M193.1 602.3h.7M205.5 611.1h.7M198.8 601.2h.7M198.8 626.4h.7M186.5 627.4h.7M201.6 610.5h.7M203.9 617.6h.7M189.4 632.4h.7M202.5 597.6h.7M196.0 614.8h.7M194.2 621.8h.7M203.0 622.2h.7M186.9 610.2h.7M199.9 607.3h.7M193.2 627.2h.7M194.2 608.5h.7M197.1 617.7h.7M193.5 613.4h.7M204.4 625.8h.7M191.7 607.8h.7M200.3 619.2h.7M194.7 618.1h.7M187.1 603.3h.7M205.5 619.1h.7M196.3 626.6h.7M199.5 619.8h.7M197.3 607.5h.7M203.1 608.2h.7M206.3 600.1h.7M197.4 602.3h.7M203.5 619.2h.7M197.5 615.5h.7M209.3 614.8h.7M187.9 644.0h.7M198.4 615.9h.7M197.4 624.0h.7M188.6 600.3h.7M185.9 611.2h.7M199.5 607.9h.7M188.2 617.0h.7M206.1 602.7h.7M209.5 607.3h.7M190.5 607.2h.7M193.5 618.0h.7M205.0 600.6h.7M202.7 617.1h.7M201.3 620.8h.7M196.6 616.5h.7M202.6 628.7h.7M191.3 616.1h.7M203.5 617.5h.7M193.7 617.9h.7M193.4 625.6h.7M203.4 620.5h.7M193.5 615.8h.7M194.3 623.3h.7M194.5 606.3h.7M193.3 624.7h.7M184.8 601.7h.7M197.9 630.5h.7M202.8 608.4h.7M204.7 612.6h.7M191.9 612.5h.7M191.7 621.2h.7M198.0 610.0h.7M198.4 622.7h.7M196.1 619.3h.7M205.6 601.9h.7M196.4 629.5h.7M188.7 636.8h.7M198.0 605.4h.7M197.7 610.4h.7M206.7 601.3h.7M188.5 608.0h.7M197.2 612.8h.7M190.9 639.4h.7M196.0 600.1h.7M205.4 636.6h.7M193.2 614.9h.7M196.7 611.0h.7M199.1 609.7h.7M198.2 622.2h.7M198.1 610.9h.7M207.0 612.8h.7M203.4 613.2h.7M188.2 615.7h.7M197.0 618.3h.7M206.8 611.9h.7M201.1 606.1h.7M186.5 622.6h.7M192.1 616.8h.7M199.0 615.6h.7M204.2 614.3h.7M201.4 606.4h.7M201.5 603.2h.7M197.8 609.6h.7M194.3 604.4h.7M205.6 601.0h.7M192.1 625.3h.7M191.6 612.7h.7M196.4 605.2h.7M204.7 614.5h.7M199.2 631.4h.7M197.8 627.5h.7M200.6 613.4h.7M192.1 618.9h.7M191.2 607.4h.7M197.9 609.5h.7M187.1 611.9h.7M201.8 608.8h.7M202.8 620.9h.7M196.5 601.7h.7M190.2 621.1h.7M189.4 603.9h.7M191.3 616.5h.7M202.8 629.2h.7M199.8 634.9h.7M185.1 598.3h.7M190.4 622.3h.7M203.4 631.6h.7M199.8 615.3h.7M190.4 630.8h.7M195.4 605.9h.7M192.5 615.3h.7M203.9 641.0h.7M201.0 623.7h.7M207.3 625.9h.7M198.8 613.4h.7M192.7 612.9h.7M198.5 625.5h.7M202.5 616.1h.7M205.8 634.3h.7M191.6 606.5h.7M204.0 605.1h.7M199.1 620.3h.7M194.2 598.5h.7M201.7 622.2h.7M205.9 631.5h.7M205.5 636.0h.7M202.1 601.4h.7M202.0 610.9h.7M204.1 624.7h.7M193.2 610.3h.7M198.0 620.5h.7M195.3 614.1h.7M206.7 622.3h.7M191.1 607.9h.7M190.7 620.7h.7M202.2 616.3h.7M185.9 611.9h.7M197.5 604.4h.7M190.0 613.1h.7M195.8 619.2h.7M205.2 612.6h.7M197.5 622.8h.7M193.2 620.9h.7M196.1 602.2h.7M196.4 615.9h.7M192.4 627.3h.7M187.7 622.3h.7M205.1 612.0h.7M191.0 600.1h.7M203.8 616.8h.7M193.9 617.8h.7M191.0 628.5h.7M190.4 614.5h.7M191.8 615.7h.7M188.8 619.4h.7M203.6 631.0h.7M204.2 626.5h.7M197.2 637.4h.7M195.3 609.8h.7M190.8 627.3h.7M201.7 618.2h.7M204.7 632.7h.7M207.1 610.1h.7M201.3 623.9h.7M202.1 623.3h.7M196.4 605.5h.7M195.7 615.7h.7M194.2 613.1h.7M201.3 610.1h.7M204.7 607.6h.7M196.1 599.6h.7M192.5 620.0h.7M197.1 616.4h.7M202.2 617.1h.7M201.9 614.1h.7M190.3 619.2h.7M201.3 608.0h.7M189.4 604.9h.7M186.3 619.9h.7M191.6 619.4h.7M205.1 621.4h.7M200.7 620.0h.7M199.4 601.7h.7M189.2 602.3h.7M198.9 607.3h.7M202.4 636.2h.7M203.8 622.2h.7M191.1 602.9h.7M203.7 626.6h.7M191.3 623.9h.7M190.9 610.3h.7M200.3 623.2h.7M186.1 617.4h.7M204.8 615.6h.7M207.3 618.7h.7M193.7 628.9h.7M196.4 623.1h.7M201.9 608.7h.7M197.3 631.0h.7M201.0 640.4h.7M199.8 603.2h.7M204.4 628.6h.7M197.8 598.9h.7M191.9 629.7h.7M200.3 612.9h.7M186.9 628.6h.7M205.2 622.4h.7M193.3 606.7h.7M197.1 604.6h.7M202.8 601.6h.7M189.3 603.5h.7M205.2 616.5h.7M200.1 611.4h.7M191.3 621.3h.7M193.3 610.3h.7M205.0 622.8h.7M205.5 620.5h.7M199.6 610.8h.7M200.3 601.8h.7M197.6 623.1h.7M187.9 615.1h.7M189.2 606.4h.7M185.6 611.2h.7M202.5 633.4h.7M186.8 627.4h.7M198.7 613.2h.7M188.3 623.3h.7M199.2 598.4h.7M193.9 610.3h.7M186.6 610.8h.7M200.7 600.0h.7M198.1 629.5h.7M197.6 611.2h.7M200.5 630.3h.7M199.8 597.3h.7M203.2 626.1h.7M194.9 624.7h.7M189.2 603.5h.7M194.9 619.0h.7M194.0 618.5h.7M197.1 623.2h.7M204.7 610.7h.7M199.4 605.2h.7M203.4 603.8h.7M187.9 617.5h.7M208.4 608.6h.7M192.5 615.3h.7M204.7 612.4h.7M203.3 617.2h.7M206.8 630.7h.7M201.1 619.2h.7M194.1 612.2h.7M197.3 625.8h.7M197.5 609.5h.7M201.4 627.5h.7M195.5 609.7h.7M196.5 603.8h.7M193.6 621.2h.7M212.3 621.6h.7M195.4 617.4h.7M190.7 626.3h.7M197.1 617.0h.7M194.5 618.4h.7M192.2 627.2h.7M196.6 647.1h.7M205.0 620.2h.7M205.5 641.5h.7M195.2 618.0h.7M198.3 630.8h.7M194.9 622.1h.7M202.8 620.9h.7M202.4 617.2h.7M192.4 613.9h.7M204.0 633.0h.7M195.4 625.8h.7M200.1 635.2h.7M201.0 599.4h.7M199.9 621.8h.7M204.7 634.9h.7M192.8 603.0h.7M203.7 603.9h.7M198.6 605.7h.7M195.2 614.3h.7M202.8 628.1h.7M205.9 614.9h.7M191.2 619.3h.7M202.9 597.5h.7M188.9 619.1h.7M189.6 619.5h.7M203.9 607.9h.7M196.4 618.5h.7M193.4 617.4h.7M196.6 623.1h.7M200.9 609.2h.7M189.1 615.8h.7M201.8 635.9h.7M198.9 606.3h.7M194.8 611.1h.7M190.6 609.4h.7M193.2 624.5h.7M199.2 605.3h.7M197.9 600.4h.7M202.7 607.0h.7M191.8 599.2h.7M194.3 618.8h.7M193.8 637.1h.7M197.2 623.2h.7M203.5 622.0h.7M188.0 620.9h.7M187.2 611.9h.7M198.4 597.8h.7M192.3 603.8h.7M202.3 626.0h.7M200.6 599.3h.7M192.1 635.3h.7M203.2 602.7h.7M204.5 610.9h.7M188.0 605.6h.7M197.6 601.8h.7M189.8 610.3h.7M204.5 613.2h.7M191.6 612.5h.7M198.1 620.3h.7M193.0 617.2h.7M201.0 630.6h.7M186.4 610.9h.7M188.4 605.2h.7M193.0 607.8h.7M197.8 614.2h.7M191.6 628.9h.7M195.1 617.5h.7M190.0 611.2h.7M209.4 617.7h.7M194.9 601.8h.7M202.3 610.8h.7M190.1 607.8h.7M194.0 603.7h.7M199.7 622.4h.7M195.9 605.9h.7M196.1 608.2h.7M205.5 602.6h.7M197.9 618.9h.7M202.1 603.1h.7M192.1 639.3h.7M200.8 603.8h.7M189.5 625.4h.7M189.9 621.7h.7M199.3 625.6h.7M198.8 617.5h.7M195.6 604.0h.7M188.1 640.5h.7M199.4 618.0h.7M205.8 603.2h.7M205.2 630.4h.7M187.9 615.0h.7M191.8 607.7h.7M196.8 623.1h.7M199.2 616.6h.7M200.7 622.7h.7M204.4 615.4h.7M186.8 627.5h.7M200.7 620.7h.7M207.7 611.6h.7M206.7 616.0h.7M197.4 628.0h.7M193.7 615.6h.7M206.8 607.8h.7M203.3 617.4h.7M188.3 622.2h.7M193.4 621.2h.7M206.3 600.6h.7M197.8 603.0h.7M188.4 612.5h.7M207.8 625.2h.7M197.1 618.1h.7M198.9 633.3h.7M202.0 633.7h.7M189.0 624.9h.7M198.3 617.9h.7M194.4 614.0h.7M195.4 606.0h.7M202.0 618.1h.7M200.7 603.1h.7M200.5 625.8h.7M197.9 629.3h.7M211.2 613.5h.7M184.5 607.5h.7M200.7 617.3h.7M190.7 617.3h.7M186.5 616.4h.7M192.1 601.1h.7M187.4 626.6h.7M198.5 616.0h.7M194.9 623.9h.7M208.1 611.4h.7M195.2 604.6h.7M196.0 617.1h.7M204.7 626.9h.7M197.2 602.4h.7M184.7 621.1h.7M188.4 621.5h.7M193.0 614.5h.7M195.2 615.6h.7M199.5 612.3h.7M202.8 621.2h.7M195.0 629.7h.7M198.0 624.0h.7M202.5 629.1h.7M193.3 625.9h.7M206.6 614.4h.7M195.8 608.6h.7M187.1 601.9h.7M188.1 608.7h.7M191.5 619.1h.7M200.7 613.9h.7M192.7 614.8h.7M195.5 625.1h.7M203.8 626.1h.7M199.0 612.9h.7M202.7 614.3h.7M193.6 598.6h.7M191.4 628.1h.7M189.5 613.5h.7M193.5 615.6h.7M195.6 613.3h.7M189.1 623.8h.7M201.3 615.6h.7M197.3 621.0h.7M193.0 609.2h.7M191.9 625.2h.7M204.7 602.7h.7M187.4 613.8h.7M193.5 617.8h.7M195.2 611.8h.7M200.1 625.5h.7M206.5 619.9h.7M186.2 618.4h.7M198.9 617.8h.7M202.6 621.0h.7M183.6 622.2h.7M187.8 604.8h.7M192.7 615.3h.7M200.8 612.5h.7M202.8 611.8h.7M200.5 616.4h.7M201.0 615.7h.7M198.1 600.8h.7M201.0 612.7h.7M185.9 626.9h.7M206.0 622.9h.7M186.3 608.8h.7M198.8 619.7h.7M199.4 600.5h.7M200.9 617.3h.7M191.5 632.9h.7M201.0 620.5h.7M190.5 605.0h.7M197.6 619.5h.7M187.0 614.2h.7M193.2 609.3h.7M204.1 607.2h.7M190.0 610.6h.7M190.8 627.0h.7M208.0 619.7h.7M195.7 636.0h.7M197.8 630.1h.7M200.3 616.3h.7M205.2 622.9h.7M205.6 604.3h.7M192.7 615.7h.7M199.5 609.9h.7M192.4 604.1h.7M202.7 626.7h.7M206.5 608.1h.7M201.6 619.4h.7M201.7 611.9h.7M202.9 626.0h.7M200.3 620.5h.7M205.0 597.7h.7M193.3 619.4h.7M192.7 645.8h.7M208.0 623.7h.7M189.8 628.2h.7M193.7 622.1h.7M192.1 633.5h.7M203.6 609.3h.7M201.7 608.2h.7M186.8 610.7h.7M193.5 600.0h.7M194.6 604.4h.7M204.6 628.6h.7M195.7 608.0h.7M203.2 607.6h.7M205.9 630.1h.7M202.8 621.8h.7M188.0 610.0h.7M191.4 607.9h.7M188.6 613.2h.7M184.6 616.6h.7M204.9 627.6h.7M205.1 619.9h.7M202.7 605.4h.7M197.6 613.6h.7M198.8 600.2h.7M192.6 609.3h.7M185.3 634.5h.7M194.9 600.6h.7M200.1 610.0h.7M190.6 625.1h.7M203.5 618.1h.7M188.6 612.4h.7M191.9 607.1h.7M191.8 606.2h.7M205.8 623.6h.7M202.3 614.3h.7M187.1 619.3h.7M194.8 623.1h.7M191.5 599.1h.7M201.3 620.4h.7M185.8 626.4h.7M194.4 615.6h.7M188.1 624.6h.7M197.3 598.2h.7M191.9 611.9h.7M207.0 609.6h.7M201.2 609.5h.7M195.3 621.0h.7M201.0 609.7h.7M209.3 627.1h.7M194.5 611.4h.7M196.1 602.7h.7M197.7 618.9h.7M193.2 600.2h.7M189.6 625.0h.7M204.9 606.8h.7M197.7 630.8h.7M191.3 619.2h.7M188.2 601.5h.7M206.2 613.7h.7M193.7 613.8h.7M194.1 621.8h.7M205.9 599.4h.7M189.5 625.1h.7M191.6 604.5h.7M187.0 612.8h.7M196.7 606.4h.7M205.3 615.9h.7M190.1 632.8h.7M195.1 613.7h.7M205.4 634.3h.7M197.7 638.4h.7M188.5 638.0h.7M189.7 617.9h.7M205.8 630.7h.7M195.7 630.5h.7M207.7 630.1h.7M190.3 615.4h.7M191.8 630.5h.7M205.0 626.9h.7M191.1 618.9h.7M189.0 605.4h.7M197.2 622.8h.7M201.1 620.7h.7M186.7 599.6h.7M192.1 602.5h.7M190.6 629.5h.7M196.4 612.9h.7M205.6 624.6h.7M191.7 612.1h.7M185.6 600.8h.7M191.9 607.7h.7M196.3 621.4h.7M190.8 599.2h.7M187.9 639.7h.7M201.7 606.0h.7M196.4 617.5h.7M200.1 603.6h.7M194.2 598.4h.7M199.1 614.7h.7M206.5 607.2h.7M198.5 642.1h.7M205.4 612.4h.7M199.8 615.5h.7M193.6 605.2h.7M204.3 609.7h.7M188.9 606.2h.7M193.3 604.3h.7M205.4 617.9h.7M201.8 615.4h.7M196.4 614.5h.7M195.7 611.3h.7M204.7 633.7h.7M197.3 607.2h.7M192.0 609.6h.7M191.4 634.1h.7M196.2 618.9h.7M184.4 609.0h.7M198.5 605.9h.7M191.7 609.8h.7M195.0 611.9h.7M195.6 614.2h.7M204.0 632.4h.7M197.1 599.6h.7M193.5 616.7h.7M202.6 623.0h.7M197.8 623.3h.7M195.8 612.6h.7M205.7 606.8h.7M204.3 619.6h.7M186.9 623.0h.7M201.0 614.1h.7M191.8 610.8h.7M196.8 630.8h.7M194.6 612.6h.7M185.5 614.3h.7M193.3 631.2h.7M203.6 615.6h.7M191.2 615.6h.7M188.3 612.8h.7M186.6 633.3h.7M194.0 615.0h.7M188.0 631.8h.7M204.1 624.6h.7M202.7 616.3h.7M198.9 626.8h.7M202.9 608.9h.7M190.7 637.9h.7M191.1 606.9h.7M201.7 619.6h.7M194.6 626.4h.7M185.2 619.3h.7M191.5 629.7h.7M206.0 632.3h.7M197.8 602.7h.7M195.2 612.0h.7M194.8 621.7h.7M203.2 617.6h.7M196.2 613.2h.7M187.6 620.5h.7M203.2 606.3h.7M202.6 609.4h.7M189.8 629.2h.7M197.9 619.1h.7M193.0 631.9h.7M201.9 602.4h.7M187.9 600.8h.7M202.4 618.6h.7M193.8 633.9h.7M191.1 599.3h.7M202.1 614.3h.7M201.5 630.9h.7M194.2 603.2h.7M206.4 641.0h.7M196.0 602.0h.7M191.1 605.6h.7M192.4 621.3h.7M204.4 616.1h.7M195.1 615.7h.7M199.4 608.4h.7M187.8 610.1h.7M198.9 610.6h.7M186.4 619.6h.7M195.0 606.3h.7M193.1 623.1h.7M204.7 618.6h.7M191.2 614.2h.7M200.8 622.5h.7M198.3 606.5h.7M208.1 614.1h.7M194.9 617.7h.7M203.7 610.8h.7M200.9 616.0h.7M197.5 611.1h.7M197.9 602.8h.7M193.4 617.0h.7M196.7 611.1h.7M190.9 626.7h.7M193.7 610.1h.7M200.7 611.0h.7M192.8 615.7h.7M199.1 623.2h.7M201.5 609.2h.7M198.8 607.8h.7M201.2 607.2h.7M200.5 617.4h.7M204.7 605.5h.7M198.3 601.2h.7M202.8 611.8h.7M195.4 604.0h.7M194.8 610.9h.7M196.9 626.3h.7M197.2 613.8h.7M189.1 608.2h.7M207.4 629.2h.7M188.1 628.2h.7M197.3 602.0h.7M201.1 620.7h.7M201.8 617.9h.7M205.5 613.0h.7M201.1 636.8h.7M199.0 600.1h.7M205.2 615.2h.7M193.2 629.4h.7M203.5 612.8h.7M199.7 597.8h.7M192.7 627.9h.7M199.4 597.4h.7M195.3 621.1h.7M197.3 614.5h.7M197.4 602.7h.7M204.3 597.8h.7M196.9 601.0h.7M197.2 613.3h.7M197.3 615.3h.7M198.4 624.7h.7M205.7 621.8h.7M192.1 607.1h.7M202.2 624.1h.7M196.3 610.9h.7M201.6 623.4h.7M196.2 604.3h.7M190.5 607.3h.7M190.9 606.5h.7M203.5 617.2h.7M195.9 622.5h.7M191.6 617.9h.7M195.6 617.3h.7M203.6 603.2h.7M201.1 612.3h.7M197.0 598.7h.7M197.8 612.4h.7M198.5 611.6h.7M193.1 626.6h.7M197.2 623.8h.7M196.7 605.9h.7M203.9 623.7h.7M196.3 614.8h.7M200.3 600.9h.7M197.2 601.3h.7M197.7 611.0h.7M195.8 617.6h.7M196.5 620.9h.7M199.4 603.3h.7M196.6 613.6h.7M201.8 624.2h.7M197.2 616.0h.7M198.0 616.0h.7M193.5 607.6h.7M201.8 624.6h.7M199.4 610.9h.7M200.3 607.5h.7M206.0 601.2h.7M199.3 623.9h.7M196.5 605.2h.7M195.8 615.3h.7M203.3 613.2h.7M200.3 620.1h.7M199.6 618.9h.7M200.6 619.5h.7M194.6 608.2h.7M195.1 630.5h.7M197.5 609.9h.7M203.6 618.1h.7M196.7 623.5h.7M194.3 604.0h.7M194.5 625.5h.7M198.3 624.0h.7M193.2 597.7h.7M199.5 610.9h.7M189.6 615.6h.7M207.5 615.8h.7M192.1 607.4h.7M193.6 603.7h.7M196.1 609.0h.7M198.8 617.8h.7M200.2 613.6h.7M194.2 614.6h.7M199.2 643.7h.7M196.7 616.4h.7M201.4 620.3h.7M189.1 611.7h.7M191.5 621.4h.7M194.0 630.0h.7M202.6 622.6h.7M195.5 616.6h.7M193.9 611.7h.7M203.3 623.1h.7M197.8 605.8h.7M196.0 599.0h.7M190.6 609.8h.7M200.2 624.1h.7M205.9 612.9h.7M200.8 635.5h.7M201.5 627.4h.7M202.2 621.6h.7M203.7 603.4h.7M196.4 626.3h.7M195.3 625.1h.7M195.1 611.4h.7M194.9 622.5h.7M193.0 603.7h.7M200.8 617.0h.7M189.9 618.5h.7M203.7 615.0h.7M201.1 647.4h.7M198.2 610.2h.7M200.8 613.0h.7M193.2 610.9h.7M193.1 629.0h.7M193.0 629.8h.7M195.3 601.2h.7M197.0 628.5h.7M199.1 628.3h.7M202.3 616.9h.7M195.5 621.6h.7M199.1 609.2h.7M198.0 620.1h.7M199.9 625.2h.7M208.8 619.8h.7M202.2 620.6h.7M201.0 612.9h.7M195.6 609.8h.7M194.2 620.4h.7M192.5 613.0h.7M194.5 606.7h.7M201.7 615.6h.7M202.8 605.9h.7M196.0 615.0h.7M201.6 618.9h.7M204.6 602.6h.7M197.7 608.0h.7M206.2 600.2h.7M194.3 623.2h.7M194.2 597.7h.7M205.0 621.0h.7M195.7 605.1h.7M197.4 606.9h.7M195.3 620.5h.7M194.7 611.6h.7M195.1 620.6h.7M197.7 623.8h.7M192.6 608.0h.7M197.1 614.5h.7M196.3 632.2h.7M195.7 610.4h.7M192.1 610.0h.7M208.4 616.3h.7M194.2 622.6h.7M196.8 618.7h.7M192.9 608.3h.7M205.1 614.3h.7M199.3 617.8h.7M202.7 608.3h.7M193.5 612.4h.7M202.6 610.3h.7M203.2 599.0h.7M195.2 604.3h.7M189.1 632.8h.7M197.9 632.4h.7M200.8 603.9h.7M204.5 619.4h.7M207.7 620.9h.7M197.5 618.1h.7M197.4 604.1h.7M196.6 623.3h.7M193.7 622.8h.7M204.3 615.2h.7M196.7 621.0h.7M196.0 621.1h.7M201.2 613.1h.7M196.1 605.2h.7M197.7 603.6h.7M197.8 615.4h.7M196.8 618.0h.7M203.0 601.7h.7M198.1 605.8h.7M195.2 611.4h.7M203.2 624.3h.7M195.5 613.2h.7M197.3 611.5h.7M205.9 622.0h.7M189.8 617.4h.7M201.5 603.2h.7M205.3 621.5h.7M206.0 601.9h.7M196.9 606.8h.7M195.0 607.4h.7M192.1 614.3h.7M191.2 622.7h.7M194.5 616.0h.7M210.2 610.4h.7M204.8 633.0h.7M198.9 602.9h.7M192.6 597.6h.7M199.2 615.3h.7M194.9 627.2h.7M195.5 615.0h.7M202.8 621.7h.7M201.1 618.9h.7M199.9 624.7h.7M203.2 605.4h.7M200.7 614.2h.7M197.1 627.2h.7M199.2 616.8h.7M203.8 605.1h.7M195.9 611.3h.7M193.7 616.2h.7M194.1 616.4h.7M198.7 614.3h.7M200.8 611.0h.7M201.8 610.8h.7M198.5 613.3h.7M202.1 615.9h.7M194.4 631.3h.7M204.2 615.0h.7M201.6 606.3h.7M202.3 609.0h.7M201.7 615.2h.7M193.6 618.1h.7M198.3 610.0h.7M198.1 621.7h.7M199.6 609.9h.7M196.4 612.5h.7M191.2 606.9h.7M207.1 612.9h.7M204.9 611.9h.7M198.4 613.2h.7M190.7 603.8h.7M200.7 610.4h.7M199.9 616.2h.7M192.3 603.5h.7M194.0 598.2h.7M192.9 613.6h.7M203.3 625.5h.7M201.2 608.0h.7M193.8 628.0h.7M199.5 606.5h.7M193.6 633.8h.7M201.5 616.1h.7M199.1 611.9h.7M202.6 620.0h.7M205.1 598.2h.7M201.6 616.0h.7M202.5 619.0h.7M189.3 613.7h.7M205.4 620.5h.7M194.2 597.5h.7M204.0 614.8h.7M200.7 606.4h.7M203.3 611.8h.7M197.5 603.0h.7M199.0 616.9h.7M193.9 608.9h.7M200.6 602.5h.7M200.0 621.9h.7M198.4 601.3h.7M198.0 623.9h.7M198.6 602.0h.7M202.1 617.1h.7M204.8 626.9h.7M201.8 611.6h.7M197.6 607.9h.7M198.3 604.6h.7M193.8 622.8h.7M199.5 614.2h.7M205.8 607.2h.7M200.4 605.1h.7M196.3 614.4h.7M197.3 607.1h.7M196.8 622.1h.7M194.5 602.0h.7M205.3 601.4h.7M196.8 602.1h.7M194.0 622.7h.7M201.6 610.7h.7M205.2 609.2h.7M203.2 617.1h.7M203.1 613.5h.7M200.1 612.8h.7M186.7 633.5h.7M200.9 614.2h.7M197.8 607.6h.7M195.5 613.8h.7M202.4 616.1h.7M199.2 620.6h.7M195.1 622.7h.7M196.4 619.0h.7M195.5 622.0h.7M193.1 630.0h.7M196.2 609.6h.7M194.8 604.2h.7M197.0 600.3h.7M202.8 612.4h.7M188.7 613.8h.7M200.6 615.3h.7M195.6 612.0h.7M186.6 601.4h.7M188.0 600.9h.7M201.2 624.1h.7M204.9 607.7h.7M200.0 610.3h.7M199.8 614.9h.7M194.3 623.4h.7M195.9 607.8h.7M196.9 607.4h.7M190.2 612.1h.7M200.0 619.9h.7M196.7 628.1h.7M195.4 608.3h.7M187.3 628.2h.7M203.4 625.5h.7M191.1 619.8h.7M190.7 624.1h.7M197.6 609.8h.7M198.5 611.3h.7M205.4 623.7h.7M191.5 621.5h.7M187.1 630.2h.7M195.9 611.0h.7M198.0 634.0h.7M201.6 613.2h.7M200.9 610.1h.7M202.7 608.2h.7M196.4 610.6h.7M203.6 615.0h.7M197.2 599.9h.7M202.6 610.1h.7M199.5 611.1h.7M199.7 615.6h.7M190.6 597.9h.7M197.1 598.3h.7M201.3 613.7h.7M203.3 619.9h.7M201.1 607.6h.7M199.5 621.5h.7M202.8 615.8h.7M197.6 607.2h.7M196.7 609.0h.7M203.3 624.0h.7M197.4 608.1h.7M201.7 624.8h.7M201.1 602.5h.7M190.9 627.8h.7M202.4 609.3h.7M198.1 612.6h.7M198.5 604.9h.7M202.3 607.5h.7M193.1 623.8h.7M198.6 624.2h.7M199.6 621.9h.7M205.8 616.1h.7M203.1 608.5h.7M197.7 606.0h.7M190.5 619.3h.7M198.4 617.6h.7M191.8 616.0h.7M208.1 619.3h.7M192.5 619.7h.7M199.1 607.6h.7M194.5 615.2h.7M188.6 622.9h.7M201.6 618.3h.7M201.7 624.8h.7M191.8 615.2h.7M200.9 620.0h.7M196.4 613.0h.7M201.5 619.1h.7M206.5 598.0h.7M198.6 611.4h.7M199.6 614.3h.7M195.4 616.0h.7M192.4 604.2h.7M193.6 615.5h.7M201.8 624.4h.7M192.2 611.3h.7M203.5 613.8h.7M204.6 626.9h.7M196.0 609.6h.7M198.7 607.2h.7M198.2 611.2h.7M206.6 613.8h.7M195.6 613.7h.7M193.2 601.0h.7M197.4 617.9h.7M194.2 599.2h.7M201.4 609.4h.7M197.9 618.2h.7M202.5 609.0h.7M193.7 602.9h.7M194.0 614.7h.7M210.5 617.7h.7M195.6 612.0h.7M196.6 600.7h.7M198.2 616.7h.7M199.0 606.6h.7M198.2 607.4h.7M196.7 597.5h.7M201.6 610.8h.7M186.3 611.4h.7M201.3 640.0h.7M194.2 627.6h.7M193.9 622.5h.7M201.6 611.8h.7M193.2 604.5h.7M203.2 627.1h.7M197.2 611.8h.7M195.3 614.5h.7M196.1 623.2h.7M202.3 617.9h.7M193.9 600.8h.7M195.9 625.8h.7M201.8 612.5h.7M202.5 619.0h.7M194.3 627.2h.7M203.4 603.3h.7M196.9 621.2h.7M205.9 625.6h.7M194.0 609.3h.7M204.1 607.5h.7M199.7 610.9h.7M201.1 601.7h.7M192.4 605.1h.7M207.5 631.4h.7M206.7 608.5h.7M194.1 617.4h.7M196.9 603.6h.7M200.8 604.4h.7M203.6 616.1h.7M196.8 601.8h.7M198.2 613.7h.7M201.3 614.6h.7M198.2 601.9h.7M195.6 614.0h.7M200.4 611.2h.7M191.6 603.7h.7M196.1 618.8h.7M196.9 603.7h.7M197.7 612.1h.7M204.6 613.4h.7M195.7 613.2h.7M196.4 604.1h.7M195.4 610.0h.7M204.5 620.0h.7M199.6 604.1h.7M199.6 618.5h.7M191.0 598.3h.7M204.1 622.9h.7M198.6 622.7h.7M202.5 634.9h.7M185.7 616.7h.7M203.7 616.6h.7M195.2 601.7h.7M204.4 632.0h.7M189.3 603.7h.7M201.2 621.1h.7M195.7 600.7h.7M203.3 625.7h.7M189.7 613.9h.7M200.5 612.9h.7M204.5 616.4h.7M200.7 615.9h.7M191.8 633.7h.7M195.7 613.6h.7M204.3 620.0h.7M198.4 623.9h.7M197.6 600.6h.7M204.0 633.6h.7M203.0 623.6h.7M190.4 608.7h.7M187.6 622.9h.7M201.3 623.1h.7M194.5 611.5h.7M205.3 601.0h.7M200.4 622.9h.7M199.6 610.6h.7M199.4 618.2h.7M202.1 628.6h.7M191.6 613.4h.7M197.8 628.3h.7M193.0 629.6h.7M194.6 606.6h.7M192.1 612.2h.7M196.3 614.8h.7M197.6 620.0h.7M203.8 613.9h.7M198.2 609.1h.7M202.6 610.6h.7M203.5 603.3h.7M205.9 625.4h.7M192.7 620.9h.7M195.9 602.8h.7M196.0 614.9h.7M195.3 618.3h.7M203.9 600.8h.7M189.3 613.0h.7M199.2 614.5h.7M201.7 618.9h.7M189.4 613.5h.7M194.3 611.9h.7M191.8 618.1h.7M197.6 607.9h.7M191.6 628.0h.7M202.4 619.0h.7M195.0 605.2h.7M205.2 609.0h.7M202.2 631.6h.7M190.6 601.6h.7M200.2 598.9h.7M196.7 608.9h.7M202.4 601.6h.7M199.1 619.3h.7M193.2 604.4h.7M202.8 621.0h.7M191.1 600.1h.7M206.2 615.1h.7M195.5 614.5h.7M197.9 618.0h.7M205.6 626.6h.7M195.2 609.2h.7M196.7 628.7h.7M196.5 609.4h.7M203.8 624.8h.7M196.1 604.8h.7M199.1 618.5h.7M199.5 603.5h.7M197.2 618.9h.7M200.0 619.1h.7M194.5 610.0h.7M197.1 618.6h.7M200.4 609.7h.7M197.6 620.2h.7M197.8 600.3h.7M200.5 598.5h.7M194.5 632.8h.7M199.9 621.4h.7M201.1 621.0h.7M199.0 621.1h.7M198.9 606.1h.7M200.1 615.2h.7M202.7 624.5h.7M205.0 606.0h.7M200.0 629.7h.7M196.0 607.9h.7M196.4 608.7h.7M194.8 628.5h.7M196.1 615.0h.7M193.8 633.0h.7M193.8 602.2h.7M202.9 608.1h.7M199.1 628.5h.7M192.8 629.4h.7M199.1 609.3h.7M192.1 636.0h.7M196.3 597.1h.7M198.2 623.2h.7M202.4 611.7h.7M196.5 611.3h.7M192.8 617.7h.7M200.0 626.4h.7M193.8 629.1h.7M203.9 622.2h.7M197.5 620.3h.7M197.0 623.1h.7M198.4 607.0h.7M197.5 605.4h.7M201.9 611.8h.7M194.6 636.2h.7M198.7 625.6h.7M195.7 618.3h.7M196.0 620.2h.7M200.2 635.0h.7M188.1 614.7h.7M206.0 597.2h.7M202.6 614.6h.7M200.4 608.5h.7M196.3 597.4h.7M196.3 611.5h.7M194.9 628.1h.7M199.0 625.0h.7M200.2 604.5h.7M197.7 612.5h.7M196.4 622.3h.7M201.5 611.1h.7M200.8 606.2h.7M196.3 625.8h.7M203.6 622.4h.7M205.9 614.5h.7M197.4 616.8h.7M203.3 627.0h.7M198.7 613.8h.7M204.0 619.3h.7M199.6 607.7h.7M198.0 615.4h.7M199.7 614.5h.7M203.5 615.4h.7M197.6 611.3h.7M200.3 619.0h.7M201.2 619.1h.7M196.3 625.4h.7M201.9 620.4h.7M195.1 609.9h.7M202.9 622.8h.7M195.9 608.4h.7M201.1 626.0h.7M208.5 615.0h.7M200.5 606.4h.7M189.7 624.7h.7M200.1 607.8h.7M203.6 612.5h.7M196.1 606.8h.7M197.7 628.1h.7M196.4 632.0h.7M201.5 624.5h.7M198.6 602.7h.7M203.1 604.4h.7M203.7 622.2h.7M198.0 606.6h.7M195.2 619.7h.7M192.0 623.2h.7M200.5 605.8h.7M196.6 610.9h.7M209.5 603.1h.7M194.1 613.7h.7M200.3 609.5h.7M202.3 614.3h.7M195.6 608.3h.7M197.6 613.1h.7M200.3 625.1h.7M197.4 621.2h.7M202.3 609.2h.7M188.5 614.7h.7M199.7 625.6h.7M188.9 619.6h.7M197.6 617.5h.7M204.0 617.2h.7M201.4 617.0h.7M193.3 616.8h.7M196.8 617.4h.7M190.4 620.7h.7M199.7 612.8h.7M196.9 623.0h.7M200.2 620.8h.7M200.7 609.9h.7M200.1 621.8h.7M196.5 618.5h.7M199.3 625.8h.7M198.6 613.3h.7M195.4 609.0h.7M200.5 624.7h.7M191.0 609.6h.7M200.0 618.8h.7M195.1 605.7h.7M197.7 619.0h.7M200.8 609.9h.7M200.4 611.3h.7M197.2 621.8h.7M198.6 620.3h.7M201.0 610.5h.7M195.9 616.0h.7M198.4 627.6h.7M200.4 615.4h.7M193.8 611.0h.7M201.4 601.9h.7M192.7 619.3h.7M200.7 609.4h.7M198.4 609.9h.7M198.1 622.8h.7M202.2 634.3h.7M205.4 618.0h.7M197.9 623.5h.7M200.2 617.1h.7M202.3 614.8h.7M196.1 619.4h.7M197.3 608.7h.7M201.5 606.0h.7M192.9 631.7h.7M202.3 612.2h.7M200.0 614.8h.7M195.7 608.4h.7M193.3 618.6h.7M204.6 627.4h.7M199.6 627.7h.7M199.7 624.6h.7M205.6 611.3h.7M199.9 613.4h.7M196.2 616.4h.7M204.3 627.6h.7M196.7 615.0h.7M207.6 610.2h.7M198.6 633.0h.7M198.2 622.2h.7M198.8 601.6h.7M201.7 599.6h.7M192.3 626.4h.7M202.2 614.0h.7M203.4 626.0h.7M200.9 603.8h.7M194.2 624.6h.7M198.7 625.8h.7M194.8 620.5h.7M190.7 620.9h.7M200.7 625.0h.7M190.2 603.6h.7M195.7 618.8h.7M206.3 625.2h.7M192.7 610.3h.7M205.3 621.0h.7M192.9 620.3h.7M201.7 622.4h.7M199.2 618.5h.7M203.5 618.0h.7M203.9 622.6h.7M202.3 612.0h.7M202.2 623.5h.7M196.5 607.1h.7M201.1 621.0h.7M195.6 618.5h.7M208.4 597.4h.7M200.9 617.2h.7M199.4 614.4h.7M201.0 613.9h.7M196.8 621.8h.7M207.9 613.7h.7M202.4 625.6h.7M194.1 611.7h.7M195.5 613.0h.7M203.7 608.6h.7M204.9 633.5h.7M195.5 616.7h.7M202.5 604.9h.7M190.0 615.1h.7M194.9 615.2h.7M195.4 610.3h.7M196.0 615.6h.7M203.0 615.8h.7M201.0 604.3h.7M206.2 624.7h.7M206.3 614.5h.7M195.6 619.2h.7M193.8 614.2h.7M197.8 612.8h.7M191.7 621.9h.7M192.6 615.3h.7M197.9 597.3h.7M201.8 614.4h.7M206.8 630.3h.7M198.6 622.3h.7M197.8 630.2h.7M199.2 607.8h.7M197.5 615.9h.7M203.6 609.4h.7M198.9 620.4h.7M197.1 615.2h.7M202.8 618.8h.7M202.1 609.4h.7M192.1 606.3h.7M196.7 618.6h.7M196.7 607.2h.7M196.6 617.0h.7M196.6 624.0h.7M201.3 616.9h.7M195.7 629.5h.7M200.3 622.9h.7M201.1 610.6h.7M196.9 611.2h.7M202.4 618.5h.7M191.1 619.4h.7M191.4 608.9h.7M204.4 614.4h.7M201.6 611.6h.7M198.0 602.3h.7M194.0 613.2h.7M189.5 620.3h.7M201.6 604.4h.7M194.2 614.7h.7M198.4 606.2h.7M197.9 604.1h.7M191.0 620.7h.7M200.4 602.0h.7M198.5 615.1h.7M205.5 625.5h.7M205.1 610.8h.7M203.4 607.6h.7M193.8 633.4h.7M194.2 625.9h.7M196.1 608.2h.7M198.6 618.2h.7M194.8 604.2h.7M193.9 633.4h.7M189.8 603.3h.7M196.6 601.3h.7M201.8 605.2h.7M196.1 612.5h.7M194.3 616.6h.7M191.5 612.1h.7M202.0 622.4h.7M192.1 599.4h.7M207.6 621.6h.7M189.1 622.0h.7M199.6 618.0h.7M205.4 612.2h.7M201.2 609.3h.7M205.4 619.3h.7M204.2 617.8h.7M192.2 613.3h.7M198.0 616.3h.7M194.4 608.2h.7M195.5 602.5h.7M199.4 607.0h.7M204.5 608.4h.7M189.8 614.4h.7M203.6 624.1h.7M194.6 609.5h.7M196.6 617.5h.7M202.9 618.5h.7M192.8 611.6h.7M195.8 604.2h.7M198.9 602.6h.7M197.3 619.1h.7M202.0 630.1h.7M198.7 618.2h.7M200.8 607.8h.7M189.2 604.1h.7M189.7 614.0h.7M205.2 619.7h.7M208.7 616.6h.7M210.2 630.6h.7M201.7 630.1h.7M196.2 603.0h.7M200.7 628.0h.7M201.7 620.8h.7M198.8 608.7h.7M201.5 620.8h.7M196.4 625.9h.7M200.4 601.8h.7M196.6 614.7h.7M201.7 619.1h.7M201.8 616.4h.7M195.1 617.3h.7M196.8 619.6h.7M198.0 614.8h.7M190.7 617.0h.7M196.1 616.0h.7M196.7 630.6h.7M204.5 633.1h.7M195.9 618.5h.7M197.8 607.4h.7M201.0 607.4h.7M209.0 612.8h.7M201.8 610.4h.7M197.8 610.2h.7M204.9 623.9h.7M200.8 609.1h.7M198.9 619.7h.7M194.6 617.9h.7M190.4 608.7h.7M196.1 611.5h.7M206.7 601.1h.7M199.4 609.5h.7M193.6 607.9h.7M191.8 616.6h.7M200.2 603.0h.7M199.4 613.5h.7M185.8 612.0h.7M195.0 604.7h.7M201.0 604.2h.7M201.8 610.0h.7M199.1 607.6h.7M196.1 614.3h.7M196.4 618.1h.7M192.5 606.2h.7M191.6 627.3h.7M205.2 613.6h.7M199.9 609.8h.7M197.1 631.5h.7M199.8 613.3h.7M196.5 617.3h.7M201.1 608.5h.7M197.3 619.8h.7M198.9 609.3h.7M199.5 614.4h.7M197.5 609.3h.7M200.1 609.1h.7M193.1 606.3h.7M197.8 606.7h.7M192.5 622.3h.7M191.5 606.2h.7M202.9 607.3h.7M196.2 600.0h.7M201.8 608.9h.7M200.8 608.8h.7M192.1 606.8h.7M204.4 615.3h.7M197.3 624.3h.7M190.5 610.1h.7M202.5 605.1h.7M200.0 610.1h.7M204.6 618.9h.7M199.3 611.2h.7M195.4 601.2h.7M197.3 616.5h.7M207.8 616.8h.7M205.4 604.2h.7M195.2 617.0h.7M195.0 621.1h.7M202.3 612.2h.7M196.2 611.2h.7M194.4 628.2h.7M198.4 627.4h.7M194.0 630.9h.7M196.3 612.7h.7M201.1 623.6h.7M205.2 614.9h.7M193.8 627.7h.7M197.7 603.4h.7M192.5 610.1h.7M188.1 611.1h.7M195.9 626.9h.7M202.0 612.0h.7M187.6 603.3h.7M196.1 619.3h.7M190.3 610.4h.7M191.5 626.0h.7M196.2 604.5h.7M198.8 606.6h.7M195.9 613.9h.7M195.5 607.9h.7M205.6 613.8h.7M195.3 627.5h.7M200.5 625.8h.7M195.5 612.3h.7M200.5 619.9h.7M196.5 631.5h.7M193.3 618.9h.7M197.3 611.5h.7M197.7 634.6h.7M195.3 597.1h.7M203.5 616.6h.7M200.4 620.2h.7M207.1 607.0h.7M196.9 620.7h.7M197.2 615.7h.7M192.5 608.6h.7M209.3 624.5h.7M205.7 628.4h.7M194.3 614.3h.7M194.2 618.7h.7M197.1 618.3h.7M196.1 615.1h.7M194.5 608.8h.7M194.8 611.4h.7M200.5 623.7h.7M194.3 620.9h.7M194.4 626.8h.7M198.3 606.1h.7M197.7 621.0h.7M198.5 618.3h.7M198.2 633.8h.7M203.2 616.4h.7M200.4 634.4h.7M200.1 616.0h.7M194.0 622.7h.7M195.7 612.4h.7M208.9 606.3h.7M203.2 609.8h.7M191.6 607.8h.7M195.5 612.5h.7M196.7 609.8h.7M197.3 623.5h.7M202.0 606.6h.7M198.6 609.7h.7M203.5 600.6h.7M200.9 620.1h.7M196.7 609.4h.7M199.9 600.1h.7M195.1 600.8h.7M200.4 604.5h.7M195.5 622.8h.7M200.2 625.5h.7M206.4 617.5h.7M192.0 621.3h.7M200.6 617.4h.7M200.7 621.7h.7M201.3 616.4h.7M200.8 616.4h.7M198.9 614.3h.7M197.2 615.7h.7M201.7 612.8h.7M197.9 629.3h.7M206.8 615.2h.7M195.1 627.0h.7M191.3 627.8h.7M204.3 609.5h.7M197.8 604.5h.7M199.3 603.9h.7M192.0 615.4h.7M195.5 612.7h.7M197.0 606.8h.7M199.2 605.3h.7M200.5 608.6h.7M203.8 609.3h.7M201.3 621.5h.7M197.8 602.3h.7M201.6 601.9h.7M200.1 599.9h.7M196.3 612.2h.7M195.5 615.4h.7M200.8 614.5h.7M199.1 625.5h.7M201.6 616.8h.7M195.7 603.2h.7M195.3 621.6h.7M198.7 619.8h.7M196.7 598.6h.7M198.5 617.1h.7M192.2 623.1h.7M199.6 611.6h.7M193.5 604.8h.7M196.6 621.1h.7M197.6 598.0h.7M190.1 615.3h.7M196.8 620.8h.7M200.4 621.0h.7M203.5 621.2h.7M201.4 621.3h.7M200.7 602.6h.7M200.4 623.0h.7M200.3 610.4h.7M188.8 605.9h.7M206.7 614.3h.7M202.9 612.0h.7M193.0 625.6h.7M200.7 624.6h.7M198.8 603.3h.7M205.1 610.9h.7M199.9 616.7h.7M202.4 618.1h.7M204.7 612.8h.7M203.3 628.1h.7M197.2 603.9h.7M197.9 625.4h.7M199.9 623.0h.7M194.3 601.1h.7M189.6 611.2h.7M203.4 618.9h.7M200.3 618.2h.7M196.8 628.4h.7M202.0 619.4h.7M188.4 622.9h.7M203.7 613.2h.7M190.6 622.2h.7M196.3 611.0h.7M196.7 611.4h.7M193.5 617.0h.7M204.2 613.2h.7M193.0 610.3h.7M197.4 611.4h.7M199.8 612.6h.7M198.2 613.9h.7M192.7 617.2h.7M202.7 616.4h.7M199.0 638.9h.7M200.1 632.7h.7M194.8 606.0h.7M191.5 604.1h.7M193.9 612.8h.7M199.3 610.4h.7M198.3 607.1h.7M194.0 604.2h.7M196.3 625.0h.7M187.1 619.5h.7M201.4 609.7h.7M200.9 626.4h.7M194.9 616.0h.7M196.0 611.0h.7M198.0 613.0h.7M195.3 608.9h.7M203.7 627.5h.7M199.9 621.5h.7M196.8 609.5h.7M199.3 624.0h.7M199.4 601.7h.7M202.7 633.2h.7M200.1 598.7h.7M199.4 631.5h.7M197.2 617.4h.7M197.1 617.9h.7M188.6 606.8h.7M196.6 618.1h.7M198.9 606.1h.7M196.8 602.7h.7M194.2 608.6h.7M199.7 629.0h.7M196.8 608.8h.7M201.4 622.4h.7M194.1 608.6h.7M206.4 614.2h.7M196.1 607.4h.7M205.9 612.7h.7M194.7 617.0h.7M206.6 604.5h.7M190.0 628.0h.7M198.5 624.1h.7M202.3 602.3h.7M191.1 624.9h.7M195.6 617.0h.7M193.3 620.8h.7M194.7 604.5h.7M203.4 619.9h.7M197.7 623.5h.7M192.3 623.0h.7M205.0 619.8h.7M197.1 605.7h.7M198.9 603.8h.7M199.3 611.0h.7M197.5 616.0h.7M194.0 613.8h.7M198.8 599.6h.7M205.3 611.6h.7M197.5 622.5h.7M207.1 628.4h.7M196.1 618.7h.7M200.8 604.9h.7M199.3 616.6h.7M196.8 604.4h.7M204.7 604.8h.7M193.7 605.9h.7M198.9 616.2h.7M200.1 610.3h.7M197.9 606.3h.7M195.0 607.6h.7M193.2 632.2h.7M198.3 613.8h.7M196.6 611.3h.7M205.8 629.9h.7M196.2 612.8h.7M207.1 603.5h.7M198.7 620.3h.7M195.5 622.5h.7M191.8 620.3h.7M205.4 603.4h.7M200.8 628.3h.7M196.4 614.3h.7M198.0 601.3h.7M198.2 629.4h.7M197.9 625.9h.7M184.6 612.3h.7M187.4 603.2h.7M199.5 626.5h.7M196.3 627.2h.7M198.0 611.5h.7M191.5 602.6h.7M195.0 612.6h.7M206.5 629.6h.7M203.4 614.7h.7M200.6 625.4h.7M191.8 612.6h.7M202.2 604.4h.7M205.9 618.2h.7M200.0 616.2h.7M196.4 618.0h.7M196.5 608.9h.7M197.9 625.7h.7M193.6 620.9h.7M203.2 612.4h.7M196.5 618.7h.7M195.5 598.7h.7M205.1 601.1h.7M195.5 606.9h.7M197.6 621.6h.7M196.1 610.8h.7M199.7 608.0h.7M200.6 625.0h.7M200.6 630.6h.7M201.4 619.4h.7M186.0 608.7h.7M202.8 602.5h.7M197.3 621.2h.7M203.5 615.4h.7M198.3 617.3h.7M188.9 615.6h.7M194.3 610.9h.7M197.2 617.8h.7M200.1 600.7h.7M194.5 604.1h.7M200.0 621.9h.7M200.6 618.3h.7M205.9 612.8h.7M197.7 622.3h.7M191.9 602.6h.7M198.6 630.6h.7M194.0 614.4h.7M194.9 620.0h.7M200.3 614.4h.7M195.5 610.3h.7M190.4 603.8h.7M205.2 604.8h.7M200.4 627.7h.7M185.5 600.2h.7M194.3 613.6h.7M203.5 630.7h.7M196.4 626.2h.7M197.4 610.5h.7M202.8 605.8h.7M192.3 624.3h.7M199.7 614.1h.7M201.1 630.7h.7M198.4 619.3h.7M199.5 625.1h.7M202.2 622.9h.7M189.4 611.8h.7M202.7 626.9h.7M195.6 637.3h.7M200.9 615.1h.7M200.8 619.3h.7M202.6 605.3h.7M201.6 618.8h.7M212.5 618.3h.7M197.8 608.5h.7M199.5 612.2h.7M192.1 602.8h.7M197.4 610.7h.7M205.6 622.8h.7M198.9 623.2h.7M197.3 604.4h.7M190.6 614.8h.7M200.9 623.4h.7M186.6 605.9h.7M198.5 612.0h.7M188.8 613.3h.7M196.6 622.4h.7M193.2 628.3h.7M193.5 629.4h.7M198.3 622.4h.7M197.2 603.2h.7M204.5 610.5h.7M203.4 605.9h.7M194.3 612.8h.7M204.6 609.6h.7M209.2 614.6h.7M205.9 601.2h.7M197.1 622.7h.7M204.5 611.1h.7M209.2 605.5h.7M200.1 628.2h.7M203.3 617.7h.7M204.0 608.6h.7M203.1 602.0h.7M194.3 624.2h.7M203.0 612.8h.7M193.9 612.7h.7M195.8 628.6h.7M209.9 606.8h.7M200.6 618.5h.7M201.5 618.0h.7M196.4 608.8h.7M197.0 602.9h.7M196.2 610.5h.7M201.0 617.4h.7M193.7 603.3h.7M191.1 609.0h.7M195.8 609.1h.7M202.0 615.7h.7M202.6 616.9h.7M200.6 623.1h.7M203.3 637.2h.7M198.5 609.8h.7M190.5 623.6h.7M206.7 614.9h.7M197.2 606.0h.7M202.2 607.0h.7M201.0 630.2h.7M190.7 610.9h.7M194.2 605.1h.7M202.9 622.5h.7M201.3 618.7h.7M196.8 616.3h.7M202.4 622.0h.7M196.9 618.4h.7M195.7 601.2h.7M207.5 614.8h.7M198.6 607.7h.7M199.2 609.7h.7M202.0 627.6h.7M196.3 606.9h.7M198.4 615.6h.7M196.8 601.5h.7M200.1 615.3h.7M198.3 608.8h.7M198.7 612.4h.7M194.7 615.2h.7M197.7 617.5h.7M197.6 618.4h.7M191.5 614.0h.7M191.2 628.6h.7M198.3 618.7h.7M197.3 616.4h.7M199.6 611.3h.7M191.5 606.6h.7M199.8 619.9h.7M196.7 607.5h.7M198.1 608.5h.7M192.9 622.1h.7M199.3 635.0h.7M193.8 625.5h.7M199.7 629.5h.7M205.7 605.5h.7M195.3 609.7h.7M210.0 620.0h.7M193.3 598.6h.7M200.8 616.9h.7M196.6 616.8h.7M190.8 615.6h.7M200.4 617.9h.7M195.6 616.1h.7M187.6 621.8h.7M193.7 620.6h.7M194.6 618.8h.7M205.0 635.1h.7M197.5 629.7h.7M187.2 619.5h.7M204.5 612.0h.7M198.3 607.7h.7M195.0 624.8h.7M197.6 608.6h.7M201.3 608.4h.7M200.0 610.2h.7M200.3 612.1h.7M190.6 623.2h.7M202.4 614.7h.7M196.3 625.5h.7M194.3 617.5h.7M201.1 619.9h.7M197.7 610.7h.7M207.4 606.6h.7M190.2 600.4h.7M198.6 606.6h.7M202.1 624.0h.7M190.0 597.7h.7M197.1 615.5h.7M192.5 609.2h.7M189.7 619.6h.7M204.7 615.7h.7M200.3 619.4h.7M204.2 623.7h.7M201.8 622.3h.7M192.6 619.1h.7M195.4 618.9h.7M199.1 615.3h.7M201.5 616.8h.7M197.5 631.9h.7M199.5 619.3h.7M197.7 609.6h.7M195.4 615.5h.7M199.0 620.5h.7M196.9 625.9h.7M192.0 610.3h.7M199.2 618.9h.7M200.4 611.6h.7M206.2 602.6h.7M196.5 607.9h.7M199.2 617.3h.7M198.7 618.2h.7M198.5 625.4h.7M196.0 609.5h.7M201.0 617.2h.7M200.5 614.2h.7M192.4 616.8h.7M195.2 620.6h.7M200.1 614.8h.7M196.5 622.7h.7M198.3 601.3h.7M203.0 631.0h.7M202.9 617.3h.7M195.0 611.4h.7M202.0 621.9h.7M199.2 623.4h.7M207.1 615.0h.7M201.8 619.3h.7M201.7 626.1h.7M196.0 605.0h.7M196.6 609.2h.7M195.6 620.9h.7M202.7 606.3h.7M198.1 613.0h.7M193.3 614.5h.7M202.7 614.1h.7M200.8 608.8h.7M198.9 600.1h.7M195.0 606.1h.7M193.7 615.0h.7M197.4 612.8h.7M203.7 618.2h.7M200.2 619.7h.7M199.4 623.7h.7M200.9 610.8h.7M197.4 619.8h.7M195.1 614.2h.7M198.4 612.0h.7M198.0 618.0h.7M203.3 630.1h.7M200.6 620.3h.7M202.8 600.2h.7M192.9 620.9h.7M200.4 609.7h.7M201.9 608.1h.7M193.3 617.2h.7M200.3 620.2h.7M211.1 610.2h.7M202.4 609.1h.7M198.1 614.1h.7M205.6 612.1h.7M204.4 615.2h.7M203.6 611.3h.7M193.3 606.9h.7M203.7 606.7h.7M201.0 624.0h.7M190.7 626.6h.7M199.9 616.4h.7M198.8 622.7h.7M196.7 622.3h.7M199.5 618.8h.7M196.4 625.5h.7M201.7 608.6h.7M198.9 611.9h.7M200.6 621.4h.7M190.6 618.5h.7M203.4 618.4h.7M198.3 621.1h.7M194.5 609.4h.7M195.6 604.6h.7M200.0 616.7h.7M200.4 621.9h.7M196.7 614.5h.7M193.2 605.4h.7M192.1 622.5h.7M200.0 605.0h.7M196.6 604.2h.7M189.5 622.6h.7M200.1 627.7h.7M198.1 613.1h.7M195.8 607.6h.7M196.3 606.9h.7M196.9 616.2h.7M196.0 629.8h.7M197.0 624.1h.7M206.4 610.1h.7M204.3 619.0h.7M193.9 610.9h.7M185.6 607.8h.7M200.0 608.1h.7M198.2 611.2h.7M196.7 612.8h.7M196.6 611.0h.7M201.4 633.1h.7M195.7 614.1h.7M197.0 609.1h.7M200.2 615.2h.7M204.8 624.0h.7M196.1 601.0h.7M199.9 621.7h.7M201.5 615.1h.7M198.3 613.7h.7M197.5 615.6h.7M200.8 611.1h.7M192.7 617.2h.7M195.5 616.0h.7M196.6 599.0h.7M197.5 613.6h.7M202.0 619.0h.7M200.0 616.8h.7M203.9 605.6h.7M206.0 628.2h.7M199.7 607.8h.7M205.1 611.8h.7M199.6 614.3h.7M199.9 610.9h.7M201.0 616.4h.7M197.3 620.8h.7M200.9 610.8h.7M197.3 620.2h.7M192.3 616.7h.7M199.5 602.9h.7M196.7 627.3h.7M201.9 606.3h.7M197.7 611.3h.7M195.8 608.1h.7M198.3 611.0h.7M205.8 630.5h.7M199.7 612.8h.7M192.4 608.7h.7M195.8 616.3h.7M206.7 610.9h.7M205.4 616.4h.7M200.3 614.2h.7M187.5 607.7h.7M197.6 619.1h.7M194.7 611.1h.7M193.6 612.0h.7M195.3 621.2h.7M194.8 605.8h.7M198.2 624.3h.7M198.7 613.6h.7M201.5 614.7h.7M202.1 621.1h.7M198.8 599.8h.7M200.1 620.0h.7M203.7 608.1h.7M194.8 616.5h.7M198.5 615.4h.7M196.2 613.8h.7M203.3 610.0h.7M190.6 599.6h.7M198.2 599.4h.7M196.7 604.1h.7M196.6 609.3h.7M206.4 617.0h.7M204.4 602.3h.7M197.2 604.3h.7M200.9 627.1h.7M198.8 598.9h.7M197.6 622.9h.7M205.1 610.4h.7M198.1 604.2h.7M190.7 609.9h.7M204.1 607.0h.7M200.5 615.8h.7M196.2 607.4h.7M190.9 610.8h.7M200.5 620.1h.7M199.0 614.5h.7M191.3 602.3h.7M195.3 609.7h.7M191.9 607.7h.7M197.0 614.7h.7M198.3 601.8h.7M194.2 621.9h.7M193.9 615.8h.7M204.8 627.0h.7M192.0 613.0h.7M196.2 606.7h.7M202.1 614.9h.7M204.1 602.4h.7M187.5 611.8h.7M198.1 624.9h.7M196.6 617.9h.7M197.6 608.6h.7M193.2 608.4h.7M197.2 632.0h.7M193.8 609.8h.7M202.9 635.6h.7M192.2 618.7h.7M195.1 627.4h.7M201.7 616.8h.7M203.5 615.4h.7M198.1 617.7h.7M191.2 613.3h.7M190.2 619.3h.7M201.0 614.0h.7M201.1 611.9h.7M204.4 603.9h.7M205.5 612.6h.7M194.8 620.0h.7M196.5 629.6h.7M196.4 602.6h.7M189.1 615.6h.7M208.5 620.7h.7M192.1 617.7h.7M195.9 613.5h.7M198.2 619.0h.7M195.5 619.4h.7M203.5 612.5h.7M201.0 612.1h.7M195.8 615.6h.7M197.0 606.8h.7M197.5 611.3h.7M202.5 624.8h.7M194.8 623.5h.7M192.6 603.1h.7M189.3 606.0h.7M196.9 622.4h.7M206.8 614.0h.7M200.3 618.8h.7M199.0 617.7h.7M190.6 619.0h.7M202.0 599.6h.7M193.8 615.9h.7M200.2 619.0h.7M205.4 620.3h.7M209.1 610.5h.7M194.1 601.2h.7M202.0 625.9h.7M194.8 613.8h.7M192.3 628.2h.7M199.4 622.5h.7M194.3 616.2h.7M204.1 616.3h.7M191.2 606.6h.7M196.9 618.8h.7M200.0 622.6h.7M198.0 602.4h.7M203.3 617.6h.7M191.1 612.8h.7M192.9 635.4h.7M197.5 614.3h.7M203.1 602.4h.7M201.7 612.9h.7M200.5 601.0h.7M200.8 600.5h.7M198.9 617.6h.7M201.1 622.2h.7M190.9 629.9h.7M197.8 615.1h.7M203.2 630.4h.7M194.8 614.3h.7M199.5 626.6h.7M200.3 634.2h.7M202.2 609.0h.7M195.8 612.9h.7M198.5 608.3h.7M199.8 622.7h.7M197.1 623.6h.7M201.9 617.9h.7M205.5 627.3h.7M193.3 616.7h.7M201.3 604.3h.7M191.6 613.2h.7M194.2 612.4h.7M192.9 620.4h.7M193.3 601.5h.7M197.2 614.8h.7M193.7 617.4h.7M193.1 629.9h.7M200.5 618.5h.7M199.1 615.0h.7M191.4 617.0h.7M201.7 606.3h.7M199.5 604.1h.7M202.7 614.7h.7M205.9 622.0h.7M196.2 616.3h.7M207.3 626.4h.7M196.4 605.2h.7M195.8 606.4h.7M196.3 640.7h.7M200.7 627.8h.7M194.0 618.4h.7M202.8 598.5h.7M195.3 599.6h.7M192.0 606.4h.7M202.0 622.9h.7M196.2 604.9h.7M205.6 613.9h.7M197.4 630.4h.7M197.5 602.4h.7M203.4 609.4h.7M191.6 623.0h.7M194.4 608.7h.7M201.4 624.8h.7M189.1 617.4h.7M203.0 626.2h.7M198.3 606.8h.7M200.6 600.5h.7M205.0 609.9h.7M191.9 616.9h.7M203.8 619.5h.7M193.0 627.7h.7M200.6 614.1h.7M197.9 623.9h.7M200.7 614.5h.7M199.5 616.1h.7M199.0 613.8h.7M199.4 626.9h.7M193.7 598.1h.7M194.8 617.7h.7M196.6 614.1h.7M201.7 617.2h.7M200.7 621.2h.7M200.9 609.9h.7M196.5 612.9h.7M193.6 610.2h.7M193.6 607.8h.7M190.4 601.2h.7M204.3 600.4h.7M200.1 618.6h.7M202.9 610.2h.7M199.5 612.3h.7M199.4 616.7h.7M202.4 613.4h.7M195.9 607.2h.7M193.4 613.8h.7M201.2 610.4h.7M200.7 624.7h.7M195.1 623.7h.7M199.5 605.4h.7M194.5 616.2h.7M197.9 619.7h.7M189.7 624.0h.7M203.6 603.6h.7M195.3 631.3h.7M202.1 612.2h.7M196.9 614.0h.7M202.0 611.2h.7M200.6 608.6h.7M189.2 614.9h.7M195.9 624.6h.7M199.8 619.9h.7M192.5 620.8h.7M190.4 622.3h.7M199.4 622.5h.7M205.7 624.4h.7M194.1 604.3h.7M199.8 616.2h.7M200.0 605.2h.7M193.2 614.3h.7M205.5 605.1h.7M200.2 617.9h.7M197.7 600.1h.7M194.7 622.4h.7M188.8 601.6h.7M195.0 605.5h.7M198.5 612.1h.7M199.0 613.8h.7M198.5 628.8h.7M193.7 615.9h.7M197.8 620.4h.7M185.1 606.1h.7M200.1 612.9h.7M204.0 598.9h.7M209.1 617.7h.7M196.7 606.4h.7M193.8 607.6h.7M198.5 605.6h.7M200.1 609.3h.7M201.1 605.9h.7M198.9 606.3h.7M203.5 613.3h.7M199.6 629.3h.7M199.3 607.0h.7M197.6 609.5h.7M201.5 630.6h.7M206.6 612.8h.7M198.6 624.1h.7M194.5 609.7h.7M195.3 614.5h.7M200.8 603.1h.7M202.4 614.0h.7M201.6 630.7h.7M196.3 613.5h.7M196.3 611.9h.7M193.8 618.7h.7M205.1 620.9h.7M194.1 614.4h.7M200.5 605.0h.7M198.1 606.5h.7M206.1 621.9h.7M201.6 603.6h.7M202.8 625.1h.7M204.1 614.4h.7M194.3 616.9h.7M195.1 620.2h.7M196.8 625.8h.7M198.9 618.7h.7M200.8 618.5h.7M204.7 611.4h.7M194.0 601.2h.7M199.2 602.9h.7M193.6 616.3h.7M196.9 612.3h.7M206.6 617.4h.7M196.0 613.9h.7M193.5 615.2h.7M200.9 626.9h.7M200.5 615.2h.7M200.1 616.2h.7M196.2 618.0h.7M201.3 615.6h.7M197.6 609.0h.7M197.0 602.2h.7M207.9 611.1h.7M199.1 618.0h.7M194.2 604.3h.7M195.3 613.9h.7M201.8 607.9h.7M195.9 606.1h.7M199.5 615.5h.7M202.1 625.0h.7M200.7 611.8h.7M196.1 616.3h.7M197.7 617.4h.7M202.4 608.2h.7M196.9 658.0h.7M183.1 634.2h.7M189.7 657.9h.7M205.2 663.7h.7M196.9 659.6h.7M196.6 656.7h.7M197.3 656.1h.7M197.3 650.1h.7M197.2 635.8h.7M193.3 647.3h.7M200.2 654.7h.7M185.4 646.0h.7M200.0 660.0h.7M185.8 660.0h.7M191.7 636.2h.7M188.3 659.2h.7M188.6 672.1h.7M195.1 644.2h.7M191.4 658.8h.7M199.8 663.4h.7M199.0 640.4h.7M199.1 656.6h.7M186.5 662.7h.7M189.1 647.2h.7M193.5 658.4h.7M191.7 656.7h.7M198.6 663.1h.7M190.7 644.4h.7M194.5 659.5h.7M194.8 673.7h.7M199.9 636.7h.7M201.7 660.5h.7M196.1 673.4h.7M192.9 660.0h.7M195.8 661.2h.7M190.4 660.4h.7M203.1 645.5h.7M189.0 637.4h.7M191.7 643.5h.7M191.3 653.1h.7M199.5 657.8h.7M189.6 647.3h.7M202.0 663.8h.7M201.8 665.5h.7M191.1 648.2h.7M208.2 651.1h.7M189.2 627.9h.7M198.3 651.9h.7M190.0 654.8h.7M187.1 676.3h.7M201.2 647.2h.7M200.7 668.1h.7M199.9 662.6h.7M199.9 659.8h.7M187.7 662.7h.7M190.7 664.3h.7M187.2 654.9h.7M189.5 664.8h.7M190.4 632.1h.7M198.0 655.5h.7M189.9 656.3h.7M200.0 671.0h.7M198.8 661.1h.7M191.5 650.9h.7M196.5 648.2h.7M198.5 646.7h.7M200.9 665.2h.7M185.8 647.3h.7M190.0 653.9h.7M202.1 634.4h.7M187.8 644.5h.7M191.6 646.2h.7M197.7 671.4h.7M184.3 654.7h.7M189.6 646.1h.7M191.7 652.0h.7M201.8 680.7h.7M200.3 652.3h.7M200.6 665.3h.7M188.8 644.6h.7M195.1 650.4h.7M184.6 647.3h.7M185.3 647.7h.7M185.5 673.2h.7M188.3 648.4h.7M199.8 661.1h.7M191.1 643.8h.7M189.9 647.9h.7M189.5 650.8h.7M189.0 659.7h.7M206.0 653.5h.7M187.1 640.8h.7M193.8 646.3h.7M201.5 654.5h.7M196.4 643.7h.7M196.7 661.9h.7M201.8 640.4h.7M185.7 639.2h.7M198.8 656.8h.7M185.7 673.8h.7M194.3 676.4h.7M189.9 668.9h.7M203.9 646.9h.7M201.6 660.8h.7M198.5 631.8h.7M207.1 646.2h.7M204.0 681.3h.7M199.9 661.6h.7M202.6 657.0h.7M201.5 654.4h.7M201.2 658.2h.7M195.7 655.7h.7M188.2 636.4h.7M200.7 679.6h.7M202.0 654.6h.7M198.0 650.7h.7M205.7 646.4h.7M194.7 644.6h.7M205.5 654.7h.7M200.8 657.9h.7M194.5 641.1h.7M200.0 653.3h.7M187.2 641.4h.7M203.0 675.0h.7M202.0 667.7h.7M188.8 648.0h.7M201.6 655.2h.7M192.1 657.6h.7M201.2 642.4h.7M190.0 668.8h.7M196.1 659.3h.7M188.3 641.9h.7M202.9 648.8h.7M185.3 652.2h.7M205.6 645.7h.7M198.1 642.6h.7M189.7 644.2h.7M201.1 638.1h.7M192.4 666.6h.7M197.4 655.1h.7M190.5 634.1h.7M194.2 644.5h.7M204.0 653.6h.7M198.3 657.3h.7M193.4 664.8h.7M199.1 656.6h.7M205.0 668.6h.7M185.5 662.8h.7M203.7 657.9h.7M195.5 650.9h.7M191.1 678.0h.7M200.7 660.1h.7M204.9 654.2h.7M200.6 656.6h.7M192.7 659.3h.7M188.9 662.5h.7M196.5 656.1h.7M201.5 635.1h.7M196.8 659.0h.7M185.1 639.5h.7M188.6 661.3h.7M203.2 664.8h.7M189.4 658.2h.7M183.1 655.6h.7M196.1 648.1h.7M192.4 644.5h.7M196.2 636.2h.7M188.9 660.8h.7M193.2 663.9h.7M196.5 648.2h.7M200.9 662.0h.7M198.9 660.5h.7M186.7 654.5h.7M194.0 636.4h.7M190.5 659.5h.7M195.8 653.6h.7M195.7 674.3h.7M201.2 657.7h.7M197.1 648.5h.7M194.4 671.5h.7M185.7 654.4h.7M189.6 650.0h.7M189.8 649.8h.7M190.9 653.8h.7M201.7 657.8h.7M195.4 649.5h.7M203.1 651.8h.7M189.1 644.7h.7M204.7 644.5h.7M188.2 654.7h.7M197.3 649.3h.7M205.4 657.0h.7M194.3 650.2h.7M190.0 642.1h.7M192.6 648.5h.7M205.9 655.4h.7M199.8 668.4h.7M208.7 654.6h.7M189.3 642.1h.7M199.1 654.7h.7M197.3 634.8h.7M206.2 659.2h.7M202.0 632.5h.7M202.2 670.0h.7M192.8 659.0h.7M200.0 660.1h.7M187.4 659.6h.7M198.5 647.4h.7M182.3 658.6h.7M202.4 666.1h.7M188.7 657.3h.7M199.8 647.4h.7M193.4 666.9h.7M198.8 663.7h.7M187.2 651.2h.7M195.5 670.7h.7M203.2 664.7h.7M197.6 656.2h.7M205.4 639.4h.7M202.0 665.2h.7M185.8 642.0h.7M196.7 656.6h.7M195.7 637.9h.7M188.0 640.1h.7M196.0 658.3h.7M204.4 627.0h.7M192.5 660.4h.7M194.9 675.1h.7M202.6 658.5h.7M201.9 650.4h.7M198.8 643.4h.7M201.8 646.2h.7M198.7 664.2h.7M189.5 655.8h.7M186.6 651.8h.7M204.1 668.5h.7M193.8 653.8h.7M190.6 650.6h.7M186.9 640.7h.7M198.5 662.9h.7M200.5 640.6h.7M196.1 655.3h.7M194.2 651.8h.7M197.8 664.6h.7M203.4 670.8h.7M187.0 673.4h.7M188.8 654.1h.7M183.5 644.1h.7M198.9 633.6h.7M207.0 677.2h.7M196.3 663.3h.7M187.5 651.2h.7M200.2 666.3h.7M189.2 646.3h.7M205.3 661.2h.7M197.5 646.7h.7M195.5 641.4h.7M206.5 651.6h.7M195.1 653.9h.7M201.4 665.4h.7M197.4 651.4h.7M206.2 674.0h.7M201.0 654.5h.7M195.6 654.2h.7M187.8 640.4h.7M190.4 654.4h.7M204.8 663.5h.7M201.8 646.8h.7M202.6 651.1h.7M201.4 650.2h.7M197.8 663.4h.7M199.8 671.6h.7M200.9 648.4h.7M190.0 657.7h.7M199.2 656.3h.7M191.3 637.5h.7M202.1 663.9h.7M186.5 650.6h.7M187.0 656.8h.7M195.2 643.4h.7M195.4 661.7h.7M191.9 637.2h.7M193.7 664.0h.7M200.7 669.6h.7M193.6 653.6h.7M202.8 641.4h.7M189.8 668.6h.7M199.9 650.2h.7M193.8 647.6h.7M205.3 678.3h.7M189.0 644.2h.7M205.4 648.5h.7M182.9 652.8h.7M197.9 654.7h.7M195.1 641.7h.7M196.0 674.0h.7M203.9 636.6h.7M196.6 646.8h.7M199.4 656.3h.7M190.9 656.9h.7M201.0 645.4h.7M198.1 642.9h.7M201.9 651.5h.7M207.9 644.0h.7M201.7 655.3h.7M193.6 641.0h.7M191.9 649.0h.7M189.9 665.1h.7M196.7 657.1h.7M203.8 665.8h.7M197.2 666.4h.7M189.0 662.7h.7M190.5 653.9h.7M203.5 654.0h.7M188.5 643.8h.7M188.0 677.1h.7M204.3 672.4h.7M190.2 632.4h.7M203.4 669.6h.7M201.9 645.3h.7M202.0 642.0h.7M197.8 649.9h.7M191.9 646.7h.7M195.8 646.9h.7M197.6 640.5h.7M188.0 675.4h.7M191.7 661.9h.7M187.9 670.7h.7M190.5 655.7h.7M199.2 649.7h.7M188.3 655.5h.7M190.5 621.6h.7M190.7 637.1h.7M200.1 635.2h.7M192.3 647.8h.7M197.2 675.5h.7M190.5 657.9h.7M192.6 662.5h.7M186.7 665.3h.7M197.7 655.0h.7M185.2 650.0h.7M205.1 631.7h.7M192.3 647.2h.7M190.2 646.6h.7M198.6 650.3h.7M189.0 661.1h.7M188.1 645.3h.7M191.4 661.3h.7M197.4 658.7h.7M194.9 661.9h.7M185.9 647.0h.7M185.8 678.0h.7M187.9 655.1h.7M194.4 649.6h.7M192.9 671.7h.7M195.9 668.1h.7M197.2 659.9h.7M191.8 654.7h.7M191.2 652.0h.7M190.4 655.5h.7M190.0 663.7h.7M187.6 649.8h.7M202.1 667.4h.7M187.3 648.7h.7M198.6 659.8h.7M201.8 662.5h.7M185.7 652.5h.7M191.9 662.0h.7M204.6 660.1h.7M193.1 646.4h.7M203.4 646.3h.7M191.8 655.1h.7M186.6 669.9h.7M188.3 673.8h.7M205.0 645.0h.7M196.1 657.0h.7M191.0 667.5h.7M199.6 656.1h.7M201.6 668.4h.7M203.0 650.6h.7M192.2 646.8h.7M203.0 650.4h.7M190.0 651.4h.7M196.6 655.3h.7M204.1 624.7h.7M191.3 642.0h.7M187.1 652.7h.7M187.8 649.5h.7M191.8 672.3h.7M199.4 654.4h.7M199.2 649.3h.7M201.6 659.5h.7M201.5 672.1h.7M187.6 636.4h.7M188.2 651.1h.7M187.3 650.4h.7M198.9 653.3h.7M205.0 666.0h.7M192.6 657.4h.7M199.0 661.1h.7M187.8 663.4h.7M204.0 648.7h.7M192.5 640.4h.7M196.2 651.4h.7M197.1 652.7h.7M185.4 648.9h.7M195.1 649.1h.7M191.6 651.5h.7M203.1 656.0h.7M202.9 658.4h.7M195.6 665.4h.7M188.4 656.7h.7M202.2 651.2h.7M202.3 652.1h.7M194.5 654.0h.7M186.2 654.0h.7M199.6 657.4h.7M193.7 664.3h.7M189.3 647.4h.7M189.7 662.3h.7M200.6 638.1h.7M194.2 660.3h.7M206.0 664.6h.7M197.8 644.4h.7M197.4 665.0h.7M202.0 656.4h.7M196.0 655.5h.7M194.3 655.6h.7M194.3 660.0h.7M192.3 642.3h.7M198.9 655.3h.7M201.8 641.2h.7M186.4 647.6h.7M205.9 659.3h.7M192.6 636.6h.7M194.4 662.2h.7M201.9 659.9h.7M196.2 644.7h.7M184.5 646.9h.7M194.9 647.3h.7M195.9 652.6h.7M191.7 668.8h.7M198.0 674.6h.7M196.5 650.4h.7M193.4 646.6h.7M189.3 647.1h.7M197.5 654.4h.7M199.9 653.1h.7M195.7 660.2h.7M202.6 672.1h.7M190.7 642.3h.7M188.5 655.6h.7M191.6 630.3h.7M191.2 647.9h.7M191.3 647.7h.7M189.1 638.7h.7M189.9 662.5h.7M206.2 645.2h.7M198.9 654.0h.7M189.7 653.8h.7M186.8 658.3h.7M190.2 646.7h.7M187.3 635.3h.7M199.9 668.2h.7M192.5 652.8h.7M196.1 648.2h.7M200.6 669.5h.7M204.7 635.3h.7M207.4 656.7h.7M192.2 634.2h.7M196.6 658.1h.7M200.6 658.4h.7M193.0 642.5h.7M191.5 643.0h.7M203.4 653.3h.7M201.5 655.6h.7M201.4 656.8h.7M202.0 651.7h.7M204.7 652.1h.7M187.3 655.6h.7M202.6 661.2h.7M206.1 676.6h.7M194.1 652.5h.7M199.7 661.4h.7M199.9 650.4h.7M200.1 649.3h.7M205.9 674.0h.7M193.8 651.7h.7M202.4 672.6h.7M193.6 662.5h.7M208.3 667.4h.7M191.1 642.4h.7M193.3 638.9h.7M195.9 674.1h.7M198.0 650.7h.7M192.2 649.3h.7M193.1 653.1h.7M191.1 654.4h.7M192.4 636.5h.7M187.6 669.6h.7M202.5 652.8h.7M201.9 663.6h.7M189.1 673.6h.7M203.4 659.6h.7M201.6 644.1h.7M194.0 661.4h.7M189.5 650.4h.7M187.1 655.9h.7M197.1 655.7h.7M203.9 655.1h.7M195.8 642.7h.7M191.0 635.2h.7M196.4 659.8h.7M194.8 645.8h.7M204.2 658.9h.7M200.7 647.3h.7M198.9 650.1h.7M186.9 665.9h.7M195.0 637.7h.7M192.6 648.2h.7M198.8 656.4h.7M194.6 656.5h.7M188.5 646.6h.7M202.8 651.3h.7M201.4 636.6h.7M196.0 671.6h.7M186.4 644.3h.7M187.0 659.6h.7M196.2 640.7h.7M196.5 647.6h.7M192.5 645.7h.7M192.3 644.4h.7M187.5 643.9h.7M201.5 660.2h.7M187.0 649.1h.7M188.5 638.5h.7M194.1 664.7h.7M192.8 662.1h.7M201.9 655.6h.7M205.9 657.7h.7M200.8 655.6h.7M207.4 643.5h.7M192.7 662.4h.7M187.8 657.1h.7M202.9 654.6h.7M192.4 659.4h.7M189.3 655.4h.7M185.1 645.0h.7M184.9 662.0h.7M190.0 644.9h.7M195.1 638.3h.7M193.1 664.8h.7M201.6 646.0h.7M196.9 653.4h.7M194.0 666.8h.7M189.0 654.3h.7M200.6 657.8h.7M189.4 644.1h.7M199.4 643.1h.7M190.2 641.1h.7M193.8 657.2h.7M201.3 648.5h.7M202.0 646.8h.7M197.6 657.2h.7M203.1 639.9h.7M208.2 658.5h.7M187.9 664.3h.7M197.1 662.6h.7M194.0 667.8h.7M201.5 653.5h.7M190.5 645.0h.7M187.0 653.4h.7M203.3 647.9h.7M190.0 640.0h.7M192.5 662.0h.7M187.6 650.4h.7M196.1 660.4h.7M203.1 664.6h.7M198.1 624.6h.7M204.9 642.0h.7M193.4 646.5h.7M201.6 655.3h.7M203.4 644.1h.7M195.7 657.5h.7M203.0 654.9h.7M191.3 649.2h.7M194.0 654.0h.7M198.8 638.7h.7M191.3 641.6h.7M197.5 658.0h.7M204.2 639.8h.7M202.4 655.0h.7M200.9 656.7h.7M184.6 643.6h.7M188.3 638.4h.7M183.9 662.9h.7M201.4 666.9h.7M202.3 675.0h.7M204.7 658.5h.7M192.9 662.4h.7M201.3 640.5h.7M191.2 646.7h.7M201.3 658.6h.7M206.0 645.8h.7M185.8 655.0h.7M192.2 667.6h.7M207.1 649.8h.7M203.5 651.5h.7M199.7 649.7h.7M191.4 658.2h.7M188.1 660.3h.7M190.8 657.6h.7M191.6 644.3h.7M199.9 642.5h.7M202.5 664.5h.7M201.9 676.9h.7M196.4 664.9h.7M203.6 679.1h.7M195.8 647.0h.7M199.9 658.2h.7M199.0 634.4h.7M205.2 665.4h.7M205.5 658.0h.7M200.9 645.1h.7M192.3 642.1h.7M197.8 646.6h.7M187.9 657.4h.7M182.2 650.3h.7M201.8 649.4h.7M206.5 644.4h.7M203.2 655.4h.7M184.4 654.0h.7M203.2 652.3h.7M199.1 637.7h.7M197.5 666.2h.7M198.2 641.2h.7M198.1 654.6h.7M200.0 655.8h.7M201.4 650.5h.7M202.6 648.9h.7M189.5 664.2h.7M204.7 641.1h.7M190.1 665.9h.7M187.5 635.6h.7M193.9 645.6h.7M188.3 657.3h.7M193.8 669.5h.7M197.6 684.3h.7M187.9 634.6h.7M187.7 643.9h.7M198.5 658.9h.7M195.0 665.0h.7M193.7 655.7h.7M199.9 674.8h.7M190.2 658.8h.7M188.0 646.6h.7M201.6 638.9h.7M189.4 645.3h.7M202.0 659.2h.7M194.1 657.3h.7M201.9 622.2h.7M202.7 652.2h.7M194.9 652.9h.7M191.0 649.4h.7M196.7 652.3h.7M191.8 634.7h.7M191.9 657.5h.7M196.0 630.4h.7M190.2 644.3h.7M206.5 674.5h.7M190.5 643.6h.7M189.8 640.9h.7M200.8 658.0h.7M189.9 659.1h.7M198.0 677.2h.7M188.1 646.3h.7M206.1 658.5h.7M195.5 638.9h.7M201.5 658.4h.7M192.2 657.3h.7M205.5 647.7h.7M186.7 667.1h.7M195.1 657.9h.7M207.6 663.0h.7M190.7 655.4h.7M198.0 655.8h.7M201.2 652.8h.7M199.3 657.5h.7M190.6 664.9h.7M182.4 641.8h.7M188.1 655.6h.7M196.0 655.7h.7M203.2 644.6h.7M199.8 646.6h.7M195.5 679.3h.7M193.0 654.4h.7M201.7 650.8h.7M202.5 655.9h.7M197.6 665.8h.7M205.3 629.7h.7M194.5 640.3h.7M198.8 651.0h.7M204.4 661.5h.7M187.5 656.2h.7M189.9 650.5h.7M198.0 647.0h.7M193.8 645.4h.7M190.9 659.8h.7M187.2 638.4h.7M187.1 630.6h.7M190.5 639.3h.7M202.9 654.1h.7M195.3 668.2h.7M191.0 643.8h.7M200.2 649.4h.7M190.7 639.9h.7M192.7 654.1h.7M191.4 651.4h.7M189.1 661.6h.7M187.6 644.3h.7M203.9 646.4h.7M187.7 658.0h.7M192.1 645.7h.7M194.6 645.6h.7M193.3 664.5h.7M203.3 648.7h.7M204.9 663.1h.7M191.0 639.2h.7M207.2 657.5h.7M198.3 660.7h.7M206.8 639.6h.7M203.0 651.3h.7M207.4 632.9h.7M201.2 670.5h.7M201.0 650.3h.7M191.9 645.1h.7M193.2 643.2h.7M191.5 669.8h.7M191.0 657.2h.7M188.5 664.2h.7M198.9 657.5h.7M187.6 652.3h.7M186.8 657.0h.7M199.0 651.6h.7M189.6 656.9h.7M200.1 635.7h.7M192.7 654.2h.7M184.2 659.5h.7M188.6 650.8h.7M197.6 657.2h.7M184.3 658.1h.7M193.0 641.6h.7M189.7 649.0h.7M205.5 663.9h.7M203.3 622.1h.7M197.4 659.8h.7M187.9 666.5h.7M202.7 656.8h.7M201.0 672.0h.7M197.5 658.6h.7M193.9 662.5h.7M192.3 666.1h.7M195.2 653.0h.7M187.3 634.3h.7M188.8 652.2h.7M183.8 665.2h.7M195.9 646.5h.7M200.5 642.7h.7M203.0 642.4h.7M201.3 671.7h.7M191.1 649.2h.7M202.0 643.9h.7M202.7 646.7h.7M194.4 656.6h.7M196.4 649.4h.7M194.1 659.2h.7M195.3 649.6h.7M206.1 651.1h.7M185.3 656.3h.7M197.1 670.4h.7M199.4 645.0h.7M195.1 636.5h.7M201.2 670.5h.7M192.1 668.1h.7M198.6 650.0h.7M199.6 661.7h.7M195.9 655.2h.7M193.0 661.1h.7M193.4 638.2h.7M196.2 656.2h.7M185.3 673.5h.7M204.0 649.7h.7M195.9 643.8h.7M203.4 656.8h.7M205.2 645.1h.7M195.7 666.4h.7M189.3 641.9h.7M201.2 628.7h.7M205.9 662.5h.7M201.4 659.3h.7M202.2 667.4h.7M199.5 645.7h.7M194.5 646.8h.7M184.6 650.1h.7M203.9 669.9h.7M190.9 646.5h.7M204.7 654.4h.7M199.0 659.1h.7M193.9 649.5h.7M203.2 662.4h.7M197.0 664.9h.7M187.2 633.2h.7M200.4 672.4h.7M205.8 654.6h.7M189.8 657.0h.7M198.5 668.7h.7M184.5 651.6h.7M189.0 666.5h.7M204.6 667.2h.7M197.3 648.2h.7M198.1 667.9h.7M205.7 668.1h.7M191.8 650.5h.7M204.0 660.7h.7M187.4 660.5h.7M197.6 632.0h.7M197.1 644.0h.7M190.3 654.3h.7M196.0 645.4h.7M194.7 662.3h.7M204.3 642.3h.7M188.2 652.0h.7M191.5 645.1h.7M193.9 661.3h.7M189.3 661.4h.7M197.2 652.5h.7M205.6 658.4h.7M204.4 668.2h.7M203.3 653.0h.7M203.9 662.8h.7M205.5 666.4h.7M205.0 644.3h.7M189.4 642.3h.7M192.8 638.6h.7M192.9 658.1h.7M191.0 654.0h.7M199.4 672.5h.7M189.9 650.3h.7M191.2 661.7h.7M195.3 655.0h.7M202.0 643.8h.7M202.4 651.0h.7M185.3 669.7h.7M194.1 633.2h.7M204.4 667.9h.7M188.6 650.8h.7M200.9 653.9h.7M200.0 647.9h.7M188.6 658.7h.7M192.0 656.5h.7M195.3 654.3h.7M202.4 651.1h.7M194.4 621.4h.7M200.6 655.2h.7M191.8 654.0h.7M192.2 659.1h.7M194.9 666.6h.7M197.7 653.6h.7M190.7 660.1h.7M196.2 659.5h.7M204.0 663.4h.7M204.6 669.3h.7M198.6 667.5h.7M196.0 658.7h.7M185.8 646.7h.7M200.4 672.0h.7M190.6 663.9h.7M194.9 670.3h.7M197.9 644.7h.7M201.7 644.5h.7M201.8 639.2h.7M191.5 659.5h.7M199.7 650.7h.7M198.3 671.5h.7M195.9 648.5h.7M187.1 660.1h.7M186.5 663.3h.7M188.1 654.5h.7M201.3 660.8h.7M186.7 658.1h.7M200.4 654.2h.7M199.2 660.8h.7M195.7 645.0h.7M203.0 666.0h.7M190.7 660.1h.7M197.3 667.4h.7M188.3 637.0h.7M184.0 656.4h.7M189.2 651.1h.7M201.3 653.3h.7M187.2 638.3h.7M194.8 646.8h.7M192.7 652.1h.7M185.5 659.8h.7M206.9 648.8h.7M186.2 640.5h.7M206.1 652.5h.7M203.8 648.7h.7M196.2 649.9h.7M196.4 655.7h.7M206.6 661.0h.7M186.7 645.3h.7M197.1 659.9h.7M198.6 666.0h.7M199.1 652.9h.7M188.4 662.1h.7M187.0 648.7h.7M194.2 649.0h.7M201.2 652.7h.7M201.1 642.7h.7M190.0 648.0h.7M197.3 644.2h.7M193.7 651.5h.7M202.3 654.7h.7M188.8 664.9h.7M198.8 651.4h.7M202.9 650.7h.7M202.2 663.7h.7M197.2 662.4h.7M199.7 647.1h.7M188.3 646.0h.7M188.8 649.1h.7M191.1 656.0h.7M188.1 656.8h.7M192.1 635.2h.7M199.1 653.9h.7M202.0 650.2h.7M203.8 663.3h.7M193.6 648.5h.7M190.5 639.0h.7M208.0 661.8h.7M193.7 668.7h.7M191.7 672.9h.7M188.5 650.5h.7M204.8 655.3h.7M190.4 651.5h.7M188.3 641.0h.7M190.4 663.6h.7M196.7 679.8h.7M193.1 663.3h.7M191.1 646.4h.7M203.1 661.6h.7M196.7 655.7h.7M197.8 664.1h.7M186.7 646.7h.7M192.7 643.0h.7M189.5 644.8h.7M195.7 659.1h.7M185.6 633.0h.7M188.4 631.6h.7M198.6 648.1h.7M187.0 656.1h.7M192.8 659.2h.7M194.8 650.0h.7M195.3 644.7h.7M196.4 662.0h.7M190.0 653.9h.7M199.7 637.1h.7M189.1 654.1h.7M207.1 645.3h.7M205.3 640.3h.7M201.8 654.7h.7M188.2 662.3h.7M182.7 635.9h.7M200.4 650.2h.7M203.8 656.5h.7M192.7 671.0h.7M201.9 643.7h.7M200.6 656.6h.7M189.7 650.8h.7M193.8 670.7h.7M191.8 665.0h.7M203.0 663.4h.7M195.9 648.7h.7M189.5 672.4h.7M204.5 656.7h.7M184.9 644.6h.7M198.1 637.3h.7M193.5 655.3h.7M206.4 648.6h.7M194.5 661.3h.7M200.7 661.3h.7M194.9 662.9h.7M190.8 671.2h.7M202.2 646.4h.7M202.7 648.9h.7M182.5 639.9h.7M195.8 643.2h.7M190.5 646.9h.7M194.8 637.8h.7M191.9 671.0h.7M194.6 644.1h.7M190.2 658.1h.7M192.7 649.0h.7M195.9 643.2h.7M193.3 666.4h.7M197.6 651.0h.7M190.3 657.2h.7M198.7 660.1h.7M204.0 649.9h.7M190.3 663.8h.7M195.2 646.4h.7M192.5 658.0h.7M200.2 648.5h.7M194.2 660.0h.7M197.7 649.3h.7M187.0 656.0h.7M195.1 651.9h.7M205.1 663.6h.7M197.9 645.9h.7M196.5 659.4h.7M198.5 646.8h.7M190.0 651.2h.7M199.9 653.9h.7M203.3 645.0h.7M194.2 660.2h.7M205.2 636.7h.7M198.6 660.9h.7M186.9 660.8h.7M186.1 682.1h.7M192.0 648.5h.7M190.4 645.6h.7M184.8 658.1h.7M195.7 654.8h.7M190.4 656.0h.7M192.8 647.2h.7M201.8 661.2h.7M196.5 665.6h.7M193.9 661.8h.7M184.9 654.8h.7M193.3 654.3h.7M195.5 667.3h.7M186.4 676.8h.7M198.1 667.8h.7M186.2 655.5h.7M200.6 662.9h.7M194.8 652.4h.7M197.8 670.2h.7M202.1 644.8h.7M187.6 639.8h.7M187.7 672.9h.7M190.8 653.3h.7M193.5 674.8h.7M195.5 655.9h.7M201.2 640.2h.7M192.5 659.9h.7M187.3 653.6h.7M192.2 661.8h.7M185.8 650.6h.7M196.2 654.1h.7M194.3 652.3h.7M191.6 642.7h.7M194.7 664.8h.7M204.6 656.4h.7M205.6 667.6h.7M193.1 652.8h.7M202.5 664.2h.7M190.9 665.1h.7M197.2 648.1h.7M201.5 652.3h.7M192.2 668.7h.7M194.2 634.4h.7M201.0 657.5h.7M194.3 649.1h.7M186.9 648.4h.7M201.4 664.3h.7M203.3 665.2h.7M192.4 662.7h.7M195.2 664.2h.7M191.6 639.7h.7M204.1 658.1h.7M193.5 641.3h.7M201.3 663.5h.7M196.2 662.0h.7M188.4 657.7h.7M195.3 663.2h.7M204.1 633.2h.7M184.5 660.8h.7M198.0 666.2h.7M190.3 614.9h.7M195.1 657.5h.7M204.4 662.4h.7M197.0 661.4h.7M197.8 648.0h.7M192.7 647.2h.7M199.5 657.7h.7M198.8 650.6h.7M203.0 633.8h.7M200.4 652.9h.7M204.4 661.0h.7M204.5 663.2h.7M185.5 654.2h.7M196.3 656.2h.7M204.8 646.2h.7M199.9 660.7h.7M200.0 662.3h.7M203.1 652.1h.7M188.1 660.4h.7M187.6 651.9h.7M197.9 643.4h.7M200.1 663.3h.7M193.3 661.5h.7M194.9 643.5h.7M191.4 656.7h.7M189.2 645.3h.7M187.9 658.9h.7M199.3 654.4h.7M200.1 632.8h.7M188.0 653.4h.7M184.0 634.9h.7M193.1 644.9h.7M188.2 652.2h.7M205.0 646.0h.7M192.9 636.2h.7M193.5 643.0h.7M191.9 656.5h.7M185.7 662.6h.7M202.7 641.8h.7M188.3 656.7h.7M189.4 653.8h.7M202.3 641.3h.7M193.1 644.0h.7M194.0 640.0h.7M192.6 662.9h.7M190.6 624.2h.7M203.6 649.9h.7M204.6 649.3h.7M186.1 643.7h.7M200.1 648.5h.7M191.4 650.1h.7M202.4 662.7h.7M192.4 660.6h.7M190.6 651.5h.7M194.1 662.2h.7M188.8 639.6h.7M200.2 668.8h.7M188.8 658.4h.7M194.4 645.4h.7M193.3 635.7h.7M189.9 661.3h.7M190.9 648.6h.7M194.6 678.1h.7M195.6 665.8h.7M188.5 640.1h.7M199.4 653.3h.7M202.3 647.1h.7M195.7 659.0h.7M202.7 650.8h.7M201.1 651.1h.7M190.9 655.1h.7M191.2 673.1h.7M199.3 655.3h.7M197.8 667.9h.7M204.4 649.9h.7M189.2 656.2h.7M192.4 647.1h.7M202.2 653.0h.7M194.6 648.6h.7M195.5 655.1h.7M199.3 634.6h.7M184.4 655.4h.7M188.1 665.0h.7M195.6 642.2h.7M196.3 650.8h.7M188.3 658.8h.7M202.5 653.6h.7M196.4 661.1h.7M204.7 657.0h.7M192.4 651.1h.7M205.7 658.4h.7M198.4 676.8h.7M203.2 656.6h.7M189.7 662.0h.7M199.6 658.4h.7M191.8 653.0h.7M185.5 650.6h.7M203.4 631.4h.7M204.2 667.7h.7M197.5 649.0h.7M188.5 660.1h.7M206.1 642.6h.7M188.3 648.7h.7M186.9 656.8h.7M187.7 656.9h.7M188.6 666.4h.7M202.2 639.1h.7M203.1 645.4h.7M206.2 662.1h.7M202.4 635.3h.7M192.6 663.9h.7M195.6 659.2h.7M194.7 648.4h.7M187.1 646.1h.7M204.2 654.8h.7M191.0 646.0h.7M193.7 659.1h.7M189.5 644.8h.7M199.5 653.3h.7M197.6 658.2h.7M189.0 655.3h.7M196.3 661.9h.7M191.0 652.9h.7M200.3 666.1h.7M185.7 645.4h.7M188.9 661.8h.7M190.4 652.5h.7M195.0 630.8h.7M198.9 676.0h.7M191.0 642.0h.7M193.2 655.7h.7M189.2 648.0h.7M192.8 648.3h.7M197.7 644.5h.7M191.2 662.2h.7M192.0 636.2h.7M199.4 643.2h.7M190.7 651.5h.7M191.2 649.3h.7M204.2 625.6h.7M204.9 649.1h.7M199.8 651.3h.7M194.7 654.3h.7M185.2 636.9h.7M204.7 655.9h.7M201.2 640.6h.7M202.3 653.5h.7M205.3 653.6h.7M203.2 632.0h.7M203.8 641.4h.7M202.8 642.8h.7M203.8 631.7h.7M204.2 664.5h.7M188.5 642.8h.7M203.8 655.0h.7M192.6 646.5h.7M206.7 638.4h.7M190.4 660.2h.7M190.7 654.3h.7M207.2 639.6h.7M193.6 648.8h.7M197.7 658.5h.7M200.3 640.5h.7M200.0 659.5h.7M185.4 651.3h.7M204.5 664.7h.7M187.2 669.4h.7M192.8 640.8h.7M188.9 661.4h.7M207.1 655.9h.7M200.8 642.2h.7M198.8 664.4h.7M193.9 641.4h.7M197.9 654.7h.7M196.3 650.9h.7M188.5 628.5h.7M198.5 652.8h.7M193.6 654.7h.7M191.9 656.8h.7M190.8 642.7h.7M198.9 648.4h.7M207.8 659.9h.7M195.1 660.1h.7M199.4 659.0h.7M203.9 664.7h.7M204.9 643.6h.7M193.2 648.6h.7M189.8 651.1h.7M183.9 657.3h.7M197.7 658.7h.7M200.3 663.1h.7M194.5 656.3h.7M195.5 654.2h.7M202.8 642.7h.7M198.5 653.9h.7M190.6 642.4h.7M191.4 642.8h.7M196.0 647.6h.7M193.5 657.2h.7M188.7 667.8h.7M181.5 642.5h.7M203.2 642.8h.7M189.9 671.0h.7M198.5 680.1h.7M191.0 653.8h.7M185.7 663.0h.7M184.9 663.7h.7M184.9 660.9h.7M199.2 647.6h.7M194.9 659.3h.7M193.7 650.9h.7M198.8 648.1h.7M196.0 667.1h.7M198.1 651.0h.7M193.5 651.6h.7M198.8 648.4h.7M204.7 660.6h.7M205.4 649.2h.7M202.5 652.4h.7M196.7 654.0h.7M203.4 654.6h.7M196.8 654.1h.7M185.3 655.4h.7M192.2 653.8h.7M199.1 642.0h.7M207.8 663.5h.7M188.5 649.2h.7M190.8 651.3h.7M199.6 642.5h.7M192.2 647.8h.7M187.6 647.2h.7M205.2 653.3h.7M198.7 645.6h.7M194.4 652.1h.7M200.9 632.1h.7M192.2 663.2h.7M196.0 667.0h.7M192.0 643.6h.7M193.9 639.8h.7M194.2 664.4h.7M202.8 651.2h.7M198.6 625.9h.7M201.0 666.3h.7M187.4 637.9h.7M201.7 661.7h.7M192.7 673.4h.7M198.6 656.0h.7M195.9 649.6h.7M192.1 645.3h.7M185.4 637.5h.7M187.5 655.0h.7M190.0 648.4h.7M188.6 641.5h.7M194.1 658.3h.7M202.4 652.6h.7M201.8 646.4h.7M195.5 659.1h.7M200.9 636.6h.7M185.5 654.3h.7M192.1 645.8h.7M188.4 648.8h.7M191.0 645.8h.7M196.0 661.7h.7M192.8 666.5h.7M189.1 640.1h.7M190.7 659.4h.7M208.6 657.5h.7M203.0 652.7h.7M200.6 665.0h.7M204.8 671.7h.7M197.6 634.6h.7M183.3 654.3h.7M194.9 658.9h.7M190.4 651.1h.7M199.1 639.8h.7M193.1 650.8h.7M203.1 637.5h.7M192.2 653.2h.7M198.7 660.7h.7M195.6 670.6h.7M200.8 647.0h.7M193.0 657.1h.7M191.5 655.1h.7M201.0 651.7h.7M200.6 665.6h.7M196.7 646.2h.7M197.0 657.8h.7M189.1 668.0h.7M203.0 659.3h.7M191.2 638.0h.7M194.6 650.9h.7M196.6 660.5h.7M203.9 653.2h.7M188.9 647.5h.7M194.8 648.1h.7M204.7 644.9h.7M202.2 663.3h.7M183.7 647.4h.7M200.7 660.0h.7M190.1 659.1h.7M194.7 665.7h.7M198.1 672.7h.7M209.6 649.0h.7M193.8 640.9h.7M192.2 653.5h.7M194.9 670.1h.7M188.2 659.6h.7M194.3 651.8h.7M183.1 671.7h.7M184.1 655.3h.7M202.5 653.4h.7M191.6 676.2h.7M202.0 646.2h.7M202.0 652.6h.7M185.7 664.6h.7M188.9 652.5h.7M197.8 654.0h.7M187.3 655.5h.7M192.1 648.1h.7M201.5 648.1h.7M186.8 669.3h.7M204.5 656.0h.7M199.2 634.9h.7M193.8 655.4h.7M189.0 644.2h.7M197.0 645.0h.7M197.0 670.5h.7M199.0 662.2h.7M190.6 657.2h.7M193.9 653.7h.7M188.4 641.4h.7M188.8 650.1h.7M205.5 658.4h.7M205.1 659.5h.7M186.5 633.1h.7M194.1 648.2h.7M201.1 648.9h.7M204.5 658.5h.7M186.2 643.9h.7M191.8 652.0h.7M189.4 635.0h.7M201.1 641.5h.7M184.4 654.6h.7M190.1 656.9h.7M195.5 654.6h.7M188.6 650.5h.7M197.3 637.9h.7M191.2 646.6h.7M208.7 650.4h.7M193.2 649.7h.7M192.4 648.3h.7M199.1 660.2h.7M191.3 647.5h.7M201.6 651.3h.7M200.2 655.8h.7M204.2 660.9h.7M200.0 663.7h.7M197.6 639.2h.7M190.1 663.9h.7M189.7 657.0h.7M191.0 659.0h.7M195.6 660.5h.7M203.1 645.2h.7M193.2 653.5h.7M200.7 673.8h.7M203.6 676.2h.7M195.2 627.0h.7M205.0 626.5h.7M185.9 671.6h.7M193.7 646.0h.7M195.4 649.2h.7M199.1 660.8h.7M187.4 658.7h.7M204.4 641.3h.7M196.4 660.3h.7M202.5 656.8h.7M189.5 632.5h.7M193.9 646.5h.7M201.5 658.5h.7M201.7 663.5h.7M195.8 645.2h.7M198.1 656.7h.7M186.8 652.7h.7M187.8 641.6h.7M192.5 659.1h.7M198.5 650.7h.7M188.4 652.8h.7M201.9 638.4h.7M198.5 640.0h.7M196.7 656.1h.7M205.0 649.0h.7M186.5 668.0h.7M205.2 662.3h.7M197.6 659.8h.7M189.7 655.2h.7M194.0 658.6h.7M192.6 652.5h.7M196.4 655.8h.7M190.6 670.0h.7M200.1 674.0h.7M194.9 673.0h.7M192.7 647.0h.7M197.7 642.2h.7M189.2 651.2h.7M198.4 662.0h.7M185.6 657.8h.7M199.3 656.7h.7M192.7 670.4h.7M199.6 643.6h.7M202.4 662.5h.7M205.3 652.5h.7M204.8 650.4h.7M201.3 661.2h.7M190.8 644.9h.7M195.3 655.0h.7M191.3 645.3h.7M196.9 642.8h.7M204.3 666.0h.7M196.3 649.8h.7M189.6 669.9h.7M197.0 643.7h.7M190.3 649.3h.7M187.4 650.1h.7M190.7 658.0h.7M188.1 635.4h.7M192.6 647.8h.7M192.6 636.4h.7M184.3 640.3h.7M188.1 654.1h.7M193.7 654.1h.7M191.5 668.9h.7M197.2 671.8h.7M200.9 657.3h.7M188.8 652.8h.7M208.4 666.6h.7M198.3 654.5h.7M201.1 662.8h.7M193.2 649.1h.7M205.3 630.7h.7M191.2 657.4h.7M186.9 643.2h.7M203.0 657.6h.7M195.0 657.0h.7M199.8 659.1h.7M209.2 657.1h.7M191.0 658.3h.7M186.4 650.0h.7M195.1 664.0h.7M193.2 655.0h.7M201.4 642.1h.7M205.3 652.5h.7M205.4 668.0h.7M201.4 658.9h.7M198.8 662.3h.7M203.0 659.0h.7M208.1 646.5h.7M198.6 676.1h.7M196.7 660.8h.7M195.3 673.0h.7M197.7 638.9h.7M185.7 637.0h.7M198.7 651.0h.7M195.8 668.1h.7M199.4 669.0h.7M202.9 664.4h.7M194.3 664.0h.7M202.7 657.4h.7M193.5 648.7h.7M184.9 658.1h.7M191.9 653.7h.7M189.7 660.8h.7M187.0 662.2h.7M187.5 647.3h.7M190.8 648.5h.7M189.0 672.5h.7M189.5 642.3h.7M188.0 657.6h.7M202.5 644.1h.7M197.6 656.1h.7M201.1 660.6h.7M192.0 644.3h.7M187.4 656.4h.7M202.2 657.2h.7M189.1 644.3h.7M186.8 672.1h.7M187.4 653.6h.7M196.5 673.1h.7M198.0 638.9h.7M194.7 638.0h.7M202.3 649.6h.7M201.9 663.9h.7M201.4 657.6h.7M201.0 656.9h.7M202.9 645.5h.7M186.6 653.5h.7M199.6 660.9h.7M193.1 663.8h.7M193.3 652.5h.7M193.1 649.2h.7M184.5 655.0h.7M190.2 672.5h.7M193.1 665.0h.7M191.8 655.3h.7M195.8 643.6h.7M204.2 655.3h.7M194.1 650.6h.7M197.3 648.1h.7M193.3 612.8h.7M189.2 670.9h.7M197.1 642.6h.7M193.6 655.0h.7M191.7 652.5h.7M196.8 656.6h.7M192.6 641.2h.7M203.5 648.1h.7M185.6 645.7h.7M199.3 667.9h.7M200.5 645.6h.7M204.7 638.6h.7M205.6 639.3h.7M195.9 662.1h.7M195.8 658.7h.7M198.9 630.4h.7M199.4 644.6h.7M188.9 651.2h.7M198.9 640.8h.7M202.1 658.4h.7M187.4 656.4h.7M204.2 671.8h.7M191.8 645.8h.7M195.7 658.4h.7M198.0 680.7h.7M193.4 660.7h.7M194.8 656.2h.7M184.7 668.2h.7M190.5 671.4h.7M190.6 653.0h.7M192.4 664.1h.7M191.7 674.8h.7M181.4 652.3h.7M200.7 650.2h.7M189.4 663.7h.7M183.8 660.0h.7M191.4 661.9h.7M185.9 655.8h.7M199.9 651.4h.7M208.8 652.6h.7M203.1 655.7h.7M201.4 635.4h.7M188.9 660.7h.7M206.4 676.1h.7M197.6 648.8h.7M190.0 642.1h.7M189.2 670.2h.7M202.3 662.4h.7M199.7 660.0h.7M192.4 644.6h.7M199.0 641.8h.7M185.7 663.5h.7M190.4 665.8h.7M189.0 649.9h.7M203.1 663.3h.7M191.7 663.5h.7M187.2 656.7h.7M184.9 646.8h.7M201.4 650.1h.7M201.4 642.9h.7M195.8 632.2h.7M196.6 631.7h.7M187.4 657.3h.7M189.2 661.1h.7M201.6 648.0h.7M204.1 652.8h.7M198.1 673.2h.7M186.8 657.2h.7M199.3 665.8h.7M204.5 670.2h.7M198.8 642.8h.7M195.1 664.4h.7M191.1 639.2h.7M196.8 660.6h.7M200.0 644.1h.7M203.9 664.7h.7M203.8 643.0h.7M188.1 647.2h.7M199.1 664.4h.7M186.4 650.0h.7M184.7 651.3h.7M201.1 666.2h.7M184.6 662.3h.7M192.3 650.1h.7M191.4 661.2h.7M206.2 663.0h.7M204.0 653.5h.7M203.7 659.8h.7M190.0 659.4h.7M193.9 658.7h.7M201.2 663.8h.7M197.9 670.9h.7M197.3 654.4h.7M188.3 673.1h.7M191.2 662.3h.7M200.2 650.0h.7M191.7 653.8h.7M198.9 665.5h.7M187.7 665.3h.7M198.3 675.6h.7M195.8 652.9h.7M187.0 651.4h.7M202.8 641.1h.7M196.9 643.8h.7M200.0 646.9h.7M191.9 661.6h.7M187.7 647.5h.7M188.2 661.5h.7M189.8 648.7h.7M199.9 650.2h.7M190.2 668.0h.7M190.8 662.5h.7M190.4 652.3h.7M198.3 668.6h.7M190.6 644.0h.7M199.2 657.0h.7M186.6 642.1h.7M185.6 665.1h.7M204.7 660.8h.7M191.8 651.4h.7M193.8 650.9h.7M191.7 668.1h.7M199.0 655.9h.7M202.4 646.6h.7M197.9 638.5h.7M195.6 668.3h.7M189.0 670.7h.7M205.1 666.3h.7M195.5 662.4h.7M189.9 656.6h.7M188.4 652.6h.7M200.1 646.0h.7M186.6 661.9h.7M201.9 653.6h.7M189.8 661.1h.7M208.6 655.3h.7M196.5 655.8h.7M198.5 664.5h.7M185.0 656.6h.7M188.5 683.5h.7M193.8 669.1h.7M198.6 652.1h.7M203.5 656.3h.7M194.6 669.0h.7M197.9 679.0h.7M198.6 640.4h.7M197.1 654.2h.7M205.2 636.9h.7M191.1 658.4h.7M197.5 652.8h.7M189.2 657.3h.7M194.5 665.5h.7M203.0 642.5h.7M201.2 648.6h.7M198.1 657.6h.7M206.2 649.5h.7M185.5 649.5h.7M198.2 641.3h.7M208.1 634.5h.7M186.9 653.7h.7M186.1 672.2h.7M200.7 672.6h.7M187.5 681.8h.7M202.3 665.5h.7M193.6 652.9h.7M187.4 638.1h.7M187.0 658.8h.7M190.6 648.8h.7M194.6 650.4h.7M201.5 640.8h.7M203.2 642.4h.7M200.9 663.4h.7M194.9 649.0h.7M185.9 652.5h.7M197.5 659.5h.7M199.8 667.4h.7M198.9 643.1h.7M202.8 674.6h.7M197.8 654.1h.7M199.5 650.9h.7M202.3 659.1h.7M197.1 635.9h.7M188.7 649.6h.7M196.8 655.6h.7M206.1 650.6h.7M199.7 647.2h.7M197.5 659.6h.7M200.2 655.4h.7M188.1 649.4h.7M195.9 648.4h.7M187.4 652.7h.7M190.4 647.6h.7M202.8 667.5h.7M201.8 661.5h.7M193.2 643.3h.7M195.8 650.3h.7M187.1 642.3h.7M203.5 660.2h.7M192.0 660.1h.7M185.7 653.2h.7M192.5 655.2h.7M204.8 659.2h.7M191.2 656.4h.7M192.5 668.8h.7M196.5 654.2h.7M195.5 665.2h.7M205.4 674.6h.7M185.2 642.0h.7M197.6 646.2h.7M187.1 640.6h.7M202.9 649.1h.7M196.1 654.0h.7M203.0 658.7h.7M189.6 637.2h.7M188.6 654.1h.7M195.3 651.0h.7M192.3 666.1h.7M191.2 644.0h.7M195.6 658.1h.7M196.8 669.6h.7M206.0 659.9h.7M190.3 658.6h.7M203.3 641.5h.7M199.7 644.1h.7M193.7 637.1h.7M201.1 670.5h.7M192.0 656.0h.7M207.1 659.1h.7M193.0 659.2h.7M203.2 671.2h.7M192.8 651.5h.7M187.6 660.1h.7M205.2 644.3h.7M190.1 669.6h.7M199.6 650.8h.7M196.6 641.7h.7M206.3 649.1h.7M197.4 631.2h.7M188.0 643.5h.7M198.7 652.2h.7M189.5 649.3h.7M190.9 653.1h.7M201.7 650.4h.7M195.1 644.0h.7M186.6 664.6h.7M188.7 639.6h.7M206.0 645.2h.7M196.1 647.5h.7M191.5 659.9h.7M201.5 655.9h.7M202.0 647.9h.7M191.0 648.8h.7M197.4 665.5h.7M197.1 669.1h.7M192.3 653.6h.7M197.0 646.0h.7M199.3 657.5h.7M203.0 672.1h.7M185.9 648.2h.7M203.8 658.4h.7M199.2 643.6h.7M186.2 653.6h.7M205.6 662.8h.7M191.6 657.8h.7M203.3 645.7h.7M197.7 650.9h.7M188.6 650.3h.7M200.5 659.9h.7M203.2 642.6h.7M188.4 652.9h.7M196.1 665.9h.7M186.5 666.9h.7M193.5 658.1h.7M201.4 667.6h.7M202.4 659.7h.7M204.5 661.5h.7M195.6 673.8h.7M192.5 646.0h.7M201.2 663.0h.7M192.8 635.3h.7M188.4 646.7h.7M201.7 655.0h.7M190.1 655.2h.7M196.8 669.2h.7M205.4 656.4h.7M203.7 672.4h.7M188.9 647.2h.7M193.9 654.8h.7M197.7 648.9h.7M202.1 631.9h.7M197.5 650.1h.7M192.5 655.8h.7M197.8 648.0h.7M206.2 646.8h.7M193.8 647.1h.7M202.7 644.2h.7M201.2 648.9h.7M189.4 638.3h.7M192.4 656.0h.7M193.8 627.5h.7M187.3 634.4h.7M186.8 650.8h.7M193.6 658.3h.7M202.1 650.5h.7M200.4 638.6h.7M200.4 651.2h.7M189.7 638.8h.7M200.1 657.8h.7M194.4 670.9h.7M190.2 657.4h.7M188.4 643.4h.7M198.1 659.8h.7M192.7 667.5h.7M191.0 643.0h.7M194.7 662.1h.7M186.1 649.8h.7M192.5 658.3h.7M195.7 661.2h.7M184.6 644.3h.7M183.7 639.9h.7M201.4 679.0h.7M198.1 671.2h.7M190.7 669.5h.7M193.8 658.9h.7M204.6 657.3h.7M197.2 660.6h.7M191.4 651.1h.7M189.3 653.6h.7M198.1 659.7h.7M195.4 660.1h.7M205.4 652.3h.7M192.7 649.6h.7M200.9 670.6h.7M188.7 651.4h.7M206.9 646.8h.7M194.5 655.5h.7M187.8 649.3h.7M190.5 635.9h.7M202.2 640.6h.7M191.7 626.4h.7M202.3 636.2h.7M202.9 665.3h.7M196.5 651.2h.7M198.3 620.8h.7M188.1 646.4h.7M194.3 667.3h.7M198.1 637.7h.7M188.6 663.6h.7M187.4 641.5h.7M192.5 648.0h.7M201.0 648.8h.7M191.1 661.3h.7M192.0 645.6h.7M194.5 650.0h.7M192.6 643.3h.7M198.6 662.8h.7M192.9 655.4h.7M208.2 638.7h.7M193.7 643.8h.7M189.0 648.2h.7M203.4 650.0h.7M188.8 651.0h.7M188.8 656.1h.7M193.6 652.6h.7M195.1 664.6h.7M198.3 644.0h.7M207.2 656.6h.7M197.8 667.2h.7M198.0 660.7h.7M197.2 660.4h.7M201.5 650.8h.7M201.4 642.7h.7M194.9 636.0h.7M182.1 646.1h.7M195.4 645.3h.7M187.8 667.5h.7M189.9 641.6h.7M192.0 658.8h.7M186.6 655.5h.7M202.9 673.5h.7M196.9 643.2h.7M192.4 668.1h.7M203.8 639.0h.7M191.8 660.2h.7M205.3 668.8h.7M201.7 647.7h.7M187.8 657.2h.7M203.2 664.3h.7M191.9 645.3h.7M199.0 642.9h.7M195.7 637.9h.7M202.5 653.3h.7M193.8 642.7h.7M197.3 671.8h.7M193.8 653.8h.7M200.6 665.6h.7M192.6 654.3h.7M201.7 676.5h.7M204.6 668.0h.7M195.3 651.2h.7M188.0 654.3h.7M203.7 631.9h.7M185.8 657.0h.7M201.3 643.2h.7M204.7 662.5h.7M199.2 662.1h.7M195.9 645.5h.7M202.9 664.1h.7M197.9 641.6h.7M200.7 644.3h.7M195.0 633.4h.7M190.3 646.9h.7M204.3 646.1h.7M187.7 659.6h.7M189.2 662.6h.7M186.9 650.2h.7M196.2 664.4h.7M199.5 666.9h.7M206.3 630.4h.7M199.7 649.7h.7M206.5 651.1h.7M187.2 672.1h.7M200.4 661.5h.7M188.3 656.9h.7M201.4 647.0h.7M184.9 659.0h.7M197.6 667.5h.7M184.5 652.5h.7M194.8 642.8h.7M195.2 664.1h.7M189.6 637.4h.7M201.6 650.3h.7M185.4 663.6h.7M192.2 643.9h.7M186.7 651.9h.7M186.1 639.5h.7M195.2 671.2h.7M186.3 653.2h.7M198.2 659.6h.7M200.5 647.8h.7M201.1 674.0h.7M190.9 668.6h.7M197.5 654.9h.7M192.0 659.3h.7M202.8 636.1h.7M189.7 656.6h.7M184.5 667.3h.7M198.1 648.6h.7M193.5 650.8h.7M202.7 649.9h.7M203.4 658.7h.7M189.9 656.0h.7M194.7 636.1h.7M189.4 661.4h.7M193.0 649.4h.7M205.3 653.3h.7M190.1 649.3h.7M188.4 647.4h.7M199.8 655.7h.7M189.0 640.8h.7M197.5 639.1h.7M191.8 651.5h.7M194.5 665.8h.7M201.4 649.7h.7M204.2 650.9h.7M199.0 651.6h.7M191.3 654.4h.7M195.5 649.0h.7M191.2 669.4h.7M198.0 657.0h.7M203.0 654.4h.7M186.6 657.7h.7M196.5 661.6h.7M203.5 665.9h.7M194.0 652.4h.7M197.8 655.4h.7M191.3 656.9h.7M206.9 647.8h.7M188.3 647.4h.7M192.8 652.3h.7M202.7 658.0h.7M192.3 653.3h.7M198.8 628.5h.7M190.5 641.4h.7M193.3 655.3h.7M188.2 649.2h.7M206.7 653.6h.7M185.0 648.5h.7M202.1 664.7h.7M198.1 658.4h.7M199.3 661.7h.7M195.6 641.2h.7M187.2 665.3h.7M197.1 646.8h.7M189.9 673.7h.7M186.5 649.5h.7M193.9 652.1h.7M202.5 634.4h.7M192.1 656.2h.7M200.3 644.3h.7M196.4 646.9h.7M202.1 662.2h.7M203.3 677.1h.7M201.7 647.9h.7M188.5 640.6h.7M200.2 630.9h.7M194.8 647.0h.7M185.8 657.4h.7M185.5 639.4h.7M189.7 643.2h.7M185.2 668.3h.7M203.2 665.5h.7M186.7 666.2h.7M200.3 642.8h.7M195.6 645.6h.7M195.2 642.3h.7M199.9 650.2h.7M195.0 650.7h.7M192.4 658.5h.7M195.4 660.9h.7M193.3 659.7h.7M194.1 662.4h.7M207.4 664.0h.7M192.6 650.5h.7M192.4 650.7h.7M196.4 646.6h.7M201.5 675.9h.7M191.9 652.6h.7M195.4 644.8h.7M204.3 645.3h.7M183.9 650.0h.7M207.1 653.8h.7M195.2 652.7h.7M198.6 654.5h.7M206.7 671.3h.7M195.0 646.8h.7M188.9 655.0h.7M185.8 668.2h.7M185.7 640.0h.7M183.8 643.1h.7M202.7 665.6h.7M193.1 642.5h.7M189.4 658.5h.7M206.0 644.6h.7M194.0 661.9h.7M190.0 673.1h.7M200.5 646.8h.7M191.8 644.1h.7M200.9 654.4h.7M194.8 642.9h.7M201.8 641.0h.7M202.3 645.4h.7M197.6 651.1h.7M188.6 670.8h.7M187.4 662.6h.7M193.5 665.6h.7M201.6 664.0h.7M193.3 651.1h.7M204.9 642.3h.7M190.9 661.3h.7M191.3 644.8h.7M187.5 668.1h.7M191.4 650.7h.7M193.6 646.2h.7M191.1 659.1h.7M183.8 657.6h.7M193.8 659.7h.7M196.1 648.8h.7M187.0 657.6h.7M192.7 639.3h.7M193.3 658.9h.7M200.2 638.2h.7M203.0 657.0h.7M201.6 657.8h.7M187.6 665.3h.7M196.6 659.1h.7M206.5 644.0h.7M195.7 651.1h.7M203.4 662.7h.7M191.3 662.8h.7M189.3 648.4h.7M201.9 659.1h.7M199.2 669.4h.7M195.1 646.7h.7M192.8 659.6h.7M198.6 659.6h.7M202.6 653.0h.7M191.3 657.7h.7M197.0 669.8h.7M203.0 659.1h.7M195.8 656.5h.7M187.3 653.3h.7M190.7 650.7h.7M191.2 641.8h.7M185.5 643.4h.7M195.7 638.7h.7M194.7 651.6h.7M196.5 644.1h.7M187.6 636.8h.7M186.7 666.0h.7M188.9 651.9h.7M190.6 664.2h.7M190.9 668.4h.7M193.4 670.2h.7M190.4 653.6h.7M198.6 629.2h.7M187.6 659.1h.7M196.2 653.6h.7M202.4 638.3h.7M203.3 627.8h.7M195.7 665.5h.7M201.9 665.5h.7M198.1 667.9h.7M197.7 669.5h.7M190.9 667.0h.7M190.4 659.8h.7M198.8 658.5h.7M191.0 665.0h.7M196.5 660.2h.7M195.2 656.1h.7M185.5 661.2h.7M200.3 649.3h.7M197.0 646.1h.7M198.4 675.4h.7M188.5 678.2h.7M189.1 667.8h.7M185.3 646.5h.7M197.2 650.7h.7M203.0 665.1h.7M205.5 660.0h.7M195.8 653.2h.7M186.0 673.3h.7M190.1 655.6h.7M193.8 655.0h.7M200.7 655.0h.7M192.0 648.0h.7M190.6 664.9h.7M186.4 637.1h.7M196.9 655.3h.7M203.7 662.4h.7M202.2 671.7h.7M188.4 661.6h.7M198.5 642.5h.7M193.8 663.4h.7M200.6 663.0h.7M194.7 655.9h.7M203.5 648.8h.7M188.8 641.8h.7M202.5 651.3h.7M199.3 657.0h.7M183.1 684.1h.7M193.4 660.3h.7M189.0 656.5h.7M206.0 636.8h.7M203.6 642.2h.7M199.4 648.4h.7M201.0 653.3h.7M201.2 653.4h.7M198.5 666.0h.7M193.5 670.9h.7M193.2 668.1h.7M200.6 647.7h.7M189.6 650.0h.7M198.9 646.0h.7M199.4 639.1h.7M196.6 640.8h.7M201.9 658.9h.7M199.6 646.1h.7M187.6 661.3h.7M200.9 651.8h.7M190.9 649.4h.7M196.5 655.2h.7M196.2 655.7h.7M192.3 685.0h.7M194.4 647.5h.7M205.4 657.9h.7M195.2 640.2h.7M194.4 650.5h.7M188.2 670.1h.7M206.1 661.0h.7M201.8 674.6h.7M187.0 636.8h.7M192.1 645.6h.7M198.7 656.2h.7M201.3 643.5h.7M200.3 647.5h.7M199.4 640.2h.7M201.1 661.8h.7M195.2 650.4h.7M188.7 653.7h.7M190.8 640.9h.7M186.1 650.2h.7M204.7 672.5h.7M199.1 662.5h.7M189.3 654.7h.7M193.3 645.5h.7M193.9 651.6h.7M191.3 655.3h.7M204.0 675.0h.7M196.1 656.7h.7M191.3 652.1h.7M203.1 652.6h.7M196.3 643.2h.7M195.1 657.1h.7M196.2 643.6h.7M200.3 646.7h.7M198.4 650.0h.7M201.9 677.5h.7M200.3 672.9h.7M197.8 652.4h.7M190.2 663.4h.7M199.3 656.6h.7M188.4 661.3h.7M197.4 653.9h.7M190.5 662.7h.7M208.5 672.8h.7M192.8 654.2h.7M208.2 668.4h.7M196.6 654.9h.7M188.7 664.0h.7M187.0 643.6h.7M202.8 661.3h.7M199.9 646.2h.7M196.0 647.2h.7M199.2 656.0h.7M202.1 679.0h.7M206.0 658.6h.7M195.9 667.5h.7M204.6 661.3h.7M205.8 652.0h.7M199.4 642.2h.7M191.7 644.3h.7M194.5 635.8h.7M195.9 659.3h.7M184.4 654.2h.7M188.3 656.3h.7M196.5 660.0h.7M191.8 675.9h.7M202.4 651.4h.7M195.1 658.0h.7M200.5 660.5h.7M194.5 662.9h.7M193.9 652.5h.7M206.3 669.0h.7M196.2 648.5h.7M200.9 655.6h.7M200.7 636.0h.7M205.9 656.8h.7M184.5 653.2h.7M204.9 650.9h.7M202.0 647.3h.7M191.6 660.3h.7M184.6 663.4h.7M200.2 681.9h.7M188.2 648.7h.7M186.5 661.5h.7M198.6 661.2h.7M192.2 669.3h.7M192.4 649.3h.7M201.2 648.2h.7M194.1 654.9h.7M197.2 648.7h.7M195.6 655.4h.7M196.3 647.4h.7M189.2 655.9h.7M198.4 666.6h.7M204.6 655.9h.7M188.5 659.7h.7M185.8 663.4h.7M192.8 663.6h.7M202.3 659.0h.7M191.9 638.0h.7M206.1 642.9h.7M198.7 670.2h.7M188.2 646.7h.7M198.7 653.2h.7M203.5 665.9h.7M195.6 645.4h.7M189.9 632.7h.7M204.0 645.4h.7M201.1 663.3h.7M191.2 665.0h.7M200.3 661.3h.7M190.5 678.9h.7M191.7 667.8h.7M186.9 634.4h.7M185.3 635.1h.7M192.7 652.7h.7M186.1 634.9h.7M193.3 664.5h.7M198.6 632.9h.7M187.1 654.6h.7M197.1 643.3h.7M186.9 660.5h.7M189.5 675.9h.7M194.9 655.1h.7M187.9 627.5h.7M195.8 646.8h.7M191.8 645.6h.7M203.9 654.7h.7M192.6 670.1h.7M199.8 649.4h.7M197.3 646.6h.7M195.2 638.9h.7M187.2 644.4h.7M194.2 660.8h.7M195.9 650.8h.7M196.7 649.5h.7M200.0 644.3h.7M187.0 656.5h.7M191.9 667.2h.7M192.1 658.6h.7M196.7 666.2h.7M201.4 644.3h.7M185.4 649.0h.7M198.0 662.9h.7M192.1 672.2h.7M194.6 667.7h.7M194.8 643.7h.7M192.6 663.6h.7M200.4 657.2h.7M205.6 658.6h.7M198.7 661.3h.7M194.2 646.5h.7M196.2 655.6h.7M193.5 659.4h.7M194.3 665.9h.7M200.0 652.8h.7M203.0 656.6h.7M188.3 646.0h.7M193.6 661.9h.7M193.0 666.8h.7M206.4 649.1h.7M196.6 649.7h.7M202.2 641.7h.7M200.0 653.5h.7M196.5 659.3h.7M192.8 649.6h.7M204.8 662.0h.7M197.8 669.9h.7M192.5 664.9h.7M195.0 643.2h.7M192.4 658.3h.7M191.5 648.5h.7M199.1 658.0h.7M193.4 643.2h.7M198.7 666.6h.7M196.4 662.4h.7M195.0 667.1h.7M200.9 659.6h.7M200.6 656.4h.7M203.2 666.6h.7M195.2 667.7h.7M197.3 655.6h.7M197.0 652.9h.7M198.8 656.4h.7M196.2 674.4h.7M184.1 653.7h.7M202.3 650.3h.7M189.7 668.4h.7M204.1 653.7h.7M197.2 653.8h.7M191.5 662.0h.7M199.1 657.4h.7M190.8 658.4h.7M193.0 652.2h.7M196.8 657.3h.7M189.1 663.4h.7M193.7 654.0h.7M190.2 650.4h.7M188.5 655.4h.7M191.7 652.7h.7M201.1 650.4h.7M199.8 649.0h.7M195.3 642.3h.7M195.9 661.3h.7M180.3 648.4h.7M197.2 657.6h.7M192.2 654.3h.7M197.9 658.7h.7M187.4 662.2h.7M191.6 656.9h.7M195.9 653.3h.7M201.0 661.8h.7M197.5 670.7h.7M193.2 655.0h.7M199.8 655.5h.7M191.0 660.2h.7M198.5 645.0h.7M198.2 650.8h.7M195.3 657.5h.7M202.1 658.7h.7M200.6 654.0h.7M196.9 651.0h.7M201.7 656.5h.7M192.7 664.8h.7M199.2 660.4h.7M197.1 659.1h.7M197.0 656.2h.7M193.7 659.5h.7M193.6 668.7h.7M195.8 655.9h.7M187.1 653.1h.7M194.9 641.2h.7M192.3 649.6h.7M194.8 662.8h.7M186.9 659.9h.7M200.5 665.1h.7M194.9 642.9h.7M198.2 657.1h.7M198.4 662.2h.7M194.5 644.3h.7M191.9 643.7h.7M196.9 652.8h.7M185.4 638.5h.7M197.5 643.6h.7M186.6 664.2h.7M193.8 649.3h.7M194.8 667.1h.7M194.6 666.5h.7M198.1 654.7h.7M198.9 646.4h.7M188.6 649.8h.7M200.2 649.5h.7M193.5 647.7h.7M195.2 650.6h.7M198.0 648.8h.7M194.7 662.7h.7M190.5 645.9h.7M189.8 640.2h.7M199.6 656.0h.7M199.0 651.3h.7M195.2 663.7h.7M196.6 666.9h.7M194.2 638.5h.7M189.1 647.2h.7M193.9 648.1h.7M189.4 650.5h.7M188.0 655.3h.7M194.3 659.9h.7M201.5 654.0h.7M203.0 650.8h.7M192.1 650.8h.7M190.3 665.4h.7M185.2 658.3h.7M196.6 656.8h.7M194.3 660.6h.7M201.0 652.5h.7M195.6 664.9h.7M185.3 663.0h.7M190.7 652.1h.7M199.5 661.2h.7M195.2 652.0h.7M191.9 656.0h.7M198.3 664.2h.7M196.3 656.8h.7M200.1 651.6h.7M194.6 657.4h.7M193.7 662.3h.7M193.9 653.0h.7M206.7 649.3h.7M198.9 658.1h.7M191.4 658.8h.7M189.5 645.7h.7M196.5 637.2h.7M185.9 649.3h.7M191.5 657.1h.7M185.6 658.0h.7M191.9 653.6h.7M189.6 646.5h.7M207.6 657.5h.7M194.2 670.4h.7M200.7 628.8h.7M194.4 661.5h.7M191.5 650.6h.7M198.0 651.8h.7M193.2 645.0h.7M193.4 652.2h.7M194.8 662.7h.7M193.0 635.3h.7M188.1 661.6h.7M190.7 651.4h.7M198.7 674.7h.7M185.6 667.5h.7M196.7 653.9h.7M185.9 643.8h.7M199.6 638.1h.7M205.0 657.9h.7M194.1 636.0h.7M194.5 663.3h.7M196.8 658.8h.7M195.9 658.9h.7M199.0 672.0h.7M191.1 653.5h.7M199.1 650.6h.7M186.4 655.9h.7M191.6 665.2h.7M201.4 665.2h.7M201.9 665.6h.7M194.0 645.8h.7M197.7 673.8h.7M197.5 668.0h.7M199.4 659.3h.7M189.2 656.7h.7M200.8 654.3h.7M194.6 646.7h.7M188.1 648.9h.7M188.0 664.1h.7M202.1 643.2h.7M198.5 658.1h.7M192.3 655.6h.7M203.3 654.0h.7M197.6 650.2h.7M194.3 635.1h.7M194.1 659.7h.7M186.1 653.2h.7M184.5 660.6h.7M193.3 658.4h.7M186.1 656.4h.7M195.6 644.0h.7M199.1 669.4h.7M193.0 648.3h.7M197.1 673.3h.7M193.2 646.1h.7M194.7 646.0h.7M194.2 644.3h.7M188.9 670.2h.7M196.9 649.5h.7M192.0 668.8h.7M192.3 663.1h.7M196.9 663.4h.7M197.4 648.0h.7M189.8 655.4h.7M193.5 663.2h.7M192.8 641.1h.7M193.4 671.5h.7M187.5 653.4h.7M198.6 669.2h.7M196.2 668.7h.7M193.0 658.3h.7M193.3 640.6h.7M196.1 636.7h.7M203.5 674.2h.7M200.7 647.9h.7M193.3 659.4h.7M200.6 652.8h.7M192.7 657.2h.7M201.6 651.1h.7M202.4 656.4h.7M192.3 653.6h.7M191.9 657.5h.7M193.4 648.1h.7M196.1 649.9h.7M194.5 663.5h.7M199.3 655.6h.7M195.3 654.9h.7M179.6 650.6h.7M193.3 662.1h.7M201.0 651.5h.7M190.8 643.7h.7M196.9 660.4h.7M191.8 664.5h.7M199.8 653.9h.7M193.2 651.6h.7M195.3 636.4h.7M186.3 653.2h.7M196.2 664.1h.7M183.5 667.3h.7M185.8 659.0h.7M195.8 643.3h.7M196.2 653.0h.7M193.7 656.6h.7M188.7 645.4h.7M186.2 659.9h.7M197.1 646.5h.7M189.4 655.0h.7M190.3 658.1h.7M198.0 644.3h.7M195.2 650.4h.7M198.9 639.0h.7M200.2 653.2h.7M195.1 650.6h.7M184.9 657.1h.7M199.6 662.3h.7M194.4 643.6h.7M187.5 661.8h.7M194.2 657.2h.7M192.6 648.4h.7M196.8 644.0h.7M199.1 658.0h.7M198.4 659.8h.7M201.0 654.3h.7M198.3 659.3h.7M196.9 655.2h.7M188.5 664.0h.7M203.0 658.7h.7M200.1 652.7h.7M188.1 671.9h.7M195.0 647.5h.7M197.2 647.3h.7M198.8 661.4h.7M193.9 660.0h.7M188.6 662.3h.7M194.6 647.9h.7M196.0 653.3h.7M196.1 662.4h.7M196.9 654.5h.7M194.2 654.9h.7M199.5 642.2h.7M197.7 658.1h.7M186.2 650.8h.7M195.0 667.3h.7M196.0 650.4h.7M196.7 659.7h.7M197.1 677.2h.7M196.3 644.2h.7M200.3 648.4h.7M204.1 660.6h.7M194.3 655.9h.7M196.1 665.9h.7M198.9 657.4h.7M190.2 657.3h.7M199.1 657.4h.7M193.9 646.2h.7M204.6 656.2h.7M195.4 656.0h.7M192.9 649.8h.7M206.6 647.5h.7M192.9 643.9h.7M193.8 658.6h.7M193.2 669.3h.7M199.8 650.8h.7M190.7 671.6h.7M193.4 654.3h.7M201.3 664.5h.7M195.3 657.9h.7M195.5 656.5h.7M192.9 663.6h.7M196.1 658.7h.7M193.8 646.9h.7M200.1 658.4h.7M192.2 657.1h.7M186.7 655.0h.7M200.0 659.4h.7M193.6 654.5h.7M193.4 654.0h.7M194.4 643.8h.7M190.7 655.7h.7M195.4 662.5h.7M196.9 656.9h.7M189.3 661.8h.7M187.6 651.2h.7M195.7 648.4h.7M200.0 665.3h.7M190.1 647.1h.7M196.4 655.4h.7M205.2 662.0h.7M206.1 644.1h.7M189.7 648.4h.7M188.9 645.3h.7M203.2 659.2h.7M199.7 661.4h.7M195.2 650.7h.7M199.6 670.0h.7M187.1 666.9h.7M198.0 648.8h.7M189.3 655.7h.7M193.6 660.6h.7M194.6 645.3h.7M195.6 651.5h.7M200.3 665.1h.7M197.1 664.7h.7M195.2 654.4h.7M205.2 640.9h.7M199.9 672.8h.7M201.5 650.3h.7M200.4 657.0h.7M197.7 651.9h.7M193.6 666.1h.7M191.7 646.3h.7M190.7 644.8h.7M197.6 668.9h.7M203.9 638.8h.7M192.0 661.5h.7M197.8 655.2h.7M200.9 663.8h.7M193.9 640.2h.7M194.3 662.1h.7M198.0 663.5h.7M198.0 638.4h.7M189.5 669.5h.7M199.8 665.1h.7M200.7 654.5h.7M200.3 649.7h.7M198.5 656.0h.7M188.9 640.9h.7M189.7 660.1h.7M196.2 654.6h.7M194.8 656.7h.7M203.5 653.0h.7M190.6 654.3h.7M190.7 662.8h.7M196.7 658.2h.7M199.6 645.8h.7M191.3 653.2h.7M190.0 656.8h.7M189.8 646.2h.7M190.3 664.8h.7M200.1 665.5h.7M198.0 660.0h.7M193.8 653.9h.7M195.6 664.2h.7M185.9 664.8h.7M200.0 655.9h.7M203.8 662.1h.7M196.4 657.6h.7M199.3 648.6h.7M202.5 639.5h.7M192.0 656.3h.7M192.1 641.0h.7M200.2 633.8h.7M199.2 654.3h.7M196.7 660.6h.7M188.8 650.0h.7M183.2 637.8h.7M196.2 673.5h.7M196.5 650.3h.7M199.2 660.3h.7M200.7 667.9h.7M198.9 657.6h.7M187.5 651.9h.7M193.3 652.0h.7M197.4 657.1h.7M192.1 662.4h.7M195.9 649.9h.7M197.1 652.7h.7M198.1 667.8h.7M187.9 657.5h.7M193.9 659.3h.7M201.6 673.0h.7M195.4 649.9h.7M204.7 664.0h.7M197.1 666.2h.7M190.5 663.3h.7M197.9 657.5h.7M190.5 660.5h.7M207.4 643.7h.7M202.9 659.5h.7M198.8 653.0h.7M206.7 657.6h.7M193.0 651.9h.7M200.6 666.8h.7M186.7 644.6h.7M192.8 634.6h.7M191.4 650.0h.7M199.0 666.6h.7M194.3 664.2h.7M182.2 650.7h.7M191.7 660.0h.7M194.5 667.8h.7M193.6 655.0h.7M188.1 667.5h.7M189.3 670.7h.7M195.7 673.0h.7M199.9 644.3h.7M193.8 650.1h.7M191.5 656.6h.7M196.0 650.6h.7M191.7 662.1h.7M194.4 653.6h.7M205.4 657.5h.7M193.3 659.4h.7M199.4 663.2h.7M196.0 644.8h.7M196.3 672.7h.7M195.4 656.2h.7M190.0 650.6h.7M193.9 647.5h.7M198.1 651.1h.7M188.7 645.4h.7M194.3 632.4h.7M203.2 663.6h.7M196.2 647.9h.7M190.6 651.7h.7M203.3 660.1h.7M199.6 665.8h.7M190.0 641.3h.7M193.9 644.9h.7M197.1 655.1h.7M195.7 652.5h.7M190.5 660.3h.7M190.8 657.7h.7M188.0 647.6h.7M192.1 664.8h.7M203.3 657.9h.7M200.3 657.9h.7M203.2 642.9h.7M194.4 660.4h.7M201.1 650.9h.7M190.8 654.8h.7M191.3 644.7h.7M188.1 649.8h.7M198.6 659.6h.7M196.4 659.6h.7M192.6 666.5h.7M189.5 650.0h.7M194.9 639.0h.7M195.3 670.2h.7M195.2 662.8h.7M191.8 654.5h.7M190.7 650.2h.7M184.4 665.5h.7M200.6 658.1h.7M196.9 657.6h.7M197.8 663.3h.7M201.1 653.8h.7M194.9 664.6h.7M196.5 662.5h.7M197.4 662.4h.7M192.6 653.7h.7M194.0 655.0h.7M200.9 656.7h.7M198.5 660.7h.7M199.4 675.7h.7M195.0 648.4h.7M191.6 655.3h.7M200.2 650.4h.7M196.4 654.0h.7M189.2 643.7h.7M189.3 652.8h.7M197.3 651.8h.7M203.3 653.5h.7M193.3 646.6h.7M195.4 659.0h.7M199.4 657.2h.7M195.3 655.3h.7M200.5 647.8h.7M189.0 645.7h.7M192.1 665.7h.7M197.2 663.0h.7M198.6 654.9h.7M202.3 647.1h.7M195.2 653.2h.7M190.9 652.7h.7M196.6 660.2h.7M201.6 646.4h.7M192.9 661.7h.7M195.1 662.9h.7M187.5 660.4h.7M194.7 656.2h.7M198.8 653.5h.7M188.5 651.3h.7M189.7 672.6h.7M186.2 659.3h.7M188.8 660.2h.7M191.5 641.7h.7M192.6 662.3h.7M202.7 671.0h.7M205.6 657.7h.7M197.9 658.5h.7M195.2 650.3h.7M194.2 657.2h.7M190.4 650.4h.7M190.8 658.3h.7M195.3 658.5h.7M196.4 661.4h.7M189.0 651.8h.7M195.3 671.8h.7M187.7 654.9h.7M186.9 666.1h.7M193.2 656.3h.7M195.9 656.6h.7M198.6 664.3h.7M200.3 644.1h.7M189.1 656.5h.7M195.9 661.3h.7M190.2 654.5h.7M192.3 659.2h.7M192.8 671.6h.7M196.0 653.4h.7M196.2 667.5h.7M193.0 646.0h.7M196.9 658.2h.7M193.6 660.8h.7M199.9 657.0h.7M207.0 652.1h.7M194.1 642.6h.7M202.9 664.0h.7M199.3 648.4h.7M205.1 676.0h.7M195.1 640.8h.7M197.6 647.3h.7M193.9 667.0h.7M193.4 662.2h.7M197.5 662.4h.7M198.8 656.6h.7M194.2 654.9h.7M186.9 663.5h.7M191.6 651.1h.7M188.7 654.3h.7M191.0 659.2h.7M191.8 660.0h.7M194.2 657.8h.7M189.2 657.1h.7M188.5 655.9h.7M186.5 655.4h.7M195.0 661.9h.7M195.7 661.1h.7M198.0 648.4h.7M192.9 633.8h.7M198.6 668.3h.7M188.5 654.6h.7M194.8 648.2h.7M191.7 663.6h.7M193.0 658.4h.7M191.9 649.0h.7M200.9 646.5h.7M195.2 658.0h.7M194.7 677.7h.7M191.5 656.9h.7M189.8 656.7h.7M183.9 646.5h.7M189.0 660.4h.7M192.4 665.2h.7M180.9 655.9h.7M190.1 652.4h.7M198.4 657.2h.7M196.7 648.5h.7M191.9 658.7h.7M190.3 654.0h.7M197.0 658.0h.7M191.0 654.9h.7M192.4 648.7h.7M197.8 655.6h.7M198.4 671.1h.7M195.0 667.9h.7M195.7 652.6h.7M198.9 656.0h.7M193.4 663.1h.7M193.0 657.3h.7M198.7 649.7h.7M194.1 651.4h.7M187.8 653.0h.7M189.2 641.3h.7M194.8 650.5h.7M194.4 654.2h.7M199.0 666.5h.7M198.4 657.0h.7M197.6 641.4h.7M197.5 658.7h.7M196.1 650.3h.7M197.7 665.5h.7M189.1 657.3h.7M189.8 639.2h.7M194.3 657.2h.7M195.4 654.2h.7M196.6 661.5h.7M189.4 643.7h.7M194.7 663.3h.7M200.5 649.1h.7M191.8 667.8h.7M199.5 657.2h.7M194.5 656.2h.7M191.4 679.0h.7M192.8 647.5h.7M194.3 663.7h.7M193.9 641.7h.7M199.4 653.4h.7M199.2 650.0h.7M196.4 666.9h.7M198.3 665.4h.7M194.1 659.9h.7M195.8 650.6h.7M200.2 658.2h.7M188.1 645.5h.7M199.9 658.6h.7M192.2 662.0h.7M193.0 653.4h.7M197.4 662.0h.7M204.4 668.5h.7M196.6 650.4h.7M197.2 656.8h.7M203.8 663.6h.7M192.4 648.0h.7M199.9 667.2h.7M195.6 646.1h.7M193.0 656.1h.7M192.1 644.6h.7M189.6 664.7h.7M188.9 660.2h.7M189.1 640.3h.7M189.7 660.6h.7M202.0 649.4h.7M185.3 672.0h.7M198.5 666.9h.7M189.2 662.0h.7M190.1 667.0h.7M193.6 649.4h.7M189.7 663.5h.7M190.8 646.6h.7M193.6 653.1h.7M190.6 668.7h.7M200.3 664.1h.7M185.4 640.5h.7M187.5 654.5h.7M194.7 664.3h.7M194.1 674.0h.7M194.3 668.3h.7M191.8 644.6h.7M195.9 659.3h.7M195.7 660.3h.7M198.4 657.2h.7M193.5 665.8h.7M192.8 654.7h.7M194.2 641.7h.7M195.3 648.0h.7M193.6 652.7h.7M196.3 667.6h.7M199.6 657.9h.7M200.9 644.0h.7M199.0 669.0h.7M190.2 661.9h.7M190.8 652.2h.7M195.4 656.1h.7M194.2 643.0h.7M192.5 661.7h.7M194.9 657.9h.7M185.7 649.0h.7M202.6 668.4h.7M195.1 643.9h.7M194.0 665.6h.7M195.1 662.4h.7M188.6 658.2h.7M197.8 651.2h.7M191.8 666.6h.7M194.2 653.3h.7M193.5 655.9h.7M189.1 651.8h.7M202.6 652.8h.7M199.4 658.3h.7M194.8 662.0h.7M198.9 662.3h.7M192.6 656.0h.7M198.8 651.8h.7M205.2 642.2h.7M190.1 646.8h.7M197.6 651.9h.7M199.4 652.7h.7M192.2 650.6h.7M196.1 668.0h.7M193.7 658.4h.7M192.1 652.8h.7M197.8 662.2h.7M191.2 650.4h.7M202.0 644.0h.7M197.4 648.7h.7M198.2 670.1h.7M191.7 660.1h.7M189.9 659.6h.7M197.3 656.5h.7M198.4 657.7h.7M197.2 655.3h.7M182.5 643.4h.7M196.2 659.4h.7M195.3 667.1h.7M193.9 651.2h.7M193.0 665.7h.7M198.6 674.1h.7M199.4 668.2h.7M191.8 667.3h.7M193.6 658.6h.7M195.9 658.2h.7M195.1 654.3h.7M191.5 656.2h.7M201.4 662.8h.7M191.9 670.7h.7M194.5 642.5h.7M190.1 638.6h.7M198.8 656.5h.7M193.3 657.5h.7M195.6 670.3h.7M191.3 656.0h.7M194.3 668.6h.7M190.3 657.9h.7M198.0 650.0h.7M194.9 651.3h.7M201.9 650.1h.7M201.2 653.5h.7M189.1 657.0h.7M189.9 647.1h.7M198.7 661.1h.7M203.9 655.4h.7M194.0 650.1h.7M200.1 651.2h.7M194.5 657.4h.7M186.4 654.3h.7M196.0 659.9h.7M191.3 659.4h.7M183.1 652.0h.7M196.4 663.2h.7M202.8 661.6h.7M194.7 661.6h.7M203.1 658.4h.7M199.6 665.6h.7M189.9 652.7h.7M195.5 646.4h.7M194.0 667.2h.7M196.2 655.0h.7M193.5 659.3h.7M194.7 647.2h.7M197.2 644.1h.7M190.7 665.8h.7M195.1 661.4h.7M194.4 644.1h.7M195.2 641.0h.7M206.5 643.5h.7M197.6 654.1h.7M189.1 663.1h.7M193.9 647.8h.7M183.5 653.1h.7M203.9 667.5h.7M188.0 665.8h.7M196.2 659.7h.7M200.6 645.5h.7M191.9 671.1h.7M193.4 653.3h.7M188.9 655.0h.7M199.1 671.3h.7M198.9 655.8h.7M194.0 663.8h.7M195.1 653.5h.7M186.0 649.4h.7M194.3 653.9h.7M194.7 665.4h.7M184.7 659.1h.7M194.7 641.1h.7M196.7 655.3h.7M186.7 656.5h.7M197.2 653.2h.7M197.9 650.3h.7M195.8 655.8h.7M197.8 646.5h.7M206.7 643.6h.7M202.2 657.2h.7M195.6 665.4h.7M191.7 644.2h.7M200.6 673.1h.7M207.9 661.7h.7M183.4 660.6h.7M199.7 659.4h.7M199.0 664.7h.7M198.8 655.1h.7M189.0 650.9h.7M198.7 666.8h.7M202.4 660.5h.7M190.9 661.7h.7M190.3 661.7h.7M190.8 663.0h.7M198.9 651.6h.7M197.9 661.4h.7M194.0 658.1h.7M195.4 642.2h.7M193.4 677.3h.7M198.1 641.4h.7M197.6 661.6h.7M196.7 662.7h.7M200.9 673.9h.7M202.6 658.6h.7M187.4 642.3h.7M199.3 659.2h.7M195.5 668.6h.7M190.2 646.4h.7M192.0 658.0h.7M190.4 656.9h.7M194.1 655.2h.7M194.4 643.4h.7M198.6 664.3h.7M187.0 651.8h.7M197.6 658.2h.7M188.0 656.4h.7M191.9 667.3h.7M198.9 668.9h.7M191.9 661.7h.7M192.2 662.1h.7M194.9 647.7h.7M192.2 654.8h.7M199.3 644.7h.7M207.3 659.8h.7M196.4 659.2h.7M193.6 655.8h.7M202.0 644.4h.7M197.2 664.7h.7M201.7 642.8h.7M197.3 641.2h.7M193.0 657.4h.7M195.8 654.0h.7M198.4 663.9h.7M196.6 649.8h.7M193.7 659.6h.7M198.7 657.6h.7M189.5 652.1h.7M196.5 644.7h.7M194.2 652.4h.7M199.6 665.5h.7M190.7 668.5h.7M203.1 652.3h.7M194.6 651.4h.7M191.9 643.6h.7M182.5 657.5h.7M203.2 646.2h.7M198.2 650.6h.7M196.1 654.3h.7M197.7 660.7h.7M198.4 663.1h.7M201.8 647.3h.7M192.8 665.8h.7M191.0 665.0h.7M196.2 666.3h.7M196.7 655.7h.7M195.9 642.4h.7M197.8 657.4h.7M200.4 660.9h.7M190.9 656.6h.7M198.0 657.0h.7M200.2 657.2h.7M196.4 644.2h.7M199.2 666.7h.7M192.7 648.5h.7M194.2 672.4h.7M204.4 657.9h.7M191.0 650.8h.7M189.7 648.6h.7M198.2 658.9h.7M193.4 660.1h.7M197.9 671.5h.7M192.0 671.0h.7M201.3 651.2h.7M198.7 652.9h.7M201.5 660.6h.7M193.8 666.9h.7M197.2 650.0h.7M195.6 665.8h.7M197.1 652.5h.7M195.0 663.2h.7M202.9 652.7h.7M198.8 663.8h.7M201.0 669.9h.7M191.1 657.1h.7M197.3 662.5h.7M200.7 664.2h.7M192.0 647.5h.7M195.9 661.8h.7M188.9 654.3h.7M197.1 657.6h.7M200.5 648.5h.7M197.4 655.4h.7M205.3 642.7h.7M201.2 643.5h.7M198.0 658.2h.7M189.8 649.8h.7M196.7 664.1h.7M197.2 646.3h.7M193.4 670.2h.7M194.6 638.4h.7M191.7 644.5h.7M189.2 666.0h.7M192.6 651.6h.7M195.9 653.3h.7M192.7 642.5h.7M191.5 660.7h.7M197.6 651.5h.7M189.5 648.4h.7M197.5 651.8h.7M194.6 663.5h.7M189.1 648.7h.7M191.3 668.1h.7M193.5 653.2h.7M187.9 662.5h.7M196.1 657.0h.7M194.4 640.7h.7M197.1 665.4h.7M193.1 656.7h.7M198.4 650.0h.7M195.8 667.8h.7M189.4 671.9h.7M200.1 643.6h.7M188.9 659.9h.7M196.2 650.0h.7M201.9 665.1h.7M199.9 642.1h.7M193.6 674.4h.7M188.4 658.6h.7M198.1 663.1h.7M193.4 642.1h.7M193.2 665.4h.7M199.5 652.0h.7M198.2 663.7h.7M191.9 649.8h.7M194.8 657.9h.7M204.4 659.6h.7M194.4 667.7h.7M192.8 647.9h.7M195.5 646.9h.7M184.0 659.1h.7M190.9 672.1h.7M196.3 691.6h.7M196.2 677.7h.7M189.3 676.1h.7M196.0 689.3h.7M200.4 688.6h.7M194.3 672.8h.7M191.5 683.7h.7M190.1 678.4h.7M198.9 683.7h.7M196.0 670.9h.7M197.6 684.3h.7M198.9 678.2h.7M194.0 670.3h.7M189.3 681.6h.7M195.7 678.3h.7M191.8 693.8h.7M189.7 685.4h.7M193.8 681.4h.7M196.0 673.7h.7M199.4 681.1h.7M196.3 680.3h.7M192.0 703.4h.7M194.0 675.7h.7M206.5 670.8h.7M198.9 701.2h.7M197.7 684.3h.7M197.5 666.7h.7M199.5 691.0h.7M196.3 673.0h.7M198.5 692.9h.7M197.0 673.8h.7M197.0 673.8h.7M188.1 685.8h.7M192.2 664.7h.7M197.3 680.0h.7M196.4 687.5h.7M194.0 682.5h.7M197.8 687.6h.7M191.7 674.0h.7M200.3 697.1h.7M197.0 682.5h.7M188.0 691.8h.7M197.1 674.6h.7M198.5 676.4h.7M194.8 680.8h.7M198.5 697.8h.7M196.4 673.1h.7M197.3 674.8h.7M191.2 671.1h.7M193.2 661.1h.7M196.2 674.1h.7M200.3 668.9h.7M194.3 669.0h.7M195.0 676.6h.7M199.2 682.7h.7M197.5 673.2h.7M194.7 672.9h.7M192.2 671.6h.7M192.9 677.8h.7M187.8 682.3h.7M193.9 678.7h.7M186.5 674.1h.7M194.1 671.5h.7M196.8 679.1h.7M196.7 684.1h.7M199.0 683.7h.7M196.6 676.0h.7M196.9 687.7h.7M194.4 680.7h.7M196.4 682.6h.7M189.0 680.3h.7M196.5 667.3h.7M195.6 681.8h.7M187.6 697.5h.7M197.2 691.2h.7M194.5 682.0h.7M191.3 677.7h.7M194.8 685.2h.7M202.5 664.7h.7M194.5 690.7h.7M194.6 668.3h.7M202.1 695.1h.7M199.6 682.9h.7M196.0 677.9h.7M199.1 689.2h.7M190.2 691.7h.7M194.0 683.0h.7M195.2 683.9h.7M196.4 694.2h.7M193.6 684.0h.7M200.5 692.0h.7M188.4 694.2h.7M201.0 687.9h.7M193.1 663.9h.7M196.1 683.8h.7M188.0 678.1h.7M194.5 679.7h.7M201.6 664.9h.7M194.5 673.9h.7M199.2 694.0h.7M203.1 678.4h.7M206.3 683.2h.7M206.7 670.2h.7M191.4 679.1h.7M193.7 662.5h.7M196.1 660.3h.7M192.4 683.4h.7M189.6 679.5h.7M193.5 674.7h.7M198.5 670.8h.7M200.3 667.6h.7M197.8 676.2h.7M195.9 670.9h.7M193.5 676.9h.7M195.2 678.8h.7M203.5 681.7h.7M189.6 690.0h.7M199.4 665.5h.7M203.2 680.4h.7M196.7 676.8h.7M194.4 679.9h.7M197.2 692.5h.7M199.2 684.9h.7M195.4 671.1h.7M193.0 688.5h.7M197.6 674.2h.7M195.5 694.6h.7M198.6 684.5h.7M202.1 681.7h.7M190.1 679.1h.7M194.4 686.5h.7M194.7 678.1h.7M195.5 674.2h.7M191.4 666.7h.7M198.3 680.8h.7M194.6 684.5h.7M197.3 660.5h.7M194.1 662.5h.7M203.2 670.3h.7M201.6 673.8h.7M193.3 671.1h.7M186.8 692.2h.7M188.0 676.5h.7M193.1 679.3h.7M201.1 664.0h.7M195.9 674.1h.7M196.6 678.5h.7M192.2 691.5h.7M196.1 677.7h.7M195.0 676.5h.7M197.8 681.4h.7M194.0 674.9h.7M186.5 670.7h.7M196.2 681.3h.7M192.2 693.9h.7M200.2 674.1h.7M199.4 669.5h.7M197.5 678.9h.7M187.4 690.8h.7M187.4 683.2h.7M194.9 688.9h.7M199.8 682.2h.7M181.5 670.0h.7M207.2 686.7h.7M191.4 690.7h.7M201.7 679.2h.7M197.8 688.4h.7M204.4 673.2h.7M197.0 667.1h.7M199.2 676.9h.7M185.0 687.8h.7M200.1 697.5h.7M197.0 665.1h.7M188.9 692.1h.7M196.0 669.6h.7M194.5 675.5h.7M201.3 687.9h.7M190.7 683.6h.7M200.6 675.4h.7M195.0 670.7h.7M198.5 666.6h.7M194.0 679.5h.7M194.0 684.7h.7M196.1 685.9h.7M200.7 690.3h.7M207.5 675.5h.7M201.3 673.5h.7M192.7 674.3h.7M198.2 674.7h.7M193.5 678.1h.7M195.1 698.3h.7M195.5 677.1h.7M195.8 673.0h.7M191.6 680.8h.7M198.3 676.2h.7M193.0 688.7h.7M188.0 668.5h.7M195.6 698.2h.7M193.7 694.2h.7M195.0 660.8h.7M202.9 687.6h.7M192.7 676.0h.7M201.6 680.6h.7M200.5 687.5h.7M194.3 677.8h.7M199.6 699.6h.7M196.7 667.9h.7M196.9 668.5h.7M195.6 683.6h.7M193.6 675.1h.7M193.0 684.1h.7M198.3 679.6h.7M193.9 665.5h.7M186.0 677.4h.7M199.1 663.8h.7M196.5 682.2h.7M199.1 688.5h.7M195.7 694.7h.7M196.5 668.4h.7M194.4 680.6h.7M200.2 681.8h.7M196.7 669.7h.7M194.0 684.9h.7M187.4 686.4h.7M198.4 675.1h.7M197.7 687.8h.7M199.3 689.5h.7M192.4 676.3h.7M190.8 663.1h.7M198.8 682.9h.7M189.4 686.2h.7M197.8 676.7h.7M179.2 678.2h.7M193.6 688.0h.7M195.1 674.3h.7M198.6 687.5h.7M201.4 688.0h.7M188.7 678.0h.7M197.9 666.6h.7M191.4 671.2h.7M197.5 670.2h.7M200.6 685.0h.7M201.2 679.5h.7M198.6 670.7h.7M192.3 683.1h.7M196.0 686.4h.7M197.9 683.0h.7M185.3 694.7h.7M191.9 689.2h.7M190.9 687.4h.7M199.9 676.2h.7M193.6 668.8h.7M193.3 678.4h.7M192.0 669.5h.7M185.1 675.0h.7M195.7 694.2h.7M191.0 667.2h.7M195.0 679.3h.7M202.2 689.1h.7M196.7 682.7h.7M195.5 685.5h.7M201.3 656.3h.7M193.8 687.6h.7M190.1 665.3h.7M198.3 669.9h.7M192.4 682.5h.7M201.6 668.6h.7M199.2 679.5h.7M191.7 683.5h.7M193.2 677.7h.7M205.1 683.4h.7M196.8 690.1h.7M186.7 693.4h.7M197.3 681.2h.7M191.8 688.0h.7M193.3 673.2h.7M188.6 691.0h.7M192.0 675.5h.7M197.3 685.1h.7M202.6 674.9h.7M189.9 676.4h.7M191.5 672.9h.7M190.8 683.3h.7M199.7 685.1h.7M185.8 662.7h.7M200.3 666.8h.7M199.4 671.4h.7M193.8 702.3h.7M198.2 676.2h.7M204.4 676.0h.7M192.4 684.4h.7M202.0 686.0h.7M203.3 691.8h.7M201.5 682.7h.7M194.1 673.7h.7M195.1 674.6h.7M194.3 664.5h.7M186.9 703.7h.7M202.8 680.9h.7M199.9 687.0h.7M195.2 669.4h.7M200.7 684.8h.7M190.4 686.0h.7M194.6 699.6h.7M184.6 684.4h.7M191.2 680.1h.7M187.2 681.9h.7M194.7 665.2h.7M197.2 681.4h.7M190.5 689.7h.7M194.4 680.3h.7M200.7 667.7h.7M195.9 686.5h.7M189.0 694.8h.7M198.5 672.2h.7M202.4 677.3h.7M192.7 671.0h.7M198.2 678.7h.7M196.6 682.6h.7M194.3 679.8h.7M194.4 685.3h.7M197.2 671.1h.7M193.0 670.8h.7M196.2 692.2h.7M195.3 694.0h.7M188.0 681.4h.7M200.4 670.9h.7M194.4 678.7h.7M194.2 674.4h.7M212.7 666.2h.7M196.8 672.5h.7M196.3 680.1h.7M196.7 676.5h.7M195.7 676.3h.7M195.3 676.9h.7M195.3 691.7h.7M199.7 661.2h.7M193.7 665.9h.7M202.1 675.8h.7M205.0 679.2h.7M191.4 688.9h.7M183.1 690.0h.7M199.8 679.2h.7M188.7 668.9h.7M194.6 660.7h.7M194.9 685.6h.7M189.7 669.0h.7M201.5 678.3h.7M193.5 682.2h.7M188.2 679.2h.7M197.2 693.2h.7M197.9 665.4h.7M200.2 671.7h.7M194.5 688.4h.7M199.1 673.9h.7M188.4 689.6h.7M195.8 682.4h.7M197.7 680.4h.7M203.7 680.3h.7M200.7 686.9h.7M192.1 682.6h.7M194.4 678.8h.7M198.3 679.8h.7M191.3 692.4h.7M194.3 694.1h.7M197.1 688.0h.7M195.5 668.1h.7M195.2 679.4h.7M194.2 662.7h.7M196.9 675.9h.7M192.7 686.8h.7M199.5 672.1h.7M191.6 684.9h.7M198.4 685.0h.7M194.9 695.2h.7M195.9 675.9h.7M190.6 686.9h.7M193.5 684.0h.7M199.5 676.7h.7M199.8 690.3h.7M195.4 670.6h.7M188.6 670.4h.7M190.8 675.7h.7M198.2 682.4h.7M193.8 688.6h.7M194.8 697.4h.7M194.3 683.9h.7M191.0 685.3h.7M198.0 683.8h.7M198.1 693.5h.7M201.7 677.3h.7M191.2 677.0h.7M194.5 690.9h.7M190.8 671.7h.7M197.3 674.4h.7M194.3 673.7h.7M202.4 681.9h.7M191.8 685.8h.7M197.8 689.3h.7M194.7 681.6h.7M191.2 684.8h.7M189.8 682.3h.7M200.8 688.4h.7M188.4 681.0h.7M196.1 680.3h.7M198.3 694.3h.7M198.2 692.3h.7M190.6 690.8h.7M201.3 671.4h.7M193.0 664.5h.7M195.1 682.4h.7M204.1 674.1h.7M193.1 677.8h.7M200.5 679.1h.7M195.6 671.2h.7M198.2 676.8h.7M192.3 678.1h.7M194.3 681.0h.7M199.5 691.2h.7M206.5 682.3h.7M198.5 692.2h.7M192.3 681.7h.7M196.3 698.3h.7M199.5 671.0h.7M185.3 682.4h.7M189.5 671.5h.7M189.9 678.0h.7M192.6 695.7h.7M194.8 687.2h.7M186.8 690.5h.7M190.8 679.6h.7M194.6 688.6h.7M193.9 686.5h.7M194.9 682.7h.7M202.3 696.0h.7M192.4 681.1h.7M197.6 676.9h.7M205.0 675.9h.7M194.9 683.5h.7M199.5 672.7h.7M189.9 681.6h.7M200.1 670.6h.7M194.2 672.5h.7M191.0 679.0h.7M190.2 680.4h.7M199.6 680.3h.7M199.4 686.2h.7M193.8 674.3h.7M196.2 677.5h.7M193.0 667.7h.7M202.9 687.5h.7M207.3 681.3h.7M198.3 685.8h.7M184.5 676.6h.7M202.1 682.7h.7M199.9 682.7h.7M197.8 677.0h.7M193.5 665.6h.7M187.5 690.7h.7M192.2 674.5h.7M197.7 687.7h.7M196.7 686.3h.7M197.6 672.5h.7M205.4 689.6h.7M191.1 674.9h.7M189.8 683.3h.7M193.4 659.9h.7M204.4 686.0h.7M195.6 690.4h.7M195.1 687.2h.7M192.5 689.1h.7M189.7 698.4h.7M197.4 687.1h.7M199.7 680.1h.7M195.5 675.5h.7M194.7 681.9h.7M197.7 676.0h.7M192.5 688.3h.7M188.0 696.2h.7M193.2 683.3h.7M200.1 700.7h.7M192.6 666.4h.7M193.4 663.2h.7M189.5 661.9h.7M198.2 678.6h.7M195.0 685.9h.7M197.5 667.3h.7M198.5 674.5h.7M189.4 676.1h.7M189.5 672.2h.7M187.3 672.7h.7M194.3 675.0h.7M199.2 675.7h.7M193.2 687.3h.7M198.5 681.8h.7M194.8 672.6h.7M188.6 682.4h.7M200.2 690.3h.7M206.1 680.4h.7M196.5 681.5h.7M197.3 668.4h.7M191.9 680.5h.7M192.9 687.4h.7M189.6 694.5h.7M189.0 678.7h.7M186.4 682.4h.7M198.2 681.2h.7M190.7 688.5h.7M194.0 669.8h.7M196.9 684.9h.7M200.3 679.0h.7M192.1 677.0h.7M190.4 683.8h.7M193.0 677.3h.7M195.9 685.5h.7M201.5 684.5h.7M190.1 691.0h.7M205.4 681.1h.7M194.7 668.8h.7M193.9 669.5h.7M200.7 663.8h.7M192.5 684.8h.7M190.0 672.1h.7M202.8 661.0h.7M192.4 698.7h.7M199.3 665.3h.7M191.6 665.2h.7M197.9 673.2h.7M192.8 668.2h.7M199.4 652.7h.7M187.3 683.2h.7M188.7 689.5h.7M194.5 687.4h.7M195.3 681.0h.7M194.3 682.9h.7M187.3 665.6h.7M198.4 689.4h.7M195.7 669.6h.7M193.3 687.7h.7M197.6 669.0h.7M202.0 664.0h.7M191.9 659.9h.7M196.6 698.4h.7M194.7 675.6h.7M193.3 677.8h.7M197.5 685.8h.7M196.1 691.9h.7M187.3 676.6h.7M196.2 677.6h.7M203.0 679.3h.7M189.5 678.5h.7M199.8 694.1h.7M196.1 687.1h.7M196.7 678.4h.7M186.4 686.5h.7M190.4 686.1h.7M198.0 680.7h.7M202.6 681.4h.7M201.4 673.2h.7M194.8 702.3h.7M199.3 667.4h.7M198.9 677.8h.7M199.2 668.1h.7M198.5 683.0h.7M195.9 670.6h.7M194.9 693.0h.7M201.9 673.4h.7M195.1 693.0h.7M199.9 674.5h.7M200.0 679.0h.7M195.2 672.7h.7M198.4 684.1h.7M199.7 684.2h.7M194.7 671.9h.7M192.0 684.1h.7M193.3 683.3h.7M188.2 679.4h.7M195.2 675.6h.7M193.4 672.7h.7M187.7 696.2h.7M194.1 685.6h.7M204.1 677.7h.7M199.1 698.4h.7M199.7 677.1h.7M191.5 677.4h.7M191.9 679.5h.7M201.6 675.5h.7M201.9 692.5h.7M193.8 683.7h.7M199.6 668.0h.7M194.1 673.6h.7M190.9 691.1h.7M193.8 679.0h.7M198.4 688.5h.7M195.3 681.1h.7M200.9 678.3h.7M198.4 678.4h.7M198.3 682.2h.7M200.9 681.5h.7M195.9 667.5h.7M187.6 698.7h.7M200.2 665.0h.7M203.5 668.7h.7M196.5 690.3h.7M204.7 695.9h.7M197.1 679.4h.7M193.9 671.7h.7M191.7 667.3h.7M197.8 680.0h.7M190.9 693.9h.7M185.0 682.4h.7M194.8 675.0h.7M184.9 684.5h.7M197.7 671.4h.7M200.5 676.3h.7M198.6 675.5h.7M193.6 677.2h.7M197.5 677.2h.7M202.5 682.7h.7M193.3 670.9h.7M187.7 692.6h.7M203.5 684.4h.7M196.6 671.1h.7M198.4 676.6h.7M198.9 674.5h.7M208.3 683.5h.7M194.0 687.5h.7M193.3 671.2h.7M195.4 676.3h.7M201.5 691.6h.7M201.9 685.5h.7M205.1 692.8h.7M199.6 691.8h.7M198.7 691.6h.7M189.6 675.3h.7M207.1 678.4h.7M192.8 678.3h.7M195.4 686.3h.7M197.4 667.8h.7M200.3 694.4h.7M202.9 689.4h.7M201.4 681.7h.7M194.7 680.8h.7M190.4 675.3h.7M194.1 682.9h.7M195.6 690.3h.7M199.1 671.8h.7M188.3 639.7h.7M199.9 628.6h.7M201.7 644.8h.7M188.8 629.7h.7M203.3 637.7h.7M191.8 628.2h.7M197.4 631.2h.7M194.0 638.4h.7M188.1 636.5h.7M202.9 642.7h.7M190.8 638.2h.7M184.8 632.5h.7M203.7 645.7h.7M203.9 630.8h.7M201.7 630.0h.7M192.9 638.8h.7M191.9 634.4h.7M196.4 632.0h.7M208.9 636.0h.7M200.6 627.2h.7M199.4 640.8h.7M197.8 633.4h.7M208.1 633.1h.7M195.0 639.0h.7M204.7 624.4h.7M198.1 639.9h.7M187.9 636.8h.7M204.3 638.5h.7M201.1 643.0h.7M192.9 633.9h.7M201.1 637.2h.7M188.7 645.6h.7M195.4 638.8h.7M190.4 632.8h.7M203.7 627.9h.7M199.2 634.2h.7M193.6 642.1h.7M191.6 637.2h.7M196.9 640.4h.7M197.8 641.3h.7M197.5 633.9h.7M200.1 622.6h.7M193.3 627.6h.7M186.4 644.1h.7M205.9 629.7h.7M202.3 641.0h.7M196.0 640.0h.7M188.1 632.0h.7M196.3 626.8h.7M202.2 644.2h.7M200.7 635.1h.7M186.5 643.8h.7M202.7 634.2h.7M200.2 628.5h.7M202.5 634.8h.7M192.3 636.3h.7M207.9 635.7h.7M198.5 643.4h.7M198.1 638.0h.7M196.3 632.1h.7M206.5 630.2h.7M203.4 629.2h.7M192.8 643.8h.7M190.2 635.5h.7M198.0 643.3h.7M192.7 639.4h.7M196.9 641.5h.7M187.3 641.5h.7M192.6 630.6h.7M200.4 628.6h.7M193.5 630.8h.7M186.6 629.9h.7M199.6 634.2h.7M195.1 630.8h.7M204.6 633.4h.7M200.7 647.5h.7M198.2 633.0h.7M206.8 639.9h.7M202.4 627.9h.7M188.3 628.2h.7M191.6 651.5h.7M193.6 643.7h.7M195.0 638.1h.7M202.0 632.6h.7M187.2 629.2h.7M204.2 632.4h.7M188.0 649.5h.7M191.7 630.7h.7M199.2 629.3h.7M196.9 632.9h.7M196.4 634.9h.7M195.1 635.3h.7M198.7 633.5h.7M203.9 630.8h.7M200.9 633.0h.7M191.3 652.5h.7M195.2 640.7h.7M204.5 625.4h.7M193.5 645.7h.7M206.1 644.7h.7M202.0 640.6h.7M194.6 638.3h.7M202.6 649.2h.7M204.6 626.1h.7M197.8 635.2h.7M199.3 630.5h.7M193.1 645.0h.7M196.2 629.7h.7M204.0 641.2h.7M193.5 626.7h.7M197.5 645.0h.7M194.1 633.6h.7M192.3 629.3h.7M186.8 629.3h.7M183.1 631.8h.7M202.0 634.1h.7M200.4 636.4h.7M191.6 628.1h.7M187.5 645.9h.7M193.3 638.8h.7M203.8 631.0h.7M188.5 641.2h.7M199.9 643.8h.7M192.8 638.6h.7M190.7 626.4h.7M201.7 635.8h.7M208.1 633.5h.7M196.6 626.3h.7M189.5 636.3h.7M200.0 629.6h.7M192.2 631.2h.7M190.9 638.8h.7M206.3 623.1h.7M203.7 639.9h.7M198.2 628.8h.7M196.1 644.3h.7M190.0 632.5h.7M189.8 627.1h.7M187.0 652.3h.7M187.2 653.0h.7M189.1 621.2h.7M189.4 639.6h.7M206.8 619.2h.7M199.1 638.1h.7M196.7 632.6h.7M189.0 635.7h.7M191.1 634.8h.7M197.6 632.3h.7M198.5 627.5h.7M187.4 637.0h.7M197.2 640.1h.7M204.7 633.1h.7M197.4 644.7h.7M195.2 630.7h.7M185.7 640.9h.7M201.6 643.7h.7M203.1 627.6h.7M205.8 639.3h.7M184.8 631.3h.7M192.5 632.4h.7M201.6 653.1h.7M187.2 640.1h.7M195.9 636.0h.7M189.6 627.9h.7M198.5 638.1h.7M188.8 633.2h.7M202.6 635.0h.7M187.1 634.7h.7M206.4 651.5h.7M205.8 640.6h.7M202.8 637.7h.7M203.9 639.4h.7M194.6 629.2h.7M192.7 640.6h.7M194.4 636.3h.7M187.2 629.6h.7M197.1 641.6h.7M200.9 620.4h.7M192.9 634.5h.7M199.0 632.0h.7M187.9 628.0h.7M191.9 632.2h.7M202.9 634.7h.7M190.4 640.7h.7M203.5 642.3h.7M198.6 639.8h.7M200.8 644.9h.7M200.1 621.5h.7M196.2 625.7h.7M198.4 637.4h.7M201.5 628.5h.7M190.4 635.3h.7M192.9 639.8h.7M199.1 646.4h.7M201.6 640.6h.7M192.6 639.5h.7M207.0 638.4h.7M191.7 630.7h.7M199.1 632.9h.7M190.9 627.6h.7M203.2 635.7h.7M198.6 637.3h.7M192.9 629.1h.7M185.0 640.3h.7M190.3 630.6h.7M207.4 646.4h.7M203.5 636.1h.7M200.1 630.9h.7M199.5 641.0h.7M194.7 645.5h.7M198.9 637.3h.7M205.8 635.8h.7M200.4 629.3h.7M206.7 629.3h.7M193.1 626.5h.7M187.6 634.2h.7M204.1 647.9h.7M195.6 634.2h.7M209.0 625.8h.7M198.7 637.7h.7M203.6 635.9h.7M189.6 642.7h.7M193.8 639.6h.7M201.0 624.7h.7M199.0 637.1h.7M190.3 636.8h.7M200.8 630.1h.7M202.8 644.2h.7M202.8 636.2h.7M192.1 632.3h.7M206.1 634.7h.7M188.2 640.6h.7M204.1 643.8h.7M205.8 639.2h.7M206.4 636.1h.7M188.2 639.5h.7M204.6 629.4h.7M193.2 634.9h.7M192.9 632.7h.7M205.7 632.9h.7M202.8 649.4h.7M191.5 640.8h.7M202.0 636.0h.7M186.6 623.4h.7M205.0 642.2h.7M202.5 636.6h.7M190.3 632.0h.7M191.7 632.2h.7M191.8 637.8h.7M194.5 622.9h.7M201.0 628.4h.7M185.3 639.5h.7M199.0 632.1h.7M190.8 631.5h.7M201.9 629.8h.7M201.2 645.5h.7M199.7 631.3h.7M191.6 636.9h.7M189.9 640.7h.7M200.7 632.7h.7M203.3 630.8h.7M200.5 650.2h.7M198.5 639.9h.7M206.3 641.6h.7M193.2 632.3h.7M196.5 654.1h.7M206.3 640.5h.7M201.4 629.4h.7M205.0 625.5h.7M204.7 643.6h.7M184.9 628.7h.7M196.4 644.5h.7M190.7 624.4h.7M185.9 632.4h.7M194.2 645.8h.7M196.6 633.3h.7M206.7 640.4h.7M191.6 635.5h.7M191.3 643.3h.7M206.8 636.6h.7M194.5 635.9h.7M186.9 643.0h.7M193.2 634.3h.7M201.7 638.9h.7M203.5 652.9h.7M199.8 635.4h.7M192.6 644.0h.7M205.2 632.6h.7M186.5 630.7h.7M203.5 634.9h.7M198.5 642.7h.7M187.8 643.8h.7M204.5 640.0h.7M201.7 633.6h.7M199.7 639.8h.7M193.7 635.7h.7M189.0 648.2h.7M196.6 640.6h.7M196.7 637.6h.7M202.2 636.2h.7M189.3 633.4h.7M196.5 636.6h.7M194.7 648.6h.7M196.7 627.3h.7M200.9 639.4h.7M193.6 640.1h.7M204.8 628.0h.7M194.9 641.5h.7M202.5 640.8h.7M200.8 626.2h.7M206.1 643.0h.7M191.0 634.2h.7M190.6 632.8h.7M196.6 630.4h.7M186.5 636.5h.7M197.0 643.9h.7M198.1 631.9h.7M195.2 645.2h.7M190.3 650.1h.7M198.0 643.9h.7M203.1 630.8h.7M203.9 639.3h.7M194.4 633.0h.7M195.8 626.6h.7M194.9 637.7h.7M207.3 622.7h.7M190.1 636.3h.7M188.3 628.5h.7M201.9 625.6h.7M199.9 633.5h.7M188.1 631.6h.7M201.6 644.1h.7M205.6 643.9h.7M192.3 650.0h.7M190.1 637.4h.7M192.7 633.7h.7M191.4 636.2h.7M200.7 643.3h.7M199.4 635.8h.7M200.8 644.4h.7M204.1 634.1h.7M202.6 632.6h.7M203.0 644.7h.7M195.8 641.0h.7M197.9 640.1h.7M205.1 635.7h.7M190.8 634.4h.7M197.5 637.5h.7M196.2 629.7h.7M201.2 634.3h.7M192.2 629.7h.7M193.6 638.2h.7M197.2 629.3h.7M197.1 625.3h.7M204.5 632.8h.7M191.6 629.8h.7M184.3 632.0h.7M190.1 627.0h.7M197.5 653.2h.7M198.6 635.5h.7M190.3 647.2h.7M201.8 639.0h.7M203.6 635.5h.7M202.6 628.4h.7M204.0 642.1h.7M191.2 638.9h.7M200.8 637.2h.7M197.4 636.3h.7M204.0 629.5h.7M186.6 628.9h.7M190.0 636.8h.7M190.2 639.5h.7M196.6 647.3h.7M201.1 623.1h.7M198.1 639.1h.7M203.8 635.5h.7M200.2 630.7h.7M192.8 634.2h.7M194.9 640.4h.7M202.6 633.4h.7M190.1 634.9h.7M200.6 633.9h.7M188.4 635.2h.7M197.7 653.7h.7M206.4 651.3h.7M202.0 643.7h.7M200.4 624.7h.7M207.4 648.5h.7M195.9 634.1h.7M205.3 638.2h.7M193.9 632.8h.7M201.4 639.4h.7M199.2 629.0h.7M191.5 643.4h.7M191.8 639.9h.7M209.9 632.7h.7M202.1 635.3h.7M207.4 630.1h.7M191.4 636.1h.7M191.0 635.0h.7M190.6 632.7h.7M198.7 630.2h.7M190.8 635.7h.7M204.1 633.8h.7M187.2 635.5h.7M200.4 631.5h.7M193.9 645.8h.7M198.7 632.8h.7M200.1 644.3h.7M194.4 636.7h.7M203.2 641.4h.7M193.3 622.5h.7M199.1 648.4h.7M205.6 624.4h.7M190.2 633.1h.7M194.6 631.4h.7M192.4 642.7h.7M195.5 641.4h.7M203.4 629.4h.7M197.7 640.4h.7M194.8 641.9h.7M204.8 632.3h.7M194.5 634.2h.7M198.5 634.8h.7M186.9 635.8h.7M197.5 639.9h.7M188.9 640.7h.7M199.3 632.2h.7M191.3 636.4h.7M185.0 637.9h.7M205.2 636.1h.7M191.2 626.0h.7M185.4 628.3h.7M191.6 631.2h.7M196.7 633.1h.7M194.6 640.5h.7M192.4 629.9h.7M201.9 651.4h.7M206.1 628.1h.7M191.8 636.0h.7M188.7 635.8h.7M188.6 628.6h.7M195.0 642.0h.7M200.9 638.1h.7M207.4 632.4h.7M198.1 633.7h.7M193.9 628.2h.7M194.9 642.5h.7M200.4 636.5h.7M198.3 630.9h.7M195.0 641.5h.7M191.0 623.4h.7M193.4 638.6h.7M194.3 639.6h.7M194.2 635.8h.7M189.9 638.7h.7M202.3 642.4h.7M206.0 642.7h.7M188.1 631.4h.7M196.8 642.0h.7M190.3 633.1h.7M196.9 632.6h.7M207.4 638.8h.7M193.9 632.6h.7M201.7 640.7h.7M201.3 640.0h.7M208.8 640.6h.7M200.3 630.2h.7M189.2 637.7h.7M196.3 641.8h.7M188.0 642.7h.7M189.9 648.5h.7M188.3 643.4h.7M193.5 627.6h.7M205.0 635.4h.7M189.8 637.0h.7M196.8 627.6h.7M205.1 632.6h.7M196.0 628.0h.7M192.6 633.1h.7M201.9 645.8h.7M196.8 636.2h.7M199.8 629.2h.7M197.1 626.0h.7M195.4 632.2h.7M207.8 650.5h.7M197.2 632.8h.7M195.5 633.9h.7M196.0 654.5h.7M189.4 639.2h.7M199.7 632.9h.7M194.8 635.4h.7M201.4 628.6h.7M204.7 642.3h.7M193.7 635.8h.7M187.6 627.4h.7M188.0 627.5h.7M198.7 631.1h.7M201.5 628.8h.7M188.2 637.6h.7M198.9 622.3h.7M201.9 644.5h.7M197.1 642.5h.7M194.8 621.8h.7M195.5 628.2h.7M196.8 636.6h.7M188.4 640.2h.7M202.7 642.4h.7M199.1 635.9h.7M196.9 636.9h.7M191.9 628.9h.7M193.3 639.2h.7M204.8 630.5h.7M193.9 633.9h.7M193.5 631.4h.7M199.2 637.2h.7M193.1 646.3h.7M195.1 639.7h.7M190.0 629.2h.7M205.7 643.6h.7M200.3 643.0h.7M186.9 627.8h.7M196.2 632.1h.7M200.2 642.5h.7M200.1 632.2h.7M205.5 634.0h.7M195.7 643.7h.7M185.0 641.9h.7M199.3 644.7h.7M189.3 630.6h.7M199.9 648.1h.7M201.6 621.0h.7M196.3 638.5h.7M197.8 638.0h.7M203.0 631.1h.7M189.0 626.5h.7M201.6 635.5h.7M201.0 640.5h.7M201.7 630.5h.7M203.5 638.6h.7M199.5 638.3h.7M193.9 633.5h.7M187.2 631.3h.7M203.8 644.9h.7M201.4 629.9h.7M202.3 642.5h.7M197.6 630.7h.7M202.6 634.8h.7M194.6 636.3h.7M189.3 644.7h.7M190.8 633.1h.7M189.8 641.5h.7M205.8 632.2h.7M201.6 645.4h.7M191.9 630.3h.7M192.4 643.3h.7M187.6 643.6h.7M200.0 628.5h.7M201.7 643.9h.7M196.0 630.7h.7M202.6 631.4h.7M203.5 629.2h.7M206.8 630.5h.7M205.1 634.5h.7M204.1 641.1h.7M203.3 649.5h.7M195.9 637.3h.7M186.1 627.8h.7M200.1 641.3h.7M193.9 626.0h.7M189.4 639.5h.7M187.8 631.2h.7M193.7 631.5h.7M188.4 627.0h.7M192.5 642.1h.7M205.4 637.4h.7M195.9 635.4h.7M189.3 624.1h.7M194.1 631.5h.7M190.9 630.9h.7M189.0 643.4h.7M186.1 645.6h.7M209.1 642.2h.7M192.6 646.1h.7M191.4 643.9h.7M205.8 633.5h.7M189.6 637.0h.7M197.0 625.1h.7M195.6 640.2h.7M204.4 640.3h.7M191.0 627.6h.7M188.3 641.8h.7M196.1 634.4h.7M193.6 623.2h.7M196.2 635.1h.7M191.6 641.1h.7M195.1 632.3h.7M205.3 636.3h.7M207.9 638.8h.7M202.4 632.9h.7M203.7 632.2h.7M195.3 625.5h.7M203.7 637.9h.7M191.4 636.6h.7M196.6 647.2h.7M196.0 639.3h.7M188.5 635.0h.7M204.1 627.1h.7M196.2 622.7h.7M196.2 632.6h.7M191.4 632.8h.7M200.4 639.2h.7M195.8 636.0h.7M203.8 636.0h.7M200.3 643.6h.7M202.0 638.1h.7M196.7 638.7h.7M195.1 637.4h.7M185.1 638.9h.7M187.9 635.2h.7M187.6 646.4h.7M193.1 636.8h.7M194.9 640.1h.7M203.0 644.7h.7M190.3 634.2h.7M199.1 632.0h.7M199.7 640.1h.7M193.3 644.7h.7M191.4 647.6h.7M188.1 636.1h.7M193.5 647.2h.7M193.0 634.9h.7M192.3 635.5h.7M189.9 640.3h.7M187.6 635.3h.7M189.8 630.0h.7M190.7 633.2h.7M194.3 654.6h.7M194.7 639.7h.7M188.0 640.4h.7M187.1 629.2h.7M185.9 633.7h.7M203.2 635.0h.7M192.7 637.0h.7M185.3 640.4h.7M199.7 627.0h.7M186.9 637.7h.7M194.2 643.2h.7M197.8 643.7h.7M202.2 617.5h.7M203.4 643.2h.7M187.6 633.0h.7M209.1 631.2h.7M199.8 645.4h.7M192.3 646.5h.7M204.6 633.2h.7M204.2 635.8h.7M199.3 631.5h.7M192.0 632.7h.7M198.6 633.3h.7M193.5 623.9h.7M191.8 634.3h.7M207.9 645.5h.7M200.6 630.7h.7M196.9 632.7h.7M201.5 634.5h.7M201.3 634.2h.7M204.6 634.7h.7M192.1 638.4h.7M203.6 639.4h.7M186.8 637.5h.7M203.8 639.0h.7M193.6 640.8h.7M187.5 644.2h.7M195.2 633.8h.7M195.5 628.0h.7M196.3 643.5h.7M189.5 629.2h.7M197.8 630.3h.7M198.0 638.9h.7M194.5 629.6h.7M197.6 632.3h.7M202.2 640.2h.7M184.9 637.4h.7M203.6 644.0h.7M188.5 638.9h.7M203.5 627.4h.7M192.4 644.2h.7M197.1 641.0h.7M206.7 624.7h.7M194.5 631.8h.7M205.4 634.6h.7M197.9 647.5h.7M200.9 635.6h.7M206.2 636.6h.7M200.2 642.2h.7M202.5 637.6h.7M206.6 633.8h.7M196.1 638.0h.7M189.0 637.7h.7M187.7 640.2h.7M205.3 633.7h.7M208.2 637.1h.7M192.1 640.6h.7M207.2 628.9h.7M191.3 627.3h.7M201.2 646.5h.7M203.2 618.3h.7M200.0 641.0h.7M196.4 628.4h.7M198.6 639.3h.7M203.5 639.8h.7M196.2 629.5h.7M203.6 634.3h.7M205.4 633.6h.7M196.3 634.6h.7M186.1 638.1h.7M189.3 638.9h.7M189.1 638.3h.7M206.8 635.7h.7M189.8 639.3h.7M202.5 644.9h.7M198.5 631.4h.7M191.9 648.8h.7M201.7 641.6h.7M196.9 636.2h.7M200.2 639.2h.7M201.4 636.9h.7M201.1 620.4h.7M202.7 630.9h.7M187.2 628.1h.7M198.3 641.1h.7M189.5 641.1h.7M191.6 648.5h.7M198.0 644.6h.7M185.6 642.2h.7M196.3 643.1h.7M207.1 635.4h.7M199.0 637.6h.7M197.1 643.1h.7M200.7 647.0h.7M201.0 637.1h.7M196.6 634.1h.7M205.9 640.7h.7M187.4 642.6h.7M195.5 632.6h.7M205.7 626.0h.7M202.2 632.6h.7M192.8 639.1h.7M197.0 639.9h.7M201.8 637.8h.7M193.9 647.6h.7M191.6 624.2h.7M195.7 630.7h.7M195.6 639.2h.7M201.5 644.9h.7M185.7 624.6h.7M199.9 650.7h.7M206.6 634.9h.7M189.5 631.9h.7M203.5 630.6h.7M206.6 641.8h.7M191.3 653.7h.7M203.0 634.6h.7M190.1 647.4h.7M193.1 633.7h.7M204.8 641.2h.7M197.8 642.0h.7M195.3 636.2h.7M190.4 628.6h.7M186.7 634.5h.7M188.6 625.0h.7M192.2 633.3h.7M189.7 647.6h.7M196.3 638.6h.7M186.8 632.5h.7M189.3 630.2h.7M188.8 632.0h.7M188.9 622.5h.7M208.1 635.9h.7M203.1 632.0h.7M205.3 635.7h.7M195.0 637.8h.7M191.5 629.9h.7M192.5 645.8h.7M195.5 634.4h.7M196.3 623.0h.7M194.3 642.3h.7M199.2 634.4h.7M189.7 626.1h.7M200.5 640.1h.7M194.4 635.2h.7M208.0 638.2h.7M190.8 625.9h.7M203.2 631.7h.7M187.6 633.8h.7M206.6 630.0h.7M198.1 636.3h.7M203.4 638.9h.7M193.5 639.5h.7M205.2 641.9h.7M198.7 635.8h.7M205.4 632.4h.7M206.0 631.8h.7M209.4 631.0h.7M199.5 633.7h.7M190.9 643.5h.7M187.5 631.8h.7M189.3 646.7h.7M203.5 632.8h.7M202.0 631.2h.7M184.3 633.7h.7M202.1 629.1h.7M197.6 626.0h.7M202.3 628.2h.7M192.7 642.3h.7M201.0 643.0h.7M184.6 622.0h.7M193.1 641.6h.7M187.6 635.1h.7M203.8 635.7h.7M196.4 641.2h.7M191.0 641.8h.7M193.4 642.2h.7M205.2 637.2h.7M190.7 627.7h.7M204.6 642.3h.7M201.2 624.2h.7M204.6 639.4h.7M192.7 630.6h.7M199.9 625.2h.7M199.3 638.3h.7M198.4 634.6h.7M198.1 628.7h.7M201.0 638.0h.7M198.8 631.5h.7M198.7 638.3h.7M195.6 628.2h.7M202.0 638.3h.7M210.0 639.1h.7M200.0 628.2h.7M202.2 644.5h.7M199.6 626.2h.7M192.5 639.0h.7M190.2 630.7h.7M188.1 631.8h.7M192.2 628.5h.7M187.8 634.7h.7M203.2 634.2h.7M196.3 630.5h.7M189.8 638.4h.7M204.3 639.2h.7M200.2 634.3h.7M193.5 638.7h.7M187.0 627.1h.7M203.8 637.4h.7M203.1 636.6h.7M185.6 653.2h.7M193.1 629.9h.7M190.4 638.4h.7M200.9 632.5h.7M188.3 642.7h.7M198.0 638.7h.7M195.7 640.8h.7M194.8 638.7h.7M196.2 625.0h.7M194.9 632.0h.7M204.4 634.6h.7M201.8 631.8h.7M198.2 632.0h.7M194.3 652.3h.7M189.1 630.9h.7M201.7 641.8h.7M188.8 636.3h.7M188.1 635.2h.7M189.6 645.9h.7M195.7 636.1h.7M200.5 628.0h.7M194.9 637.0h.7M197.9 631.4h.7M197.1 646.7h.7M187.6 639.6h.7M201.1 635.4h.7M185.8 638.8h.7M205.6 642.4h.7M203.4 630.3h.7M192.7 635.7h.7M205.5 633.5h.7M199.9 637.8h.7M189.0 634.9h.7M186.1 644.7h.7M204.1 630.1h.7M198.5 642.5h.7M190.6 633.3h.7M204.7 629.7h.7M203.6 635.9h.7M204.9 638.3h.7M195.2 633.0h.7M193.5 628.4h.7M187.6 631.8h.7" stroke="#000" stroke-opacity="0.45" stroke-width="0.7" fill="none" filter="url(#bl)"/>
</g>
</svg>
</body></html>
